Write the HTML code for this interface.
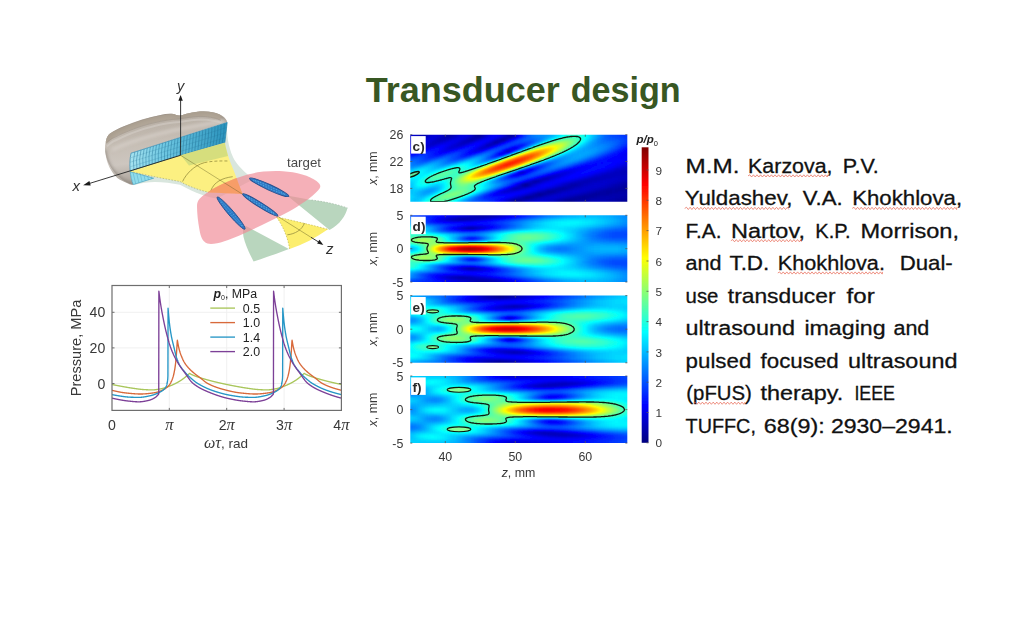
<!DOCTYPE html>
<html><head><meta charset="utf-8"><title>Transducer design</title>
<style>
html,body{margin:0;padding:0;background:#fff}
body{width:1024px;height:639px;overflow:hidden}
svg{display:block;font-family:"Liberation Sans",sans-serif}
</style></head><body>
<svg width="1024" height="639" viewBox="0 0 1024 639">
<rect width="1024" height="639" fill="#fff"/>
<text transform="translate(365.80 101.9) scale(1.0201 1)" font-size="35.3" font-weight="700" fill="#385723">Transducer</text><text transform="translate(570.70 101.9) scale(0.9671 1)" font-size="35.3" font-weight="700" fill="#385723">design</text>
<g font-size="14.1" fill="#383838" filter="url(#soft)">
<line x1="169.3" y1="285.5" x2="169.3" y2="410.4" stroke="#f0f0f0" stroke-width="1"/>
<line x1="226.7" y1="285.5" x2="226.7" y2="410.4" stroke="#f0f0f0" stroke-width="1"/>
<line x1="284.1" y1="285.5" x2="284.1" y2="410.4" stroke="#f0f0f0" stroke-width="1"/>
<line x1="112.0" y1="383.5" x2="341.4" y2="383.5" stroke="#f0f0f0" stroke-width="1"/>
<line x1="112.0" y1="347.9" x2="341.4" y2="347.9" stroke="#f0f0f0" stroke-width="1"/>
<line x1="112.0" y1="312.3" x2="341.4" y2="312.3" stroke="#f0f0f0" stroke-width="1"/>
<clipPath id="cc"><rect x="112.0" y="285.5" width="229.39999999999998" height="124.89999999999998"/></clipPath><g clip-path="url(#cc)" fill="none" stroke-width="1.35" stroke-linejoin="round">
<path d="M112.00 384.47 L112.14 384.50 L112.29 384.53 L112.43 384.56 L112.57 384.59 L112.72 384.62 L112.86 384.65 L113.00 384.68 L113.15 384.71 L113.29 384.74 L113.43 384.76 L113.58 384.79 L113.72 384.82 L113.86 384.85 L114.01 384.88 L114.15 384.91 L114.29 384.94 L114.44 384.97 L114.58 385.00 L114.72 385.03 L114.87 385.06 L115.01 385.09 L115.15 385.12 L115.30 385.14 L115.44 385.17 L115.58 385.20 L115.73 385.23 L115.87 385.26 L116.01 385.29 L116.16 385.32 L116.30 385.35 L116.44 385.37 L116.59 385.40 L116.73 385.43 L116.87 385.46 L117.02 385.49 L117.16 385.51 L117.30 385.54 L117.45 385.57 L117.59 385.60 L117.73 385.63 L117.88 385.65 L118.02 385.68 L118.17 385.71 L118.31 385.74 L118.45 385.76 L118.60 385.79 L118.74 385.82 L118.88 385.85 L119.03 385.87 L119.17 385.90 L119.31 385.93 L119.46 385.96 L119.60 385.98 L119.74 386.01 L119.89 386.04 L120.03 386.06 L120.17 386.09 L120.32 386.12 L120.46 386.14 L120.60 386.17 L120.75 386.20 L120.89 386.22 L121.03 386.25 L121.18 386.28 L121.32 386.30 L121.46 386.33 L121.61 386.36 L121.75 386.38 L121.89 386.41 L122.04 386.43 L122.18 386.46 L122.32 386.49 L122.47 386.51 L122.61 386.54 L122.75 386.57 L122.90 386.59 L123.04 386.62 L123.18 386.64 L123.33 386.67 L123.47 386.70 L123.61 386.72 L123.76 386.75 L123.90 386.77 L124.04 386.80 L124.19 386.83 L124.33 386.85 L124.47 386.88 L124.62 386.90 L124.76 386.93 L124.90 386.96 L125.05 386.98 L125.19 387.01 L125.33 387.03 L125.48 387.06 L125.62 387.08 L125.76 387.11 L125.91 387.13 L126.05 387.16 L126.19 387.18 L126.34 387.21 L126.48 387.23 L126.62 387.26 L126.77 387.28 L126.91 387.31 L127.05 387.33 L127.20 387.36 L127.34 387.38 L127.48 387.40 L127.63 387.43 L127.77 387.45 L127.91 387.48 L128.06 387.50 L128.20 387.53 L128.34 387.55 L128.49 387.57 L128.63 387.60 L128.77 387.62 L128.92 387.64 L129.06 387.67 L129.20 387.69 L129.35 387.71 L129.49 387.74 L129.64 387.76 L129.78 387.78 L129.92 387.80 L130.07 387.83 L130.21 387.85 L130.35 387.87 L130.50 387.89 L130.64 387.92 L130.78 387.94 L130.93 387.96 L131.07 387.98 L131.21 388.00 L131.36 388.02 L131.50 388.04 L131.64 388.07 L131.79 388.09 L131.93 388.11 L132.07 388.13 L132.22 388.15 L132.36 388.17 L132.50 388.19 L132.65 388.21 L132.79 388.23 L132.93 388.25 L133.08 388.27 L133.22 388.30 L133.36 388.32 L133.51 388.34 L133.65 388.36 L133.79 388.38 L133.94 388.40 L134.08 388.42 L134.22 388.44 L134.37 388.46 L134.51 388.49 L134.65 388.51 L134.80 388.53 L134.94 388.55 L135.08 388.57 L135.23 388.59 L135.37 388.61 L135.51 388.63 L135.66 388.66 L135.80 388.68 L135.94 388.70 L136.09 388.72 L136.23 388.74 L136.37 388.76 L136.52 388.78 L136.66 388.80 L136.80 388.82 L136.95 388.84 L137.09 388.86 L137.23 388.88 L137.38 388.90 L137.52 388.92 L137.66 388.94 L137.81 388.96 L137.95 388.98 L138.09 389.00 L138.24 389.02 L138.38 389.04 L138.52 389.05 L138.67 389.07 L138.81 389.09 L138.95 389.11 L139.10 389.13 L139.24 389.14 L139.38 389.16 L139.53 389.18 L139.67 389.20 L139.81 389.21 L139.96 389.23 L140.10 389.25 L140.24 389.26 L140.39 389.28 L140.53 389.29 L140.68 389.31 L140.82 389.32 L140.96 389.34 L141.11 389.35 L141.25 389.37 L141.39 389.38 L141.54 389.40 L141.68 389.41 L141.82 389.42 L141.97 389.43 L142.11 389.45 L142.25 389.46 L142.40 389.47 L142.54 389.48 L142.68 389.49 L142.83 389.50 L142.97 389.51 L143.11 389.52 L143.26 389.53 L143.40 389.54 L143.54 389.55 L143.69 389.56 L143.83 389.57 L143.97 389.58 L144.12 389.59 L144.26 389.60 L144.40 389.60 L144.55 389.61 L144.69 389.62 L144.83 389.63 L144.98 389.64 L145.12 389.65 L145.26 389.66 L145.41 389.66 L145.55 389.67 L145.69 389.68 L145.84 389.69 L145.98 389.70 L146.12 389.71 L146.27 389.71 L146.41 389.72 L146.55 389.73 L146.70 389.74 L146.84 389.74 L146.98 389.75 L147.13 389.76 L147.27 389.77 L147.41 389.77 L147.56 389.78 L147.70 389.79 L147.84 389.80 L147.99 389.80 L148.13 389.81 L148.27 389.81 L148.42 389.82 L148.56 389.83 L148.70 389.83 L148.85 389.84 L148.99 389.84 L149.13 389.85 L149.28 389.85 L149.42 389.86 L149.56 389.86 L149.71 389.87 L149.85 389.87 L149.99 389.88 L150.14 389.88 L150.28 389.88 L150.42 389.89 L150.57 389.89 L150.71 389.89 L150.85 389.90 L151.00 389.90 L151.14 389.90 L151.28 389.90 L151.43 389.90 L151.57 389.91 L151.71 389.91 L151.86 389.91 L152.00 389.91 L152.15 389.91 L152.29 389.91 L152.43 389.91 L152.58 389.90 L152.72 389.90 L152.86 389.90 L153.01 389.89 L153.15 389.89 L153.29 389.88 L153.44 389.87 L153.58 389.86 L153.72 389.86 L153.87 389.85 L154.01 389.84 L154.15 389.82 L154.30 389.81 L154.44 389.80 L154.58 389.79 L154.73 389.77 L154.87 389.76 L155.01 389.74 L155.16 389.73 L155.30 389.71 L155.44 389.70 L155.59 389.68 L155.73 389.66 L155.87 389.64 L156.02 389.62 L156.16 389.60 L156.30 389.58 L156.45 389.56 L156.59 389.54 L156.73 389.52 L156.88 389.50 L157.02 389.48 L157.16 389.46 L157.31 389.44 L157.45 389.41 L157.59 389.39 L157.74 389.37 L157.88 389.34 L158.02 389.32 L158.17 389.29 L158.31 389.27 L158.45 389.25 L158.60 389.22 L158.74 389.20 L158.88 389.17 L159.03 389.15 L159.17 389.12 L159.31 389.10 L159.46 389.07 L159.60 389.04 L159.74 389.02 L159.89 388.99 L160.03 388.97 L160.17 388.94 L160.32 388.92 L160.46 388.89 L160.60 388.87 L160.75 388.84 L160.89 388.81 L161.03 388.79 L161.18 388.76 L161.32 388.73 L161.46 388.70 L161.61 388.67 L161.75 388.64 L161.89 388.61 L162.04 388.57 L162.18 388.54 L162.32 388.50 L162.47 388.47 L162.61 388.43 L162.75 388.40 L162.90 388.36 L163.04 388.32 L163.18 388.28 L163.33 388.24 L163.47 388.20 L163.62 388.16 L163.76 388.12 L163.90 388.07 L164.05 388.03 L164.19 387.99 L164.33 387.94 L164.48 387.90 L164.62 387.85 L164.76 387.81 L164.91 387.76 L165.05 387.71 L165.19 387.67 L165.34 387.62 L165.48 387.57 L165.62 387.52 L165.77 387.47 L165.91 387.42 L166.05 387.37 L166.20 387.32 L166.34 387.27 L166.48 387.22 L166.63 387.17 L166.77 387.12 L166.91 387.07 L167.06 387.02 L167.20 386.96 L167.34 386.91 L167.49 386.86 L167.63 386.81 L167.77 386.75 L167.92 386.70 L168.06 386.65 L168.20 386.60 L168.35 386.54 L168.49 386.49 L168.63 386.44 L168.78 386.38 L168.92 386.33 L169.06 386.28 L169.21 386.22 L169.35 386.17 L169.49 386.12 L169.64 386.06 L169.78 386.01 L169.92 385.95 L170.07 385.90 L170.21 385.84 L170.35 385.79 L170.50 385.73 L170.64 385.67 L170.78 385.61 L170.93 385.56 L171.07 385.50 L171.21 385.44 L171.36 385.38 L171.50 385.32 L171.64 385.26 L171.79 385.20 L171.93 385.13 L172.07 385.07 L172.22 385.01 L172.36 384.95 L172.50 384.88 L172.65 384.82 L172.79 384.76 L172.93 384.69 L173.08 384.63 L173.22 384.56 L173.36 384.49 L173.51 384.43 L173.65 384.36 L173.79 384.29 L173.94 384.23 L174.08 384.16 L174.22 384.09 L174.37 384.02 L174.51 383.95 L174.65 383.88 L174.80 383.81 L174.94 383.74 L175.09 383.67 L175.23 383.60 L175.37 383.53 L175.52 383.45 L175.66 383.38 L175.80 383.31 L175.95 383.24 L176.09 383.16 L176.23 383.09 L176.38 383.01 L176.52 382.94 L176.66 382.86 L176.81 382.79 L176.95 382.71 L177.09 382.64 L177.24 382.56 L177.38 382.48 L177.52 382.40 L177.67 382.32 L177.81 382.24 L177.95 382.16 L178.10 382.08 L178.24 382.00 L178.38 381.91 L178.53 381.83 L178.67 381.74 L178.81 381.66 L178.96 381.57 L179.10 381.49 L179.24 381.40 L179.39 381.31 L179.53 381.22 L179.67 381.13 L179.82 381.04 L179.96 380.95 L180.10 380.86 L180.25 380.77 L180.39 380.68 L180.53 380.59 L180.68 380.49 L180.82 380.40 L180.96 380.30 L181.11 380.21 L181.25 380.11 L181.39 380.02 L181.54 379.92 L181.68 379.82 L181.82 379.73 L181.97 379.63 L182.11 379.53 L182.25 379.43 L182.40 379.33 L182.54 379.23 L182.68 379.13 L182.83 379.02 L182.97 378.92 L183.11 378.81 L183.26 378.71 L183.40 378.60 L183.54 378.49 L183.69 378.38 L183.83 378.27 L183.97 378.16 L184.12 378.05 L184.26 377.94 L184.40 377.82 L184.55 377.71 L184.69 377.59 L184.83 377.47 L184.98 377.36 L185.12 377.24 L185.26 377.12 L185.41 377.00 L185.55 376.88 L185.69 376.76 L185.84 376.64 L185.98 376.52 L186.12 376.39 L186.27 376.27 L186.41 376.15 L186.56 376.02 L186.70 375.90 L186.84 375.77 L186.99 375.65 L187.13 375.52 L187.27 375.39 L187.42 375.26 L187.56 375.13 L187.70 375.00 L187.85 374.87 L187.99 374.73 L188.13 374.60 L188.28 374.46 L188.42 374.33 L188.56 374.19 L188.71 374.05 L188.85 373.91 L188.99 373.78 L189.14 373.64 L189.28 373.50 L189.42 373.35 L189.57 373.44 L189.71 373.52 L189.85 373.61 L190.00 373.69 L190.14 373.77 L190.28 373.85 L190.43 373.93 L190.57 374.01 L190.71 374.09 L190.86 374.17 L191.00 374.24 L191.14 374.32 L191.29 374.39 L191.43 374.46 L191.57 374.53 L191.72 374.60 L191.86 374.67 L192.00 374.73 L192.15 374.80 L192.29 374.86 L192.43 374.93 L192.58 374.99 L192.72 375.05 L192.86 375.11 L193.01 375.18 L193.15 375.24 L193.29 375.29 L193.44 375.35 L193.58 375.41 L193.72 375.47 L193.87 375.53 L194.01 375.58 L194.15 375.64 L194.30 375.70 L194.44 375.75 L194.58 375.81 L194.73 375.86 L194.87 375.92 L195.01 375.97 L195.16 376.02 L195.30 376.08 L195.44 376.13 L195.59 376.18 L195.73 376.24 L195.87 376.29 L196.02 376.34 L196.16 376.40 L196.30 376.45 L196.45 376.50 L196.59 376.55 L196.73 376.60 L196.88 376.65 L197.02 376.70 L197.16 376.75 L197.31 376.80 L197.45 376.85 L197.59 376.90 L197.74 376.95 L197.88 377.00 L198.03 377.05 L198.17 377.10 L198.31 377.15 L198.46 377.20 L198.60 377.24 L198.74 377.29 L198.89 377.34 L199.03 377.39 L199.17 377.43 L199.32 377.48 L199.46 377.53 L199.60 377.57 L199.75 377.62 L199.89 377.67 L200.03 377.71 L200.18 377.76 L200.32 377.80 L200.46 377.85 L200.61 377.89 L200.75 377.94 L200.89 377.98 L201.04 378.03 L201.18 378.07 L201.32 378.12 L201.47 378.16 L201.61 378.20 L201.75 378.25 L201.90 378.29 L202.04 378.33 L202.18 378.38 L202.33 378.42 L202.47 378.46 L202.61 378.51 L202.76 378.55 L202.90 378.59 L203.04 378.64 L203.19 378.68 L203.33 378.72 L203.47 378.76 L203.62 378.81 L203.76 378.85 L203.90 378.89 L204.05 378.93 L204.19 378.97 L204.33 379.01 L204.48 379.06 L204.62 379.10 L204.76 379.14 L204.91 379.18 L205.05 379.22 L205.19 379.26 L205.34 379.30 L205.48 379.34 L205.62 379.38 L205.77 379.42 L205.91 379.46 L206.05 379.51 L206.20 379.55 L206.34 379.59 L206.48 379.63 L206.63 379.67 L206.77 379.71 L206.91 379.74 L207.06 379.78 L207.20 379.82 L207.34 379.86 L207.49 379.90 L207.63 379.94 L207.77 379.98 L207.92 380.02 L208.06 380.06 L208.20 380.10 L208.35 380.14 L208.49 380.17 L208.63 380.21 L208.78 380.25 L208.92 380.29 L209.06 380.33 L209.21 380.37 L209.35 380.40 L209.50 380.44 L209.64 380.48 L209.78 380.52 L209.93 380.56 L210.07 380.59 L210.21 380.63 L210.36 380.67 L210.50 380.71 L210.64 380.74 L210.79 380.78 L210.93 380.82 L211.07 380.86 L211.22 380.89 L211.36 380.93 L211.50 380.97 L211.65 381.00 L211.79 381.04 L211.93 381.08 L212.08 381.11 L212.22 381.15 L212.36 381.19 L212.51 381.22 L212.65 381.26 L212.79 381.29 L212.94 381.33 L213.08 381.37 L213.22 381.40 L213.37 381.44 L213.51 381.47 L213.65 381.51 L213.80 381.55 L213.94 381.58 L214.08 381.62 L214.23 381.65 L214.37 381.69 L214.51 381.72 L214.66 381.76 L214.80 381.79 L214.94 381.83 L215.09 381.86 L215.23 381.90 L215.37 381.93 L215.52 381.97 L215.66 382.00 L215.80 382.03 L215.95 382.07 L216.09 382.10 L216.23 382.14 L216.38 382.17 L216.52 382.21 L216.66 382.24 L216.81 382.27 L216.95 382.31 L217.09 382.34 L217.24 382.37 L217.38 382.41 L217.52 382.44 L217.67 382.48 L217.81 382.51 L217.95 382.54 L218.10 382.58 L218.24 382.61 L218.38 382.64 L218.53 382.67 L218.67 382.71 L218.81 382.74 L218.96 382.77 L219.10 382.81 L219.24 382.84 L219.39 382.87 L219.53 382.90 L219.67 382.94 L219.82 382.97 L219.96 383.00 L220.10 383.03 L220.25 383.07 L220.39 383.10 L220.53 383.13 L220.68 383.16 L220.82 383.19 L220.97 383.23 L221.11 383.26 L221.25 383.29 L221.40 383.32 L221.54 383.35 L221.68 383.39 L221.83 383.42 L221.97 383.45 L222.11 383.48 L222.26 383.51 L222.40 383.54 L222.54 383.58 L222.69 383.61 L222.83 383.64 L222.97 383.67 L223.12 383.70 L223.26 383.73 L223.40 383.76 L223.55 383.79 L223.69 383.82 L223.83 383.86 L223.98 383.89 L224.12 383.92 L224.26 383.95 L224.41 383.98 L224.55 384.01 L224.69 384.04 L224.84 384.07 L224.98 384.10 L225.12 384.13 L225.27 384.16 L225.41 384.19 L225.55 384.22 L225.70 384.26 L225.84 384.29 L225.98 384.32 L226.13 384.35 L226.27 384.38 L226.41 384.41 L226.56 384.44 L226.70 384.47 L226.84 384.50 L226.99 384.53 L227.13 384.56 L227.27 384.59 L227.42 384.62 L227.56 384.65 L227.70 384.68 L227.85 384.71 L227.99 384.74 L228.13 384.76 L228.28 384.79 L228.42 384.82 L228.56 384.85 L228.71 384.88 L228.85 384.91 L228.99 384.94 L229.14 384.97 L229.28 385.00 L229.42 385.03 L229.57 385.06 L229.71 385.09 L229.85 385.12 L230.00 385.14 L230.14 385.17 L230.28 385.20 L230.43 385.23 L230.57 385.26 L230.71 385.29 L230.86 385.32 L231.00 385.35 L231.14 385.37 L231.29 385.40 L231.43 385.43 L231.57 385.46 L231.72 385.49 L231.86 385.51 L232.00 385.54 L232.15 385.57 L232.29 385.60 L232.44 385.63 L232.58 385.65 L232.72 385.68 L232.87 385.71 L233.01 385.74 L233.15 385.76 L233.30 385.79 L233.44 385.82 L233.58 385.85 L233.73 385.87 L233.87 385.90 L234.01 385.93 L234.16 385.96 L234.30 385.98 L234.44 386.01 L234.59 386.04 L234.73 386.06 L234.87 386.09 L235.02 386.12 L235.16 386.14 L235.30 386.17 L235.45 386.20 L235.59 386.22 L235.73 386.25 L235.88 386.28 L236.02 386.30 L236.16 386.33 L236.31 386.36 L236.45 386.38 L236.59 386.41 L236.74 386.43 L236.88 386.46 L237.02 386.49 L237.17 386.51 L237.31 386.54 L237.45 386.57 L237.60 386.59 L237.74 386.62 L237.88 386.64 L238.03 386.67 L238.17 386.70 L238.31 386.72 L238.46 386.75 L238.60 386.77 L238.74 386.80 L238.89 386.83 L239.03 386.85 L239.17 386.88 L239.32 386.90 L239.46 386.93 L239.60 386.96 L239.75 386.98 L239.89 387.01 L240.03 387.03 L240.18 387.06 L240.32 387.08 L240.46 387.11 L240.61 387.13 L240.75 387.16 L240.89 387.18 L241.04 387.21 L241.18 387.23 L241.32 387.26 L241.47 387.28 L241.61 387.31 L241.75 387.33 L241.90 387.36 L242.04 387.38 L242.18 387.40 L242.33 387.43 L242.47 387.45 L242.61 387.48 L242.76 387.50 L242.90 387.53 L243.04 387.55 L243.19 387.57 L243.33 387.60 L243.47 387.62 L243.62 387.64 L243.76 387.67 L243.91 387.69 L244.05 387.71 L244.19 387.74 L244.34 387.76 L244.48 387.78 L244.62 387.80 L244.77 387.83 L244.91 387.85 L245.05 387.87 L245.20 387.89 L245.34 387.92 L245.48 387.94 L245.63 387.96 L245.77 387.98 L245.91 388.00 L246.06 388.02 L246.20 388.04 L246.34 388.07 L246.49 388.09 L246.63 388.11 L246.77 388.13 L246.92 388.15 L247.06 388.17 L247.20 388.19 L247.35 388.21 L247.49 388.23 L247.63 388.25 L247.78 388.27 L247.92 388.30 L248.06 388.32 L248.21 388.34 L248.35 388.36 L248.49 388.38 L248.64 388.40 L248.78 388.42 L248.92 388.44 L249.07 388.46 L249.21 388.49 L249.35 388.51 L249.50 388.53 L249.64 388.55 L249.78 388.57 L249.93 388.59 L250.07 388.61 L250.21 388.63 L250.36 388.66 L250.50 388.68 L250.64 388.70 L250.79 388.72 L250.93 388.74 L251.07 388.76 L251.22 388.78 L251.36 388.80 L251.50 388.82 L251.65 388.84 L251.79 388.86 L251.93 388.88 L252.08 388.90 L252.22 388.92 L252.36 388.94 L252.51 388.96 L252.65 388.98 L252.79 389.00 L252.94 389.02 L253.08 389.04 L253.22 389.05 L253.37 389.07 L253.51 389.09 L253.65 389.11 L253.80 389.13 L253.94 389.14 L254.08 389.16 L254.23 389.18 L254.37 389.20 L254.51 389.21 L254.66 389.23 L254.80 389.25 L254.94 389.26 L255.09 389.28 L255.23 389.29 L255.38 389.31 L255.52 389.32 L255.66 389.34 L255.81 389.35 L255.95 389.37 L256.09 389.38 L256.24 389.40 L256.38 389.41 L256.52 389.42 L256.67 389.43 L256.81 389.45 L256.95 389.46 L257.10 389.47 L257.24 389.48 L257.38 389.49 L257.53 389.50 L257.67 389.51 L257.81 389.52 L257.96 389.53 L258.10 389.54 L258.24 389.55 L258.39 389.56 L258.53 389.57 L258.67 389.58 L258.82 389.59 L258.96 389.60 L259.10 389.60 L259.25 389.61 L259.39 389.62 L259.53 389.63 L259.68 389.64 L259.82 389.65 L259.96 389.66 L260.11 389.66 L260.25 389.67 L260.39 389.68 L260.54 389.69 L260.68 389.70 L260.82 389.71 L260.97 389.71 L261.11 389.72 L261.25 389.73 L261.40 389.74 L261.54 389.74 L261.68 389.75 L261.83 389.76 L261.97 389.77 L262.11 389.77 L262.26 389.78 L262.40 389.79 L262.54 389.80 L262.69 389.80 L262.83 389.81 L262.97 389.81 L263.12 389.82 L263.26 389.83 L263.40 389.83 L263.55 389.84 L263.69 389.84 L263.83 389.85 L263.98 389.85 L264.12 389.86 L264.26 389.86 L264.41 389.87 L264.55 389.87 L264.69 389.88 L264.84 389.88 L264.98 389.88 L265.12 389.89 L265.27 389.89 L265.41 389.89 L265.55 389.90 L265.70 389.90 L265.84 389.90 L265.98 389.90 L266.13 389.90 L266.27 389.91 L266.41 389.91 L266.56 389.91 L266.70 389.91 L266.85 389.91 L266.99 389.91 L267.13 389.91 L267.28 389.90 L267.42 389.90 L267.56 389.90 L267.71 389.89 L267.85 389.89 L267.99 389.88 L268.14 389.87 L268.28 389.86 L268.42 389.86 L268.57 389.85 L268.71 389.84 L268.85 389.82 L269.00 389.81 L269.14 389.80 L269.28 389.79 L269.43 389.77 L269.57 389.76 L269.71 389.74 L269.86 389.73 L270.00 389.71 L270.14 389.70 L270.29 389.68 L270.43 389.66 L270.57 389.64 L270.72 389.62 L270.86 389.60 L271.00 389.58 L271.15 389.56 L271.29 389.54 L271.43 389.52 L271.58 389.50 L271.72 389.48 L271.86 389.46 L272.01 389.44 L272.15 389.41 L272.29 389.39 L272.44 389.37 L272.58 389.34 L272.72 389.32 L272.87 389.29 L273.01 389.27 L273.15 389.25 L273.30 389.22 L273.44 389.20 L273.58 389.17 L273.73 389.15 L273.87 389.12 L274.01 389.10 L274.16 389.07 L274.30 389.04 L274.44 389.02 L274.59 388.99 L274.73 388.97 L274.87 388.94 L275.02 388.92 L275.16 388.89 L275.30 388.87 L275.45 388.84 L275.59 388.81 L275.73 388.79 L275.88 388.76 L276.02 388.73 L276.16 388.70 L276.31 388.67 L276.45 388.64 L276.59 388.61 L276.74 388.57 L276.88 388.54 L277.02 388.50 L277.17 388.47 L277.31 388.43 L277.45 388.40 L277.60 388.36 L277.74 388.32 L277.88 388.28 L278.03 388.24 L278.17 388.20 L278.31 388.16 L278.46 388.12 L278.60 388.07 L278.75 388.03 L278.89 387.99 L279.03 387.94 L279.18 387.90 L279.32 387.85 L279.46 387.81 L279.61 387.76 L279.75 387.71 L279.89 387.67 L280.04 387.62 L280.18 387.57 L280.32 387.52 L280.47 387.47 L280.61 387.42 L280.75 387.37 L280.90 387.32 L281.04 387.27 L281.18 387.22 L281.33 387.17 L281.47 387.12 L281.61 387.07 L281.76 387.02 L281.90 386.96 L282.04 386.91 L282.19 386.86 L282.33 386.81 L282.47 386.75 L282.62 386.70 L282.76 386.65 L282.90 386.60 L283.05 386.54 L283.19 386.49 L283.33 386.44 L283.48 386.38 L283.62 386.33 L283.76 386.28 L283.91 386.22 L284.05 386.17 L284.19 386.12 L284.34 386.06 L284.48 386.01 L284.62 385.95 L284.77 385.90 L284.91 385.84 L285.05 385.79 L285.20 385.73 L285.34 385.67 L285.48 385.61 L285.63 385.56 L285.77 385.50 L285.91 385.44 L286.06 385.38 L286.20 385.32 L286.34 385.26 L286.49 385.20 L286.63 385.13 L286.77 385.07 L286.92 385.01 L287.06 384.95 L287.20 384.88 L287.35 384.82 L287.49 384.76 L287.63 384.69 L287.78 384.63 L287.92 384.56 L288.06 384.49 L288.21 384.43 L288.35 384.36 L288.49 384.29 L288.64 384.23 L288.78 384.16 L288.92 384.09 L289.07 384.02 L289.21 383.95 L289.35 383.88 L289.50 383.81 L289.64 383.74 L289.78 383.67 L289.93 383.60 L290.07 383.53 L290.22 383.45 L290.36 383.38 L290.50 383.31 L290.65 383.24 L290.79 383.16 L290.93 383.09 L291.08 383.01 L291.22 382.94 L291.36 382.86 L291.51 382.79 L291.65 382.71 L291.79 382.64 L291.94 382.56 L292.08 382.48 L292.22 382.40 L292.37 382.32 L292.51 382.24 L292.65 382.16 L292.80 382.08 L292.94 382.00 L293.08 381.91 L293.23 381.83 L293.37 381.74 L293.51 381.66 L293.66 381.57 L293.80 381.49 L293.94 381.40 L294.09 381.31 L294.23 381.22 L294.37 381.13 L294.52 381.04 L294.66 380.95 L294.80 380.86 L294.95 380.77 L295.09 380.68 L295.23 380.59 L295.38 380.49 L295.52 380.40 L295.66 380.30 L295.81 380.21 L295.95 380.11 L296.09 380.02 L296.24 379.92 L296.38 379.82 L296.52 379.73 L296.67 379.63 L296.81 379.53 L296.95 379.43 L297.10 379.33 L297.24 379.23 L297.38 379.13 L297.53 379.02 L297.67 378.92 L297.81 378.81 L297.96 378.71 L298.10 378.60 L298.24 378.49 L298.39 378.38 L298.53 378.27 L298.67 378.16 L298.82 378.05 L298.96 377.94 L299.10 377.82 L299.25 377.71 L299.39 377.59 L299.53 377.47 L299.68 377.36 L299.82 377.24 L299.96 377.12 L300.11 377.00 L300.25 376.88 L300.39 376.76 L300.54 376.64 L300.68 376.52 L300.82 376.39 L300.97 376.27 L301.11 376.15 L301.25 376.02 L301.40 375.90 L301.54 375.77 L301.69 375.65 L301.83 375.52 L301.97 375.39 L302.12 375.26 L302.26 375.13 L302.40 375.00 L302.55 374.87 L302.69 374.73 L302.83 374.60 L302.98 374.46 L303.12 374.33 L303.26 374.19 L303.41 374.05 L303.55 373.91 L303.69 373.78 L303.84 373.64 L303.98 373.50 L304.12 373.35 L304.27 373.44 L304.41 373.52 L304.55 373.61 L304.70 373.69 L304.84 373.77 L304.98 373.85 L305.13 373.93 L305.27 374.01 L305.41 374.09 L305.56 374.17 L305.70 374.24 L305.84 374.32 L305.99 374.39 L306.13 374.46 L306.27 374.53 L306.42 374.60 L306.56 374.67 L306.70 374.73 L306.85 374.80 L306.99 374.86 L307.13 374.93 L307.28 374.99 L307.42 375.05 L307.56 375.11 L307.71 375.18 L307.85 375.24 L307.99 375.29 L308.14 375.35 L308.28 375.41 L308.42 375.47 L308.57 375.53 L308.71 375.58 L308.85 375.64 L309.00 375.70 L309.14 375.75 L309.28 375.81 L309.43 375.86 L309.57 375.92 L309.71 375.97 L309.86 376.02 L310.00 376.08 L310.14 376.13 L310.29 376.18 L310.43 376.24 L310.57 376.29 L310.72 376.34 L310.86 376.40 L311.00 376.45 L311.15 376.50 L311.29 376.55 L311.43 376.60 L311.58 376.65 L311.72 376.70 L311.86 376.75 L312.01 376.80 L312.15 376.85 L312.29 376.90 L312.44 376.95 L312.58 377.00 L312.73 377.05 L312.87 377.10 L313.01 377.15 L313.16 377.20 L313.30 377.24 L313.44 377.29 L313.59 377.34 L313.73 377.39 L313.87 377.43 L314.02 377.48 L314.16 377.53 L314.30 377.57 L314.45 377.62 L314.59 377.67 L314.73 377.71 L314.88 377.76 L315.02 377.80 L315.16 377.85 L315.31 377.89 L315.45 377.94 L315.59 377.98 L315.74 378.03 L315.88 378.07 L316.02 378.12 L316.17 378.16 L316.31 378.20 L316.45 378.25 L316.60 378.29 L316.74 378.33 L316.88 378.38 L317.03 378.42 L317.17 378.46 L317.31 378.51 L317.46 378.55 L317.60 378.59 L317.74 378.64 L317.89 378.68 L318.03 378.72 L318.17 378.76 L318.32 378.81 L318.46 378.85 L318.60 378.89 L318.75 378.93 L318.89 378.97 L319.03 379.01 L319.18 379.06 L319.32 379.10 L319.46 379.14 L319.61 379.18 L319.75 379.22 L319.89 379.26 L320.04 379.30 L320.18 379.34 L320.32 379.38 L320.47 379.42 L320.61 379.46 L320.75 379.51 L320.90 379.55 L321.04 379.59 L321.18 379.63 L321.33 379.67 L321.47 379.71 L321.61 379.74 L321.76 379.78 L321.90 379.82 L322.04 379.86 L322.19 379.90 L322.33 379.94 L322.47 379.98 L322.62 380.02 L322.76 380.06 L322.90 380.10 L323.05 380.14 L323.19 380.17 L323.33 380.21 L323.48 380.25 L323.62 380.29 L323.76 380.33 L323.91 380.37 L324.05 380.40 L324.20 380.44 L324.34 380.48 L324.48 380.52 L324.63 380.56 L324.77 380.59 L324.91 380.63 L325.06 380.67 L325.20 380.71 L325.34 380.74 L325.49 380.78 L325.63 380.82 L325.77 380.86 L325.92 380.89 L326.06 380.93 L326.20 380.97 L326.35 381.00 L326.49 381.04 L326.63 381.08 L326.78 381.11 L326.92 381.15 L327.06 381.19 L327.21 381.22 L327.35 381.26 L327.49 381.29 L327.64 381.33 L327.78 381.37 L327.92 381.40 L328.07 381.44 L328.21 381.47 L328.35 381.51 L328.50 381.55 L328.64 381.58 L328.78 381.62 L328.93 381.65 L329.07 381.69 L329.21 381.72 L329.36 381.76 L329.50 381.79 L329.64 381.83 L329.79 381.86 L329.93 381.90 L330.07 381.93 L330.22 381.97 L330.36 382.00 L330.50 382.03 L330.65 382.07 L330.79 382.10 L330.93 382.14 L331.08 382.17 L331.22 382.21 L331.36 382.24 L331.51 382.27 L331.65 382.31 L331.79 382.34 L331.94 382.37 L332.08 382.41 L332.22 382.44 L332.37 382.48 L332.51 382.51 L332.65 382.54 L332.80 382.58 L332.94 382.61 L333.08 382.64 L333.23 382.67 L333.37 382.71 L333.51 382.74 L333.66 382.77 L333.80 382.81 L333.94 382.84 L334.09 382.87 L334.23 382.90 L334.37 382.94 L334.52 382.97 L334.66 383.00 L334.80 383.03 L334.95 383.07 L335.09 383.10 L335.23 383.13 L335.38 383.16 L335.52 383.19 L335.66 383.23 L335.81 383.26 L335.95 383.29 L336.10 383.32 L336.24 383.35 L336.38 383.39 L336.53 383.42 L336.67 383.45 L336.81 383.48 L336.96 383.51 L337.10 383.54 L337.24 383.58 L337.39 383.61 L337.53 383.64 L337.67 383.67 L337.82 383.70 L337.96 383.73 L338.10 383.76 L338.25 383.79 L338.39 383.82 L338.53 383.86 L338.68 383.89 L338.82 383.92 L338.96 383.95 L339.11 383.98 L339.25 384.01 L339.39 384.04 L339.54 384.07 L339.68 384.10 L339.82 384.13 L339.97 384.16 L340.11 384.19 L340.25 384.22 L340.40 384.26 L340.54 384.29 L340.68 384.32 L340.83 384.35 L340.97 384.38 L341.11 384.41 L341.26 384.44 L341.40 384.47" stroke="#a9c65b"/>
<path d="M112.00 390.29 L112.14 390.33 L112.29 390.37 L112.43 390.40 L112.57 390.44 L112.72 390.48 L112.86 390.51 L113.00 390.55 L113.15 390.58 L113.29 390.62 L113.43 390.65 L113.58 390.69 L113.72 390.72 L113.86 390.76 L114.01 390.79 L114.15 390.83 L114.29 390.86 L114.44 390.90 L114.58 390.93 L114.72 390.97 L114.87 391.00 L115.01 391.03 L115.15 391.07 L115.30 391.10 L115.44 391.13 L115.58 391.17 L115.73 391.20 L115.87 391.23 L116.01 391.26 L116.16 391.30 L116.30 391.33 L116.44 391.36 L116.59 391.39 L116.73 391.43 L116.87 391.46 L117.02 391.49 L117.16 391.52 L117.30 391.55 L117.45 391.58 L117.59 391.61 L117.73 391.64 L117.88 391.67 L118.02 391.70 L118.17 391.73 L118.31 391.76 L118.45 391.79 L118.60 391.82 L118.74 391.85 L118.88 391.88 L119.03 391.90 L119.17 391.93 L119.31 391.96 L119.46 391.99 L119.60 392.02 L119.74 392.04 L119.89 392.07 L120.03 392.10 L120.17 392.12 L120.32 392.15 L120.46 392.18 L120.60 392.20 L120.75 392.23 L120.89 392.25 L121.03 392.28 L121.18 392.30 L121.32 392.33 L121.46 392.35 L121.61 392.37 L121.75 392.40 L121.89 392.42 L122.04 392.44 L122.18 392.47 L122.32 392.49 L122.47 392.51 L122.61 392.53 L122.75 392.56 L122.90 392.58 L123.04 392.60 L123.18 392.62 L123.33 392.64 L123.47 392.66 L123.61 392.68 L123.76 392.70 L123.90 392.72 L124.04 392.74 L124.19 392.76 L124.33 392.77 L124.47 392.79 L124.62 392.81 L124.76 392.83 L124.90 392.84 L125.05 392.86 L125.19 392.88 L125.33 392.89 L125.48 392.91 L125.62 392.92 L125.76 392.94 L125.91 392.96 L126.05 392.97 L126.19 392.99 L126.34 393.00 L126.48 393.02 L126.62 393.03 L126.77 393.05 L126.91 393.06 L127.05 393.08 L127.20 393.09 L127.34 393.11 L127.48 393.12 L127.63 393.14 L127.77 393.15 L127.91 393.17 L128.06 393.18 L128.20 393.20 L128.34 393.21 L128.49 393.23 L128.63 393.24 L128.77 393.25 L128.92 393.27 L129.06 393.28 L129.20 393.30 L129.35 393.31 L129.49 393.33 L129.64 393.34 L129.78 393.36 L129.92 393.37 L130.07 393.38 L130.21 393.40 L130.35 393.41 L130.50 393.43 L130.64 393.44 L130.78 393.45 L130.93 393.47 L131.07 393.48 L131.21 393.49 L131.36 393.51 L131.50 393.52 L131.64 393.53 L131.79 393.55 L131.93 393.56 L132.07 393.57 L132.22 393.58 L132.36 393.60 L132.50 393.61 L132.65 393.62 L132.79 393.63 L132.93 393.65 L133.08 393.66 L133.22 393.67 L133.36 393.68 L133.51 393.69 L133.65 393.70 L133.79 393.71 L133.94 393.72 L134.08 393.74 L134.22 393.75 L134.37 393.76 L134.51 393.77 L134.65 393.78 L134.80 393.79 L134.94 393.80 L135.08 393.81 L135.23 393.82 L135.37 393.82 L135.51 393.83 L135.66 393.84 L135.80 393.85 L135.94 393.86 L136.09 393.87 L136.23 393.87 L136.37 393.88 L136.52 393.89 L136.66 393.90 L136.80 393.90 L136.95 393.91 L137.09 393.92 L137.23 393.92 L137.38 393.93 L137.52 393.94 L137.66 393.94 L137.81 393.95 L137.95 393.95 L138.09 393.96 L138.24 393.96 L138.38 393.97 L138.52 393.97 L138.67 393.98 L138.81 393.98 L138.95 393.98 L139.10 393.99 L139.24 393.99 L139.38 393.99 L139.53 393.99 L139.67 394.00 L139.81 394.00 L139.96 394.00 L140.10 394.00 L140.24 394.00 L140.39 394.00 L140.53 394.00 L140.68 394.00 L140.82 394.00 L140.96 394.00 L141.11 394.00 L141.25 394.00 L141.39 394.00 L141.54 393.99 L141.68 393.99 L141.82 393.99 L141.97 393.99 L142.11 393.98 L142.25 393.98 L142.40 393.97 L142.54 393.97 L142.68 393.97 L142.83 393.96 L142.97 393.95 L143.11 393.95 L143.26 393.94 L143.40 393.94 L143.54 393.93 L143.69 393.92 L143.83 393.92 L143.97 393.91 L144.12 393.90 L144.26 393.89 L144.40 393.88 L144.55 393.87 L144.69 393.87 L144.83 393.86 L144.98 393.85 L145.12 393.84 L145.26 393.83 L145.41 393.82 L145.55 393.81 L145.69 393.79 L145.84 393.78 L145.98 393.77 L146.12 393.76 L146.27 393.75 L146.41 393.74 L146.55 393.72 L146.70 393.71 L146.84 393.70 L146.98 393.68 L147.13 393.67 L147.27 393.66 L147.41 393.64 L147.56 393.63 L147.70 393.61 L147.84 393.60 L147.99 393.59 L148.13 393.57 L148.27 393.56 L148.42 393.54 L148.56 393.52 L148.70 393.51 L148.85 393.49 L148.99 393.48 L149.13 393.46 L149.28 393.44 L149.42 393.43 L149.56 393.41 L149.71 393.39 L149.85 393.38 L149.99 393.36 L150.14 393.34 L150.28 393.32 L150.42 393.30 L150.57 393.29 L150.71 393.27 L150.85 393.25 L151.00 393.23 L151.14 393.21 L151.28 393.19 L151.43 393.17 L151.57 393.16 L151.71 393.14 L151.86 393.12 L152.00 393.10 L152.15 393.08 L152.29 393.06 L152.43 393.04 L152.58 393.02 L152.72 393.00 L152.86 392.98 L153.01 392.96 L153.15 392.94 L153.29 392.92 L153.44 392.89 L153.58 392.87 L153.72 392.85 L153.87 392.83 L154.01 392.81 L154.15 392.79 L154.30 392.77 L154.44 392.75 L154.58 392.73 L154.73 392.70 L154.87 392.68 L155.01 392.65 L155.16 392.63 L155.30 392.60 L155.44 392.57 L155.59 392.54 L155.73 392.51 L155.87 392.48 L156.02 392.45 L156.16 392.41 L156.30 392.38 L156.45 392.34 L156.59 392.31 L156.73 392.27 L156.88 392.23 L157.02 392.19 L157.16 392.15 L157.31 392.11 L157.45 392.07 L157.59 392.03 L157.74 391.98 L157.88 391.94 L158.02 391.90 L158.17 391.85 L158.31 391.80 L158.45 391.76 L158.60 391.71 L158.74 391.66 L158.88 391.61 L159.03 391.56 L159.17 391.51 L159.31 391.46 L159.46 391.40 L159.60 391.35 L159.74 391.29 L159.89 391.24 L160.03 391.18 L160.17 391.13 L160.32 391.07 L160.46 391.01 L160.60 390.96 L160.75 390.90 L160.89 390.84 L161.03 390.78 L161.18 390.72 L161.32 390.66 L161.46 390.60 L161.61 390.53 L161.75 390.47 L161.89 390.41 L162.04 390.34 L162.18 390.28 L162.32 390.21 L162.47 390.15 L162.61 390.08 L162.75 390.02 L162.90 389.95 L163.04 389.88 L163.18 389.81 L163.33 389.74 L163.47 389.67 L163.62 389.60 L163.76 389.52 L163.90 389.44 L164.05 389.37 L164.19 389.28 L164.33 389.20 L164.48 389.12 L164.62 389.03 L164.76 388.94 L164.91 388.85 L165.05 388.76 L165.19 388.67 L165.34 388.57 L165.48 388.48 L165.62 388.38 L165.77 388.27 L165.91 388.17 L166.05 388.06 L166.20 387.95 L166.34 387.84 L166.48 387.73 L166.63 387.61 L166.77 387.50 L166.91 387.38 L167.06 387.25 L167.20 387.13 L167.34 387.00 L167.49 386.87 L167.63 386.74 L167.77 386.60 L167.92 386.46 L168.06 386.32 L168.20 386.18 L168.35 386.03 L168.49 385.88 L168.63 385.73 L168.78 385.57 L168.92 385.41 L169.06 385.24 L169.21 385.06 L169.35 384.88 L169.49 384.68 L169.64 384.48 L169.78 384.27 L169.92 384.05 L170.07 383.82 L170.21 383.59 L170.35 383.35 L170.50 383.10 L170.64 382.84 L170.78 382.57 L170.93 382.29 L171.07 382.01 L171.21 381.72 L171.36 381.42 L171.50 381.11 L171.64 380.79 L171.79 380.47 L171.93 380.13 L172.07 379.79 L172.22 379.44 L172.36 379.07 L172.50 378.68 L172.65 378.27 L172.79 377.83 L172.93 377.37 L173.08 376.89 L173.22 376.39 L173.36 375.86 L173.51 375.31 L173.65 374.73 L173.79 374.13 L173.94 373.50 L174.08 372.85 L174.22 372.18 L174.37 371.47 L174.51 370.74 L174.65 369.95 L174.80 369.09 L174.94 368.16 L175.09 367.17 L175.23 366.11 L175.37 364.98 L175.52 363.78 L175.66 362.52 L175.80 361.19 L175.95 359.79 L176.09 358.24 L176.23 356.55 L176.38 354.73 L176.52 352.77 L176.66 350.70 L176.81 348.51 L176.95 346.23 L177.09 343.86 L177.24 341.40 L177.38 340.24 L177.52 341.09 L177.67 341.93 L177.81 342.76 L177.95 343.56 L178.10 344.34 L178.24 345.10 L178.38 345.83 L178.53 346.53 L178.67 347.20 L178.81 347.84 L178.96 348.45 L179.10 349.01 L179.24 349.56 L179.39 350.09 L179.53 350.60 L179.67 351.09 L179.82 351.56 L179.96 352.03 L180.10 352.48 L180.25 352.91 L180.39 353.34 L180.53 353.75 L180.68 354.15 L180.82 354.55 L180.96 354.93 L181.11 355.31 L181.25 355.69 L181.39 356.06 L181.54 356.42 L181.68 356.78 L181.82 357.14 L181.97 357.49 L182.11 357.83 L182.25 358.17 L182.40 358.51 L182.54 358.84 L182.68 359.16 L182.83 359.47 L182.97 359.78 L183.11 360.08 L183.26 360.38 L183.40 360.67 L183.54 360.95 L183.69 361.22 L183.83 361.49 L183.97 361.75 L184.12 361.99 L184.26 362.24 L184.40 362.47 L184.55 362.70 L184.69 362.93 L184.83 363.15 L184.98 363.37 L185.12 363.59 L185.26 363.80 L185.41 364.01 L185.55 364.22 L185.69 364.42 L185.84 364.62 L185.98 364.81 L186.12 365.01 L186.27 365.20 L186.41 365.38 L186.56 365.57 L186.70 365.75 L186.84 365.93 L186.99 366.11 L187.13 366.28 L187.27 366.46 L187.42 366.63 L187.56 366.80 L187.70 366.96 L187.85 367.13 L187.99 367.29 L188.13 367.46 L188.28 367.62 L188.42 367.78 L188.56 367.94 L188.71 368.10 L188.85 368.25 L188.99 368.41 L189.14 368.57 L189.28 368.72 L189.42 368.87 L189.57 369.02 L189.71 369.17 L189.85 369.31 L190.00 369.46 L190.14 369.60 L190.28 369.75 L190.43 369.89 L190.57 370.03 L190.71 370.17 L190.86 370.31 L191.00 370.44 L191.14 370.58 L191.29 370.71 L191.43 370.85 L191.57 370.98 L191.72 371.11 L191.86 371.24 L192.00 371.37 L192.15 371.50 L192.29 371.62 L192.43 371.75 L192.58 371.88 L192.72 372.00 L192.86 372.13 L193.01 372.25 L193.15 372.37 L193.29 372.50 L193.44 372.62 L193.58 372.74 L193.72 372.86 L193.87 372.98 L194.01 373.10 L194.15 373.22 L194.30 373.34 L194.44 373.46 L194.58 373.58 L194.73 373.70 L194.87 373.81 L195.01 373.93 L195.16 374.04 L195.30 374.16 L195.44 374.27 L195.59 374.38 L195.73 374.49 L195.87 374.60 L196.02 374.71 L196.16 374.82 L196.30 374.92 L196.45 375.03 L196.59 375.14 L196.73 375.24 L196.88 375.35 L197.02 375.45 L197.16 375.55 L197.31 375.66 L197.45 375.76 L197.59 375.87 L197.74 375.97 L197.88 376.07 L198.03 376.17 L198.17 376.28 L198.31 376.38 L198.46 376.48 L198.60 376.59 L198.74 376.69 L198.89 376.79 L199.03 376.90 L199.17 377.00 L199.32 377.10 L199.46 377.21 L199.60 377.31 L199.75 377.42 L199.89 377.53 L200.03 377.63 L200.18 377.74 L200.32 377.85 L200.46 377.96 L200.61 378.07 L200.75 378.18 L200.89 378.29 L201.04 378.41 L201.18 378.52 L201.32 378.64 L201.47 378.75 L201.61 378.87 L201.75 378.99 L201.90 379.11 L202.04 379.23 L202.18 379.35 L202.33 379.47 L202.47 379.59 L202.61 379.71 L202.76 379.83 L202.90 379.95 L203.04 380.07 L203.19 380.19 L203.33 380.31 L203.47 380.43 L203.62 380.55 L203.76 380.67 L203.90 380.79 L204.05 380.91 L204.19 381.03 L204.33 381.14 L204.48 381.26 L204.62 381.38 L204.76 381.49 L204.91 381.60 L205.05 381.72 L205.19 381.83 L205.34 381.94 L205.48 382.05 L205.62 382.15 L205.77 382.26 L205.91 382.36 L206.05 382.46 L206.20 382.56 L206.34 382.66 L206.48 382.76 L206.63 382.85 L206.77 382.95 L206.91 383.04 L207.06 383.13 L207.20 383.21 L207.34 383.29 L207.49 383.38 L207.63 383.45 L207.77 383.53 L207.92 383.61 L208.06 383.68 L208.20 383.75 L208.35 383.83 L208.49 383.90 L208.63 383.97 L208.78 384.05 L208.92 384.12 L209.06 384.19 L209.21 384.26 L209.35 384.33 L209.50 384.40 L209.64 384.47 L209.78 384.54 L209.93 384.61 L210.07 384.68 L210.21 384.74 L210.36 384.81 L210.50 384.88 L210.64 384.94 L210.79 385.01 L210.93 385.08 L211.07 385.14 L211.22 385.21 L211.36 385.27 L211.50 385.33 L211.65 385.40 L211.79 385.46 L211.93 385.52 L212.08 385.58 L212.22 385.65 L212.36 385.71 L212.51 385.77 L212.65 385.83 L212.79 385.89 L212.94 385.95 L213.08 386.01 L213.22 386.07 L213.37 386.13 L213.51 386.18 L213.65 386.24 L213.80 386.30 L213.94 386.36 L214.08 386.41 L214.23 386.47 L214.37 386.52 L214.51 386.58 L214.66 386.63 L214.80 386.69 L214.94 386.74 L215.09 386.80 L215.23 386.85 L215.37 386.91 L215.52 386.96 L215.66 387.01 L215.80 387.06 L215.95 387.12 L216.09 387.17 L216.23 387.22 L216.38 387.27 L216.52 387.32 L216.66 387.37 L216.81 387.42 L216.95 387.47 L217.09 387.52 L217.24 387.57 L217.38 387.62 L217.52 387.67 L217.67 387.71 L217.81 387.76 L217.95 387.81 L218.10 387.86 L218.24 387.90 L218.38 387.95 L218.53 388.00 L218.67 388.04 L218.81 388.09 L218.96 388.14 L219.10 388.18 L219.24 388.23 L219.39 388.27 L219.53 388.32 L219.67 388.36 L219.82 388.40 L219.96 388.45 L220.10 388.49 L220.25 388.53 L220.39 388.58 L220.53 388.62 L220.68 388.66 L220.82 388.70 L220.97 388.75 L221.11 388.79 L221.25 388.83 L221.40 388.87 L221.54 388.91 L221.68 388.95 L221.83 388.99 L221.97 389.03 L222.11 389.07 L222.26 389.11 L222.40 389.15 L222.54 389.19 L222.69 389.23 L222.83 389.27 L222.97 389.31 L223.12 389.35 L223.26 389.39 L223.40 389.43 L223.55 389.47 L223.69 389.50 L223.83 389.54 L223.98 389.58 L224.12 389.62 L224.26 389.66 L224.41 389.70 L224.55 389.73 L224.69 389.77 L224.84 389.81 L224.98 389.85 L225.12 389.89 L225.27 389.92 L225.41 389.96 L225.55 390.00 L225.70 390.04 L225.84 390.07 L225.98 390.11 L226.13 390.15 L226.27 390.18 L226.41 390.22 L226.56 390.26 L226.70 390.29 L226.84 390.33 L226.99 390.37 L227.13 390.40 L227.27 390.44 L227.42 390.48 L227.56 390.51 L227.70 390.55 L227.85 390.58 L227.99 390.62 L228.13 390.65 L228.28 390.69 L228.42 390.72 L228.56 390.76 L228.71 390.79 L228.85 390.83 L228.99 390.86 L229.14 390.90 L229.28 390.93 L229.42 390.97 L229.57 391.00 L229.71 391.03 L229.85 391.07 L230.00 391.10 L230.14 391.13 L230.28 391.17 L230.43 391.20 L230.57 391.23 L230.71 391.26 L230.86 391.30 L231.00 391.33 L231.14 391.36 L231.29 391.39 L231.43 391.43 L231.57 391.46 L231.72 391.49 L231.86 391.52 L232.00 391.55 L232.15 391.58 L232.29 391.61 L232.44 391.64 L232.58 391.67 L232.72 391.70 L232.87 391.73 L233.01 391.76 L233.15 391.79 L233.30 391.82 L233.44 391.85 L233.58 391.88 L233.73 391.90 L233.87 391.93 L234.01 391.96 L234.16 391.99 L234.30 392.02 L234.44 392.04 L234.59 392.07 L234.73 392.10 L234.87 392.12 L235.02 392.15 L235.16 392.18 L235.30 392.20 L235.45 392.23 L235.59 392.25 L235.73 392.28 L235.88 392.30 L236.02 392.33 L236.16 392.35 L236.31 392.37 L236.45 392.40 L236.59 392.42 L236.74 392.44 L236.88 392.47 L237.02 392.49 L237.17 392.51 L237.31 392.53 L237.45 392.56 L237.60 392.58 L237.74 392.60 L237.88 392.62 L238.03 392.64 L238.17 392.66 L238.31 392.68 L238.46 392.70 L238.60 392.72 L238.74 392.74 L238.89 392.76 L239.03 392.77 L239.17 392.79 L239.32 392.81 L239.46 392.83 L239.60 392.84 L239.75 392.86 L239.89 392.88 L240.03 392.89 L240.18 392.91 L240.32 392.92 L240.46 392.94 L240.61 392.96 L240.75 392.97 L240.89 392.99 L241.04 393.00 L241.18 393.02 L241.32 393.03 L241.47 393.05 L241.61 393.06 L241.75 393.08 L241.90 393.09 L242.04 393.11 L242.18 393.12 L242.33 393.14 L242.47 393.15 L242.61 393.17 L242.76 393.18 L242.90 393.20 L243.04 393.21 L243.19 393.23 L243.33 393.24 L243.47 393.25 L243.62 393.27 L243.76 393.28 L243.91 393.30 L244.05 393.31 L244.19 393.33 L244.34 393.34 L244.48 393.36 L244.62 393.37 L244.77 393.38 L244.91 393.40 L245.05 393.41 L245.20 393.43 L245.34 393.44 L245.48 393.45 L245.63 393.47 L245.77 393.48 L245.91 393.49 L246.06 393.51 L246.20 393.52 L246.34 393.53 L246.49 393.55 L246.63 393.56 L246.77 393.57 L246.92 393.58 L247.06 393.60 L247.20 393.61 L247.35 393.62 L247.49 393.63 L247.63 393.65 L247.78 393.66 L247.92 393.67 L248.06 393.68 L248.21 393.69 L248.35 393.70 L248.49 393.71 L248.64 393.72 L248.78 393.74 L248.92 393.75 L249.07 393.76 L249.21 393.77 L249.35 393.78 L249.50 393.79 L249.64 393.80 L249.78 393.81 L249.93 393.82 L250.07 393.82 L250.21 393.83 L250.36 393.84 L250.50 393.85 L250.64 393.86 L250.79 393.87 L250.93 393.87 L251.07 393.88 L251.22 393.89 L251.36 393.90 L251.50 393.90 L251.65 393.91 L251.79 393.92 L251.93 393.92 L252.08 393.93 L252.22 393.94 L252.36 393.94 L252.51 393.95 L252.65 393.95 L252.79 393.96 L252.94 393.96 L253.08 393.97 L253.22 393.97 L253.37 393.98 L253.51 393.98 L253.65 393.98 L253.80 393.99 L253.94 393.99 L254.08 393.99 L254.23 393.99 L254.37 394.00 L254.51 394.00 L254.66 394.00 L254.80 394.00 L254.94 394.00 L255.09 394.00 L255.23 394.00 L255.38 394.00 L255.52 394.00 L255.66 394.00 L255.81 394.00 L255.95 394.00 L256.09 394.00 L256.24 393.99 L256.38 393.99 L256.52 393.99 L256.67 393.99 L256.81 393.98 L256.95 393.98 L257.10 393.97 L257.24 393.97 L257.38 393.97 L257.53 393.96 L257.67 393.95 L257.81 393.95 L257.96 393.94 L258.10 393.94 L258.24 393.93 L258.39 393.92 L258.53 393.92 L258.67 393.91 L258.82 393.90 L258.96 393.89 L259.10 393.88 L259.25 393.87 L259.39 393.87 L259.53 393.86 L259.68 393.85 L259.82 393.84 L259.96 393.83 L260.11 393.82 L260.25 393.81 L260.39 393.79 L260.54 393.78 L260.68 393.77 L260.82 393.76 L260.97 393.75 L261.11 393.74 L261.25 393.72 L261.40 393.71 L261.54 393.70 L261.68 393.68 L261.83 393.67 L261.97 393.66 L262.11 393.64 L262.26 393.63 L262.40 393.61 L262.54 393.60 L262.69 393.59 L262.83 393.57 L262.97 393.56 L263.12 393.54 L263.26 393.52 L263.40 393.51 L263.55 393.49 L263.69 393.48 L263.83 393.46 L263.98 393.44 L264.12 393.43 L264.26 393.41 L264.41 393.39 L264.55 393.38 L264.69 393.36 L264.84 393.34 L264.98 393.32 L265.12 393.30 L265.27 393.29 L265.41 393.27 L265.55 393.25 L265.70 393.23 L265.84 393.21 L265.98 393.19 L266.13 393.17 L266.27 393.16 L266.41 393.14 L266.56 393.12 L266.70 393.10 L266.85 393.08 L266.99 393.06 L267.13 393.04 L267.28 393.02 L267.42 393.00 L267.56 392.98 L267.71 392.96 L267.85 392.94 L267.99 392.92 L268.14 392.89 L268.28 392.87 L268.42 392.85 L268.57 392.83 L268.71 392.81 L268.85 392.79 L269.00 392.77 L269.14 392.75 L269.28 392.73 L269.43 392.70 L269.57 392.68 L269.71 392.65 L269.86 392.63 L270.00 392.60 L270.14 392.57 L270.29 392.54 L270.43 392.51 L270.57 392.48 L270.72 392.45 L270.86 392.41 L271.00 392.38 L271.15 392.34 L271.29 392.31 L271.43 392.27 L271.58 392.23 L271.72 392.19 L271.86 392.15 L272.01 392.11 L272.15 392.07 L272.29 392.03 L272.44 391.98 L272.58 391.94 L272.72 391.90 L272.87 391.85 L273.01 391.80 L273.15 391.76 L273.30 391.71 L273.44 391.66 L273.58 391.61 L273.73 391.56 L273.87 391.51 L274.01 391.46 L274.16 391.40 L274.30 391.35 L274.44 391.29 L274.59 391.24 L274.73 391.18 L274.87 391.13 L275.02 391.07 L275.16 391.01 L275.30 390.96 L275.45 390.90 L275.59 390.84 L275.73 390.78 L275.88 390.72 L276.02 390.66 L276.16 390.60 L276.31 390.53 L276.45 390.47 L276.59 390.41 L276.74 390.34 L276.88 390.28 L277.02 390.21 L277.17 390.15 L277.31 390.08 L277.45 390.02 L277.60 389.95 L277.74 389.88 L277.88 389.81 L278.03 389.74 L278.17 389.67 L278.31 389.60 L278.46 389.52 L278.60 389.44 L278.75 389.37 L278.89 389.28 L279.03 389.20 L279.18 389.12 L279.32 389.03 L279.46 388.94 L279.61 388.85 L279.75 388.76 L279.89 388.67 L280.04 388.57 L280.18 388.48 L280.32 388.38 L280.47 388.27 L280.61 388.17 L280.75 388.06 L280.90 387.95 L281.04 387.84 L281.18 387.73 L281.33 387.61 L281.47 387.50 L281.61 387.38 L281.76 387.25 L281.90 387.13 L282.04 387.00 L282.19 386.87 L282.33 386.74 L282.47 386.60 L282.62 386.46 L282.76 386.32 L282.90 386.18 L283.05 386.03 L283.19 385.88 L283.33 385.73 L283.48 385.57 L283.62 385.41 L283.76 385.24 L283.91 385.06 L284.05 384.88 L284.19 384.68 L284.34 384.48 L284.48 384.27 L284.62 384.05 L284.77 383.82 L284.91 383.59 L285.05 383.35 L285.20 383.10 L285.34 382.84 L285.48 382.57 L285.63 382.29 L285.77 382.01 L285.91 381.72 L286.06 381.42 L286.20 381.11 L286.34 380.79 L286.49 380.47 L286.63 380.13 L286.77 379.79 L286.92 379.44 L287.06 379.07 L287.20 378.68 L287.35 378.27 L287.49 377.83 L287.63 377.37 L287.78 376.89 L287.92 376.39 L288.06 375.86 L288.21 375.31 L288.35 374.73 L288.49 374.13 L288.64 373.50 L288.78 372.85 L288.92 372.18 L289.07 371.47 L289.21 370.74 L289.35 369.95 L289.50 369.09 L289.64 368.16 L289.78 367.17 L289.93 366.11 L290.07 364.98 L290.22 363.78 L290.36 362.52 L290.50 361.19 L290.65 359.79 L290.79 358.24 L290.93 356.55 L291.08 354.73 L291.22 352.77 L291.36 350.70 L291.51 348.51 L291.65 346.23 L291.79 343.86 L291.94 341.40 L292.08 340.24 L292.22 341.09 L292.37 341.93 L292.51 342.76 L292.65 343.56 L292.80 344.34 L292.94 345.10 L293.08 345.83 L293.23 346.53 L293.37 347.20 L293.51 347.84 L293.66 348.45 L293.80 349.01 L293.94 349.56 L294.09 350.09 L294.23 350.60 L294.37 351.09 L294.52 351.56 L294.66 352.03 L294.80 352.48 L294.95 352.91 L295.09 353.34 L295.23 353.75 L295.38 354.15 L295.52 354.55 L295.66 354.93 L295.81 355.31 L295.95 355.69 L296.09 356.06 L296.24 356.42 L296.38 356.78 L296.52 357.14 L296.67 357.49 L296.81 357.83 L296.95 358.17 L297.10 358.51 L297.24 358.84 L297.38 359.16 L297.53 359.47 L297.67 359.78 L297.81 360.08 L297.96 360.38 L298.10 360.67 L298.24 360.95 L298.39 361.22 L298.53 361.49 L298.67 361.75 L298.82 361.99 L298.96 362.24 L299.10 362.47 L299.25 362.70 L299.39 362.93 L299.53 363.15 L299.68 363.37 L299.82 363.59 L299.96 363.80 L300.11 364.01 L300.25 364.22 L300.39 364.42 L300.54 364.62 L300.68 364.81 L300.82 365.01 L300.97 365.20 L301.11 365.38 L301.25 365.57 L301.40 365.75 L301.54 365.93 L301.69 366.11 L301.83 366.28 L301.97 366.46 L302.12 366.63 L302.26 366.80 L302.40 366.96 L302.55 367.13 L302.69 367.29 L302.83 367.46 L302.98 367.62 L303.12 367.78 L303.26 367.94 L303.41 368.10 L303.55 368.25 L303.69 368.41 L303.84 368.57 L303.98 368.72 L304.12 368.87 L304.27 369.02 L304.41 369.17 L304.55 369.31 L304.70 369.46 L304.84 369.60 L304.98 369.75 L305.13 369.89 L305.27 370.03 L305.41 370.17 L305.56 370.31 L305.70 370.44 L305.84 370.58 L305.99 370.71 L306.13 370.85 L306.27 370.98 L306.42 371.11 L306.56 371.24 L306.70 371.37 L306.85 371.50 L306.99 371.62 L307.13 371.75 L307.28 371.88 L307.42 372.00 L307.56 372.13 L307.71 372.25 L307.85 372.37 L307.99 372.50 L308.14 372.62 L308.28 372.74 L308.42 372.86 L308.57 372.98 L308.71 373.10 L308.85 373.22 L309.00 373.34 L309.14 373.46 L309.28 373.58 L309.43 373.70 L309.57 373.81 L309.71 373.93 L309.86 374.04 L310.00 374.16 L310.14 374.27 L310.29 374.38 L310.43 374.49 L310.57 374.60 L310.72 374.71 L310.86 374.82 L311.00 374.92 L311.15 375.03 L311.29 375.14 L311.43 375.24 L311.58 375.35 L311.72 375.45 L311.86 375.55 L312.01 375.66 L312.15 375.76 L312.29 375.87 L312.44 375.97 L312.58 376.07 L312.73 376.17 L312.87 376.28 L313.01 376.38 L313.16 376.48 L313.30 376.59 L313.44 376.69 L313.59 376.79 L313.73 376.90 L313.87 377.00 L314.02 377.10 L314.16 377.21 L314.30 377.31 L314.45 377.42 L314.59 377.53 L314.73 377.63 L314.88 377.74 L315.02 377.85 L315.16 377.96 L315.31 378.07 L315.45 378.18 L315.59 378.29 L315.74 378.41 L315.88 378.52 L316.02 378.64 L316.17 378.75 L316.31 378.87 L316.45 378.99 L316.60 379.11 L316.74 379.23 L316.88 379.35 L317.03 379.47 L317.17 379.59 L317.31 379.71 L317.46 379.83 L317.60 379.95 L317.74 380.07 L317.89 380.19 L318.03 380.31 L318.17 380.43 L318.32 380.55 L318.46 380.67 L318.60 380.79 L318.75 380.91 L318.89 381.03 L319.03 381.14 L319.18 381.26 L319.32 381.38 L319.46 381.49 L319.61 381.60 L319.75 381.72 L319.89 381.83 L320.04 381.94 L320.18 382.05 L320.32 382.15 L320.47 382.26 L320.61 382.36 L320.75 382.46 L320.90 382.56 L321.04 382.66 L321.18 382.76 L321.33 382.85 L321.47 382.95 L321.61 383.04 L321.76 383.13 L321.90 383.21 L322.04 383.29 L322.19 383.38 L322.33 383.45 L322.47 383.53 L322.62 383.61 L322.76 383.68 L322.90 383.75 L323.05 383.83 L323.19 383.90 L323.33 383.97 L323.48 384.05 L323.62 384.12 L323.76 384.19 L323.91 384.26 L324.05 384.33 L324.20 384.40 L324.34 384.47 L324.48 384.54 L324.63 384.61 L324.77 384.68 L324.91 384.74 L325.06 384.81 L325.20 384.88 L325.34 384.94 L325.49 385.01 L325.63 385.08 L325.77 385.14 L325.92 385.21 L326.06 385.27 L326.20 385.33 L326.35 385.40 L326.49 385.46 L326.63 385.52 L326.78 385.58 L326.92 385.65 L327.06 385.71 L327.21 385.77 L327.35 385.83 L327.49 385.89 L327.64 385.95 L327.78 386.01 L327.92 386.07 L328.07 386.13 L328.21 386.18 L328.35 386.24 L328.50 386.30 L328.64 386.36 L328.78 386.41 L328.93 386.47 L329.07 386.52 L329.21 386.58 L329.36 386.63 L329.50 386.69 L329.64 386.74 L329.79 386.80 L329.93 386.85 L330.07 386.91 L330.22 386.96 L330.36 387.01 L330.50 387.06 L330.65 387.12 L330.79 387.17 L330.93 387.22 L331.08 387.27 L331.22 387.32 L331.36 387.37 L331.51 387.42 L331.65 387.47 L331.79 387.52 L331.94 387.57 L332.08 387.62 L332.22 387.67 L332.37 387.71 L332.51 387.76 L332.65 387.81 L332.80 387.86 L332.94 387.90 L333.08 387.95 L333.23 388.00 L333.37 388.04 L333.51 388.09 L333.66 388.14 L333.80 388.18 L333.94 388.23 L334.09 388.27 L334.23 388.32 L334.37 388.36 L334.52 388.40 L334.66 388.45 L334.80 388.49 L334.95 388.53 L335.09 388.58 L335.23 388.62 L335.38 388.66 L335.52 388.70 L335.66 388.75 L335.81 388.79 L335.95 388.83 L336.10 388.87 L336.24 388.91 L336.38 388.95 L336.53 388.99 L336.67 389.03 L336.81 389.07 L336.96 389.11 L337.10 389.15 L337.24 389.19 L337.39 389.23 L337.53 389.27 L337.67 389.31 L337.82 389.35 L337.96 389.39 L338.10 389.43 L338.25 389.47 L338.39 389.50 L338.53 389.54 L338.68 389.58 L338.82 389.62 L338.96 389.66 L339.11 389.70 L339.25 389.73 L339.39 389.77 L339.54 389.81 L339.68 389.85 L339.82 389.89 L339.97 389.92 L340.11 389.96 L340.25 390.00 L340.40 390.04 L340.54 390.07 L340.68 390.11 L340.83 390.15 L340.97 390.18 L341.11 390.22 L341.26 390.26 L341.40 390.29" stroke="#d8693a"/>
<path d="M112.00 394.59 L112.14 394.62 L112.29 394.65 L112.43 394.68 L112.57 394.71 L112.72 394.74 L112.86 394.77 L113.00 394.80 L113.15 394.83 L113.29 394.86 L113.43 394.89 L113.58 394.92 L113.72 394.94 L113.86 394.97 L114.01 395.00 L114.15 395.03 L114.29 395.06 L114.44 395.08 L114.58 395.11 L114.72 395.14 L114.87 395.16 L115.01 395.19 L115.15 395.22 L115.30 395.24 L115.44 395.27 L115.58 395.29 L115.73 395.32 L115.87 395.34 L116.01 395.37 L116.16 395.39 L116.30 395.42 L116.44 395.44 L116.59 395.46 L116.73 395.49 L116.87 395.51 L117.02 395.54 L117.16 395.56 L117.30 395.58 L117.45 395.61 L117.59 395.63 L117.73 395.65 L117.88 395.68 L118.02 395.70 L118.17 395.73 L118.31 395.75 L118.45 395.77 L118.60 395.80 L118.74 395.82 L118.88 395.84 L119.03 395.87 L119.17 395.89 L119.31 395.91 L119.46 395.94 L119.60 395.96 L119.74 395.98 L119.89 396.01 L120.03 396.03 L120.17 396.05 L120.32 396.07 L120.46 396.10 L120.60 396.12 L120.75 396.14 L120.89 396.16 L121.03 396.19 L121.18 396.21 L121.32 396.23 L121.46 396.25 L121.61 396.27 L121.75 396.30 L121.89 396.32 L122.04 396.34 L122.18 396.36 L122.32 396.38 L122.47 396.40 L122.61 396.42 L122.75 396.44 L122.90 396.46 L123.04 396.48 L123.18 396.50 L123.33 396.52 L123.47 396.54 L123.61 396.56 L123.76 396.58 L123.90 396.60 L124.04 396.62 L124.19 396.64 L124.33 396.66 L124.47 396.67 L124.62 396.69 L124.76 396.71 L124.90 396.73 L125.05 396.75 L125.19 396.76 L125.33 396.78 L125.48 396.80 L125.62 396.81 L125.76 396.83 L125.91 396.84 L126.05 396.86 L126.19 396.88 L126.34 396.89 L126.48 396.91 L126.62 396.92 L126.77 396.93 L126.91 396.95 L127.05 396.96 L127.20 396.98 L127.34 396.99 L127.48 397.00 L127.63 397.02 L127.77 397.03 L127.91 397.04 L128.06 397.05 L128.20 397.06 L128.34 397.07 L128.49 397.08 L128.63 397.09 L128.77 397.10 L128.92 397.11 L129.06 397.12 L129.20 397.13 L129.35 397.14 L129.49 397.15 L129.64 397.16 L129.78 397.17 L129.92 397.17 L130.07 397.18 L130.21 397.19 L130.35 397.19 L130.50 397.20 L130.64 397.20 L130.78 397.21 L130.93 397.21 L131.07 397.22 L131.21 397.22 L131.36 397.23 L131.50 397.23 L131.64 397.24 L131.79 397.24 L131.93 397.25 L132.07 397.25 L132.22 397.26 L132.36 397.26 L132.50 397.27 L132.65 397.27 L132.79 397.28 L132.93 397.28 L133.08 397.29 L133.22 397.29 L133.36 397.29 L133.51 397.30 L133.65 397.30 L133.79 397.31 L133.94 397.31 L134.08 397.31 L134.22 397.32 L134.37 397.32 L134.51 397.33 L134.65 397.33 L134.80 397.33 L134.94 397.34 L135.08 397.34 L135.23 397.34 L135.37 397.35 L135.51 397.35 L135.66 397.35 L135.80 397.35 L135.94 397.36 L136.09 397.36 L136.23 397.36 L136.37 397.36 L136.52 397.37 L136.66 397.37 L136.80 397.37 L136.95 397.37 L137.09 397.37 L137.23 397.38 L137.38 397.38 L137.52 397.38 L137.66 397.38 L137.81 397.38 L137.95 397.38 L138.09 397.38 L138.24 397.38 L138.38 397.38 L138.52 397.38 L138.67 397.38 L138.81 397.38 L138.95 397.38 L139.10 397.38 L139.24 397.38 L139.38 397.38 L139.53 397.37 L139.67 397.37 L139.81 397.36 L139.96 397.36 L140.10 397.35 L140.24 397.34 L140.39 397.33 L140.53 397.33 L140.68 397.32 L140.82 397.31 L140.96 397.30 L141.11 397.28 L141.25 397.27 L141.39 397.26 L141.54 397.25 L141.68 397.23 L141.82 397.22 L141.97 397.20 L142.11 397.19 L142.25 397.17 L142.40 397.16 L142.54 397.14 L142.68 397.12 L142.83 397.11 L142.97 397.09 L143.11 397.07 L143.26 397.05 L143.40 397.03 L143.54 397.01 L143.69 396.99 L143.83 396.97 L143.97 396.94 L144.12 396.92 L144.26 396.90 L144.40 396.88 L144.55 396.85 L144.69 396.83 L144.83 396.81 L144.98 396.78 L145.12 396.76 L145.26 396.73 L145.41 396.71 L145.55 396.68 L145.69 396.65 L145.84 396.63 L145.98 396.60 L146.12 396.57 L146.27 396.55 L146.41 396.52 L146.55 396.49 L146.70 396.46 L146.84 396.44 L146.98 396.41 L147.13 396.38 L147.27 396.35 L147.41 396.32 L147.56 396.29 L147.70 396.26 L147.84 396.23 L147.99 396.20 L148.13 396.17 L148.27 396.14 L148.42 396.11 L148.56 396.08 L148.70 396.05 L148.85 396.02 L148.99 395.99 L149.13 395.96 L149.28 395.93 L149.42 395.90 L149.56 395.87 L149.71 395.83 L149.85 395.80 L149.99 395.77 L150.14 395.74 L150.28 395.71 L150.42 395.68 L150.57 395.65 L150.71 395.62 L150.85 395.59 L151.00 395.55 L151.14 395.52 L151.28 395.49 L151.43 395.45 L151.57 395.42 L151.71 395.38 L151.86 395.34 L152.00 395.30 L152.15 395.26 L152.29 395.22 L152.43 395.18 L152.58 395.14 L152.72 395.10 L152.86 395.06 L153.01 395.01 L153.15 394.97 L153.29 394.92 L153.44 394.88 L153.58 394.83 L153.72 394.78 L153.87 394.73 L154.01 394.68 L154.15 394.63 L154.30 394.58 L154.44 394.53 L154.58 394.48 L154.73 394.43 L154.87 394.37 L155.01 394.32 L155.16 394.26 L155.30 394.21 L155.44 394.15 L155.59 394.09 L155.73 394.04 L155.87 393.98 L156.02 393.92 L156.16 393.86 L156.30 393.80 L156.45 393.74 L156.59 393.68 L156.73 393.62 L156.88 393.56 L157.02 393.49 L157.16 393.43 L157.31 393.37 L157.45 393.30 L157.59 393.24 L157.74 393.17 L157.88 393.11 L158.02 393.04 L158.17 392.98 L158.31 392.91 L158.45 392.84 L158.60 392.77 L158.74 392.71 L158.88 392.64 L159.03 392.57 L159.17 392.50 L159.31 392.43 L159.46 392.36 L159.60 392.29 L159.74 392.22 L159.89 392.14 L160.03 392.07 L160.17 392.00 L160.32 391.92 L160.46 391.84 L160.60 391.77 L160.75 391.69 L160.89 391.61 L161.03 391.53 L161.18 391.44 L161.32 391.36 L161.46 391.27 L161.61 391.18 L161.75 391.09 L161.89 391.00 L162.04 390.90 L162.18 390.80 L162.32 390.71 L162.47 390.60 L162.61 390.50 L162.75 390.39 L162.90 390.28 L163.04 390.17 L163.18 390.05 L163.33 389.93 L163.47 389.81 L163.62 389.69 L163.76 389.56 L163.90 389.43 L164.05 389.29 L164.19 389.16 L164.33 389.02 L164.48 388.88 L164.62 388.73 L164.76 388.58 L164.91 388.41 L165.05 388.24 L165.19 388.06 L165.34 387.87 L165.48 387.67 L165.62 387.45 L165.77 387.22 L165.91 386.97 L166.05 386.70 L166.20 386.41 L166.34 386.10 L166.48 385.77 L166.63 385.41 L166.77 384.96 L166.91 384.41 L167.06 383.75 L167.20 382.98 L167.34 382.08 L167.49 381.05 L167.63 380.16 L167.77 378.97 L167.92 375.68 L168.06 308.24 L168.20 310.05 L168.35 311.82 L168.49 313.54 L168.63 315.21 L168.78 316.81 L168.92 318.35 L169.06 319.82 L169.21 321.20 L169.35 322.49 L169.49 323.70 L169.64 324.86 L169.78 325.97 L169.92 327.05 L170.07 328.09 L170.21 329.09 L170.35 330.06 L170.50 331.00 L170.64 331.90 L170.78 332.78 L170.93 333.63 L171.07 334.45 L171.21 335.25 L171.36 336.03 L171.50 336.78 L171.64 337.51 L171.79 338.21 L171.93 338.89 L172.07 339.55 L172.22 340.19 L172.36 340.81 L172.50 341.42 L172.65 342.02 L172.79 342.61 L172.93 343.19 L173.08 343.77 L173.22 344.34 L173.36 344.92 L173.51 345.49 L173.65 346.07 L173.79 346.66 L173.94 347.25 L174.08 347.85 L174.22 348.46 L174.37 349.07 L174.51 349.68 L174.65 350.30 L174.80 350.91 L174.94 351.52 L175.09 352.13 L175.23 352.73 L175.37 353.32 L175.52 353.90 L175.66 354.47 L175.80 355.02 L175.95 355.56 L176.09 356.08 L176.23 356.58 L176.38 357.06 L176.52 357.52 L176.66 357.95 L176.81 358.37 L176.95 358.79 L177.09 359.19 L177.24 359.59 L177.38 359.98 L177.52 360.36 L177.67 360.73 L177.81 361.10 L177.95 361.46 L178.10 361.80 L178.24 362.14 L178.38 362.47 L178.53 362.79 L178.67 363.10 L178.81 363.41 L178.96 363.70 L179.10 363.99 L179.24 364.26 L179.39 364.53 L179.53 364.79 L179.67 365.04 L179.82 365.29 L179.96 365.53 L180.10 365.77 L180.25 366.01 L180.39 366.24 L180.53 366.47 L180.68 366.69 L180.82 366.91 L180.96 367.13 L181.11 367.34 L181.25 367.55 L181.39 367.76 L181.54 367.96 L181.68 368.16 L181.82 368.36 L181.97 368.56 L182.11 368.75 L182.25 368.94 L182.40 369.13 L182.54 369.31 L182.68 369.50 L182.83 369.68 L182.97 369.86 L183.11 370.03 L183.26 370.21 L183.40 370.38 L183.54 370.56 L183.69 370.73 L183.83 370.90 L183.97 371.07 L184.12 371.24 L184.26 371.40 L184.40 371.57 L184.55 371.74 L184.69 371.90 L184.83 372.07 L184.98 372.23 L185.12 372.40 L185.26 372.56 L185.41 372.73 L185.55 372.89 L185.69 373.05 L185.84 373.21 L185.98 373.37 L186.12 373.52 L186.27 373.68 L186.41 373.83 L186.56 373.99 L186.70 374.14 L186.84 374.29 L186.99 374.44 L187.13 374.59 L187.27 374.73 L187.42 374.88 L187.56 375.02 L187.70 375.17 L187.85 375.31 L187.99 375.45 L188.13 375.59 L188.28 375.73 L188.42 375.87 L188.56 376.01 L188.71 376.15 L188.85 376.28 L188.99 376.42 L189.14 376.55 L189.28 376.69 L189.42 376.82 L189.57 376.95 L189.71 377.08 L189.85 377.21 L190.00 377.34 L190.14 377.47 L190.28 377.60 L190.43 377.73 L190.57 377.86 L190.71 377.98 L190.86 378.11 L191.00 378.24 L191.14 378.36 L191.29 378.49 L191.43 378.61 L191.57 378.73 L191.72 378.86 L191.86 378.98 L192.00 379.11 L192.15 379.23 L192.29 379.35 L192.43 379.48 L192.58 379.60 L192.72 379.72 L192.86 379.84 L193.01 379.96 L193.15 380.08 L193.29 380.20 L193.44 380.32 L193.58 380.44 L193.72 380.56 L193.87 380.67 L194.01 380.79 L194.15 380.90 L194.30 381.02 L194.44 381.13 L194.58 381.25 L194.73 381.36 L194.87 381.47 L195.01 381.58 L195.16 381.69 L195.30 381.80 L195.44 381.90 L195.59 382.01 L195.73 382.12 L195.87 382.22 L196.02 382.32 L196.16 382.43 L196.30 382.53 L196.45 382.63 L196.59 382.73 L196.73 382.82 L196.88 382.92 L197.02 383.01 L197.16 383.11 L197.31 383.20 L197.45 383.29 L197.59 383.38 L197.74 383.47 L197.88 383.55 L198.03 383.64 L198.17 383.72 L198.31 383.81 L198.46 383.89 L198.60 383.98 L198.74 384.06 L198.89 384.15 L199.03 384.23 L199.17 384.31 L199.32 384.39 L199.46 384.48 L199.60 384.56 L199.75 384.64 L199.89 384.72 L200.03 384.80 L200.18 384.88 L200.32 384.96 L200.46 385.04 L200.61 385.12 L200.75 385.20 L200.89 385.28 L201.04 385.36 L201.18 385.44 L201.32 385.51 L201.47 385.59 L201.61 385.67 L201.75 385.75 L201.90 385.82 L202.04 385.90 L202.18 385.97 L202.33 386.05 L202.47 386.12 L202.61 386.20 L202.76 386.27 L202.90 386.35 L203.04 386.42 L203.19 386.49 L203.33 386.57 L203.47 386.64 L203.62 386.71 L203.76 386.78 L203.90 386.85 L204.05 386.92 L204.19 387.00 L204.33 387.07 L204.48 387.14 L204.62 387.21 L204.76 387.27 L204.91 387.34 L205.05 387.41 L205.19 387.48 L205.34 387.55 L205.48 387.62 L205.62 387.68 L205.77 387.75 L205.91 387.82 L206.05 387.88 L206.20 387.95 L206.34 388.01 L206.48 388.08 L206.63 388.14 L206.77 388.21 L206.91 388.27 L207.06 388.34 L207.20 388.40 L207.34 388.46 L207.49 388.53 L207.63 388.59 L207.77 388.65 L207.92 388.71 L208.06 388.77 L208.20 388.83 L208.35 388.90 L208.49 388.96 L208.63 389.02 L208.78 389.08 L208.92 389.14 L209.06 389.19 L209.21 389.25 L209.35 389.31 L209.50 389.37 L209.64 389.43 L209.78 389.48 L209.93 389.54 L210.07 389.60 L210.21 389.65 L210.36 389.71 L210.50 389.77 L210.64 389.82 L210.79 389.88 L210.93 389.93 L211.07 389.99 L211.22 390.04 L211.36 390.09 L211.50 390.15 L211.65 390.20 L211.79 390.25 L211.93 390.31 L212.08 390.36 L212.22 390.41 L212.36 390.46 L212.51 390.51 L212.65 390.56 L212.79 390.61 L212.94 390.66 L213.08 390.71 L213.22 390.76 L213.37 390.81 L213.51 390.86 L213.65 390.91 L213.80 390.96 L213.94 391.00 L214.08 391.05 L214.23 391.10 L214.37 391.15 L214.51 391.19 L214.66 391.24 L214.80 391.29 L214.94 391.34 L215.09 391.38 L215.23 391.43 L215.37 391.48 L215.52 391.52 L215.66 391.57 L215.80 391.61 L215.95 391.66 L216.09 391.70 L216.23 391.75 L216.38 391.80 L216.52 391.84 L216.66 391.89 L216.81 391.93 L216.95 391.98 L217.09 392.02 L217.24 392.06 L217.38 392.11 L217.52 392.15 L217.67 392.20 L217.81 392.24 L217.95 392.28 L218.10 392.33 L218.24 392.37 L218.38 392.41 L218.53 392.46 L218.67 392.50 L218.81 392.54 L218.96 392.58 L219.10 392.63 L219.24 392.67 L219.39 392.71 L219.53 392.75 L219.67 392.79 L219.82 392.83 L219.96 392.88 L220.10 392.92 L220.25 392.96 L220.39 393.00 L220.53 393.04 L220.68 393.08 L220.82 393.12 L220.97 393.16 L221.11 393.20 L221.25 393.24 L221.40 393.28 L221.54 393.32 L221.68 393.35 L221.83 393.39 L221.97 393.43 L222.11 393.47 L222.26 393.51 L222.40 393.55 L222.54 393.58 L222.69 393.62 L222.83 393.66 L222.97 393.70 L223.12 393.73 L223.26 393.77 L223.40 393.81 L223.55 393.84 L223.69 393.88 L223.83 393.91 L223.98 393.95 L224.12 393.99 L224.26 394.02 L224.41 394.06 L224.55 394.09 L224.69 394.12 L224.84 394.16 L224.98 394.19 L225.12 394.23 L225.27 394.26 L225.41 394.29 L225.55 394.33 L225.70 394.36 L225.84 394.39 L225.98 394.43 L226.13 394.46 L226.27 394.49 L226.41 394.52 L226.56 394.55 L226.70 394.59 L226.84 394.62 L226.99 394.65 L227.13 394.68 L227.27 394.71 L227.42 394.74 L227.56 394.77 L227.70 394.80 L227.85 394.83 L227.99 394.86 L228.13 394.89 L228.28 394.92 L228.42 394.94 L228.56 394.97 L228.71 395.00 L228.85 395.03 L228.99 395.06 L229.14 395.08 L229.28 395.11 L229.42 395.14 L229.57 395.16 L229.71 395.19 L229.85 395.22 L230.00 395.24 L230.14 395.27 L230.28 395.29 L230.43 395.32 L230.57 395.34 L230.71 395.37 L230.86 395.39 L231.00 395.42 L231.14 395.44 L231.29 395.46 L231.43 395.49 L231.57 395.51 L231.72 395.54 L231.86 395.56 L232.00 395.58 L232.15 395.61 L232.29 395.63 L232.44 395.65 L232.58 395.68 L232.72 395.70 L232.87 395.73 L233.01 395.75 L233.15 395.77 L233.30 395.80 L233.44 395.82 L233.58 395.84 L233.73 395.87 L233.87 395.89 L234.01 395.91 L234.16 395.94 L234.30 395.96 L234.44 395.98 L234.59 396.01 L234.73 396.03 L234.87 396.05 L235.02 396.07 L235.16 396.10 L235.30 396.12 L235.45 396.14 L235.59 396.16 L235.73 396.19 L235.88 396.21 L236.02 396.23 L236.16 396.25 L236.31 396.27 L236.45 396.30 L236.59 396.32 L236.74 396.34 L236.88 396.36 L237.02 396.38 L237.17 396.40 L237.31 396.42 L237.45 396.44 L237.60 396.46 L237.74 396.48 L237.88 396.50 L238.03 396.52 L238.17 396.54 L238.31 396.56 L238.46 396.58 L238.60 396.60 L238.74 396.62 L238.89 396.64 L239.03 396.66 L239.17 396.67 L239.32 396.69 L239.46 396.71 L239.60 396.73 L239.75 396.75 L239.89 396.76 L240.03 396.78 L240.18 396.80 L240.32 396.81 L240.46 396.83 L240.61 396.84 L240.75 396.86 L240.89 396.88 L241.04 396.89 L241.18 396.91 L241.32 396.92 L241.47 396.93 L241.61 396.95 L241.75 396.96 L241.90 396.98 L242.04 396.99 L242.18 397.00 L242.33 397.02 L242.47 397.03 L242.61 397.04 L242.76 397.05 L242.90 397.06 L243.04 397.07 L243.19 397.08 L243.33 397.09 L243.47 397.10 L243.62 397.11 L243.76 397.12 L243.91 397.13 L244.05 397.14 L244.19 397.15 L244.34 397.16 L244.48 397.17 L244.62 397.17 L244.77 397.18 L244.91 397.19 L245.05 397.19 L245.20 397.20 L245.34 397.20 L245.48 397.21 L245.63 397.21 L245.77 397.22 L245.91 397.22 L246.06 397.23 L246.20 397.23 L246.34 397.24 L246.49 397.24 L246.63 397.25 L246.77 397.25 L246.92 397.26 L247.06 397.26 L247.20 397.27 L247.35 397.27 L247.49 397.28 L247.63 397.28 L247.78 397.29 L247.92 397.29 L248.06 397.29 L248.21 397.30 L248.35 397.30 L248.49 397.31 L248.64 397.31 L248.78 397.31 L248.92 397.32 L249.07 397.32 L249.21 397.33 L249.35 397.33 L249.50 397.33 L249.64 397.34 L249.78 397.34 L249.93 397.34 L250.07 397.35 L250.21 397.35 L250.36 397.35 L250.50 397.35 L250.64 397.36 L250.79 397.36 L250.93 397.36 L251.07 397.36 L251.22 397.37 L251.36 397.37 L251.50 397.37 L251.65 397.37 L251.79 397.37 L251.93 397.38 L252.08 397.38 L252.22 397.38 L252.36 397.38 L252.51 397.38 L252.65 397.38 L252.79 397.38 L252.94 397.38 L253.08 397.38 L253.22 397.38 L253.37 397.38 L253.51 397.38 L253.65 397.38 L253.80 397.38 L253.94 397.38 L254.08 397.38 L254.23 397.37 L254.37 397.37 L254.51 397.36 L254.66 397.36 L254.80 397.35 L254.94 397.34 L255.09 397.33 L255.23 397.33 L255.38 397.32 L255.52 397.31 L255.66 397.30 L255.81 397.28 L255.95 397.27 L256.09 397.26 L256.24 397.25 L256.38 397.23 L256.52 397.22 L256.67 397.20 L256.81 397.19 L256.95 397.17 L257.10 397.16 L257.24 397.14 L257.38 397.12 L257.53 397.11 L257.67 397.09 L257.81 397.07 L257.96 397.05 L258.10 397.03 L258.24 397.01 L258.39 396.99 L258.53 396.97 L258.67 396.94 L258.82 396.92 L258.96 396.90 L259.10 396.88 L259.25 396.85 L259.39 396.83 L259.53 396.81 L259.68 396.78 L259.82 396.76 L259.96 396.73 L260.11 396.71 L260.25 396.68 L260.39 396.65 L260.54 396.63 L260.68 396.60 L260.82 396.57 L260.97 396.55 L261.11 396.52 L261.25 396.49 L261.40 396.46 L261.54 396.44 L261.68 396.41 L261.83 396.38 L261.97 396.35 L262.11 396.32 L262.26 396.29 L262.40 396.26 L262.54 396.23 L262.69 396.20 L262.83 396.17 L262.97 396.14 L263.12 396.11 L263.26 396.08 L263.40 396.05 L263.55 396.02 L263.69 395.99 L263.83 395.96 L263.98 395.93 L264.12 395.90 L264.26 395.87 L264.41 395.83 L264.55 395.80 L264.69 395.77 L264.84 395.74 L264.98 395.71 L265.12 395.68 L265.27 395.65 L265.41 395.62 L265.55 395.59 L265.70 395.55 L265.84 395.52 L265.98 395.49 L266.13 395.45 L266.27 395.42 L266.41 395.38 L266.56 395.34 L266.70 395.30 L266.85 395.26 L266.99 395.22 L267.13 395.18 L267.28 395.14 L267.42 395.10 L267.56 395.06 L267.71 395.01 L267.85 394.97 L267.99 394.92 L268.14 394.88 L268.28 394.83 L268.42 394.78 L268.57 394.73 L268.71 394.68 L268.85 394.63 L269.00 394.58 L269.14 394.53 L269.28 394.48 L269.43 394.43 L269.57 394.37 L269.71 394.32 L269.86 394.26 L270.00 394.21 L270.14 394.15 L270.29 394.09 L270.43 394.04 L270.57 393.98 L270.72 393.92 L270.86 393.86 L271.00 393.80 L271.15 393.74 L271.29 393.68 L271.43 393.62 L271.58 393.56 L271.72 393.49 L271.86 393.43 L272.01 393.37 L272.15 393.30 L272.29 393.24 L272.44 393.17 L272.58 393.11 L272.72 393.04 L272.87 392.98 L273.01 392.91 L273.15 392.84 L273.30 392.77 L273.44 392.71 L273.58 392.64 L273.73 392.57 L273.87 392.50 L274.01 392.43 L274.16 392.36 L274.30 392.29 L274.44 392.22 L274.59 392.14 L274.73 392.07 L274.87 392.00 L275.02 391.92 L275.16 391.84 L275.30 391.77 L275.45 391.69 L275.59 391.61 L275.73 391.53 L275.88 391.44 L276.02 391.36 L276.16 391.27 L276.31 391.18 L276.45 391.09 L276.59 391.00 L276.74 390.90 L276.88 390.80 L277.02 390.71 L277.17 390.60 L277.31 390.50 L277.45 390.39 L277.60 390.28 L277.74 390.17 L277.88 390.05 L278.03 389.93 L278.17 389.81 L278.31 389.69 L278.46 389.56 L278.60 389.43 L278.75 389.29 L278.89 389.16 L279.03 389.02 L279.18 388.88 L279.32 388.73 L279.46 388.58 L279.61 388.41 L279.75 388.24 L279.89 388.06 L280.04 387.87 L280.18 387.67 L280.32 387.45 L280.47 387.22 L280.61 386.97 L280.75 386.70 L280.90 386.41 L281.04 386.10 L281.18 385.77 L281.33 385.41 L281.47 384.96 L281.61 384.41 L281.76 383.75 L281.90 382.98 L282.04 382.08 L282.19 381.05 L282.33 380.16 L282.47 378.97 L282.62 375.68 L282.76 308.24 L282.90 310.05 L283.05 311.82 L283.19 313.54 L283.33 315.21 L283.48 316.81 L283.62 318.35 L283.76 319.82 L283.91 321.20 L284.05 322.49 L284.19 323.70 L284.34 324.86 L284.48 325.97 L284.62 327.05 L284.77 328.09 L284.91 329.09 L285.05 330.06 L285.20 331.00 L285.34 331.90 L285.48 332.78 L285.63 333.63 L285.77 334.45 L285.91 335.25 L286.06 336.03 L286.20 336.78 L286.34 337.51 L286.49 338.21 L286.63 338.89 L286.77 339.55 L286.92 340.19 L287.06 340.81 L287.20 341.42 L287.35 342.02 L287.49 342.61 L287.63 343.19 L287.78 343.77 L287.92 344.34 L288.06 344.92 L288.21 345.49 L288.35 346.07 L288.49 346.66 L288.64 347.25 L288.78 347.85 L288.92 348.46 L289.07 349.07 L289.21 349.68 L289.35 350.30 L289.50 350.91 L289.64 351.52 L289.78 352.13 L289.93 352.73 L290.07 353.32 L290.22 353.90 L290.36 354.47 L290.50 355.02 L290.65 355.56 L290.79 356.08 L290.93 356.58 L291.08 357.06 L291.22 357.52 L291.36 357.95 L291.51 358.37 L291.65 358.79 L291.79 359.19 L291.94 359.59 L292.08 359.98 L292.22 360.36 L292.37 360.73 L292.51 361.10 L292.65 361.46 L292.80 361.80 L292.94 362.14 L293.08 362.47 L293.23 362.79 L293.37 363.10 L293.51 363.41 L293.66 363.70 L293.80 363.99 L293.94 364.26 L294.09 364.53 L294.23 364.79 L294.37 365.04 L294.52 365.29 L294.66 365.53 L294.80 365.77 L294.95 366.01 L295.09 366.24 L295.23 366.47 L295.38 366.69 L295.52 366.91 L295.66 367.13 L295.81 367.34 L295.95 367.55 L296.09 367.76 L296.24 367.96 L296.38 368.16 L296.52 368.36 L296.67 368.56 L296.81 368.75 L296.95 368.94 L297.10 369.13 L297.24 369.31 L297.38 369.50 L297.53 369.68 L297.67 369.86 L297.81 370.03 L297.96 370.21 L298.10 370.38 L298.24 370.56 L298.39 370.73 L298.53 370.90 L298.67 371.07 L298.82 371.24 L298.96 371.40 L299.10 371.57 L299.25 371.74 L299.39 371.90 L299.53 372.07 L299.68 372.23 L299.82 372.40 L299.96 372.56 L300.11 372.73 L300.25 372.89 L300.39 373.05 L300.54 373.21 L300.68 373.37 L300.82 373.52 L300.97 373.68 L301.11 373.83 L301.25 373.99 L301.40 374.14 L301.54 374.29 L301.69 374.44 L301.83 374.59 L301.97 374.73 L302.12 374.88 L302.26 375.02 L302.40 375.17 L302.55 375.31 L302.69 375.45 L302.83 375.59 L302.98 375.73 L303.12 375.87 L303.26 376.01 L303.41 376.15 L303.55 376.28 L303.69 376.42 L303.84 376.55 L303.98 376.69 L304.12 376.82 L304.27 376.95 L304.41 377.08 L304.55 377.21 L304.70 377.34 L304.84 377.47 L304.98 377.60 L305.13 377.73 L305.27 377.86 L305.41 377.98 L305.56 378.11 L305.70 378.24 L305.84 378.36 L305.99 378.49 L306.13 378.61 L306.27 378.73 L306.42 378.86 L306.56 378.98 L306.70 379.11 L306.85 379.23 L306.99 379.35 L307.13 379.48 L307.28 379.60 L307.42 379.72 L307.56 379.84 L307.71 379.96 L307.85 380.08 L307.99 380.20 L308.14 380.32 L308.28 380.44 L308.42 380.56 L308.57 380.67 L308.71 380.79 L308.85 380.90 L309.00 381.02 L309.14 381.13 L309.28 381.25 L309.43 381.36 L309.57 381.47 L309.71 381.58 L309.86 381.69 L310.00 381.80 L310.14 381.90 L310.29 382.01 L310.43 382.12 L310.57 382.22 L310.72 382.32 L310.86 382.43 L311.00 382.53 L311.15 382.63 L311.29 382.73 L311.43 382.82 L311.58 382.92 L311.72 383.01 L311.86 383.11 L312.01 383.20 L312.15 383.29 L312.29 383.38 L312.44 383.47 L312.58 383.55 L312.73 383.64 L312.87 383.72 L313.01 383.81 L313.16 383.89 L313.30 383.98 L313.44 384.06 L313.59 384.15 L313.73 384.23 L313.87 384.31 L314.02 384.39 L314.16 384.48 L314.30 384.56 L314.45 384.64 L314.59 384.72 L314.73 384.80 L314.88 384.88 L315.02 384.96 L315.16 385.04 L315.31 385.12 L315.45 385.20 L315.59 385.28 L315.74 385.36 L315.88 385.44 L316.02 385.51 L316.17 385.59 L316.31 385.67 L316.45 385.75 L316.60 385.82 L316.74 385.90 L316.88 385.97 L317.03 386.05 L317.17 386.12 L317.31 386.20 L317.46 386.27 L317.60 386.35 L317.74 386.42 L317.89 386.49 L318.03 386.57 L318.17 386.64 L318.32 386.71 L318.46 386.78 L318.60 386.85 L318.75 386.92 L318.89 387.00 L319.03 387.07 L319.18 387.14 L319.32 387.21 L319.46 387.27 L319.61 387.34 L319.75 387.41 L319.89 387.48 L320.04 387.55 L320.18 387.62 L320.32 387.68 L320.47 387.75 L320.61 387.82 L320.75 387.88 L320.90 387.95 L321.04 388.01 L321.18 388.08 L321.33 388.14 L321.47 388.21 L321.61 388.27 L321.76 388.34 L321.90 388.40 L322.04 388.46 L322.19 388.53 L322.33 388.59 L322.47 388.65 L322.62 388.71 L322.76 388.77 L322.90 388.83 L323.05 388.90 L323.19 388.96 L323.33 389.02 L323.48 389.08 L323.62 389.14 L323.76 389.19 L323.91 389.25 L324.05 389.31 L324.20 389.37 L324.34 389.43 L324.48 389.48 L324.63 389.54 L324.77 389.60 L324.91 389.65 L325.06 389.71 L325.20 389.77 L325.34 389.82 L325.49 389.88 L325.63 389.93 L325.77 389.99 L325.92 390.04 L326.06 390.09 L326.20 390.15 L326.35 390.20 L326.49 390.25 L326.63 390.31 L326.78 390.36 L326.92 390.41 L327.06 390.46 L327.21 390.51 L327.35 390.56 L327.49 390.61 L327.64 390.66 L327.78 390.71 L327.92 390.76 L328.07 390.81 L328.21 390.86 L328.35 390.91 L328.50 390.96 L328.64 391.00 L328.78 391.05 L328.93 391.10 L329.07 391.15 L329.21 391.19 L329.36 391.24 L329.50 391.29 L329.64 391.34 L329.79 391.38 L329.93 391.43 L330.07 391.48 L330.22 391.52 L330.36 391.57 L330.50 391.61 L330.65 391.66 L330.79 391.70 L330.93 391.75 L331.08 391.80 L331.22 391.84 L331.36 391.89 L331.51 391.93 L331.65 391.98 L331.79 392.02 L331.94 392.06 L332.08 392.11 L332.22 392.15 L332.37 392.20 L332.51 392.24 L332.65 392.28 L332.80 392.33 L332.94 392.37 L333.08 392.41 L333.23 392.46 L333.37 392.50 L333.51 392.54 L333.66 392.58 L333.80 392.63 L333.94 392.67 L334.09 392.71 L334.23 392.75 L334.37 392.79 L334.52 392.83 L334.66 392.88 L334.80 392.92 L334.95 392.96 L335.09 393.00 L335.23 393.04 L335.38 393.08 L335.52 393.12 L335.66 393.16 L335.81 393.20 L335.95 393.24 L336.10 393.28 L336.24 393.32 L336.38 393.35 L336.53 393.39 L336.67 393.43 L336.81 393.47 L336.96 393.51 L337.10 393.55 L337.24 393.58 L337.39 393.62 L337.53 393.66 L337.67 393.70 L337.82 393.73 L337.96 393.77 L338.10 393.81 L338.25 393.84 L338.39 393.88 L338.53 393.91 L338.68 393.95 L338.82 393.99 L338.96 394.02 L339.11 394.06 L339.25 394.09 L339.39 394.12 L339.54 394.16 L339.68 394.19 L339.82 394.23 L339.97 394.26 L340.11 394.29 L340.25 394.33 L340.40 394.36 L340.54 394.39 L340.68 394.43 L340.83 394.46 L340.97 394.49 L341.11 394.52 L341.26 394.55 L341.40 394.59" stroke="#2596c6"/>
<path d="M112.00 398.12 L112.14 398.15 L112.29 398.19 L112.43 398.22 L112.57 398.26 L112.72 398.29 L112.86 398.32 L113.00 398.36 L113.15 398.39 L113.29 398.42 L113.43 398.45 L113.58 398.48 L113.72 398.52 L113.86 398.55 L114.01 398.58 L114.15 398.61 L114.29 398.64 L114.44 398.67 L114.58 398.70 L114.72 398.74 L114.87 398.77 L115.01 398.80 L115.15 398.83 L115.30 398.86 L115.44 398.89 L115.58 398.92 L115.73 398.95 L115.87 398.98 L116.01 399.01 L116.16 399.04 L116.30 399.07 L116.44 399.10 L116.59 399.13 L116.73 399.16 L116.87 399.19 L117.02 399.22 L117.16 399.25 L117.30 399.28 L117.45 399.31 L117.59 399.34 L117.73 399.37 L117.88 399.39 L118.02 399.42 L118.17 399.45 L118.31 399.48 L118.45 399.51 L118.60 399.54 L118.74 399.56 L118.88 399.59 L119.03 399.62 L119.17 399.65 L119.31 399.67 L119.46 399.70 L119.60 399.73 L119.74 399.76 L119.89 399.78 L120.03 399.81 L120.17 399.84 L120.32 399.86 L120.46 399.89 L120.60 399.91 L120.75 399.94 L120.89 399.97 L121.03 399.99 L121.18 400.02 L121.32 400.04 L121.46 400.07 L121.61 400.09 L121.75 400.12 L121.89 400.14 L122.04 400.17 L122.18 400.19 L122.32 400.21 L122.47 400.24 L122.61 400.26 L122.75 400.29 L122.90 400.31 L123.04 400.33 L123.18 400.36 L123.33 400.38 L123.47 400.40 L123.61 400.42 L123.76 400.45 L123.90 400.47 L124.04 400.49 L124.19 400.51 L124.33 400.53 L124.47 400.55 L124.62 400.58 L124.76 400.60 L124.90 400.62 L125.05 400.64 L125.19 400.66 L125.33 400.68 L125.48 400.70 L125.62 400.72 L125.76 400.74 L125.91 400.76 L126.05 400.78 L126.19 400.79 L126.34 400.81 L126.48 400.83 L126.62 400.85 L126.77 400.87 L126.91 400.89 L127.05 400.90 L127.20 400.92 L127.34 400.94 L127.48 400.95 L127.63 400.97 L127.77 400.99 L127.91 401.00 L128.06 401.02 L128.20 401.04 L128.34 401.05 L128.49 401.07 L128.63 401.08 L128.77 401.10 L128.92 401.11 L129.06 401.12 L129.20 401.14 L129.35 401.15 L129.49 401.17 L129.64 401.18 L129.78 401.20 L129.92 401.21 L130.07 401.23 L130.21 401.24 L130.35 401.25 L130.50 401.27 L130.64 401.28 L130.78 401.30 L130.93 401.31 L131.07 401.33 L131.21 401.34 L131.36 401.36 L131.50 401.37 L131.64 401.39 L131.79 401.40 L131.93 401.41 L132.07 401.43 L132.22 401.44 L132.36 401.46 L132.50 401.47 L132.65 401.48 L132.79 401.50 L132.93 401.51 L133.08 401.52 L133.22 401.54 L133.36 401.55 L133.51 401.56 L133.65 401.57 L133.79 401.59 L133.94 401.60 L134.08 401.61 L134.22 401.62 L134.37 401.63 L134.51 401.65 L134.65 401.66 L134.80 401.67 L134.94 401.68 L135.08 401.69 L135.23 401.70 L135.37 401.71 L135.51 401.72 L135.66 401.73 L135.80 401.74 L135.94 401.74 L136.09 401.75 L136.23 401.76 L136.37 401.77 L136.52 401.77 L136.66 401.78 L136.80 401.79 L136.95 401.79 L137.09 401.80 L137.23 401.80 L137.38 401.81 L137.52 401.81 L137.66 401.82 L137.81 401.82 L137.95 401.82 L138.09 401.83 L138.24 401.83 L138.38 401.83 L138.52 401.83 L138.67 401.83 L138.81 401.83 L138.95 401.83 L139.10 401.83 L139.24 401.83 L139.38 401.83 L139.53 401.82 L139.67 401.82 L139.81 401.81 L139.96 401.81 L140.10 401.80 L140.24 401.79 L140.39 401.78 L140.53 401.78 L140.68 401.77 L140.82 401.75 L140.96 401.74 L141.11 401.73 L141.25 401.72 L141.39 401.70 L141.54 401.69 L141.68 401.67 L141.82 401.66 L141.97 401.64 L142.11 401.63 L142.25 401.61 L142.40 401.59 L142.54 401.57 L142.68 401.55 L142.83 401.53 L142.97 401.51 L143.11 401.49 L143.26 401.47 L143.40 401.45 L143.54 401.43 L143.69 401.40 L143.83 401.38 L143.97 401.36 L144.12 401.33 L144.26 401.31 L144.40 401.28 L144.55 401.26 L144.69 401.23 L144.83 401.20 L144.98 401.18 L145.12 401.15 L145.26 401.12 L145.41 401.09 L145.55 401.07 L145.69 401.04 L145.84 401.01 L145.98 400.98 L146.12 400.95 L146.27 400.92 L146.41 400.89 L146.55 400.86 L146.70 400.83 L146.84 400.80 L146.98 400.77 L147.13 400.74 L147.27 400.70 L147.41 400.67 L147.56 400.64 L147.70 400.61 L147.84 400.58 L147.99 400.55 L148.13 400.51 L148.27 400.48 L148.42 400.45 L148.56 400.42 L148.70 400.38 L148.85 400.35 L148.99 400.31 L149.13 400.28 L149.28 400.24 L149.42 400.20 L149.56 400.15 L149.71 400.11 L149.85 400.07 L149.99 400.02 L150.14 399.97 L150.28 399.92 L150.42 399.87 L150.57 399.82 L150.71 399.77 L150.85 399.71 L151.00 399.66 L151.14 399.60 L151.28 399.54 L151.43 399.48 L151.57 399.42 L151.71 399.36 L151.86 399.29 L152.00 399.23 L152.15 399.16 L152.29 399.09 L152.43 399.03 L152.58 398.96 L152.72 398.89 L152.86 398.81 L153.01 398.74 L153.15 398.67 L153.29 398.59 L153.44 398.51 L153.58 398.44 L153.72 398.36 L153.87 398.28 L154.01 398.20 L154.15 398.11 L154.30 398.03 L154.44 397.95 L154.58 397.86 L154.73 397.77 L154.87 397.69 L155.01 397.60 L155.16 397.50 L155.30 397.41 L155.44 397.31 L155.59 397.20 L155.73 397.09 L155.87 396.98 L156.02 396.87 L156.16 396.75 L156.30 396.62 L156.45 396.50 L156.59 396.36 L156.73 396.23 L156.88 396.09 L157.02 395.94 L157.16 395.79 L157.31 395.63 L157.45 395.47 L157.59 395.31 L157.74 395.14 L157.88 394.96 L158.02 394.80 L158.17 394.70 L158.31 394.61 L158.45 394.44 L158.60 394.13 L158.74 393.60 L158.88 291.29 L159.03 292.45 L159.17 293.60 L159.31 294.72 L159.46 295.84 L159.60 296.93 L159.74 298.00 L159.89 299.05 L160.03 300.08 L160.17 301.09 L160.32 302.07 L160.46 303.02 L160.60 303.96 L160.75 304.87 L160.89 305.76 L161.03 306.64 L161.18 307.50 L161.32 308.34 L161.46 309.17 L161.61 309.99 L161.75 310.79 L161.89 311.58 L162.04 312.37 L162.18 313.14 L162.32 313.90 L162.47 314.66 L162.61 315.41 L162.75 316.16 L162.90 316.90 L163.04 317.64 L163.18 318.37 L163.33 319.10 L163.47 319.82 L163.62 320.54 L163.76 321.25 L163.90 321.96 L164.05 322.66 L164.19 323.35 L164.33 324.04 L164.48 324.72 L164.62 325.39 L164.76 326.05 L164.91 326.70 L165.05 327.34 L165.19 327.98 L165.34 328.60 L165.48 329.21 L165.62 329.82 L165.77 330.41 L165.91 330.99 L166.05 331.56 L166.20 332.13 L166.34 332.70 L166.48 333.26 L166.63 333.82 L166.77 334.38 L166.91 334.93 L167.06 335.47 L167.20 336.02 L167.34 336.56 L167.49 337.09 L167.63 337.62 L167.77 338.15 L167.92 338.67 L168.06 339.18 L168.20 339.69 L168.35 340.20 L168.49 340.70 L168.63 341.19 L168.78 341.68 L168.92 342.16 L169.06 342.64 L169.21 343.11 L169.35 343.58 L169.49 344.04 L169.64 344.49 L169.78 344.94 L169.92 345.37 L170.07 345.81 L170.21 346.23 L170.35 346.65 L170.50 347.06 L170.64 347.47 L170.78 347.87 L170.93 348.26 L171.07 348.64 L171.21 349.01 L171.36 349.39 L171.50 349.75 L171.64 350.11 L171.79 350.47 L171.93 350.83 L172.07 351.18 L172.22 351.52 L172.36 351.87 L172.50 352.20 L172.65 352.54 L172.79 352.87 L172.93 353.20 L173.08 353.52 L173.22 353.84 L173.36 354.16 L173.51 354.48 L173.65 354.79 L173.79 355.10 L173.94 355.40 L174.08 355.70 L174.22 356.00 L174.37 356.30 L174.51 356.59 L174.65 356.88 L174.80 357.17 L174.94 357.45 L175.09 357.73 L175.23 358.01 L175.37 358.29 L175.52 358.56 L175.66 358.84 L175.80 359.11 L175.95 359.37 L176.09 359.64 L176.23 359.90 L176.38 360.16 L176.52 360.42 L176.66 360.68 L176.81 360.94 L176.95 361.19 L177.09 361.44 L177.24 361.69 L177.38 361.94 L177.52 362.19 L177.67 362.43 L177.81 362.68 L177.95 362.92 L178.10 363.15 L178.24 363.39 L178.38 363.62 L178.53 363.85 L178.67 364.08 L178.81 364.31 L178.96 364.53 L179.10 364.76 L179.24 364.98 L179.39 365.19 L179.53 365.41 L179.67 365.63 L179.82 365.84 L179.96 366.05 L180.10 366.26 L180.25 366.47 L180.39 366.68 L180.53 366.89 L180.68 367.09 L180.82 367.30 L180.96 367.50 L181.11 367.70 L181.25 367.90 L181.39 368.10 L181.54 368.30 L181.68 368.50 L181.82 368.69 L181.97 368.89 L182.11 369.09 L182.25 369.28 L182.40 369.48 L182.54 369.67 L182.68 369.87 L182.83 370.06 L182.97 370.25 L183.11 370.45 L183.26 370.64 L183.40 370.83 L183.54 371.03 L183.69 371.22 L183.83 371.41 L183.97 371.61 L184.12 371.80 L184.26 372.00 L184.40 372.19 L184.55 372.39 L184.69 372.58 L184.83 372.78 L184.98 372.98 L185.12 373.18 L185.26 373.38 L185.41 373.58 L185.55 373.78 L185.69 373.99 L185.84 374.19 L185.98 374.40 L186.12 374.60 L186.27 374.81 L186.41 375.02 L186.56 375.22 L186.70 375.43 L186.84 375.64 L186.99 375.85 L187.13 376.05 L187.27 376.26 L187.42 376.47 L187.56 376.68 L187.70 376.88 L187.85 377.09 L187.99 377.29 L188.13 377.50 L188.28 377.70 L188.42 377.90 L188.56 378.10 L188.71 378.30 L188.85 378.50 L188.99 378.70 L189.14 378.90 L189.28 379.09 L189.42 379.29 L189.57 379.48 L189.71 379.67 L189.85 379.86 L190.00 380.04 L190.14 380.23 L190.28 380.41 L190.43 380.59 L190.57 380.77 L190.71 380.94 L190.86 381.11 L191.00 381.28 L191.14 381.45 L191.29 381.62 L191.43 381.78 L191.57 381.94 L191.72 382.09 L191.86 382.24 L192.00 382.39 L192.15 382.54 L192.29 382.68 L192.43 382.82 L192.58 382.95 L192.72 383.08 L192.86 383.21 L193.01 383.33 L193.15 383.45 L193.29 383.57 L193.44 383.68 L193.58 383.80 L193.72 383.91 L193.87 384.02 L194.01 384.13 L194.15 384.24 L194.30 384.35 L194.44 384.46 L194.58 384.57 L194.73 384.67 L194.87 384.78 L195.01 384.88 L195.16 384.99 L195.30 385.09 L195.44 385.19 L195.59 385.29 L195.73 385.39 L195.87 385.49 L196.02 385.59 L196.16 385.69 L196.30 385.78 L196.45 385.88 L196.59 385.98 L196.73 386.07 L196.88 386.16 L197.02 386.26 L197.16 386.35 L197.31 386.44 L197.45 386.53 L197.59 386.62 L197.74 386.71 L197.88 386.80 L198.03 386.89 L198.17 386.98 L198.31 387.06 L198.46 387.15 L198.60 387.24 L198.74 387.32 L198.89 387.40 L199.03 387.49 L199.17 387.57 L199.32 387.65 L199.46 387.73 L199.60 387.82 L199.75 387.90 L199.89 387.98 L200.03 388.06 L200.18 388.13 L200.32 388.21 L200.46 388.29 L200.61 388.37 L200.75 388.44 L200.89 388.52 L201.04 388.59 L201.18 388.67 L201.32 388.74 L201.47 388.82 L201.61 388.89 L201.75 388.96 L201.90 389.04 L202.04 389.11 L202.18 389.18 L202.33 389.25 L202.47 389.32 L202.61 389.39 L202.76 389.46 L202.90 389.53 L203.04 389.60 L203.19 389.67 L203.33 389.74 L203.47 389.81 L203.62 389.87 L203.76 389.94 L203.90 390.01 L204.05 390.07 L204.19 390.14 L204.33 390.21 L204.48 390.27 L204.62 390.34 L204.76 390.40 L204.91 390.47 L205.05 390.53 L205.19 390.59 L205.34 390.66 L205.48 390.72 L205.62 390.79 L205.77 390.85 L205.91 390.91 L206.05 390.97 L206.20 391.04 L206.34 391.10 L206.48 391.16 L206.63 391.22 L206.77 391.28 L206.91 391.34 L207.06 391.40 L207.20 391.47 L207.34 391.53 L207.49 391.59 L207.63 391.65 L207.77 391.71 L207.92 391.77 L208.06 391.83 L208.20 391.89 L208.35 391.95 L208.49 392.01 L208.63 392.07 L208.78 392.13 L208.92 392.19 L209.06 392.25 L209.21 392.31 L209.35 392.36 L209.50 392.42 L209.64 392.48 L209.78 392.54 L209.93 392.60 L210.07 392.66 L210.21 392.71 L210.36 392.77 L210.50 392.83 L210.64 392.89 L210.79 392.95 L210.93 393.00 L211.07 393.06 L211.22 393.12 L211.36 393.17 L211.50 393.23 L211.65 393.29 L211.79 393.34 L211.93 393.40 L212.08 393.45 L212.22 393.51 L212.36 393.57 L212.51 393.62 L212.65 393.68 L212.79 393.73 L212.94 393.79 L213.08 393.84 L213.22 393.90 L213.37 393.95 L213.51 394.00 L213.65 394.06 L213.80 394.11 L213.94 394.16 L214.08 394.22 L214.23 394.27 L214.37 394.32 L214.51 394.38 L214.66 394.43 L214.80 394.48 L214.94 394.53 L215.09 394.59 L215.23 394.64 L215.37 394.69 L215.52 394.74 L215.66 394.79 L215.80 394.84 L215.95 394.90 L216.09 394.95 L216.23 395.00 L216.38 395.05 L216.52 395.10 L216.66 395.15 L216.81 395.20 L216.95 395.25 L217.09 395.30 L217.24 395.35 L217.38 395.39 L217.52 395.44 L217.67 395.49 L217.81 395.54 L217.95 395.59 L218.10 395.64 L218.24 395.68 L218.38 395.73 L218.53 395.78 L218.67 395.83 L218.81 395.87 L218.96 395.92 L219.10 395.97 L219.24 396.01 L219.39 396.06 L219.53 396.11 L219.67 396.15 L219.82 396.20 L219.96 396.24 L220.10 396.29 L220.25 396.33 L220.39 396.38 L220.53 396.42 L220.68 396.47 L220.82 396.51 L220.97 396.55 L221.11 396.60 L221.25 396.64 L221.40 396.68 L221.54 396.73 L221.68 396.77 L221.83 396.81 L221.97 396.85 L222.11 396.90 L222.26 396.94 L222.40 396.98 L222.54 397.02 L222.69 397.06 L222.83 397.10 L222.97 397.14 L223.12 397.19 L223.26 397.23 L223.40 397.27 L223.55 397.31 L223.69 397.34 L223.83 397.38 L223.98 397.42 L224.12 397.46 L224.26 397.50 L224.41 397.54 L224.55 397.58 L224.69 397.62 L224.84 397.65 L224.98 397.69 L225.12 397.73 L225.27 397.76 L225.41 397.80 L225.55 397.84 L225.70 397.87 L225.84 397.91 L225.98 397.95 L226.13 397.98 L226.27 398.02 L226.41 398.05 L226.56 398.09 L226.70 398.12 L226.84 398.15 L226.99 398.19 L227.13 398.22 L227.27 398.26 L227.42 398.29 L227.56 398.32 L227.70 398.36 L227.85 398.39 L227.99 398.42 L228.13 398.45 L228.28 398.48 L228.42 398.52 L228.56 398.55 L228.71 398.58 L228.85 398.61 L228.99 398.64 L229.14 398.67 L229.28 398.70 L229.42 398.74 L229.57 398.77 L229.71 398.80 L229.85 398.83 L230.00 398.86 L230.14 398.89 L230.28 398.92 L230.43 398.95 L230.57 398.98 L230.71 399.01 L230.86 399.04 L231.00 399.07 L231.14 399.10 L231.29 399.13 L231.43 399.16 L231.57 399.19 L231.72 399.22 L231.86 399.25 L232.00 399.28 L232.15 399.31 L232.29 399.34 L232.44 399.37 L232.58 399.39 L232.72 399.42 L232.87 399.45 L233.01 399.48 L233.15 399.51 L233.30 399.54 L233.44 399.56 L233.58 399.59 L233.73 399.62 L233.87 399.65 L234.01 399.67 L234.16 399.70 L234.30 399.73 L234.44 399.76 L234.59 399.78 L234.73 399.81 L234.87 399.84 L235.02 399.86 L235.16 399.89 L235.30 399.91 L235.45 399.94 L235.59 399.97 L235.73 399.99 L235.88 400.02 L236.02 400.04 L236.16 400.07 L236.31 400.09 L236.45 400.12 L236.59 400.14 L236.74 400.17 L236.88 400.19 L237.02 400.21 L237.17 400.24 L237.31 400.26 L237.45 400.29 L237.60 400.31 L237.74 400.33 L237.88 400.36 L238.03 400.38 L238.17 400.40 L238.31 400.42 L238.46 400.45 L238.60 400.47 L238.74 400.49 L238.89 400.51 L239.03 400.53 L239.17 400.55 L239.32 400.58 L239.46 400.60 L239.60 400.62 L239.75 400.64 L239.89 400.66 L240.03 400.68 L240.18 400.70 L240.32 400.72 L240.46 400.74 L240.61 400.76 L240.75 400.78 L240.89 400.79 L241.04 400.81 L241.18 400.83 L241.32 400.85 L241.47 400.87 L241.61 400.89 L241.75 400.90 L241.90 400.92 L242.04 400.94 L242.18 400.95 L242.33 400.97 L242.47 400.99 L242.61 401.00 L242.76 401.02 L242.90 401.04 L243.04 401.05 L243.19 401.07 L243.33 401.08 L243.47 401.10 L243.62 401.11 L243.76 401.12 L243.91 401.14 L244.05 401.15 L244.19 401.17 L244.34 401.18 L244.48 401.20 L244.62 401.21 L244.77 401.23 L244.91 401.24 L245.05 401.25 L245.20 401.27 L245.34 401.28 L245.48 401.30 L245.63 401.31 L245.77 401.33 L245.91 401.34 L246.06 401.36 L246.20 401.37 L246.34 401.39 L246.49 401.40 L246.63 401.41 L246.77 401.43 L246.92 401.44 L247.06 401.46 L247.20 401.47 L247.35 401.48 L247.49 401.50 L247.63 401.51 L247.78 401.52 L247.92 401.54 L248.06 401.55 L248.21 401.56 L248.35 401.57 L248.49 401.59 L248.64 401.60 L248.78 401.61 L248.92 401.62 L249.07 401.63 L249.21 401.65 L249.35 401.66 L249.50 401.67 L249.64 401.68 L249.78 401.69 L249.93 401.70 L250.07 401.71 L250.21 401.72 L250.36 401.73 L250.50 401.74 L250.64 401.74 L250.79 401.75 L250.93 401.76 L251.07 401.77 L251.22 401.77 L251.36 401.78 L251.50 401.79 L251.65 401.79 L251.79 401.80 L251.93 401.80 L252.08 401.81 L252.22 401.81 L252.36 401.82 L252.51 401.82 L252.65 401.82 L252.79 401.83 L252.94 401.83 L253.08 401.83 L253.22 401.83 L253.37 401.83 L253.51 401.83 L253.65 401.83 L253.80 401.83 L253.94 401.83 L254.08 401.83 L254.23 401.82 L254.37 401.82 L254.51 401.81 L254.66 401.81 L254.80 401.80 L254.94 401.79 L255.09 401.78 L255.23 401.78 L255.38 401.77 L255.52 401.75 L255.66 401.74 L255.81 401.73 L255.95 401.72 L256.09 401.70 L256.24 401.69 L256.38 401.67 L256.52 401.66 L256.67 401.64 L256.81 401.63 L256.95 401.61 L257.10 401.59 L257.24 401.57 L257.38 401.55 L257.53 401.53 L257.67 401.51 L257.81 401.49 L257.96 401.47 L258.10 401.45 L258.24 401.43 L258.39 401.40 L258.53 401.38 L258.67 401.36 L258.82 401.33 L258.96 401.31 L259.10 401.28 L259.25 401.26 L259.39 401.23 L259.53 401.20 L259.68 401.18 L259.82 401.15 L259.96 401.12 L260.11 401.09 L260.25 401.07 L260.39 401.04 L260.54 401.01 L260.68 400.98 L260.82 400.95 L260.97 400.92 L261.11 400.89 L261.25 400.86 L261.40 400.83 L261.54 400.80 L261.68 400.77 L261.83 400.74 L261.97 400.70 L262.11 400.67 L262.26 400.64 L262.40 400.61 L262.54 400.58 L262.69 400.55 L262.83 400.51 L262.97 400.48 L263.12 400.45 L263.26 400.42 L263.40 400.38 L263.55 400.35 L263.69 400.31 L263.83 400.28 L263.98 400.24 L264.12 400.20 L264.26 400.15 L264.41 400.11 L264.55 400.07 L264.69 400.02 L264.84 399.97 L264.98 399.92 L265.12 399.87 L265.27 399.82 L265.41 399.77 L265.55 399.71 L265.70 399.66 L265.84 399.60 L265.98 399.54 L266.13 399.48 L266.27 399.42 L266.41 399.36 L266.56 399.29 L266.70 399.23 L266.85 399.16 L266.99 399.09 L267.13 399.03 L267.28 398.96 L267.42 398.89 L267.56 398.81 L267.71 398.74 L267.85 398.67 L267.99 398.59 L268.14 398.51 L268.28 398.44 L268.42 398.36 L268.57 398.28 L268.71 398.20 L268.85 398.11 L269.00 398.03 L269.14 397.95 L269.28 397.86 L269.43 397.77 L269.57 397.69 L269.71 397.60 L269.86 397.50 L270.00 397.41 L270.14 397.31 L270.29 397.20 L270.43 397.09 L270.57 396.98 L270.72 396.87 L270.86 396.75 L271.00 396.62 L271.15 396.50 L271.29 396.36 L271.43 396.23 L271.58 396.09 L271.72 395.94 L271.86 395.79 L272.01 395.63 L272.15 395.47 L272.29 395.31 L272.44 395.14 L272.58 394.96 L272.72 394.80 L272.87 394.70 L273.01 394.61 L273.15 394.44 L273.30 394.13 L273.44 393.60 L273.58 291.29 L273.73 292.45 L273.87 293.60 L274.01 294.72 L274.16 295.84 L274.30 296.93 L274.44 298.00 L274.59 299.05 L274.73 300.08 L274.87 301.09 L275.02 302.07 L275.16 303.02 L275.30 303.96 L275.45 304.87 L275.59 305.76 L275.73 306.64 L275.88 307.50 L276.02 308.34 L276.16 309.17 L276.31 309.99 L276.45 310.79 L276.59 311.58 L276.74 312.37 L276.88 313.14 L277.02 313.90 L277.17 314.66 L277.31 315.41 L277.45 316.16 L277.60 316.90 L277.74 317.64 L277.88 318.37 L278.03 319.10 L278.17 319.82 L278.31 320.54 L278.46 321.25 L278.60 321.96 L278.75 322.66 L278.89 323.35 L279.03 324.04 L279.18 324.72 L279.32 325.39 L279.46 326.05 L279.61 326.70 L279.75 327.34 L279.89 327.98 L280.04 328.60 L280.18 329.21 L280.32 329.82 L280.47 330.41 L280.61 330.99 L280.75 331.56 L280.90 332.13 L281.04 332.70 L281.18 333.26 L281.33 333.82 L281.47 334.38 L281.61 334.93 L281.76 335.47 L281.90 336.02 L282.04 336.56 L282.19 337.09 L282.33 337.62 L282.47 338.15 L282.62 338.67 L282.76 339.18 L282.90 339.69 L283.05 340.20 L283.19 340.70 L283.33 341.19 L283.48 341.68 L283.62 342.16 L283.76 342.64 L283.91 343.11 L284.05 343.58 L284.19 344.04 L284.34 344.49 L284.48 344.94 L284.62 345.37 L284.77 345.81 L284.91 346.23 L285.05 346.65 L285.20 347.06 L285.34 347.47 L285.48 347.87 L285.63 348.26 L285.77 348.64 L285.91 349.01 L286.06 349.39 L286.20 349.75 L286.34 350.11 L286.49 350.47 L286.63 350.83 L286.77 351.18 L286.92 351.52 L287.06 351.87 L287.20 352.20 L287.35 352.54 L287.49 352.87 L287.63 353.20 L287.78 353.52 L287.92 353.84 L288.06 354.16 L288.21 354.48 L288.35 354.79 L288.49 355.10 L288.64 355.40 L288.78 355.70 L288.92 356.00 L289.07 356.30 L289.21 356.59 L289.35 356.88 L289.50 357.17 L289.64 357.45 L289.78 357.73 L289.93 358.01 L290.07 358.29 L290.22 358.56 L290.36 358.84 L290.50 359.11 L290.65 359.37 L290.79 359.64 L290.93 359.90 L291.08 360.16 L291.22 360.42 L291.36 360.68 L291.51 360.94 L291.65 361.19 L291.79 361.44 L291.94 361.69 L292.08 361.94 L292.22 362.19 L292.37 362.43 L292.51 362.68 L292.65 362.92 L292.80 363.15 L292.94 363.39 L293.08 363.62 L293.23 363.85 L293.37 364.08 L293.51 364.31 L293.66 364.53 L293.80 364.76 L293.94 364.98 L294.09 365.19 L294.23 365.41 L294.37 365.63 L294.52 365.84 L294.66 366.05 L294.80 366.26 L294.95 366.47 L295.09 366.68 L295.23 366.89 L295.38 367.09 L295.52 367.30 L295.66 367.50 L295.81 367.70 L295.95 367.90 L296.09 368.10 L296.24 368.30 L296.38 368.50 L296.52 368.69 L296.67 368.89 L296.81 369.09 L296.95 369.28 L297.10 369.48 L297.24 369.67 L297.38 369.87 L297.53 370.06 L297.67 370.25 L297.81 370.45 L297.96 370.64 L298.10 370.83 L298.24 371.03 L298.39 371.22 L298.53 371.41 L298.67 371.61 L298.82 371.80 L298.96 372.00 L299.10 372.19 L299.25 372.39 L299.39 372.58 L299.53 372.78 L299.68 372.98 L299.82 373.18 L299.96 373.38 L300.11 373.58 L300.25 373.78 L300.39 373.99 L300.54 374.19 L300.68 374.40 L300.82 374.60 L300.97 374.81 L301.11 375.02 L301.25 375.22 L301.40 375.43 L301.54 375.64 L301.69 375.85 L301.83 376.05 L301.97 376.26 L302.12 376.47 L302.26 376.68 L302.40 376.88 L302.55 377.09 L302.69 377.29 L302.83 377.50 L302.98 377.70 L303.12 377.90 L303.26 378.10 L303.41 378.30 L303.55 378.50 L303.69 378.70 L303.84 378.90 L303.98 379.09 L304.12 379.29 L304.27 379.48 L304.41 379.67 L304.55 379.86 L304.70 380.04 L304.84 380.23 L304.98 380.41 L305.13 380.59 L305.27 380.77 L305.41 380.94 L305.56 381.11 L305.70 381.28 L305.84 381.45 L305.99 381.62 L306.13 381.78 L306.27 381.94 L306.42 382.09 L306.56 382.24 L306.70 382.39 L306.85 382.54 L306.99 382.68 L307.13 382.82 L307.28 382.95 L307.42 383.08 L307.56 383.21 L307.71 383.33 L307.85 383.45 L307.99 383.57 L308.14 383.68 L308.28 383.80 L308.42 383.91 L308.57 384.02 L308.71 384.13 L308.85 384.24 L309.00 384.35 L309.14 384.46 L309.28 384.57 L309.43 384.67 L309.57 384.78 L309.71 384.88 L309.86 384.99 L310.00 385.09 L310.14 385.19 L310.29 385.29 L310.43 385.39 L310.57 385.49 L310.72 385.59 L310.86 385.69 L311.00 385.78 L311.15 385.88 L311.29 385.98 L311.43 386.07 L311.58 386.16 L311.72 386.26 L311.86 386.35 L312.01 386.44 L312.15 386.53 L312.29 386.62 L312.44 386.71 L312.58 386.80 L312.73 386.89 L312.87 386.98 L313.01 387.06 L313.16 387.15 L313.30 387.24 L313.44 387.32 L313.59 387.40 L313.73 387.49 L313.87 387.57 L314.02 387.65 L314.16 387.73 L314.30 387.82 L314.45 387.90 L314.59 387.98 L314.73 388.06 L314.88 388.13 L315.02 388.21 L315.16 388.29 L315.31 388.37 L315.45 388.44 L315.59 388.52 L315.74 388.59 L315.88 388.67 L316.02 388.74 L316.17 388.82 L316.31 388.89 L316.45 388.96 L316.60 389.04 L316.74 389.11 L316.88 389.18 L317.03 389.25 L317.17 389.32 L317.31 389.39 L317.46 389.46 L317.60 389.53 L317.74 389.60 L317.89 389.67 L318.03 389.74 L318.17 389.81 L318.32 389.87 L318.46 389.94 L318.60 390.01 L318.75 390.07 L318.89 390.14 L319.03 390.21 L319.18 390.27 L319.32 390.34 L319.46 390.40 L319.61 390.47 L319.75 390.53 L319.89 390.59 L320.04 390.66 L320.18 390.72 L320.32 390.79 L320.47 390.85 L320.61 390.91 L320.75 390.97 L320.90 391.04 L321.04 391.10 L321.18 391.16 L321.33 391.22 L321.47 391.28 L321.61 391.34 L321.76 391.40 L321.90 391.47 L322.04 391.53 L322.19 391.59 L322.33 391.65 L322.47 391.71 L322.62 391.77 L322.76 391.83 L322.90 391.89 L323.05 391.95 L323.19 392.01 L323.33 392.07 L323.48 392.13 L323.62 392.19 L323.76 392.25 L323.91 392.31 L324.05 392.36 L324.20 392.42 L324.34 392.48 L324.48 392.54 L324.63 392.60 L324.77 392.66 L324.91 392.71 L325.06 392.77 L325.20 392.83 L325.34 392.89 L325.49 392.95 L325.63 393.00 L325.77 393.06 L325.92 393.12 L326.06 393.17 L326.20 393.23 L326.35 393.29 L326.49 393.34 L326.63 393.40 L326.78 393.45 L326.92 393.51 L327.06 393.57 L327.21 393.62 L327.35 393.68 L327.49 393.73 L327.64 393.79 L327.78 393.84 L327.92 393.90 L328.07 393.95 L328.21 394.00 L328.35 394.06 L328.50 394.11 L328.64 394.16 L328.78 394.22 L328.93 394.27 L329.07 394.32 L329.21 394.38 L329.36 394.43 L329.50 394.48 L329.64 394.53 L329.79 394.59 L329.93 394.64 L330.07 394.69 L330.22 394.74 L330.36 394.79 L330.50 394.84 L330.65 394.90 L330.79 394.95 L330.93 395.00 L331.08 395.05 L331.22 395.10 L331.36 395.15 L331.51 395.20 L331.65 395.25 L331.79 395.30 L331.94 395.35 L332.08 395.39 L332.22 395.44 L332.37 395.49 L332.51 395.54 L332.65 395.59 L332.80 395.64 L332.94 395.68 L333.08 395.73 L333.23 395.78 L333.37 395.83 L333.51 395.87 L333.66 395.92 L333.80 395.97 L333.94 396.01 L334.09 396.06 L334.23 396.11 L334.37 396.15 L334.52 396.20 L334.66 396.24 L334.80 396.29 L334.95 396.33 L335.09 396.38 L335.23 396.42 L335.38 396.47 L335.52 396.51 L335.66 396.55 L335.81 396.60 L335.95 396.64 L336.10 396.68 L336.24 396.73 L336.38 396.77 L336.53 396.81 L336.67 396.85 L336.81 396.90 L336.96 396.94 L337.10 396.98 L337.24 397.02 L337.39 397.06 L337.53 397.10 L337.67 397.14 L337.82 397.19 L337.96 397.23 L338.10 397.27 L338.25 397.31 L338.39 397.34 L338.53 397.38 L338.68 397.42 L338.82 397.46 L338.96 397.50 L339.11 397.54 L339.25 397.58 L339.39 397.62 L339.54 397.65 L339.68 397.69 L339.82 397.73 L339.97 397.76 L340.11 397.80 L340.25 397.84 L340.40 397.87 L340.54 397.91 L340.68 397.95 L340.83 397.98 L340.97 398.02 L341.11 398.05 L341.26 398.09 L341.40 398.12" stroke="#7c3f97"/>
</g>
<rect x="112.0" y="285.5" width="229.39999999999998" height="124.89999999999998" fill="none" stroke="#6e6e6e" stroke-width="1.2"/>
<path d="M169.3 410.4v-2.5M169.3 285.5v2.5" stroke="#6e6e6e" stroke-width="1"/>
<path d="M226.7 410.4v-2.5M226.7 285.5v2.5" stroke="#6e6e6e" stroke-width="1"/>
<path d="M284.1 410.4v-2.5M284.1 285.5v2.5" stroke="#6e6e6e" stroke-width="1"/>
<path d="M112.0 383.5h2.5M341.4 383.5h-2.5" stroke="#6e6e6e" stroke-width="1"/>
<path d="M112.0 347.9h2.5M341.4 347.9h-2.5" stroke="#6e6e6e" stroke-width="1"/>
<path d="M112.0 312.3h2.5M341.4 312.3h-2.5" stroke="#6e6e6e" stroke-width="1"/>
<text x="105.3" y="388.5" text-anchor="end">0</text>
<text x="105.3" y="352.9" text-anchor="end">20</text>
<text x="105.3" y="317.3" text-anchor="end">40</text>
<text x="112.0" y="430" text-anchor="middle">0</text>
<text x="169.3" y="430" text-anchor="middle"><tspan font-family="Liberation Serif" font-style="italic" font-size="16.5">π</tspan></text>
<text x="226.7" y="430" text-anchor="middle">2<tspan font-family="Liberation Serif" font-style="italic" font-size="16.5">π</tspan></text>
<text x="284.1" y="430" text-anchor="middle">3<tspan font-family="Liberation Serif" font-style="italic" font-size="16.5">π</tspan></text>
<text x="341.4" y="430" text-anchor="middle">4<tspan font-family="Liberation Serif" font-style="italic" font-size="16.5">π</tspan></text>
<text x="226" y="447.5" text-anchor="middle" font-size="13.5"><tspan font-family="Liberation Serif" font-style="italic" font-size="16">ωτ</tspan>, rad</text>
<text transform="translate(80.8 348) rotate(-90)" text-anchor="middle" font-size="14.6">Pressure, MPa</text>
<text x="213.5" y="297.5" font-size="12.3" fill="#222"><tspan font-style="italic" font-weight="700">p</tspan><tspan font-size="7" dy="2">0</tspan><tspan dy="-2">, MPa</tspan></text>
<line x1="210.3" y1="308.1" x2="235" y2="308.1" stroke="#a9c65b" stroke-width="1.35"/>
<text x="242.8" y="312.5" font-size="12.4" fill="#222">0.5</text>
<line x1="210.3" y1="322.6" x2="235" y2="322.6" stroke="#d8693a" stroke-width="1.35"/>
<text x="242.8" y="327.0" font-size="12.4" fill="#222">1.0</text>
<line x1="210.3" y1="337.1" x2="235" y2="337.1" stroke="#2596c6" stroke-width="1.35"/>
<text x="242.8" y="341.5" font-size="12.4" fill="#222">1.4</text>
<line x1="210.3" y1="351.6" x2="235" y2="351.6" stroke="#7c3f97" stroke-width="1.35"/>
<text x="242.8" y="356.0" font-size="12.4" fill="#222">2.0</text>
</g>
<text stroke="#111" stroke-width="0.3" transform="translate(685.60 172.8) scale(1.1764 1)" font-size="20.6" fill="#111">M.M.</text>
<text stroke="#111" stroke-width="0.3" transform="translate(748.10 172.8) scale(1.0386 1)" font-size="20.6" fill="#111">Karzova,</text>
<text stroke="#111" stroke-width="0.3" transform="translate(842.80 172.8) scale(1.0465 1)" font-size="20.6" fill="#111">P.V.</text>
<text stroke="#111" stroke-width="0.3" transform="translate(684.70 205.3) scale(1.0857 1)" font-size="20.6" fill="#111">Yuldashev,</text>
<text stroke="#111" stroke-width="0.3" transform="translate(802.80 205.3) scale(1.0787 1)" font-size="20.6" fill="#111">V.A.</text>
<text stroke="#111" stroke-width="0.3" transform="translate(852.20 205.3) scale(1.0787 1)" font-size="20.6" fill="#111">Khokhlova,</text>
<text stroke="#111" stroke-width="0.3" transform="translate(685.60 237.6) scale(1.0131 1)" font-size="20.6" fill="#111">F.A.</text>
<text stroke="#111" stroke-width="0.3" transform="translate(730.90 237.6) scale(1.1419 1)" font-size="20.6" fill="#111">Nartov,</text>
<text stroke="#111" stroke-width="0.3" transform="translate(815.30 237.6) scale(0.9736 1)" font-size="20.6" fill="#111">K.P.</text>
<text stroke="#111" stroke-width="0.3" transform="translate(860.60 237.6) scale(1.1467 1)" font-size="20.6" fill="#111">Morrison,</text>
<text stroke="#111" stroke-width="0.3" transform="translate(685.60 269.9) scale(1.0465 1)" font-size="20.6" fill="#111">and</text>
<text stroke="#111" stroke-width="0.3" transform="translate(729.40 269.9) scale(1.0909 1)" font-size="20.6" fill="#111">T.D.</text>
<text stroke="#111" stroke-width="0.3" transform="translate(777.80 269.9) scale(1.0513 1)" font-size="20.6" fill="#111">Khokhlova.</text>
<text stroke="#111" stroke-width="0.3" transform="translate(899.70 269.9) scale(1.0785 1)" font-size="20.6" fill="#111">Dual-</text>
<text stroke="#111" stroke-width="0.3" transform="translate(685.60 303.0) scale(0.9890 1)" font-size="20.6" fill="#111">use</text>
<text stroke="#111" stroke-width="0.3" transform="translate(727.80 303.0) scale(1.1075 1)" font-size="20.6" fill="#111">transducer</text>
<text stroke="#111" stroke-width="0.3" transform="translate(846.60 303.0) scale(1.1709 1)" font-size="20.6" fill="#111">for</text>
<text stroke="#111" stroke-width="0.3" transform="translate(685.60 335.3) scale(1.1372 1)" font-size="20.6" fill="#111">ultrasound</text>
<text stroke="#111" stroke-width="0.3" transform="translate(804.40 335.3) scale(1.1262 1)" font-size="20.6" fill="#111">imaging</text>
<text stroke="#111" stroke-width="0.3" transform="translate(893.40 335.3) scale(1.0465 1)" font-size="20.6" fill="#111">and</text>
<text stroke="#111" stroke-width="0.3" transform="translate(685.60 367.6) scale(1.0830 1)" font-size="20.6" fill="#111">pulsed</text>
<text stroke="#111" stroke-width="0.3" transform="translate(760.60 367.6) scale(1.0831 1)" font-size="20.6" fill="#111">focused</text>
<text stroke="#111" stroke-width="0.3" transform="translate(848.10 367.6) scale(1.1372 1)" font-size="20.6" fill="#111">ultrasound</text>
<text stroke="#111" stroke-width="0.3" transform="translate(686.30 400.1) scale(0.9890 1)" font-size="20.6" fill="#111">(pFUS)</text>
<text stroke="#111" stroke-width="0.3" transform="translate(760.60 400.1) scale(1.1354 1)" font-size="20.6" fill="#111">therapy.</text>
<text stroke="#111" stroke-width="0.3" transform="translate(854.40 400.1) scale(0.8644 1)" font-size="20.6" fill="#111">IEEE</text>
<text stroke="#111" stroke-width="0.3" transform="translate(685.60 432.6) scale(0.9599 1)" font-size="20.6" fill="#111">TUFFC,</text>
<text stroke="#111" stroke-width="0.3" transform="translate(763.80 432.6) scale(1.1327 1)" font-size="20.6" fill="#111">68(9):</text>
<text stroke="#111" stroke-width="0.3" transform="translate(830.90 432.6) scale(1.1197 1)" font-size="20.6" fill="#111">2930–2941.</text>
<path d="M748.0 175.9L749.8 174.8L751.6 177.0L753.4 174.8L755.2 177.0L757.0 174.8L758.8 177.0L760.6 174.8L762.4 177.0L764.2 174.8L766.0 177.0L767.8 174.8L769.6 177.0L771.4 174.8L773.2 177.0L775.0 174.8L776.8 177.0L778.6 174.8L780.4 177.0L782.2 174.8L784.0 177.0L785.8 174.8L787.6 177.0L789.4 174.8L791.2 177.0L793.0 174.8L794.8 177.0L796.6 174.8L798.4 177.0L800.2 174.8L802.0 177.0L803.8 174.8L805.6 177.0L807.4 174.8L809.2 177.0L811.0 174.8L812.8 177.0L814.6 174.8L816.4 177.0L818.2 174.8L820.0 177.0L821.8 174.8L823.6 177.0L825.4 174.8L827.2 177.0L827.8 174.8" fill="none" stroke="#e5533d" stroke-width="0.75" opacity="0.85"/>
<path d="M684.7 208.4L686.5 207.3L688.3 209.5L690.1 207.3L691.9 209.5L693.7 207.3L695.5 209.5L697.3 207.3L699.1 209.5L700.9 207.3L702.7 209.5L704.5 207.3L706.3 209.5L708.1 207.3L709.9 209.5L711.7 207.3L713.5 209.5L715.3 207.3L717.1 209.5L718.9 207.3L720.7 209.5L722.5 207.3L724.3 209.5L726.1 207.3L727.9 209.5L729.7 207.3L731.5 209.5L733.3 207.3L735.1 209.5L736.9 207.3L738.7 209.5L740.5 207.3L742.3 209.5L744.1 207.3L745.9 209.5L747.7 207.3L749.5 209.5L751.3 207.3L753.1 209.5L754.9 207.3L756.7 209.5L758.5 207.3L760.3 209.5L762.1 207.3L763.9 209.5L765.7 207.3L767.5 209.5L769.3 207.3L771.1 209.5L772.9 207.3L774.7 209.5L776.5 207.3L778.3 209.5L780.1 207.3L781.9 209.5L783.7 207.3L785.5 209.5L787.3 207.3L788.8 209.5" fill="none" stroke="#e5533d" stroke-width="0.75" opacity="0.85"/>
<path d="M852.2 208.4L854.0 207.3L855.8 209.5L857.6 207.3L859.4 209.5L861.2 207.3L863.0 209.5L864.8 207.3L866.6 209.5L868.4 207.3L870.2 209.5L872.0 207.3L873.8 209.5L875.6 207.3L877.4 209.5L879.2 207.3L881.0 209.5L882.8 207.3L884.6 209.5L886.4 207.3L888.2 209.5L890.0 207.3L891.8 209.5L893.6 207.3L895.4 209.5L897.2 207.3L899.0 209.5L900.8 207.3L902.6 209.5L904.4 207.3L906.2 209.5L908.0 207.3L909.8 209.5L911.6 207.3L913.4 209.5L915.2 207.3L917.0 209.5L918.8 207.3L920.6 209.5L922.4 207.3L924.2 209.5L926.0 207.3L927.8 209.5L929.6 207.3L931.4 209.5L933.2 207.3L935.0 209.5L936.8 207.3L938.6 209.5L940.4 207.3L942.2 209.5L944.0 207.3L945.8 209.5L947.6 207.3L949.4 209.5L951.2 207.3L953.0 209.5L954.8 207.3L956.6 209.5L956.9 207.3" fill="none" stroke="#e5533d" stroke-width="0.75" opacity="0.85"/>
<path d="M730.9 240.7L732.7 239.6L734.5 241.8L736.3 239.6L738.1 241.8L739.9 239.6L741.7 241.8L743.5 239.6L745.3 241.8L747.1 239.6L748.9 241.8L750.7 239.6L752.5 241.8L754.3 239.6L756.1 241.8L757.9 239.6L759.7 241.8L761.5 239.6L763.3 241.8L765.1 239.6L766.9 241.8L768.7 239.6L770.5 241.8L772.3 239.6L774.1 241.8L775.9 239.6L777.7 241.8L779.5 239.6L781.3 241.8L783.1 239.6L784.9 241.8L786.7 239.6L788.5 241.8L790.3 239.6L792.1 241.8L793.9 239.6L795.7 241.8L797.5 239.6L799.3 241.8L801.1 239.6L801.3 241.8" fill="none" stroke="#e5533d" stroke-width="0.75" opacity="0.85"/>
<path d="M777.8 273.0L779.6 271.9L781.4 274.1L783.2 271.9L785.0 274.1L786.8 271.9L788.6 274.1L790.4 271.9L792.2 274.1L794.0 271.9L795.8 274.1L797.6 271.9L799.4 274.1L801.2 271.9L803.0 274.1L804.8 271.9L806.6 274.1L808.4 271.9L810.2 274.1L812.0 271.9L813.8 274.1L815.6 271.9L817.4 274.1L819.2 271.9L821.0 274.1L822.8 271.9L824.6 274.1L826.4 271.9L828.2 274.1L830.0 271.9L831.8 274.1L833.6 271.9L835.4 274.1L837.2 271.9L839.0 274.1L840.8 271.9L842.6 274.1L844.4 271.9L846.2 274.1L848.0 271.9L849.8 274.1L851.6 271.9L853.4 274.1L855.2 271.9L857.0 274.1L858.8 271.9L860.6 274.1L862.4 271.9L864.2 274.1L866.0 271.9L867.8 274.1L869.6 271.9L871.4 274.1L873.2 271.9L875.0 274.1L876.8 271.9L878.6 274.1L880.4 271.9L882.2 274.1L882.5 271.9" fill="none" stroke="#e5533d" stroke-width="0.75" opacity="0.85"/>
<path d="M693.4 403.2L695.2 402.1L697.0 404.3L698.8 402.1L700.6 404.3L702.4 402.1L704.2 404.3L706.0 402.1L707.8 404.3L709.6 402.1L711.4 404.3L713.2 402.1L715.0 404.3L716.8 402.1L718.6 404.3L720.4 402.1L722.2 404.3L724.0 402.1L725.8 404.3L727.6 402.1L729.4 404.3L731.2 402.1L733.0 404.3L734.8 402.1L736.6 404.3L738.4 402.1L740.2 404.3L742.0 402.1L743.8 404.3L745.0 402.1" fill="none" stroke="#e5533d" stroke-width="0.75" opacity="0.85"/>
<defs><filter id="jet" x="-5%" y="-10%" width="110%" height="120%" color-interpolation-filters="sRGB"><feGaussianBlur stdDeviation="1.4"/><feComponentTransfer><feFuncR type="table" tableValues="0 0 0 0 0 0 0 0 0 0 0 0 0 0.125 0.25 0.375 0.5 0.625 0.75 0.875 1 1 1 1 1 1 1 1 1 0.875 0.75 0.625 0.5"/><feFuncG type="table" tableValues="0 0 0 0 0 0.125 0.25 0.375 0.5 0.625 0.75 0.875 1 1 1 1 1 1 1 1 1 0.875 0.75 0.625 0.5 0.375 0.25 0.125 0 0 0 0 0"/><feFuncB type="table" tableValues="0.5 0.625 0.75 0.875 1 1 1 1 1 1 1 1 1 0.875 0.75 0.625 0.5 0.375 0.25 0.125 0 0 0 0 0 0 0 0 0 0 0 0 0"/><feFuncA type="linear" slope="100" intercept="0"/></feComponentTransfer></filter><filter id="soft2" x="-2%" y="-5%" width="104%" height="110%"><feGaussianBlur stdDeviation="0.45"/></filter></defs>
<clipPath id="cpc"><rect x="0" y="0" width="217.0" height="67.1"/></clipPath>
<g transform="translate(410.3 134.7)" filter="url(#soft2)"><g clip-path="url(#cpc)"><g filter="url(#jet)">
<rect x="-6.0" y="-6.1" width="229.1" height="79.3" fill="#000"/>
<g transform="scale(3.0139 3.0500)" shape-rendering="crispEdges">
<path fill="#020202" d="M32 5h1v1h-1z"/>
<path fill="#030303" d="M28 2h1v1h-1zM38 16h1v1h-1zM42 19h2v1h-2zM39 20h1v1h-1z"/>
<path fill="#040404" d="M30 1h1v1h-1zM38 20h1v1h-1zM52 21h2v1h-2zM52 22h2v1h-2zM52 23h2v1h-2z"/>
<path fill="#050505" d="M41 15h1v1h-1zM46 18h1v1h-1zM57 20h1v1h-1zM51 21h1v1h-1zM71 21h3v1h-3zM51 22h1v1h-1zM71 22h3v1h-3zM51 23h1v1h-1zM71 23h3v1h-3z"/>
<path fill="#060606" d="M22 -2h1v1h-1zM22 -1h1v1h-1zM22 0h1v1h-1zM37 16h1v1h-1zM47 18h1v1h-1zM61 19h1v1h-1zM56 20h1v1h-1zM58 20h1v1h-1zM35 21h1v1h-1zM54 21h1v1h-1zM70 21h1v1h-1zM35 22h1v1h-1zM54 22h1v1h-1zM70 22h1v1h-1zM35 23h1v1h-1zM54 23h1v1h-1zM70 23h1v1h-1z"/>
<path fill="#070707" d="M33 -2h1v1h-1zM33 -1h1v1h-1zM33 0h1v1h-1zM31 1h1v1h-1zM50 17h1v1h-1zM69 17h5v1h-5zM45 18h1v1h-1zM65 18h2v1h-2zM41 19h1v1h-1zM44 19h1v1h-1zM60 19h1v1h-1zM62 19h1v1h-1zM40 20h1v1h-1zM55 20h1v1h-1zM34 21h1v1h-1zM69 21h1v1h-1zM34 22h1v1h-1zM69 22h1v1h-1zM34 23h1v1h-1zM69 23h1v1h-1z"/>
<path fill="#080808" d="M20 1h1v1h-1zM36 12h1v1h-1zM71 16h3v1h-3zM51 17h1v1h-1zM68 17h1v1h-1zM64 18h1v1h-1zM67 18h2v1h-2zM59 19h1v1h-1zM63 19h1v1h-1zM37 20h1v1h-1zM59 20h1v1h-1zM36 21h1v1h-1zM50 21h1v1h-1zM55 21h1v1h-1zM36 22h1v1h-1zM50 22h1v1h-1zM55 22h1v1h-1zM36 23h1v1h-1zM50 23h1v1h-1zM55 23h1v1h-1z"/>
<path fill="#090909" d="M23 -2h1v1h-1zM32 -2h1v1h-1zM23 -1h1v1h-1zM32 -1h1v1h-1zM23 0h1v1h-1zM32 0h1v1h-1zM42 15h1v1h-1zM34 17h1v1h-1zM49 17h1v1h-1zM67 17h1v1h-1zM48 18h1v1h-1zM63 18h1v1h-1zM69 18h5v1h-5zM64 19h2v1h-2zM54 20h1v1h-1zM60 20h1v1h-1zM71 20h3v1h-3zM56 21h1v1h-1zM68 21h1v1h-1zM56 22h1v1h-1zM68 22h1v1h-1zM56 23h1v1h-1zM68 23h1v1h-1z"/>
<path fill="#0a0a0a" d="M12 -2h2v1h-2zM21 -2h1v1h-1zM12 -1h2v1h-2zM21 -1h1v1h-1zM12 0h2v1h-2zM21 0h1v1h-1zM26 3h1v1h-1zM37 12h1v1h-1zM40 15h1v1h-1zM39 16h1v1h-1zM53 16h2v1h-2zM70 16h1v1h-1zM35 17h1v1h-1zM66 17h1v1h-1zM62 18h1v1h-1zM58 19h1v1h-1zM66 19h1v1h-1zM71 19h3v1h-3zM61 20h1v1h-1zM70 20h1v1h-1zM49 21h1v1h-1zM67 21h1v1h-1zM49 22h1v1h-1zM67 22h1v1h-1zM49 23h1v1h-1zM67 23h1v1h-1z"/>
<path fill="#0b0b0b" d="M4 -2h1v1h-1zM4 -1h1v1h-1zM4 0h1v1h-1zM19 1h1v1h-1zM27 2h1v1h-1zM25 3h1v1h-1zM44 14h1v1h-1zM55 16h1v1h-1zM69 16h1v1h-1zM52 17h1v1h-1zM45 19h1v1h-1zM67 19h4v1h-4zM41 20h1v1h-1zM53 20h1v1h-1zM62 20h1v1h-1zM68 20h2v1h-2zM33 21h1v1h-1zM57 21h1v1h-1zM66 21h1v1h-1zM33 22h1v1h-1zM57 22h1v1h-1zM66 22h1v1h-1zM33 23h1v1h-1zM57 23h1v1h-1zM66 23h1v1h-1z"/>
<path fill="#0c0c0c" d="M3 -2h1v1h-1zM3 -1h1v1h-1zM3 0h1v1h-1zM10 1h1v1h-1zM18 2h1v1h-1zM29 2h1v1h-1zM45 14h1v1h-1zM57 15h2v1h-2zM48 17h1v1h-1zM65 17h1v1h-1zM44 18h1v1h-1zM49 18h1v1h-1zM61 18h1v1h-1zM40 19h1v1h-1zM57 19h1v1h-1zM63 20h2v1h-2zM66 20h2v1h-2zM37 21h1v1h-1zM58 21h1v1h-1zM65 21h1v1h-1zM37 22h1v1h-1zM58 22h1v1h-1zM65 22h1v1h-1zM37 23h1v1h-1zM58 23h1v1h-1zM65 23h1v1h-1z"/>
<path fill="#0d0d0d" d="M11 -2h1v1h-1zM11 -1h1v1h-1zM11 0h1v1h-1zM2 1h1v1h-1zM11 1h1v1h-1zM21 1h1v1h-1zM29 1h1v1h-1zM17 2h1v1h-1zM59 15h1v1h-1zM71 15h3v1h-3zM52 16h1v1h-1zM56 16h1v1h-1zM68 16h1v1h-1zM53 17h1v1h-1zM65 20h1v1h-1zM48 21h1v1h-1zM59 21h1v1h-1zM63 21h2v1h-2zM48 22h1v1h-1zM59 22h1v1h-1zM63 22h2v1h-2zM48 23h1v1h-1zM59 23h1v1h-1zM63 23h2v1h-2z"/>
<path fill="#0e0e0e" d="M5 -2h1v1h-1zM14 -2h1v1h-1zM34 -2h1v1h-1zM5 -1h1v1h-1zM14 -1h1v1h-1zM34 -1h1v1h-1zM5 0h1v1h-1zM14 0h1v1h-1zM34 0h1v1h-1zM1 1h1v1h-1zM70 12h4v1h-4zM61 14h2v1h-2zM56 15h1v1h-1zM70 15h1v1h-1zM67 16h1v1h-1zM64 17h1v1h-1zM60 18h1v1h-1zM46 19h1v1h-1zM56 19h1v1h-1zM36 20h1v1h-1zM42 20h1v1h-1zM52 20h1v1h-1zM60 21h3v1h-3zM60 22h3v1h-3zM60 23h3v1h-3z"/>
<path fill="#0f0f0f" d="M2 -2h1v1h-1zM2 -1h1v1h-1zM2 0h1v1h-1zM9 1h1v1h-1zM8 2h1v1h-1zM71 11h3v1h-3zM68 12h2v1h-2zM64 13h4v1h-4zM60 14h1v1h-1zM63 14h1v1h-1zM43 15h1v1h-1zM60 15h1v1h-1zM36 16h1v1h-1zM57 16h1v1h-1zM33 17h1v1h-1zM36 17h1v1h-1zM63 17h1v1h-1zM50 18h1v1h-1zM38 21h1v1h-1zM38 22h1v1h-1zM38 23h1v1h-1z"/>
<path fill="#101010" d="M20 -2h1v1h-1zM24 -2h1v1h-1zM20 -1h1v1h-1zM24 -1h1v1h-1zM20 0h1v1h-1zM24 0h1v1h-1zM3 1h1v1h-1zM-2 2h3v1h-3zM9 2h1v1h-1zM15 3h1v1h-1zM23 4h1v1h-1zM70 11h1v1h-1zM67 12h1v1h-1zM68 13h6v1h-6zM43 14h1v1h-1zM46 14h1v1h-1zM59 14h1v1h-1zM64 14h1v1h-1zM71 14h3v1h-3zM55 15h1v1h-1zM61 15h1v1h-1zM69 15h1v1h-1zM51 16h1v1h-1zM66 16h1v1h-1zM47 17h1v1h-1zM54 17h1v1h-1zM43 18h1v1h-1zM59 18h1v1h-1zM55 19h1v1h-1zM51 20h1v1h-1zM32 21h1v1h-1zM47 21h1v1h-1zM32 22h1v1h-1zM47 22h1v1h-1zM32 23h1v1h-1zM47 23h1v1h-1z"/>
<path fill="#111111" d="M31 -2h1v1h-1zM31 -1h1v1h-1zM31 0h1v1h-1zM-2 1h3v1h-3zM12 1h1v1h-1zM18 1h1v1h-1zM7 2h1v1h-1zM19 2h1v1h-1zM16 3h1v1h-1zM31 5h1v1h-1zM47 13h2v1h-2zM63 13h1v1h-1zM65 14h2v1h-2zM70 14h1v1h-1zM62 15h1v1h-1zM68 15h1v1h-1zM40 16h1v1h-1zM58 16h1v1h-1zM65 16h1v1h-1zM62 17h1v1h-1zM31 18h1v1h-1zM51 18h1v1h-1zM39 19h1v1h-1zM47 19h1v1h-1zM43 20h1v1h-1z"/>
<path fill="#121212" d="M1 -2h1v1h-1zM6 -2h1v1h-1zM10 -2h1v1h-1zM1 -1h1v1h-1zM6 -1h1v1h-1zM10 -1h1v1h-1zM1 0h1v1h-1zM6 0h1v1h-1zM10 0h1v1h-1zM32 1h1v1h-1zM1 2h1v1h-1zM16 2h1v1h-1zM6 3h1v1h-1zM27 3h1v1h-1zM24 4h1v1h-1zM34 4h1v1h-1zM69 11h1v1h-1zM66 12h1v1h-1zM67 14h3v1h-3zM39 15h1v1h-1zM63 15h1v1h-1zM67 15h1v1h-1zM59 16h1v1h-1zM55 17h1v1h-1zM61 17h1v1h-1zM58 18h1v1h-1zM54 19h1v1h-1zM50 20h1v1h-1zM39 21h1v1h-1zM46 21h1v1h-1zM39 22h1v1h-1zM46 22h1v1h-1zM39 23h1v1h-1zM46 23h1v1h-1z"/>
<path fill="#131313" d="M15 -2h1v1h-1zM15 -1h1v1h-1zM15 0h1v1h-1zM8 1h1v1h-1zM22 1h1v1h-1zM7 3h1v1h-1zM49 13h1v1h-1zM62 13h1v1h-1zM58 14h1v1h-1zM54 15h1v1h-1zM64 15h3v1h-3zM50 16h1v1h-1zM60 16h1v1h-1zM63 16h2v1h-2zM56 17h1v1h-1zM60 17h1v1h-1zM32 18h1v1h-1zM52 18h1v1h-1zM57 18h1v1h-1zM48 19h1v1h-1zM53 19h1v1h-1zM35 20h1v1h-1zM44 20h1v1h-1zM49 20h1v1h-1z"/>
<path fill="#141414" d="M-2 -2h3v1h-3zM-2 -1h3v1h-3zM-2 0h3v1h-3zM4 1h1v1h-1zM10 2h1v1h-1zM26 2h1v1h-1zM5 3h1v1h-1zM14 3h1v1h-1zM24 3h1v1h-1zM13 4h1v1h-1zM71 10h3v1h-3zM68 11h1v1h-1zM65 12h1v1h-1zM61 16h2v1h-2zM37 17h1v1h-1zM46 17h1v1h-1zM57 17h3v1h-3zM30 18h1v1h-1zM42 18h1v1h-1zM53 18h1v1h-1zM56 18h1v1h-1zM49 19h1v1h-1zM52 19h1v1h-1zM40 21h1v1h-1zM45 21h1v1h-1zM40 22h1v1h-1zM45 22h1v1h-1zM40 23h1v1h-1zM45 23h1v1h-1z"/>
<path fill="#151515" d="M7 -2h1v1h-1zM9 -2h1v1h-1zM19 -2h1v1h-1zM7 -1h1v1h-1zM9 -1h1v1h-1zM19 -1h1v1h-1zM7 0h1v1h-1zM9 0h1v1h-1zM19 0h1v1h-1zM13 1h1v1h-1zM28 1h1v1h-1zM17 3h1v1h-1zM22 4h1v1h-1zM30 6h1v1h-1zM39 11h1v1h-1zM34 13h1v1h-1zM46 13h1v1h-1zM61 13h1v1h-1zM47 14h1v1h-1zM44 15h1v1h-1zM54 18h2v1h-2zM50 19h2v1h-2zM45 20h4v1h-4zM31 21h1v1h-1zM41 21h1v1h-1zM44 21h1v1h-1zM31 22h1v1h-1zM41 22h1v1h-1zM44 22h1v1h-1zM31 23h1v1h-1zM41 23h1v1h-1zM44 23h1v1h-1z"/>
<path fill="#161616" d="M8 -2h1v1h-1zM25 -2h1v1h-1zM8 -1h1v1h-1zM25 -1h1v1h-1zM8 0h1v1h-1zM25 0h1v1h-1zM17 1h1v1h-1zM2 2h1v1h-1zM6 2h1v1h-1zM30 2h1v1h-1zM4 4h1v1h-1zM14 4h1v1h-1zM21 5h1v1h-1zM29 6h1v1h-1zM70 10h1v1h-1zM51 12h1v1h-1zM42 14h1v1h-1zM57 14h1v1h-1zM53 15h1v1h-1zM41 16h1v1h-1zM33 18h1v1h-1zM38 19h1v1h-1zM42 21h2v1h-2zM42 22h2v1h-2zM42 23h2v1h-2z"/>
<path fill="#171717" d="M16 -2h1v1h-1zM30 -2h1v1h-1zM16 -1h1v1h-1zM30 -1h1v1h-1zM16 0h1v1h-1zM30 0h1v1h-1zM5 1h1v1h-1zM7 1h1v1h-1zM15 2h1v1h-1zM20 2h1v1h-1zM8 3h1v1h-1zM5 4h1v1h-1zM12 4h1v1h-1zM35 4h1v1h-1zM67 11h1v1h-1zM50 12h1v1h-1zM52 12h1v1h-1zM64 12h1v1h-1zM50 13h1v1h-1zM35 16h1v1h-1zM49 16h1v1h-1zM32 17h1v1h-1zM45 17h1v1h-1zM34 20h1v1h-1z"/>
<path fill="#181818" d="M17 -2h2v1h-2zM35 -2h1v1h-1zM17 -1h2v1h-2zM35 -1h1v1h-1zM17 0h2v1h-2zM35 0h1v1h-1zM6 1h1v1h-1zM11 2h1v1h-1zM3 4h1v1h-1zM33 5h1v1h-1zM60 13h1v1h-1zM41 18h1v1h-1z"/>
<path fill="#191919" d="M14 1h1v1h-1zM16 1h1v1h-1zM23 1h1v1h-1zM3 2h1v1h-1zM5 2h1v1h-1zM-2 3h3v1h-3zM4 3h1v1h-1zM13 3h1v1h-1zM71 9h3v1h-3zM69 10h1v1h-1zM40 11h1v1h-1zM38 12h1v1h-1zM63 12h1v1h-1zM33 13h1v1h-1zM56 14h1v1h-1zM45 15h1v1h-1zM38 17h1v1h-1z"/>
<path fill="#1a1a1a" d="M15 1h1v1h-1zM4 2h1v1h-1zM25 4h1v1h-1zM11 5h1v1h-1zM20 5h1v1h-1zM22 5h1v1h-1zM66 11h1v1h-1zM53 12h1v1h-1zM48 14h1v1h-1zM38 15h1v1h-1zM52 15h1v1h-1zM42 16h1v1h-1zM48 16h1v1h-1zM29 18h1v1h-1zM34 18h1v1h-1zM37 19h1v1h-1z"/>
<path fill="#1b1b1b" d="M26 -2h1v1h-1zM26 -1h1v1h-1zM26 0h1v1h-1zM27 1h1v1h-1zM12 2h1v1h-1zM14 2h1v1h-1zM25 2h1v1h-1zM23 3h1v1h-1zM15 4h1v1h-1zM33 4h1v1h-1zM2 5h1v1h-1zM68 10h1v1h-1zM54 11h2v1h-2zM49 12h1v1h-1zM45 13h1v1h-1zM51 13h1v1h-1zM59 13h1v1h-1zM44 17h1v1h-1zM40 18h1v1h-1zM28 19h1v1h-1zM30 21h1v1h-1zM30 22h1v1h-1zM30 23h1v1h-1z"/>
<path fill="#1c1c1c" d="M29 -2h1v1h-1zM29 -1h1v1h-1zM29 0h1v1h-1zM33 1h1v1h-1zM13 2h1v1h-1zM1 3h1v1h-1zM3 3h1v1h-1zM9 3h1v1h-1zM18 3h1v1h-1zM28 3h1v1h-1zM2 4h1v1h-1zM6 4h1v1h-1zM11 4h1v1h-1zM3 5h1v1h-1zM10 5h1v1h-1zM12 5h1v1h-1zM70 9h1v1h-1zM53 11h1v1h-1zM65 11h1v1h-1zM62 12h1v1h-1zM35 13h1v1h-1zM55 14h1v1h-1zM51 15h1v1h-1zM39 17h1v1h-1zM29 19h1v1h-1zM33 20h1v1h-1z"/>
<path fill="#1d1d1d" d="M24 1h1v1h-1zM21 2h1v1h-1zM2 3h1v1h-1zM12 3h1v1h-1zM21 4h1v1h-1zM1 5h1v1h-1zM71 6h3v1h-3zM71 8h3v1h-3zM56 11h1v1h-1zM35 12h1v1h-1zM54 12h1v1h-1zM49 14h1v1h-1zM46 15h1v1h-1zM43 16h1v1h-1zM47 16h1v1h-1zM43 17h1v1h-1zM35 18h1v1h-1zM27 19h1v1h-1zM36 19h1v1h-1z"/>
<path fill="#1e1e1e" d="M27 -2h2v1h-2zM27 -1h2v1h-2zM27 0h2v1h-2zM71 5h3v1h-3zM70 6h1v1h-1zM70 7h4v1h-4zM69 9h1v1h-1zM57 10h2v1h-2zM67 10h1v1h-1zM61 12h1v1h-1zM52 13h1v1h-1zM58 13h1v1h-1zM41 14h1v1h-1zM54 14h1v1h-1zM50 15h1v1h-1zM46 16h1v1h-1zM40 17h1v1h-1zM42 17h1v1h-1zM39 18h1v1h-1zM30 19h1v1h-1z"/>
<path fill="#1f1f1f" d="M25 1h2v1h-2zM24 2h1v1h-1zM10 3h2v1h-2zM1 4h1v1h-1zM19 6h1v1h-1zM69 7h1v1h-1zM70 8h1v1h-1zM59 10h1v1h-1zM57 11h1v1h-1zM64 11h1v1h-1zM47 15h1v1h-1zM44 16h2v1h-2zM41 17h1v1h-1zM36 18h1v1h-1zM38 18h1v1h-1zM35 19h1v1h-1zM29 21h1v1h-1zM29 22h1v1h-1zM29 23h1v1h-1z"/>
<path fill="#202020" d="M22 2h1v1h-1zM31 2h1v1h-1zM7 4h1v1h-1zM4 5h1v1h-1zM19 5h1v1h-1zM9 6h1v1h-1zM18 6h1v1h-1zM69 6h1v1h-1zM67 7h2v1h-2zM68 8h2v1h-2zM61 9h1v1h-1zM68 9h1v1h-1zM56 10h1v1h-1zM66 10h1v1h-1zM38 11h1v1h-1zM52 11h1v1h-1zM48 12h1v1h-1zM55 12h1v1h-1zM57 13h1v1h-1zM50 14h1v1h-1zM53 14h1v1h-1zM48 15h2v1h-2zM34 16h1v1h-1zM31 17h1v1h-1zM37 18h1v1h-1zM31 19h1v1h-1zM32 20h1v1h-1z"/>
<path fill="#212121" d="M23 2h1v1h-1zM19 3h1v1h-1zM22 3h1v1h-1zM-2 4h3v1h-3zM10 4h1v1h-1zM16 4h1v1h-1zM-2 5h3v1h-3zM9 5h1v1h-1zM13 5h1v1h-1zM30 5h1v1h-1zM70 5h1v1h-1zM-2 6h3v1h-3zM66 7h1v1h-1zM64 8h4v1h-4zM60 9h1v1h-1zM62 9h2v1h-2zM67 9h1v1h-1zM60 10h1v1h-1zM65 10h1v1h-1zM58 11h1v1h-1zM63 11h1v1h-1zM60 12h1v1h-1zM53 13h1v1h-1zM56 13h1v1h-1zM51 14h2v1h-2zM26 19h1v1h-1zM32 19h1v1h-1zM34 19h1v1h-1z"/>
<path fill="#222222" d="M36 -2h1v1h-1zM36 -1h1v1h-1zM36 0h1v1h-1zM36 3h2v1h-2zM1 6h1v1h-1zM8 6h1v1h-1zM68 6h1v1h-1zM63 8h1v1h-1zM64 9h3v1h-3zM61 10h1v1h-1zM59 11h1v1h-1zM62 11h1v1h-1zM56 12h1v1h-1zM59 12h1v1h-1zM44 13h1v1h-1zM54 13h2v1h-2zM37 15h1v1h-1zM28 18h1v1h-1zM33 19h1v1h-1z"/>
<path fill="#232323" d="M20 3h1v1h-1zM8 4h2v1h-2zM20 4h1v1h-1zM71 4h3v1h-3zM23 5h1v1h-1zM10 6h1v1h-1zM28 6h1v1h-1zM65 7h1v1h-1zM59 9h1v1h-1zM55 10h1v1h-1zM62 10h3v1h-3zM41 11h1v1h-1zM60 11h2v1h-2zM57 12h2v1h-2zM31 20h1v1h-1z"/>
<path fill="#242424" d="M21 3h1v1h-1zM26 4h1v1h-1zM69 5h1v1h-1zM20 6h1v1h-1zM67 6h1v1h-1zM62 8h1v1h-1zM28 21h1v1h-1zM28 22h1v1h-1zM28 23h1v1h-1z"/>
<path fill="#252525" d="M34 1h1v1h-1zM17 4h1v1h-1zM5 5h1v1h-1zM8 5h1v1h-1zM27 7h1v1h-1zM42 10h1v1h-1zM51 11h1v1h-1zM39 12h1v1h-1zM36 13h1v1h-1zM40 14h1v1h-1zM30 20h1v1h-1z"/>
<path fill="#262626" d="M29 3h1v1h-1zM32 4h1v1h-1zM2 6h1v1h-1zM7 6h1v1h-1zM17 6h1v1h-1zM64 7h1v1h-1zM58 9h1v1h-1zM47 12h1v1h-1zM29 20h1v1h-1z"/>
<path fill="#272727" d="M35 3h1v1h-1zM19 4h1v1h-1zM6 5h2v1h-2zM14 5h1v1h-1zM18 5h1v1h-1zM61 8h1v1h-1zM32 13h1v1h-1zM25 20h4v1h-4z"/>
<path fill="#282828" d="M18 4h1v1h-1zM36 4h1v1h-1zM70 4h1v1h-1zM11 6h1v1h-1zM31 6h1v1h-1zM66 6h1v1h-1zM7 7h1v1h-1zM54 10h1v1h-1zM25 19h1v1h-1zM24 20h1v1h-1zM27 21h1v1h-1zM27 22h1v1h-1zM27 23h1v1h-1z"/>
<path fill="#292929" d="M32 2h1v1h-1zM68 5h1v1h-1zM6 7h1v1h-1zM16 7h2v1h-2zM43 10h1v1h-1zM43 13h1v1h-1zM36 15h1v1h-1zM33 16h1v1h-1z"/>
<path fill="#2a2a2a" d="M38 3h1v1h-1zM71 3h3v1h-3zM3 6h1v1h-1zM6 6h1v1h-1zM63 7h1v1h-1zM57 9h1v1h-1zM41 10h1v1h-1zM50 11h1v1h-1zM31 14h1v1h-1zM30 17h1v1h-1z"/>
<path fill="#2b2b2b" d="M37 -2h1v1h-1zM37 -1h1v1h-1zM37 0h1v1h-1zM15 5h1v1h-1zM17 5h1v1h-1zM8 7h1v1h-1zM28 7h1v1h-1zM60 8h1v1h-1zM32 14h1v1h-1zM39 14h1v1h-1zM26 21h1v1h-1zM26 22h1v1h-1zM26 23h1v1h-1z"/>
<path fill="#2c2c2c" d="M27 4h1v1h-1zM69 4h1v1h-1zM24 5h1v1h-1zM16 6h1v1h-1zM65 6h1v1h-1zM5 7h1v1h-1zM27 18h1v1h-1zM23 20h1v1h-1z"/>
<path fill="#2d2d2d" d="M71 -2h3v1h-3zM71 -1h3v1h-3zM71 0h3v1h-3zM35 1h1v1h-1zM30 3h1v1h-1zM34 3h1v1h-1zM16 5h1v1h-1zM29 5h1v1h-1zM67 5h1v1h-1zM4 6h2v1h-2zM21 6h1v1h-1zM-2 7h3v1h-3zM15 7h1v1h-1zM26 7h1v1h-1zM42 11h1v1h-1zM46 12h1v1h-1zM37 13h1v1h-1z"/>
<path fill="#2e2e2e" d="M70 -2h1v1h-1zM70 -1h1v1h-1zM70 0h1v1h-1zM71 2h3v1h-3zM70 3h1v1h-1zM31 4h1v1h-1zM12 6h1v1h-1zM53 10h1v1h-1zM42 13h1v1h-1zM33 14h1v1h-1zM25 21h1v1h-1zM25 22h1v1h-1zM25 23h1v1h-1z"/>
<path fill="#2f2f2f" d="M69 -2h1v1h-1zM69 -1h1v1h-1zM69 0h1v1h-1zM71 1h3v1h-3zM33 2h1v1h-1zM39 2h1v1h-1zM18 7h1v1h-1zM62 7h1v1h-1zM56 9h1v1h-1zM40 12h1v1h-1zM30 14h1v1h-1z"/>
<path fill="#303030" d="M38 2h1v1h-1zM34 5h1v1h-1zM27 6h1v1h-1zM4 7h1v1h-1zM9 7h1v1h-1zM4 8h2v1h-2zM59 8h1v1h-1zM44 10h1v1h-1zM49 11h1v1h-1zM38 14h1v1h-1zM35 15h1v1h-1zM24 19h1v1h-1zM24 21h1v1h-1zM24 22h1v1h-1zM24 23h1v1h-1z"/>
<path fill="#313131" d="M68 -2h1v1h-1zM68 -1h1v1h-1zM68 0h1v1h-1zM68 4h1v1h-1zM13 6h1v1h-1zM15 6h1v1h-1zM64 6h1v1h-1zM1 7h1v1h-1zM32 16h1v1h-1zM22 20h1v1h-1z"/>
<path fill="#323232" d="M67 -2h1v1h-1zM67 -1h1v1h-1zM67 0h1v1h-1zM70 1h1v1h-1zM37 2h1v1h-1zM40 2h1v1h-1zM70 2h1v1h-1zM31 3h1v1h-1zM33 3h1v1h-1zM69 3h1v1h-1zM28 4h1v1h-1zM66 5h1v1h-1zM14 7h1v1h-1zM45 12h1v1h-1zM38 13h1v1h-1zM41 13h1v1h-1zM34 14h1v1h-1zM23 21h1v1h-1zM23 22h1v1h-1zM23 23h1v1h-1z"/>
<path fill="#333333" d="M38 -2h1v1h-1zM38 -1h1v1h-1zM38 0h1v1h-1zM36 1h1v1h-1zM34 2h1v1h-1zM32 3h1v1h-1zM30 4h1v1h-1zM25 5h1v1h-1zM14 6h1v1h-1zM2 7h2v1h-2zM6 8h1v1h-1zM14 8h1v1h-1zM45 9h1v1h-1zM52 10h1v1h-1zM37 11h1v1h-1zM34 12h1v1h-1zM37 14h1v1h-1zM29 17h1v1h-1z"/>
<path fill="#343434" d="M66 -2h1v1h-1zM66 -1h1v1h-1zM66 0h1v1h-1zM69 1h1v1h-1zM36 2h1v1h-1zM29 4h1v1h-1zM61 7h1v1h-1zM3 8h1v1h-1zM15 8h1v1h-1zM35 14h1v1h-1zM22 21h1v1h-1zM22 22h1v1h-1zM22 23h1v1h-1z"/>
<path fill="#353535" d="M68 1h1v1h-1zM35 2h1v1h-1zM69 2h1v1h-1zM67 4h1v1h-1zM28 5h1v1h-1zM22 6h1v1h-1zM10 7h1v1h-1zM13 8h1v1h-1zM58 8h1v1h-1zM44 9h1v1h-1zM55 9h1v1h-1zM43 11h1v1h-1zM41 12h1v1h-1zM39 13h2v1h-2zM36 14h1v1h-1zM34 15h1v1h-1z"/>
<path fill="#363636" d="M67 1h1v1h-1zM68 3h1v1h-1zM63 6h1v1h-1zM46 9h1v1h-1zM48 11h1v1h-1zM44 12h1v1h-1zM26 18h1v1h-1zM21 21h1v1h-1zM21 22h1v1h-1zM21 23h1v1h-1z"/>
<path fill="#373737" d="M65 -2h1v1h-1zM65 -1h1v1h-1zM65 0h1v1h-1zM66 1h1v1h-1zM39 3h1v1h-1zM65 5h1v1h-1zM13 7h1v1h-1zM19 7h1v1h-1zM40 10h1v1h-1zM45 10h1v1h-1z"/>
<path fill="#383838" d="M37 1h1v1h-1zM65 1h1v1h-1zM68 2h1v1h-1zM26 5h1v1h-1zM25 7h1v1h-1zM2 8h1v1h-1zM25 8h1v1h-1zM42 12h2v1h-2zM29 14h1v1h-1zM33 15h1v1h-1zM31 16h1v1h-1zM21 20h1v1h-1z"/>
<path fill="#393939" d="M39 -2h1v1h-1zM39 -1h1v1h-1zM39 0h1v1h-1zM27 5h1v1h-1zM11 7h1v1h-1zM60 7h1v1h-1zM7 8h1v1h-1zM2 9h2v1h-2zM51 10h1v1h-1zM20 21h1v1h-1zM20 22h1v1h-1zM20 23h1v1h-1z"/>
<path fill="#3a3a3a" d="M64 -2h1v1h-1zM64 -1h1v1h-1zM64 0h1v1h-1zM38 1h3v1h-3zM64 1h1v1h-1zM41 2h1v1h-1zM67 2h1v1h-1zM67 3h1v1h-1zM66 4h1v1h-1zM26 6h1v1h-1zM12 7h1v1h-1zM-2 8h4v1h-4zM12 8h1v1h-1zM54 9h1v1h-1zM44 11h1v1h-1zM47 11h1v1h-1zM31 13h1v1h-1zM23 19h1v1h-1z"/>
<path fill="#3b3b3b" d="M41 1h1v1h-1zM66 2h1v1h-1zM62 6h1v1h-1zM16 8h1v1h-1zM24 8h1v1h-1zM57 8h1v1h-1zM47 9h1v1h-1zM32 15h1v1h-1z"/>
<path fill="#3c3c3c" d="M42 1h1v1h-1zM65 2h1v1h-1zM37 4h1v1h-1zM64 5h1v1h-1zM23 6h1v1h-1zM29 7h1v1h-1zM1 9h1v1h-1zM4 9h1v1h-1zM45 11h2v1h-2zM31 15h1v1h-1zM28 17h1v1h-1z"/>
<path fill="#3d3d3d" d="M40 -2h1v1h-1zM40 -1h1v1h-1zM40 0h1v1h-1zM63 1h1v1h-1zM64 2h1v1h-1zM66 3h1v1h-1zM48 8h1v1h-1zM12 9h1v1h-1zM46 10h1v1h-1zM50 10h1v1h-1zM30 15h1v1h-1zM19 21h1v1h-1zM19 22h1v1h-1zM19 23h1v1h-1z"/>
<path fill="#3e3e3e" d="M63 2h1v1h-1zM65 4h1v1h-1zM59 7h1v1h-1zM8 8h1v1h-1zM47 8h1v1h-1zM43 9h1v1h-1zM29 15h1v1h-1zM30 16h1v1h-1z"/>
<path fill="#3f3f3f" d="M63 -2h1v1h-1zM63 -1h1v1h-1zM63 0h1v1h-1zM65 3h1v1h-1zM24 6h2v1h-2zM11 8h1v1h-1zM-2 9h3v1h-3zM11 9h1v1h-1zM53 9h1v1h-1z"/>
<path fill="#404040" d="M41 -2h1v1h-1zM41 -1h1v1h-1zM41 0h1v1h-1zM43 1h1v1h-1zM62 2h1v1h-1zM63 5h1v1h-1zM32 6h1v1h-1zM61 6h1v1h-1zM20 7h1v1h-1zM26 8h1v1h-1zM49 8h1v1h-1zM56 8h1v1h-1zM13 9h1v1h-1zM48 9h1v1h-1zM47 10h1v1h-1zM49 10h1v1h-1zM28 15h1v1h-1z"/>
<path fill="#414141" d="M62 1h1v1h-1zM64 3h1v1h-1zM64 4h1v1h-1zM24 7h1v1h-1zM9 8h1v1h-1zM5 9h1v1h-1zM-2 10h4v1h-4zM48 10h1v1h-1zM25 18h1v1h-1zM20 20h1v1h-1z"/>
<path fill="#424242" d="M42 -2h1v1h-1zM42 -1h1v1h-1zM42 0h1v1h-1zM62 3h2v1h-2zM10 8h1v1h-1z"/>
<path fill="#434343" d="M43 -2h1v1h-1zM43 -1h1v1h-1zM43 0h1v1h-1zM61 2h1v1h-1zM61 3h1v1h-1zM63 4h1v1h-1zM62 5h1v1h-1zM58 7h1v1h-1zM17 8h1v1h-1zM23 8h1v1h-1zM50 8h1v1h-1zM10 9h1v1h-1zM49 9h1v1h-1zM52 9h1v1h-1zM18 21h1v1h-1zM18 22h1v1h-1zM18 23h1v1h-1z"/>
<path fill="#444444" d="M42 2h1v1h-1zM60 3h1v1h-1zM60 6h1v1h-1zM50 7h2v1h-2zM46 8h1v1h-1zM55 8h1v1h-1zM29 16h1v1h-1zM6 18h1v1h-1z"/>
<path fill="#454545" d="M44 -2h1v1h-1zM62 -2h1v1h-1zM44 -1h1v1h-1zM62 -1h1v1h-1zM44 0h1v1h-1zM62 0h1v1h-1zM62 4h1v1h-1zM50 9h2v1h-2zM2 10h1v1h-1zM27 15h1v1h-1zM27 17h1v1h-1zM5 18h1v1h-1zM22 19h1v1h-1z"/>
<path fill="#464646" d="M44 1h1v1h-1zM59 4h3v1h-3zM61 5h1v1h-1zM21 7h1v1h-1zM52 7h1v1h-1zM57 7h1v1h-1zM51 8h1v1h-1zM28 14h1v1h-1z"/>
<path fill="#474747" d="M45 -2h1v1h-1zM45 -1h1v1h-1zM45 0h1v1h-1zM61 1h1v1h-1zM60 2h1v1h-1zM59 3h1v1h-1zM58 4h1v1h-1zM59 6h1v1h-1zM23 7h1v1h-1zM54 8h1v1h-1zM6 9h1v1h-1zM14 9h1v1h-1zM7 17h1v1h-1zM7 18h1v1h-1z"/>
<path fill="#484848" d="M40 3h1v1h-1zM35 5h1v1h-1zM56 5h2v1h-2zM60 5h1v1h-1zM53 6h2v1h-2zM49 7h1v1h-1zM53 7h1v1h-1zM52 8h2v1h-2zM9 9h1v1h-1zM10 10h1v1h-1zM28 16h1v1h-1zM8 17h1v1h-1zM4 18h1v1h-1z"/>
<path fill="#494949" d="M57 4h1v1h-1zM58 5h2v1h-2zM55 6h1v1h-1zM58 6h1v1h-1zM22 7h1v1h-1zM54 7h1v1h-1zM56 7h1v1h-1zM9 10h1v1h-1zM36 11h1v1h-1zM4 19h1v1h-1zM17 21h1v1h-1zM17 22h1v1h-1zM17 23h1v1h-1z"/>
<path fill="#4a4a4a" d="M46 -2h1v1h-1zM46 -1h1v1h-1zM46 0h1v1h-1zM55 5h1v1h-1zM52 6h1v1h-1zM56 6h2v1h-2zM55 7h1v1h-1zM7 9h2v1h-2zM22 9h2v1h-2zM3 10h1v1h-1zM39 10h1v1h-1zM33 12h1v1h-1zM6 17h1v1h-1zM5 19h1v1h-1zM19 20h1v1h-1z"/>
<path fill="#4b4b4b" d="M58 3h1v1h-1zM18 8h1v1h-1zM22 8h1v1h-1zM11 10h1v1h-1zM24 18h1v1h-1zM3 19h1v1h-1z"/>
<path fill="#4c4c4c" d="M61 -2h1v1h-1zM61 -1h1v1h-1zM61 0h1v1h-1zM42 9h1v1h-1zM8 10h1v1h-1zM26 15h1v1h-1zM27 16h1v1h-1zM3 18h1v1h-1z"/>
<path fill="#4d4d4d" d="M60 1h1v1h-1zM59 2h1v1h-1zM56 4h1v1h-1zM54 5h1v1h-1zM-2 11h3v1h-3zM9 17h1v1h-1zM26 17h1v1h-1zM8 18h1v1h-1z"/>
<path fill="#4e4e4e" d="M47 -2h1v1h-1zM47 -1h1v1h-1zM47 0h1v1h-1zM45 1h1v1h-1zM45 8h1v1h-1zM5 17h1v1h-1zM2 19h1v1h-1z"/>
<path fill="#4f4f4f" d="M51 6h1v1h-1zM48 7h1v1h-1zM15 9h1v1h-1zM21 9h1v1h-1zM4 10h1v1h-1zM30 13h1v1h-1zM2 18h1v1h-1zM6 19h1v1h-1zM3 20h1v1h-1z"/>
<path fill="#505050" d="M7 10h1v1h-1zM-2 18h3v1h-3zM21 19h1v1h-1zM2 20h1v1h-1zM1 21h1v1h-1zM1 22h1v1h-1zM1 23h1v1h-1z"/>
<path fill="#515151" d="M43 2h1v1h-1zM57 3h1v1h-1zM38 4h1v1h-1zM19 8h1v1h-1zM21 8h1v1h-1zM27 8h1v1h-1zM7 11h2v1h-2zM26 16h1v1h-1zM-2 17h3v1h-3zM1 18h1v1h-1zM1 19h1v1h-1zM2 21h1v1h-1zM16 21h1v1h-1zM2 22h1v1h-1zM16 22h1v1h-1zM2 23h1v1h-1zM16 23h1v1h-1z"/>
<path fill="#525252" d="M60 -2h1v1h-1zM60 -1h1v1h-1zM60 0h1v1h-1zM12 10h1v1h-1zM1 11h1v1h-1zM-2 16h3v1h-3zM1 20h1v1h-1zM4 20h1v1h-1zM-2 21h3v1h-3zM-2 22h3v1h-3zM-2 23h3v1h-3z"/>
<path fill="#535353" d="M55 4h1v1h-1zM53 5h1v1h-1zM30 7h1v1h-1zM20 8h1v1h-1zM5 10h2v1h-2zM8 16h2v1h-2zM4 17h1v1h-1zM-2 19h3v1h-3z"/>
<path fill="#545454" d="M48 -2h1v1h-1zM48 -1h1v1h-1zM48 0h1v1h-1zM58 2h1v1h-1zM24 9h1v1h-1zM6 11h1v1h-1zM10 17h1v1h-1zM25 17h1v1h-1zM18 20h1v1h-1z"/>
<path fill="#555555" d="M59 1h1v1h-1zM9 11h1v1h-1zM-2 15h3v1h-3zM10 16h1v1h-1zM25 16h1v1h-1zM1 17h1v1h-1zM9 18h1v1h-1zM23 18h1v1h-1zM3 21h1v1h-1zM3 22h1v1h-1zM3 23h1v1h-1z"/>
<path fill="#565656" d="M20 9h1v1h-1zM25 15h1v1h-1zM3 17h1v1h-1zM7 19h1v1h-1zM-2 20h3v1h-3z"/>
<path fill="#575757" d="M46 1h1v1h-1zM50 6h1v1h-1zM16 9h1v1h-1zM2 11h1v1h-1zM27 14h1v1h-1zM7 16h1v1h-1zM2 17h1v1h-1z"/>
<path fill="#585858" d="M20 10h1v1h-1zM5 11h1v1h-1zM5 12h2v1h-2zM1 15h1v1h-1zM1 16h1v1h-1zM5 20h1v1h-1z"/>
<path fill="#595959" d="M49 -2h1v1h-1zM59 -2h1v1h-1zM49 -1h1v1h-1zM59 -1h1v1h-1zM49 0h1v1h-1zM59 0h1v1h-1zM41 3h1v1h-1zM56 3h1v1h-1zM33 6h1v1h-1zM15 21h1v1h-1zM15 22h1v1h-1zM15 23h1v1h-1z"/>
<path fill="#5a5a5a" d="M13 10h1v1h-1zM3 11h1v1h-1zM2 14h1v1h-1zM24 16h1v1h-1z"/>
<path fill="#5b5b5b" d="M52 5h1v1h-1zM47 7h1v1h-1zM21 10h1v1h-1zM4 11h1v1h-1zM4 12h1v1h-1zM3 13h2v1h-2zM1 14h1v1h-1zM24 17h1v1h-1zM20 19h1v1h-1z"/>
<path fill="#5c5c5c" d="M54 4h1v1h-1zM17 9h1v1h-1zM19 9h1v1h-1zM19 10h1v1h-1zM10 11h1v1h-1zM7 12h1v1h-1zM6 16h1v1h-1zM11 16h1v1h-1zM11 17h1v1h-1zM4 21h1v1h-1zM4 22h1v1h-1zM4 23h1v1h-1z"/>
<path fill="#5d5d5d" d="M58 1h1v1h-1zM57 2h1v1h-1zM44 8h1v1h-1zM-2 12h3v1h-3zM-2 14h3v1h-3zM2 15h1v1h-1z"/>
<path fill="#5e5e5e" d="M44 2h1v1h-1zM18 9h1v1h-1zM3 12h1v1h-1zM2 13h1v1h-1zM3 14h1v1h-1zM2 16h1v1h-1zM10 18h1v1h-1zM22 18h1v1h-1zM17 20h1v1h-1z"/>
<path fill="#5f5f5f" d="M50 -2h1v1h-1zM58 -2h1v1h-1zM50 -1h1v1h-1zM58 -1h1v1h-1zM50 0h1v1h-1zM58 0h1v1h-1zM41 9h1v1h-1zM5 13h1v1h-1zM23 16h1v1h-1zM8 19h1v1h-1z"/>
<path fill="#606060" d="M47 1h1v1h-1zM36 5h1v1h-1zM38 10h1v1h-1zM1 12h2v1h-2zM10 15h2v1h-2zM5 16h1v1h-1zM6 20h1v1h-1z"/>
<path fill="#616161" d="M35 11h1v1h-1zM1 13h1v1h-1zM24 15h1v1h-1zM3 16h1v1h-1zM23 17h1v1h-1zM14 21h1v1h-1zM14 22h1v1h-1zM14 23h1v1h-1z"/>
<path fill="#626262" d="M14 10h1v1h-1zM18 10h1v1h-1zM32 12h1v1h-1zM9 15h1v1h-1zM4 16h1v1h-1z"/>
<path fill="#636363" d="M55 3h1v1h-1zM49 6h1v1h-1zM8 12h1v1h-1zM-2 13h3v1h-3zM5 21h1v1h-1zM5 22h1v1h-1zM5 23h1v1h-1z"/>
<path fill="#646464" d="M51 -2h1v1h-1zM57 -2h1v1h-1zM51 -1h1v1h-1zM57 -1h1v1h-1zM51 0h1v1h-1zM57 0h1v1h-1zM57 1h1v1h-1zM25 9h1v1h-1zM22 10h1v1h-1zM11 11h1v1h-1zM18 11h1v1h-1zM29 13h1v1h-1zM4 14h1v1h-1zM3 15h1v1h-1zM12 16h1v1h-1z"/>
<path fill="#656565" d="M12 15h1v1h-1zM12 17h1v1h-1zM19 19h1v1h-1z"/>
<path fill="#666666" d="M56 2h1v1h-1zM39 4h1v1h-1zM53 4h1v1h-1zM17 10h1v1h-1zM17 11h1v1h-1zM6 13h1v1h-1zM22 16h1v1h-1z"/>
<path fill="#676767" d="M51 5h1v1h-1zM28 8h1v1h-1zM15 10h1v1h-1zM19 11h1v1h-1zM8 15h1v1h-1zM22 17h1v1h-1zM11 18h1v1h-1zM21 18h1v1h-1z"/>
<path fill="#686868" d="M52 -2h1v1h-1zM56 -2h1v1h-1zM52 -1h1v1h-1zM56 -1h1v1h-1zM52 0h1v1h-1zM56 0h1v1h-1zM48 1h1v1h-1zM16 10h1v1h-1zM26 14h1v1h-1zM9 19h1v1h-1zM7 20h1v1h-1zM16 20h1v1h-1zM13 21h1v1h-1zM13 22h1v1h-1zM13 23h1v1h-1z"/>
<path fill="#696969" d="M42 3h1v1h-1zM12 14h1v1h-1zM4 15h1v1h-1z"/>
<path fill="#6a6a6a" d="M53 -2h1v1h-1zM55 -2h1v1h-1zM53 -1h1v1h-1zM55 -1h1v1h-1zM53 0h1v1h-1zM55 0h1v1h-1zM45 2h1v1h-1zM46 7h1v1h-1zM6 21h1v1h-1zM6 22h1v1h-1zM6 23h1v1h-1z"/>
<path fill="#6b6b6b" d="M54 -2h1v1h-1zM54 -1h1v1h-1zM54 0h1v1h-1zM56 1h1v1h-1zM12 11h1v1h-1zM16 11h1v1h-1zM9 12h1v1h-1zM16 12h1v1h-1zM5 14h1v1h-1zM11 14h1v1h-1zM13 14h1v1h-1zM7 15h1v1h-1z"/>
<path fill="#6c6c6c" d="M31 7h1v1h-1zM13 16h1v1h-1zM21 16h1v1h-1zM13 17h1v1h-1zM21 17h1v1h-1z"/>
<path fill="#6d6d6d" d="M54 3h1v1h-1zM15 12h1v1h-1zM7 13h1v1h-1zM14 13h1v1h-1zM5 15h2v1h-2zM13 15h1v1h-1zM23 15h1v1h-1z"/>
<path fill="#6e6e6e" d="M20 18h1v1h-1zM18 19h1v1h-1zM12 21h1v1h-1zM12 22h1v1h-1zM12 23h1v1h-1z"/>
<path fill="#6f6f6f" d="M55 2h1v1h-1zM15 11h1v1h-1zM17 12h1v1h-1zM13 13h1v1h-1zM10 14h1v1h-1zM12 18h1v1h-1z"/>
<path fill="#707070" d="M49 1h1v1h-1zM43 8h1v1h-1zM13 11h1v1h-1zM15 13h1v1h-1zM20 17h1v1h-1zM15 20h1v1h-1zM7 21h1v1h-1zM7 22h1v1h-1zM7 23h1v1h-1z"/>
<path fill="#717171" d="M48 6h1v1h-1zM14 11h1v1h-1zM20 11h1v1h-1zM14 12h1v1h-1zM6 14h1v1h-1zM14 14h1v1h-1zM14 17h1v1h-1zM10 19h1v1h-1zM8 20h1v1h-1z"/>
<path fill="#727272" d="M55 1h1v1h-1zM52 4h1v1h-1zM34 6h1v1h-1zM10 12h1v1h-1zM20 16h1v1h-1zM11 21h1v1h-1zM11 22h1v1h-1zM11 23h1v1h-1z"/>
<path fill="#737373" d="M12 13h1v1h-1zM9 14h1v1h-1zM19 17h1v1h-1z"/>
<path fill="#747474" d="M50 5h1v1h-1zM40 9h1v1h-1zM8 13h1v1h-1zM14 16h1v1h-1zM19 18h1v1h-1zM8 21h1v1h-1zM8 22h1v1h-1zM8 23h1v1h-1z"/>
<path fill="#757575" d="M50 1h1v1h-1zM46 2h1v1h-1zM23 10h1v1h-1zM13 12h1v1h-1zM7 14h1v1h-1zM15 17h1v1h-1zM13 18h1v1h-1zM17 19h1v1h-1zM10 21h1v1h-1zM10 22h1v1h-1zM10 23h1v1h-1z"/>
<path fill="#767676" d="M54 1h1v1h-1zM37 5h1v1h-1zM11 12h1v1h-1zM8 14h1v1h-1zM14 15h1v1h-1zM18 17h1v1h-1zM9 21h1v1h-1zM9 22h1v1h-1zM9 23h1v1h-1z"/>
<path fill="#777777" d="M37 10h1v1h-1zM12 12h1v1h-1zM11 13h1v1h-1zM19 16h1v1h-1zM16 17h2v1h-2zM9 20h1v1h-1zM14 20h1v1h-1z"/>
<path fill="#787878" d="M54 2h1v1h-1zM43 3h1v1h-1zM53 3h1v1h-1zM18 12h1v1h-1zM9 13h1v1h-1zM16 13h1v1h-1zM25 14h1v1h-1zM22 15h1v1h-1zM11 19h1v1h-1z"/>
<path fill="#797979" d="M51 1h1v1h-1zM53 1h1v1h-1zM40 4h1v1h-1zM34 11h1v1h-1zM31 12h1v1h-1zM10 13h1v1h-1zM28 13h1v1h-1zM15 16h1v1h-1zM18 18h1v1h-1z"/>
<path fill="#7a7a7a" d="M52 1h1v1h-1zM26 9h1v1h-1zM14 18h1v1h-1z"/>
<path fill="#7b7b7b" d="M45 7h1v1h-1zM15 14h1v1h-1zM18 16h1v1h-1zM16 19h1v1h-1z"/>
<path fill="#7c7c7c" d="M15 18h1v1h-1zM17 18h1v1h-1zM10 20h1v1h-1zM13 20h1v1h-1z"/>
<path fill="#7d7d7d" d="M16 16h2v1h-2zM16 18h1v1h-1zM12 19h1v1h-1z"/>
<path fill="#7e7e7e" d="M47 2h1v1h-1zM11 20h2v1h-2z"/>
<path fill="#7f7f7f" d="M53 2h1v1h-1zM51 4h1v1h-1zM29 8h1v1h-1zM15 19h1v1h-1z"/>
<path fill="#808080" d="M21 11h1v1h-1zM15 15h1v1h-1zM13 19h1v1h-1z"/>
<path fill="#818181" d="M47 6h1v1h-1zM14 19h1v1h-1z"/>
<path fill="#828282" d="M52 3h1v1h-1zM49 5h1v1h-1zM21 15h1v1h-1z"/>
<path fill="#838383" d="M42 8h1v1h-1z"/>
<path fill="#848484" d="M17 13h1v1h-1z"/>
<path fill="#858585" d="M48 2h1v1h-1zM52 2h1v1h-1zM44 3h1v1h-1zM32 7h1v1h-1zM19 12h1v1h-1z"/>
<path fill="#878787" d="M16 14h1v1h-1zM24 14h1v1h-1z"/>
<path fill="#888888" d="M24 10h1v1h-1zM16 15h1v1h-1z"/>
<path fill="#898989" d="M49 2h1v1h-1zM51 2h1v1h-1zM41 4h1v1h-1zM35 6h1v1h-1zM20 15h1v1h-1z"/>
<path fill="#8a8a8a" d="M50 2h1v1h-1zM38 5h1v1h-1zM39 9h1v1h-1z"/>
<path fill="#8b8b8b" d="M51 3h1v1h-1zM50 4h1v1h-1z"/>
<path fill="#8c8c8c" d="M27 13h1v1h-1z"/>
<path fill="#8d8d8d" d="M44 7h1v1h-1zM17 15h1v1h-1z"/>
<path fill="#8e8e8e" d="M36 10h1v1h-1zM19 15h1v1h-1z"/>
<path fill="#8f8f8f" d="M45 3h1v1h-1zM33 11h1v1h-1zM30 12h1v1h-1zM18 15h1v1h-1z"/>
<path fill="#909090" d="M48 5h1v1h-1zM27 9h1v1h-1z"/>
<path fill="#919191" d="M46 6h1v1h-1z"/>
<path fill="#929292" d="M22 11h1v1h-1zM18 13h1v1h-1zM17 14h1v1h-1z"/>
<path fill="#939393" d="M50 3h1v1h-1z"/>
<path fill="#949494" d="M23 14h1v1h-1z"/>
<path fill="#959595" d="M20 12h1v1h-1z"/>
<path fill="#969696" d="M46 3h1v1h-1zM49 4h1v1h-1z"/>
<path fill="#979797" d="M42 4h1v1h-1zM30 8h1v1h-1zM41 8h1v1h-1z"/>
<path fill="#989898" d="M49 3h1v1h-1z"/>
<path fill="#9a9a9a" d="M47 3h2v1h-2z"/>
<path fill="#9b9b9b" d="M33 7h1v1h-1z"/>
<path fill="#9c9c9c" d="M39 5h1v1h-1zM26 13h1v1h-1zM18 14h1v1h-1z"/>
<path fill="#9d9d9d" d="M47 5h1v1h-1zM36 6h1v1h-1zM25 10h1v1h-1zM22 14h1v1h-1z"/>
<path fill="#9e9e9e" d="M43 7h1v1h-1z"/>
<path fill="#9f9f9f" d="M48 4h1v1h-1zM38 9h1v1h-1zM19 13h1v1h-1z"/>
<path fill="#a0a0a0" d="M45 6h1v1h-1z"/>
<path fill="#a1a1a1" d="M43 4h1v1h-1z"/>
<path fill="#a2a2a2" d="M29 12h1v1h-1zM19 14h1v1h-1z"/>
<path fill="#a3a3a3" d="M35 10h1v1h-1zM21 14h1v1h-1z"/>
<path fill="#a4a4a4" d="M32 11h1v1h-1z"/>
<path fill="#a5a5a5" d="M23 11h1v1h-1zM20 14h1v1h-1z"/>
<path fill="#a6a6a6" d="M47 4h1v1h-1zM28 9h1v1h-1zM21 12h1v1h-1z"/>
<path fill="#a8a8a8" d="M44 4h1v1h-1z"/>
<path fill="#a9a9a9" d="M40 5h1v1h-1zM46 5h1v1h-1z"/>
<path fill="#aaaaaa" d="M46 4h1v1h-1zM40 8h1v1h-1zM25 13h1v1h-1z"/>
<path fill="#ababab" d="M45 4h1v1h-1zM20 13h1v1h-1z"/>
<path fill="#acacac" d="M31 8h1v1h-1z"/>
<path fill="#aeaeae" d="M37 6h1v1h-1zM44 6h1v1h-1z"/>
<path fill="#afafaf" d="M34 7h1v1h-1zM42 7h1v1h-1z"/>
<path fill="#b1b1b1" d="M26 10h1v1h-1z"/>
<path fill="#b2b2b2" d="M45 5h1v1h-1zM37 9h1v1h-1zM28 12h1v1h-1z"/>
<path fill="#b3b3b3" d="M41 5h1v1h-1zM24 13h1v1h-1z"/>
<path fill="#b4b4b4" d="M22 12h1v1h-1zM21 13h1v1h-1z"/>
<path fill="#b6b6b6" d="M34 10h1v1h-1zM24 11h1v1h-1zM31 11h1v1h-1z"/>
<path fill="#b8b8b8" d="M44 5h1v1h-1zM22 13h2v1h-2z"/>
<path fill="#b9b9b9" d="M42 5h1v1h-1zM29 9h1v1h-1z"/>
<path fill="#bababa" d="M43 5h1v1h-1zM43 6h1v1h-1z"/>
<path fill="#bbbbbb" d="M38 6h1v1h-1zM39 8h1v1h-1z"/>
<path fill="#bdbdbd" d="M41 7h1v1h-1z"/>
<path fill="#bebebe" d="M32 8h1v1h-1zM27 12h1v1h-1z"/>
<path fill="#bfbfbf" d="M35 7h1v1h-1zM23 12h1v1h-1z"/>
<path fill="#c2c2c2" d="M42 6h1v1h-1zM27 10h1v1h-1z"/>
<path fill="#c3c3c3" d="M36 9h1v1h-1z"/>
<path fill="#c4c4c4" d="M39 6h1v1h-1zM25 11h1v1h-1zM30 11h1v1h-1z"/>
<path fill="#c6c6c6" d="M33 10h1v1h-1zM24 12h1v1h-1zM26 12h1v1h-1z"/>
<path fill="#c7c7c7" d="M41 6h1v1h-1z"/>
<path fill="#c8c8c8" d="M40 6h1v1h-1zM40 7h1v1h-1zM25 12h1v1h-1z"/>
<path fill="#c9c9c9" d="M38 8h1v1h-1zM30 9h1v1h-1z"/>
<path fill="#cacaca" d="M36 7h1v1h-1z"/>
<path fill="#cccccc" d="M33 8h1v1h-1z"/>
<path fill="#cecece" d="M26 11h1v1h-1zM29 11h1v1h-1z"/>
<path fill="#cfcfcf" d="M28 10h1v1h-1z"/>
<path fill="#d0d0d0" d="M39 7h1v1h-1zM35 9h1v1h-1z"/>
<path fill="#d1d1d1" d="M37 7h1v1h-1zM32 10h1v1h-1z"/>
<path fill="#d3d3d3" d="M38 7h1v1h-1zM37 8h1v1h-1zM27 11h2v1h-2z"/>
<path fill="#d5d5d5" d="M34 8h1v1h-1zM31 9h1v1h-1z"/>
<path fill="#d7d7d7" d="M29 10h1v1h-1z"/>
<path fill="#d8d8d8" d="M34 9h1v1h-1zM31 10h1v1h-1z"/>
<path fill="#d9d9d9" d="M36 8h1v1h-1z"/>
<path fill="#dadada" d="M35 8h1v1h-1zM30 10h1v1h-1z"/>
<path fill="#dbdbdb" d="M32 9h1v1h-1z"/>
<path fill="#dcdcdc" d="M33 9h1v1h-1z"/>
</g>
</g>
<path d="M34.2 66.8 L33.2 66.9 L32.2 66.9 L31.2 66.9 L30.2 66.9 L29.2 66.9 L28.2 66.9 L27.2 66.9 L26.2 66.9 L25.2 66.9 L24.2 66.9 L23.2 66.9 L22.2 66.9 L21.2 66.9 L20.5 66.8 L20.3 65.8 L20.7 64.8 L21.2 64.3 L21.7 63.9 L22.2 63.5 L22.7 63.1 L23.2 62.8 L24.0 62.3 L24.7 61.9 L25.2 61.7 L25.8 61.3 L26.7 60.9 L27.2 60.6 L27.9 60.3 L28.7 59.9 L29.2 59.7 L30.0 59.3 L30.7 59.0 L31.2 58.8 L32.2 58.3 L32.7 58.1 L33.3 57.8 L34.2 57.4 L34.7 57.2 L35.4 56.8 L36.2 56.4 L36.7 56.2 L37.4 55.8 L38.2 55.3 L38.7 55.0 L39.2 54.7 L39.7 54.3 L40.2 53.8 L40.7 52.9 L40.8 52.3 L40.7 51.7 L40.5 50.8 L40.3 49.8 L40.2 49.3 L40.2 48.3 L40.2 47.5 L40.4 46.8 L40.7 45.8 L40.8 45.3 L41.2 44.3 L41.3 43.8 L41.2 43.3 L40.2 42.9 L39.2 43.0 L38.2 43.2 L37.7 43.3 L36.7 43.6 L35.8 43.8 L35.2 44.0 L34.2 44.2 L33.7 44.4 L32.7 44.6 L32.1 44.8 L31.2 45.1 L30.3 45.3 L29.7 45.5 L28.7 45.7 L28.2 45.9 L27.2 46.1 L26.5 46.3 L25.7 46.5 L24.7 46.7 L24.2 46.9 L23.2 47.1 L22.2 47.3 L21.7 47.4 L20.7 47.5 L19.7 47.7 L18.7 47.8 L18.2 47.8 L17.2 47.9 L16.7 47.8 L15.7 47.6 L15.2 47.3 L15.0 46.3 L15.2 45.8 L15.7 45.2 L16.2 44.7 L16.7 44.3 L17.4 43.8 L18.1 43.3 L18.7 42.9 L19.2 42.6 L19.7 42.3 L20.7 41.8 L21.2 41.5 L21.7 41.3 L22.7 40.8 L23.2 40.5 L23.7 40.3 L24.7 39.9 L25.2 39.7 L26.1 39.3 L26.7 39.0 L27.3 38.8 L28.2 38.4 L28.7 38.2 L29.7 37.8 L30.2 37.7 L31.2 37.3 L31.7 37.1 L32.6 36.8 L33.2 36.6 L34.1 36.3 L34.7 36.1 L35.6 35.8 L36.2 35.6 L37.1 35.3 L37.7 35.1 L38.7 34.8 L39.2 34.7 L40.2 34.4 L40.7 34.2 L41.7 34.0 L42.5 33.8 L43.2 33.6 L44.2 33.4 L44.8 33.3 L45.7 33.2 L46.7 33.0 L47.7 33.0 L48.7 33.2 L49.2 33.4 L49.6 34.3 L49.3 35.3 L49.1 35.8 L48.7 36.6 L48.5 37.3 L48.7 38.1 L49.7 38.2 L50.7 38.0 L51.6 37.8 L52.2 37.6 L53.2 37.3 L53.7 37.2 L54.7 36.9 L55.2 36.7 L56.2 36.4 L56.7 36.3 L57.7 35.9 L58.2 35.8 L59.2 35.4 L59.7 35.3 L60.7 34.9 L61.2 34.8 L62.2 34.4 L62.7 34.3 L63.7 33.9 L64.2 33.8 L65.2 33.4 L65.7 33.2 L66.7 32.9 L67.2 32.7 L68.2 32.4 L68.7 32.2 L69.7 31.9 L70.2 31.7 L71.2 31.3 L71.7 31.2 L72.7 30.8 L73.2 30.6 L74.2 30.3 L74.7 30.1 L75.6 29.8 L76.2 29.6 L77.0 29.3 L77.7 29.0 L78.4 28.8 L79.2 28.5 L79.8 28.3 L80.7 28.0 L81.2 27.8 L82.2 27.4 L82.7 27.3 L83.7 26.9 L84.2 26.7 L85.2 26.4 L85.7 26.2 L86.7 25.8 L87.2 25.6 L88.2 25.3 L88.7 25.1 L89.6 24.8 L90.2 24.6 L91.0 24.3 L91.7 24.0 L92.4 23.8 L93.2 23.5 L93.7 23.3 L94.7 22.9 L95.2 22.7 L96.2 22.4 L96.7 22.2 L97.7 21.8 L98.2 21.6 L99.2 21.3 L99.7 21.1 L100.6 20.8 L101.2 20.5 L102.0 20.3 L102.7 20.0 L103.3 19.8 L104.2 19.4 L104.7 19.3 L105.7 18.9 L106.2 18.7 L107.2 18.3 L107.7 18.2 L108.7 17.8 L109.2 17.6 L110.2 17.3 L110.7 17.1 L111.6 16.8 L112.2 16.5 L112.9 16.3 L113.7 16.0 L114.3 15.8 L115.2 15.4 L115.7 15.2 L116.7 14.9 L117.2 14.7 L118.2 14.3 L118.7 14.2 L119.7 13.8 L120.2 13.6 L121.2 13.3 L121.7 13.1 L122.6 12.8 L123.2 12.5 L124.0 12.3 L124.7 12.0 L125.4 11.8 L126.2 11.5 L126.8 11.3 L127.7 10.9 L128.2 10.8 L129.2 10.4 L129.7 10.2 L130.7 9.9 L131.2 9.7 L132.2 9.4 L132.7 9.2 L133.7 8.9 L134.2 8.7 L135.2 8.4 L135.7 8.2 L136.7 7.9 L137.2 7.7 L138.2 7.4 L138.7 7.2 L139.7 6.9 L140.2 6.7 L141.2 6.4 L141.7 6.2 L142.7 5.9 L143.3 5.8 L144.2 5.5 L145.0 5.3 L145.7 5.0 L146.7 4.8 L147.2 4.6 L148.2 4.3 L148.7 4.2 L149.7 3.9 L150.5 3.8 L151.2 3.6 L152.2 3.3 L152.7 3.2 L153.7 3.0 L154.7 2.8 L155.2 2.7 L156.2 2.5 L157.2 2.3 L157.7 2.2 L158.7 2.1 L159.7 1.9 L160.7 1.8 L161.5 1.8 L162.2 1.7 L163.2 1.7 L164.2 1.6 L165.2 1.7 L166.2 1.8 L166.7 1.8 L167.7 2.0 L168.5 2.3 L169.2 2.6 L169.7 3.1 L170.2 3.8 L170.3 4.3 L170.2 4.8 L169.8 5.8 L169.5 6.3 L169.2 6.8 L168.7 7.3 L168.2 7.8 L167.7 8.3 L167.2 8.8 L166.7 9.3 L166.0 9.8 L165.4 10.3 L164.7 10.7 L164.2 11.1 L163.7 11.4 L163.2 11.8 L162.4 12.3 L161.7 12.7 L161.2 13.0 L160.7 13.3 L159.9 13.8 L159.2 14.1 L158.7 14.4 L158.0 14.8 L157.2 15.2 L156.7 15.4 L156.1 15.8 L155.2 16.2 L154.7 16.4 L154.1 16.8 L153.2 17.2 L152.7 17.4 L151.9 17.8 L151.2 18.1 L150.7 18.3 L149.7 18.8 L149.2 19.0 L148.6 19.3 L147.7 19.6 L147.2 19.8 L146.2 20.3 L145.7 20.5 L145.0 20.8 L144.2 21.1 L143.7 21.3 L142.7 21.7 L142.2 21.9 L141.3 22.3 L140.7 22.5 L140.0 22.8 L139.2 23.1 L138.7 23.3 L137.7 23.7 L137.2 23.9 L136.2 24.2 L135.7 24.4 L134.8 24.8 L134.2 25.0 L133.5 25.3 L132.7 25.6 L132.1 25.8 L131.2 26.1 L130.7 26.3 L129.7 26.7 L129.2 26.8 L128.2 27.2 L127.7 27.4 L126.7 27.7 L126.2 27.9 L125.2 28.3 L124.7 28.5 L123.8 28.8 L123.2 29.0 L122.4 29.3 L121.7 29.5 L120.9 29.8 L120.2 30.0 L119.5 30.3 L118.7 30.6 L118.1 30.8 L117.2 31.1 L116.6 31.3 L115.7 31.6 L115.2 31.8 L114.2 32.1 L113.7 32.3 L112.7 32.6 L112.2 32.8 L111.2 33.2 L110.7 33.3 L109.7 33.7 L109.2 33.8 L108.2 34.2 L107.7 34.4 L106.7 34.7 L106.2 34.9 L105.2 35.2 L104.7 35.4 L103.7 35.7 L103.2 35.9 L102.2 36.2 L101.7 36.4 L100.7 36.7 L100.2 36.9 L99.2 37.3 L98.7 37.4 L97.7 37.8 L97.2 37.9 L96.2 38.3 L95.7 38.5 L94.7 38.8 L94.2 39.0 L93.2 39.3 L92.7 39.5 L91.8 39.8 L91.2 40.0 L90.3 40.3 L89.7 40.5 L88.9 40.8 L88.2 41.0 L87.4 41.3 L86.7 41.5 L86.0 41.8 L85.2 42.1 L84.6 42.3 L83.7 42.6 L83.1 42.8 L82.2 43.1 L81.7 43.3 L80.7 43.7 L80.2 43.8 L79.2 44.2 L78.7 44.4 L77.7 44.7 L77.2 44.9 L76.2 45.3 L75.7 45.5 L74.8 45.8 L74.2 46.0 L73.5 46.3 L72.7 46.6 L72.2 46.8 L71.2 47.2 L70.7 47.4 L69.8 47.8 L69.2 48.1 L68.6 48.3 L67.7 48.7 L67.2 49.0 L66.6 49.3 L65.7 49.8 L65.2 50.2 L64.7 50.6 L64.2 51.3 L64.2 51.8 L64.3 52.3 L64.7 53.1 L65.0 53.8 L64.7 54.7 L64.3 55.3 L63.7 55.8 L63.2 56.1 L62.7 56.5 L62.1 56.8 L61.2 57.3 L60.7 57.6 L60.2 57.8 L59.2 58.3 L58.7 58.5 L58.1 58.8 L57.2 59.2 L56.7 59.4 L55.7 59.8 L55.2 60.0 L54.4 60.3 L53.7 60.6 L53.1 60.8 L52.2 61.2 L51.7 61.3 L50.7 61.7 L50.2 61.9 L49.2 62.2 L48.7 62.4 L47.7 62.8 L47.2 62.9 L46.2 63.3 L45.7 63.4 L44.7 63.8 L44.2 63.9 L43.2 64.3 L42.7 64.4 L41.7 64.7 L41.2 64.9 L40.2 65.2 L39.7 65.3 L38.7 65.6 L38.0 65.8 L37.2 66.1 L36.2 66.3 L35.7 66.5 L34.7 66.7 L34.2 66.8" fill="none" stroke="#101a10" stroke-width="1.3" stroke-linejoin="round"/>
<path d="M-1 39.4C3 37.8 7 36.3 8.7 37C10 38.2 5.5 41 -1 42.8" fill="#63e59a" stroke="#101a10" stroke-width="1.4"/>
</g>
<rect x="0.8" y="1.4" width="14.6" height="17.5" fill="#fff"/><text x="2.3" y="16" font-size="13.6" font-weight="700" fill="#2a2a2a">c)</text>
</g>
<clipPath id="cpd"><rect x="0" y="0" width="217.0" height="66.7"/></clipPath>
<g transform="translate(410.3 215.3)" filter="url(#soft2)"><g clip-path="url(#cpd)"><g filter="url(#jet)">
<rect x="-6.0" y="-6.1" width="229.1" height="78.8" fill="#000"/>
<g transform="scale(3.0139 3.0318)" shape-rendering="crispEdges">
<path fill="#020202" d="M19 4h1v1h-1zM19 17h1v1h-1z"/>
<path fill="#030303" d="M20 4h1v1h-1zM20 17h1v1h-1z"/>
<path fill="#060606" d="M18 4h1v1h-1zM18 17h1v1h-1z"/>
<path fill="#070707" d="M16 1h2v1h-2zM21 4h1v1h-1zM21 17h1v1h-1zM16 20h2v1h-2z"/>
<path fill="#080808" d="M15 1h1v1h-1zM15 20h1v1h-1z"/>
<path fill="#090909" d="M18 1h1v1h-1zM18 20h1v1h-1z"/>
<path fill="#0a0a0a" d="M14 1h1v1h-1zM19 1h1v1h-1zM17 4h1v1h-1zM17 17h1v1h-1zM14 20h1v1h-1zM19 20h1v1h-1z"/>
<path fill="#0b0b0b" d="M23 -2h3v1h-3zM23 -1h3v1h-3zM23 0h3v1h-3zM22 4h1v1h-1zM22 17h1v1h-1zM23 21h3v1h-3zM23 22h3v1h-3zM23 23h3v1h-3z"/>
<path fill="#0c0c0c" d="M22 -2h1v1h-1zM26 -2h1v1h-1zM22 -1h1v1h-1zM26 -1h1v1h-1zM22 0h1v1h-1zM26 0h1v1h-1zM20 1h1v1h-1zM20 20h1v1h-1zM22 21h1v1h-1zM26 21h1v1h-1zM22 22h1v1h-1zM26 22h1v1h-1zM22 23h1v1h-1zM26 23h1v1h-1z"/>
<path fill="#0d0d0d" d="M27 -2h1v1h-1zM27 -1h1v1h-1zM27 0h1v1h-1zM13 1h1v1h-1zM13 20h1v1h-1zM27 21h1v1h-1zM27 22h1v1h-1zM27 23h1v1h-1z"/>
<path fill="#0e0e0e" d="M21 -2h1v1h-1zM28 -2h1v1h-1zM21 -1h1v1h-1zM28 -1h1v1h-1zM21 0h1v1h-1zM28 0h1v1h-1zM21 21h1v1h-1zM28 21h1v1h-1zM21 22h1v1h-1zM28 22h1v1h-1zM21 23h1v1h-1zM28 23h1v1h-1z"/>
<path fill="#0f0f0f" d="M20 -2h1v1h-1zM20 -1h1v1h-1zM20 0h1v1h-1zM21 1h1v1h-1zM16 4h1v1h-1zM23 4h1v1h-1zM16 17h1v1h-1zM23 17h1v1h-1zM21 20h1v1h-1zM20 21h1v1h-1zM20 22h1v1h-1zM20 23h1v1h-1z"/>
<path fill="#101010" d="M29 -2h1v1h-1zM29 -1h1v1h-1zM29 0h1v1h-1zM12 1h1v1h-1zM12 20h1v1h-1zM29 21h1v1h-1zM29 22h1v1h-1zM29 23h1v1h-1z"/>
<path fill="#111111" d="M19 -2h1v1h-1zM19 -1h1v1h-1zM19 0h1v1h-1zM22 1h1v1h-1zM22 20h1v1h-1zM19 21h1v1h-1zM19 22h1v1h-1zM19 23h1v1h-1z"/>
<path fill="#131313" d="M18 -2h1v1h-1zM30 -2h1v1h-1zM18 -1h1v1h-1zM30 -1h1v1h-1zM18 0h1v1h-1zM30 0h1v1h-1zM23 1h1v1h-1zM24 4h1v1h-1zM24 17h1v1h-1zM23 20h1v1h-1zM18 21h1v1h-1zM30 21h1v1h-1zM18 22h1v1h-1zM30 22h1v1h-1zM18 23h1v1h-1zM30 23h1v1h-1z"/>
<path fill="#141414" d="M11 1h1v1h-1zM15 4h1v1h-1zM15 17h1v1h-1zM11 20h1v1h-1z"/>
<path fill="#151515" d="M17 -2h1v1h-1zM31 -2h1v1h-1zM17 -1h1v1h-1zM31 -1h1v1h-1zM17 0h1v1h-1zM31 0h1v1h-1zM24 1h1v1h-1zM24 20h1v1h-1zM17 21h1v1h-1zM31 21h1v1h-1zM17 22h1v1h-1zM31 22h1v1h-1zM17 23h1v1h-1zM31 23h1v1h-1z"/>
<path fill="#161616" d="M16 -2h1v1h-1zM16 -1h1v1h-1zM16 0h1v1h-1zM16 21h1v1h-1zM16 22h1v1h-1zM16 23h1v1h-1z"/>
<path fill="#171717" d="M10 1h1v1h-1zM25 4h1v1h-1zM25 17h1v1h-1zM10 20h1v1h-1z"/>
<path fill="#181818" d="M15 -2h1v1h-1zM32 -2h1v1h-1zM15 -1h1v1h-1zM32 -1h1v1h-1zM15 0h1v1h-1zM32 0h1v1h-1zM25 1h1v1h-1zM25 20h1v1h-1zM15 21h1v1h-1zM32 21h1v1h-1zM15 22h1v1h-1zM32 22h1v1h-1zM15 23h1v1h-1zM32 23h1v1h-1z"/>
<path fill="#191919" d="M14 4h1v1h-1zM20 7h1v1h-1zM20 14h1v1h-1zM14 17h1v1h-1z"/>
<path fill="#1a1a1a" d="M14 -2h1v1h-1zM33 -2h1v1h-1zM14 -1h1v1h-1zM33 -1h1v1h-1zM14 0h1v1h-1zM33 0h1v1h-1zM26 1h1v1h-1zM26 20h1v1h-1zM14 21h1v1h-1zM33 21h1v1h-1zM14 22h1v1h-1zM33 22h1v1h-1zM14 23h1v1h-1zM33 23h1v1h-1z"/>
<path fill="#1b1b1b" d="M9 1h1v1h-1zM19 7h1v1h-1zM19 14h1v1h-1zM9 20h1v1h-1z"/>
<path fill="#1c1c1c" d="M13 -2h1v1h-1zM13 -1h1v1h-1zM13 0h1v1h-1zM26 4h1v1h-1zM26 17h1v1h-1zM13 21h1v1h-1zM13 22h1v1h-1zM13 23h1v1h-1z"/>
<path fill="#1d1d1d" d="M34 -2h1v1h-1zM34 -1h1v1h-1zM34 0h1v1h-1zM27 1h1v1h-1zM21 7h1v1h-1zM21 14h1v1h-1zM27 20h1v1h-1zM34 21h1v1h-1zM34 22h1v1h-1zM34 23h1v1h-1z"/>
<path fill="#1e1e1e" d="M12 -2h1v1h-1zM12 -1h1v1h-1zM12 0h1v1h-1zM22 3h2v1h-2zM22 18h2v1h-2zM12 21h1v1h-1zM12 22h1v1h-1zM12 23h1v1h-1z"/>
<path fill="#1f1f1f" d="M28 1h1v1h-1zM20 3h2v1h-2zM24 3h1v1h-1zM13 4h1v1h-1zM13 17h1v1h-1zM20 18h2v1h-2zM24 18h1v1h-1zM28 20h1v1h-1z"/>
<path fill="#202020" d="M11 -2h1v1h-1zM35 -2h1v1h-1zM11 -1h1v1h-1zM35 -1h1v1h-1zM11 0h1v1h-1zM35 0h1v1h-1zM8 1h1v1h-1zM10 2h6v1h-6zM25 3h1v1h-1zM27 4h1v1h-1zM27 17h1v1h-1zM25 18h1v1h-1zM10 19h6v1h-6zM8 20h1v1h-1zM11 21h1v1h-1zM35 21h1v1h-1zM11 22h1v1h-1zM35 22h1v1h-1zM11 23h1v1h-1zM35 23h1v1h-1z"/>
<path fill="#212121" d="M9 2h1v1h-1zM16 2h2v1h-2zM19 3h1v1h-1zM26 3h1v1h-1zM18 7h1v1h-1zM18 14h1v1h-1zM19 18h1v1h-1zM26 18h1v1h-1zM9 19h1v1h-1zM16 19h2v1h-2z"/>
<path fill="#222222" d="M10 -2h1v1h-1zM10 -1h1v1h-1zM10 0h1v1h-1zM29 1h1v1h-1zM8 2h1v1h-1zM18 2h2v1h-2zM18 3h1v1h-1zM18 18h1v1h-1zM8 19h1v1h-1zM18 19h2v1h-2zM29 20h1v1h-1zM10 21h1v1h-1zM10 22h1v1h-1zM10 23h1v1h-1z"/>
<path fill="#232323" d="M36 -2h1v1h-1zM36 -1h1v1h-1zM36 0h1v1h-1zM20 2h1v1h-1zM27 3h1v1h-1zM27 18h1v1h-1zM20 19h1v1h-1zM36 21h1v1h-1zM36 22h1v1h-1zM36 23h1v1h-1z"/>
<path fill="#242424" d="M9 -2h1v1h-1zM9 -1h1v1h-1zM9 0h1v1h-1zM7 1h1v1h-1zM7 2h1v1h-1zM21 2h1v1h-1zM17 3h1v1h-1zM28 4h1v1h-1zM22 7h1v1h-1zM22 14h1v1h-1zM28 17h1v1h-1zM17 18h1v1h-1zM7 19h1v1h-1zM21 19h1v1h-1zM7 20h1v1h-1zM9 21h1v1h-1zM9 22h1v1h-1zM9 23h1v1h-1z"/>
<path fill="#252525" d="M8 -2h1v1h-1zM8 -1h1v1h-1zM8 0h1v1h-1zM30 1h1v1h-1zM22 2h1v1h-1zM12 4h1v1h-1zM12 17h1v1h-1zM22 19h1v1h-1zM30 20h1v1h-1zM8 21h1v1h-1zM8 22h1v1h-1zM8 23h1v1h-1z"/>
<path fill="#262626" d="M37 -2h1v1h-1zM37 -1h1v1h-1zM37 0h1v1h-1zM23 2h1v1h-1zM16 3h1v1h-1zM28 3h1v1h-1zM16 18h1v1h-1zM28 18h1v1h-1zM23 19h1v1h-1zM37 21h1v1h-1zM37 22h1v1h-1zM37 23h1v1h-1z"/>
<path fill="#272727" d="M7 -2h1v1h-1zM7 -1h1v1h-1zM7 0h1v1h-1zM6 2h1v1h-1zM24 2h1v1h-1zM6 19h1v1h-1zM24 19h1v1h-1zM7 21h1v1h-1zM7 22h1v1h-1zM7 23h1v1h-1z"/>
<path fill="#282828" d="M31 1h1v1h-1zM25 2h1v1h-1zM15 3h1v1h-1zM15 18h1v1h-1zM25 19h1v1h-1zM31 20h1v1h-1z"/>
<path fill="#292929" d="M6 -2h1v1h-1zM38 -2h1v1h-1zM6 -1h1v1h-1zM38 -1h1v1h-1zM6 0h1v1h-1zM38 0h1v1h-1zM6 1h1v1h-1zM29 3h1v1h-1zM29 4h1v1h-1zM29 17h1v1h-1zM29 18h1v1h-1zM6 20h1v1h-1zM6 21h1v1h-1zM38 21h1v1h-1zM6 22h1v1h-1zM38 22h1v1h-1zM6 23h1v1h-1zM38 23h1v1h-1z"/>
<path fill="#2a2a2a" d="M5 -2h1v1h-1zM5 -1h1v1h-1zM5 0h1v1h-1zM32 1h1v1h-1zM26 2h1v1h-1zM26 19h1v1h-1zM32 20h1v1h-1zM5 21h1v1h-1zM5 22h1v1h-1zM5 23h1v1h-1z"/>
<path fill="#2b2b2b" d="M4 -2h1v1h-1zM4 -1h1v1h-1zM4 0h1v1h-1zM5 2h1v1h-1zM14 3h1v1h-1zM11 4h1v1h-1zM16 5h2v1h-2zM17 7h1v1h-1zM17 14h1v1h-1zM16 16h2v1h-2zM11 17h1v1h-1zM14 18h1v1h-1zM5 19h1v1h-1zM4 21h1v1h-1zM4 22h1v1h-1zM4 23h1v1h-1z"/>
<path fill="#2c2c2c" d="M3 -2h1v1h-1zM39 -2h1v1h-1zM3 -1h1v1h-1zM39 -1h1v1h-1zM3 0h1v1h-1zM39 0h1v1h-1zM27 2h1v1h-1zM30 3h1v1h-1zM15 5h1v1h-1zM18 5h1v1h-1zM15 16h1v1h-1zM18 16h1v1h-1zM30 18h1v1h-1zM27 19h1v1h-1zM3 21h1v1h-1zM39 21h1v1h-1zM3 22h1v1h-1zM39 22h1v1h-1zM3 23h1v1h-1zM39 23h1v1h-1z"/>
<path fill="#2d2d2d" d="M5 1h1v1h-1zM33 1h1v1h-1zM13 3h1v1h-1zM30 4h1v1h-1zM14 5h1v1h-1zM19 5h1v1h-1zM23 7h1v1h-1zM23 14h1v1h-1zM14 16h1v1h-1zM19 16h1v1h-1zM30 17h1v1h-1zM13 18h1v1h-1zM5 20h1v1h-1zM33 20h1v1h-1z"/>
<path fill="#2e2e2e" d="M2 -2h1v1h-1zM2 -1h1v1h-1zM2 0h1v1h-1zM28 2h1v1h-1zM13 5h1v1h-1zM20 5h1v1h-1zM13 16h1v1h-1zM20 16h1v1h-1zM28 19h1v1h-1zM2 21h1v1h-1zM2 22h1v1h-1zM2 23h1v1h-1z"/>
<path fill="#2f2f2f" d="M1 -2h1v1h-1zM40 -2h1v1h-1zM1 -1h1v1h-1zM40 -1h1v1h-1zM1 0h1v1h-1zM40 0h1v1h-1zM4 2h1v1h-1zM31 3h1v1h-1zM31 18h1v1h-1zM4 19h1v1h-1zM1 21h1v1h-1zM40 21h1v1h-1zM1 22h1v1h-1zM40 22h1v1h-1zM1 23h1v1h-1zM40 23h1v1h-1z"/>
<path fill="#303030" d="M34 1h1v1h-1zM29 2h1v1h-1zM12 3h1v1h-1zM12 5h1v1h-1zM21 5h1v1h-1zM12 16h1v1h-1zM21 16h1v1h-1zM12 18h1v1h-1zM29 19h1v1h-1zM34 20h1v1h-1z"/>
<path fill="#313131" d="M-2 -2h3v1h-3zM-2 -1h3v1h-3zM-2 0h3v1h-3zM31 4h1v1h-1zM68 6h6v1h-6zM68 15h6v1h-6zM31 17h1v1h-1zM-2 21h3v1h-3zM-2 22h3v1h-3zM-2 23h3v1h-3z"/>
<path fill="#323232" d="M41 -2h1v1h-1zM41 -1h1v1h-1zM41 0h1v1h-1zM4 1h1v1h-1zM30 2h1v1h-1zM32 3h1v1h-1zM10 4h1v1h-1zM22 5h1v1h-1zM67 6h1v1h-1zM67 15h1v1h-1zM22 16h1v1h-1zM10 17h1v1h-1zM32 18h1v1h-1zM30 19h1v1h-1zM4 20h1v1h-1zM41 21h1v1h-1zM41 22h1v1h-1zM41 23h1v1h-1z"/>
<path fill="#333333" d="M35 1h1v1h-1zM3 2h1v1h-1zM11 3h1v1h-1zM11 5h1v1h-1zM71 5h3v1h-3zM66 6h1v1h-1zM66 15h1v1h-1zM11 16h1v1h-1zM71 16h3v1h-3zM11 18h1v1h-1zM3 19h1v1h-1zM35 20h1v1h-1z"/>
<path fill="#343434" d="M31 2h1v1h-1zM68 5h3v1h-3zM65 6h1v1h-1zM65 15h1v1h-1zM68 16h3v1h-3zM31 19h1v1h-1z"/>
<path fill="#353535" d="M42 -2h1v1h-1zM42 -1h1v1h-1zM42 0h1v1h-1zM23 5h1v1h-1zM67 5h1v1h-1zM64 6h1v1h-1zM16 7h1v1h-1zM67 7h7v1h-7zM16 14h1v1h-1zM67 14h7v1h-7zM64 15h1v1h-1zM23 16h1v1h-1zM67 16h1v1h-1zM42 21h1v1h-1zM42 22h1v1h-1zM42 23h1v1h-1z"/>
<path fill="#363636" d="M36 1h1v1h-1zM10 3h1v1h-1zM33 3h1v1h-1zM32 4h1v1h-1zM10 5h1v1h-1zM66 5h1v1h-1zM24 7h1v1h-1zM66 7h1v1h-1zM24 14h1v1h-1zM66 14h1v1h-1zM10 16h1v1h-1zM66 16h1v1h-1zM32 17h1v1h-1zM10 18h1v1h-1zM33 18h1v1h-1zM36 20h1v1h-1z"/>
<path fill="#373737" d="M43 -2h1v1h-1zM43 -1h1v1h-1zM43 0h1v1h-1zM3 1h1v1h-1zM32 2h1v1h-1zM65 5h1v1h-1zM63 6h1v1h-1zM65 7h1v1h-1zM65 14h1v1h-1zM63 15h1v1h-1zM65 16h1v1h-1zM32 19h1v1h-1zM3 20h1v1h-1zM43 21h1v1h-1zM43 22h1v1h-1zM43 23h1v1h-1z"/>
<path fill="#383838" d="M9 4h1v1h-1zM24 5h1v1h-1zM64 7h1v1h-1zM64 14h1v1h-1zM24 16h1v1h-1zM9 17h1v1h-1z"/>
<path fill="#393939" d="M37 1h1v1h-1zM2 2h1v1h-1zM9 3h1v1h-1zM34 3h1v1h-1zM71 4h3v1h-3zM64 5h1v1h-1zM62 6h1v1h-1zM62 15h1v1h-1zM64 16h1v1h-1zM71 17h3v1h-3zM9 18h1v1h-1zM34 18h1v1h-1zM2 19h1v1h-1zM37 20h1v1h-1z"/>
<path fill="#3a3a3a" d="M44 -2h1v1h-1zM44 -1h1v1h-1zM44 0h1v1h-1zM33 2h1v1h-1zM33 4h1v1h-1zM70 4h1v1h-1zM63 7h1v1h-1zM63 14h1v1h-1zM33 17h1v1h-1zM70 17h1v1h-1zM33 19h1v1h-1zM44 21h1v1h-1zM44 22h1v1h-1zM44 23h1v1h-1z"/>
<path fill="#3b3b3b" d="M2 1h1v1h-1zM8 3h1v1h-1zM69 4h1v1h-1zM9 5h1v1h-1zM25 5h1v1h-1zM63 5h1v1h-1zM62 7h1v1h-1zM62 14h1v1h-1zM9 16h1v1h-1zM25 16h1v1h-1zM63 16h1v1h-1zM69 17h1v1h-1zM8 18h1v1h-1zM2 20h1v1h-1z"/>
<path fill="#3c3c3c" d="M38 1h1v1h-1zM68 4h1v1h-1zM61 6h1v1h-1zM71 8h3v1h-3zM71 13h3v1h-3zM61 15h1v1h-1zM68 17h1v1h-1zM38 20h1v1h-1z"/>
<path fill="#3d3d3d" d="M45 -2h1v1h-1zM45 -1h1v1h-1zM45 0h1v1h-1zM34 2h1v1h-1zM35 3h1v1h-1zM67 4h1v1h-1zM62 5h1v1h-1zM61 7h1v1h-1zM68 8h3v1h-3zM68 13h3v1h-3zM61 14h1v1h-1zM62 16h1v1h-1zM67 17h1v1h-1zM35 18h1v1h-1zM34 19h1v1h-1zM45 21h1v1h-1zM45 22h1v1h-1zM45 23h1v1h-1z"/>
<path fill="#3e3e3e" d="M1 2h1v1h-1zM7 3h1v1h-1zM34 4h1v1h-1zM26 5h1v1h-1zM60 6h1v1h-1zM66 8h2v1h-2zM49 10h1v1h-1zM49 11h1v1h-1zM66 13h2v1h-2zM60 15h1v1h-1zM26 16h1v1h-1zM34 17h1v1h-1zM7 18h1v1h-1zM1 19h1v1h-1z"/>
<path fill="#3f3f3f" d="M46 -2h1v1h-1zM46 -1h1v1h-1zM46 0h1v1h-1zM1 1h1v1h-1zM39 1h1v1h-1zM35 2h1v1h-1zM8 4h1v1h-1zM66 4h1v1h-1zM61 5h1v1h-1zM19 6h3v1h-3zM25 7h1v1h-1zM60 7h1v1h-1zM64 8h2v1h-2zM48 10h1v1h-1zM50 10h2v1h-2zM48 11h1v1h-1zM50 11h2v1h-2zM64 13h2v1h-2zM25 14h1v1h-1zM60 14h1v1h-1zM19 15h3v1h-3zM61 16h1v1h-1zM8 17h1v1h-1zM66 17h1v1h-1zM35 19h1v1h-1zM1 20h1v1h-1zM39 20h1v1h-1zM46 21h1v1h-1zM46 22h1v1h-1zM46 23h1v1h-1z"/>
<path fill="#404040" d="M6 3h1v1h-1zM36 3h1v1h-1zM71 3h3v1h-3zM65 4h1v1h-1zM8 5h1v1h-1zM15 7h1v1h-1zM63 8h1v1h-1zM47 10h1v1h-1zM52 10h1v1h-1zM47 11h1v1h-1zM52 11h1v1h-1zM63 13h1v1h-1zM15 14h1v1h-1zM8 16h1v1h-1zM65 17h1v1h-1zM6 18h1v1h-1zM36 18h1v1h-1zM71 18h3v1h-3z"/>
<path fill="#414141" d="M47 -2h1v1h-1zM47 -1h1v1h-1zM47 0h1v1h-1zM70 3h1v1h-1zM60 5h1v1h-1zM18 6h1v1h-1zM22 6h1v1h-1zM59 6h1v1h-1zM18 8h2v1h-2zM62 8h1v1h-1zM18 13h2v1h-2zM62 13h1v1h-1zM18 15h1v1h-1zM22 15h1v1h-1zM59 15h1v1h-1zM60 16h1v1h-1zM70 18h1v1h-1zM47 21h1v1h-1zM47 22h1v1h-1zM47 23h1v1h-1z"/>
<path fill="#424242" d="M40 1h1v1h-1zM36 2h1v1h-1zM35 4h1v1h-1zM64 4h1v1h-1zM27 5h1v1h-1zM59 7h1v1h-1zM20 8h1v1h-1zM61 8h1v1h-1zM46 10h1v1h-1zM53 10h1v1h-1zM46 11h1v1h-1zM53 11h1v1h-1zM20 13h1v1h-1zM61 13h1v1h-1zM59 14h1v1h-1zM27 16h1v1h-1zM35 17h1v1h-1zM64 17h1v1h-1zM36 19h1v1h-1zM40 20h1v1h-1z"/>
<path fill="#434343" d="M48 -2h1v1h-1zM71 -2h3v1h-3zM48 -1h1v1h-1zM71 -1h3v1h-3zM48 0h1v1h-1zM71 0h3v1h-3zM-2 1h3v1h-3zM5 3h1v1h-1zM69 3h1v1h-1zM59 5h1v1h-1zM17 6h1v1h-1zM17 8h1v1h-1zM60 8h1v1h-1zM54 10h1v1h-1zM54 11h1v1h-1zM17 13h1v1h-1zM60 13h1v1h-1zM17 15h1v1h-1zM59 16h1v1h-1zM5 18h1v1h-1zM69 18h1v1h-1zM-2 20h3v1h-3zM48 21h1v1h-1zM71 21h3v1h-3zM48 22h1v1h-1zM71 22h3v1h-3zM48 23h1v1h-1zM71 23h3v1h-3z"/>
<path fill="#444444" d="M70 -2h1v1h-1zM70 -1h1v1h-1zM70 0h1v1h-1zM41 1h1v1h-1zM71 1h3v1h-3zM-2 2h3v1h-3zM71 2h3v1h-3zM37 3h1v1h-1zM63 4h1v1h-1zM58 6h1v1h-1zM59 8h1v1h-1zM59 13h1v1h-1zM58 15h1v1h-1zM63 17h1v1h-1zM37 18h1v1h-1zM-2 19h3v1h-3zM71 19h3v1h-3zM41 20h1v1h-1zM71 20h3v1h-3zM70 21h1v1h-1zM70 22h1v1h-1zM70 23h1v1h-1z"/>
<path fill="#454545" d="M49 -2h1v1h-1zM49 -1h1v1h-1zM49 0h1v1h-1zM37 2h1v1h-1zM4 3h1v1h-1zM68 3h1v1h-1zM36 4h1v1h-1zM62 4h1v1h-1zM7 5h1v1h-1zM23 6h1v1h-1zM58 7h1v1h-1zM21 8h1v1h-1zM71 9h3v1h-3zM45 10h1v1h-1zM55 10h1v1h-1zM45 11h1v1h-1zM55 11h1v1h-1zM71 12h3v1h-3zM21 13h1v1h-1zM58 14h1v1h-1zM23 15h1v1h-1zM7 16h1v1h-1zM36 17h1v1h-1zM62 17h1v1h-1zM4 18h1v1h-1zM68 18h1v1h-1zM37 19h1v1h-1zM49 21h1v1h-1zM49 22h1v1h-1zM49 23h1v1h-1z"/>
<path fill="#464646" d="M69 -2h1v1h-1zM69 -1h1v1h-1zM69 0h1v1h-1zM70 1h1v1h-1zM70 2h1v1h-1zM67 3h1v1h-1zM7 4h1v1h-1zM28 5h1v1h-1zM58 5h1v1h-1zM58 8h1v1h-1zM69 9h2v1h-2zM56 10h1v1h-1zM56 11h1v1h-1zM69 12h2v1h-2zM58 13h1v1h-1zM28 16h1v1h-1zM58 16h1v1h-1zM7 17h1v1h-1zM67 18h1v1h-1zM70 19h1v1h-1zM70 20h1v1h-1zM69 21h1v1h-1zM69 22h1v1h-1zM69 23h1v1h-1z"/>
<path fill="#474747" d="M50 -2h1v1h-1zM68 -2h1v1h-1zM50 -1h1v1h-1zM68 -1h1v1h-1zM50 0h1v1h-1zM68 0h1v1h-1zM42 1h1v1h-1zM3 3h1v1h-1zM38 3h1v1h-1zM61 4h1v1h-1zM16 6h1v1h-1zM57 6h1v1h-1zM16 8h1v1h-1zM57 8h1v1h-1zM52 9h9v1h-9zM65 9h4v1h-4zM57 10h1v1h-1zM57 11h1v1h-1zM52 12h9v1h-9zM65 12h4v1h-4zM16 13h1v1h-1zM57 13h1v1h-1zM16 15h1v1h-1zM57 15h1v1h-1zM61 17h1v1h-1zM3 18h1v1h-1zM38 18h1v1h-1zM42 20h1v1h-1zM50 21h1v1h-1zM68 21h1v1h-1zM50 22h1v1h-1zM68 22h1v1h-1zM50 23h1v1h-1zM68 23h1v1h-1z"/>
<path fill="#484848" d="M69 1h1v1h-1zM38 2h1v1h-1zM69 2h1v1h-1zM66 3h1v1h-1zM37 4h1v1h-1zM24 6h1v1h-1zM26 7h1v1h-1zM57 7h1v1h-1zM50 9h2v1h-2zM61 9h4v1h-4zM50 12h2v1h-2zM61 12h4v1h-4zM26 14h1v1h-1zM57 14h1v1h-1zM24 15h1v1h-1zM37 17h1v1h-1zM66 18h1v1h-1zM38 19h1v1h-1zM69 19h1v1h-1zM69 20h1v1h-1z"/>
<path fill="#494949" d="M51 -2h1v1h-1zM67 -2h1v1h-1zM51 -1h1v1h-1zM67 -1h1v1h-1zM51 0h1v1h-1zM67 0h1v1h-1zM43 1h1v1h-1zM2 3h1v1h-1zM60 4h1v1h-1zM29 5h1v1h-1zM57 5h1v1h-1zM56 8h1v1h-1zM49 9h1v1h-1zM44 10h1v1h-1zM58 10h1v1h-1zM44 11h1v1h-1zM58 11h1v1h-1zM49 12h1v1h-1zM56 13h1v1h-1zM29 16h1v1h-1zM57 16h1v1h-1zM60 17h1v1h-1zM2 18h1v1h-1zM43 20h1v1h-1zM51 21h1v1h-1zM67 21h1v1h-1zM51 22h1v1h-1zM67 22h1v1h-1zM51 23h1v1h-1zM67 23h1v1h-1z"/>
<path fill="#4a4a4a" d="M52 -2h1v1h-1zM66 -2h1v1h-1zM52 -1h1v1h-1zM66 -1h1v1h-1zM52 0h1v1h-1zM66 0h1v1h-1zM68 1h1v1h-1zM68 2h1v1h-1zM39 3h1v1h-1zM65 3h1v1h-1zM22 8h1v1h-1zM59 10h1v1h-1zM59 11h1v1h-1zM22 13h1v1h-1zM39 18h1v1h-1zM65 18h1v1h-1zM68 19h1v1h-1zM68 20h1v1h-1zM52 21h1v1h-1zM66 21h1v1h-1zM52 22h1v1h-1zM66 22h1v1h-1zM52 23h1v1h-1zM66 23h1v1h-1z"/>
<path fill="#4b4b4b" d="M53 -2h1v1h-1zM65 -2h1v1h-1zM53 -1h1v1h-1zM65 -1h1v1h-1zM53 0h1v1h-1zM65 0h1v1h-1zM39 2h1v1h-1zM38 4h1v1h-1zM59 4h1v1h-1zM6 5h1v1h-1zM56 5h1v1h-1zM15 6h1v1h-1zM56 6h1v1h-1zM14 7h1v1h-1zM56 7h1v1h-1zM55 8h1v1h-1zM48 9h1v1h-1zM60 10h1v1h-1zM70 10h4v1h-4zM60 11h1v1h-1zM70 11h4v1h-4zM48 12h1v1h-1zM55 13h1v1h-1zM14 14h1v1h-1zM56 14h1v1h-1zM15 15h1v1h-1zM56 15h1v1h-1zM6 16h1v1h-1zM56 16h1v1h-1zM38 17h1v1h-1zM59 17h1v1h-1zM39 19h1v1h-1zM53 21h1v1h-1zM65 21h1v1h-1zM53 22h1v1h-1zM65 22h1v1h-1zM53 23h1v1h-1zM65 23h1v1h-1z"/>
<path fill="#4c4c4c" d="M54 -2h1v1h-1zM64 -2h1v1h-1zM54 -1h1v1h-1zM64 -1h1v1h-1zM54 0h1v1h-1zM64 0h1v1h-1zM44 1h1v1h-1zM67 1h1v1h-1zM67 2h1v1h-1zM1 3h1v1h-1zM64 3h1v1h-1zM6 4h1v1h-1zM15 8h1v1h-1zM61 10h2v1h-2zM69 10h1v1h-1zM61 11h2v1h-2zM69 11h1v1h-1zM15 13h1v1h-1zM6 17h1v1h-1zM1 18h1v1h-1zM64 18h1v1h-1zM67 19h1v1h-1zM44 20h1v1h-1zM67 20h1v1h-1zM54 21h1v1h-1zM64 21h1v1h-1zM54 22h1v1h-1zM64 22h1v1h-1zM54 23h1v1h-1zM64 23h1v1h-1z"/>
<path fill="#4d4d4d" d="M55 -2h1v1h-1zM62 -2h2v1h-2zM55 -1h1v1h-1zM62 -1h2v1h-2zM55 0h1v1h-1zM62 0h2v1h-2zM40 2h1v1h-1zM40 3h1v1h-1zM58 4h1v1h-1zM30 5h1v1h-1zM25 6h1v1h-1zM54 8h1v1h-1zM47 9h1v1h-1zM43 10h1v1h-1zM63 10h6v1h-6zM43 11h1v1h-1zM63 11h6v1h-6zM47 12h1v1h-1zM54 13h1v1h-1zM25 15h1v1h-1zM30 16h1v1h-1zM58 17h1v1h-1zM40 18h1v1h-1zM40 19h1v1h-1zM55 21h1v1h-1zM62 21h2v1h-2zM55 22h1v1h-1zM62 22h2v1h-2zM55 23h1v1h-1zM62 23h2v1h-2z"/>
<path fill="#4e4e4e" d="M56 -2h6v1h-6zM56 -1h6v1h-6zM56 0h6v1h-6zM45 1h1v1h-1zM66 1h1v1h-1zM66 2h1v1h-1zM-2 3h3v1h-3zM63 3h1v1h-1zM39 4h1v1h-1zM55 5h1v1h-1zM55 6h1v1h-1zM55 7h1v1h-1zM23 8h1v1h-1zM23 13h1v1h-1zM55 14h1v1h-1zM55 15h1v1h-1zM55 16h1v1h-1zM39 17h1v1h-1zM-2 18h3v1h-3zM63 18h1v1h-1zM66 19h1v1h-1zM45 20h1v1h-1zM66 20h1v1h-1zM56 21h6v1h-6zM56 22h6v1h-6zM56 23h6v1h-6z"/>
<path fill="#4f4f4f" d="M65 1h1v1h-1zM57 4h1v1h-1zM14 6h1v1h-1zM53 8h1v1h-1zM46 9h1v1h-1zM-2 10h3v1h-3zM-2 11h3v1h-3zM46 12h1v1h-1zM53 13h1v1h-1zM14 15h1v1h-1zM57 17h1v1h-1zM65 20h1v1h-1z"/>
<path fill="#505050" d="M46 1h1v1h-1zM41 2h1v1h-1zM65 2h1v1h-1zM41 3h1v1h-1zM62 3h1v1h-1zM56 4h1v1h-1zM27 7h1v1h-1zM27 14h1v1h-1zM56 17h1v1h-1zM41 18h1v1h-1zM62 18h1v1h-1zM41 19h1v1h-1zM65 19h1v1h-1zM46 20h1v1h-1z"/>
<path fill="#515151" d="M64 1h1v1h-1zM40 4h1v1h-1zM5 5h1v1h-1zM31 5h1v1h-1zM54 5h1v1h-1zM26 6h1v1h-1zM52 8h1v1h-1zM45 9h1v1h-1zM45 12h1v1h-1zM52 13h1v1h-1zM26 15h1v1h-1zM5 16h1v1h-1zM31 16h1v1h-1zM54 16h1v1h-1zM40 17h1v1h-1zM64 20h1v1h-1z"/>
<path fill="#525252" d="M47 1h1v1h-1zM63 1h1v1h-1zM42 2h1v1h-1zM64 2h1v1h-1zM42 3h1v1h-1zM61 3h1v1h-1zM5 4h1v1h-1zM55 4h1v1h-1zM54 6h1v1h-1zM54 7h1v1h-1zM1 10h1v1h-1zM1 11h1v1h-1zM54 14h1v1h-1zM54 15h1v1h-1zM5 17h1v1h-1zM55 17h1v1h-1zM42 18h1v1h-1zM61 18h1v1h-1zM42 19h1v1h-1zM64 19h1v1h-1zM47 20h1v1h-1zM63 20h1v1h-1z"/>
<path fill="#535353" d="M48 1h1v1h-1zM60 3h1v1h-1zM41 4h1v1h-1zM53 5h1v1h-1zM13 6h1v1h-1zM14 8h1v1h-1zM24 8h1v1h-1zM42 10h1v1h-1zM42 11h1v1h-1zM14 13h1v1h-1zM24 13h1v1h-1zM13 15h1v1h-1zM53 16h1v1h-1zM41 17h1v1h-1zM60 18h1v1h-1zM48 20h1v1h-1z"/>
<path fill="#545454" d="M62 1h1v1h-1zM43 2h1v1h-1zM63 2h1v1h-1zM43 3h1v1h-1zM54 4h1v1h-1zM32 5h1v1h-1zM51 8h1v1h-1zM44 9h1v1h-1zM44 12h1v1h-1zM51 13h1v1h-1zM32 16h1v1h-1zM54 17h1v1h-1zM43 18h1v1h-1zM43 19h1v1h-1zM63 19h1v1h-1zM62 20h1v1h-1z"/>
<path fill="#555555" d="M49 1h1v1h-1zM61 1h1v1h-1zM62 2h1v1h-1zM59 3h1v1h-1zM42 4h1v1h-1zM53 4h1v1h-1zM53 7h1v1h-1zM53 14h1v1h-1zM42 17h1v1h-1zM53 17h1v1h-1zM59 18h1v1h-1zM62 19h1v1h-1zM49 20h1v1h-1zM61 20h1v1h-1z"/>
<path fill="#565656" d="M50 1h1v1h-1zM60 1h1v1h-1zM44 2h1v1h-1zM44 3h1v1h-1zM58 3h1v1h-1zM43 4h1v1h-1zM52 4h1v1h-1zM52 5h1v1h-1zM27 6h1v1h-1zM53 6h1v1h-1zM13 7h1v1h-1zM50 8h1v1h-1zM50 13h1v1h-1zM13 14h1v1h-1zM27 15h1v1h-1zM53 15h1v1h-1zM52 16h1v1h-1zM43 17h1v1h-1zM52 17h1v1h-1zM44 18h1v1h-1zM58 18h1v1h-1zM44 19h1v1h-1zM50 20h1v1h-1zM60 20h1v1h-1z"/>
<path fill="#575757" d="M51 1h2v1h-2zM58 1h2v1h-2zM61 2h1v1h-1zM44 4h1v1h-1zM51 4h1v1h-1zM33 5h1v1h-1zM12 6h1v1h-1zM43 9h1v1h-1zM43 12h1v1h-1zM12 15h1v1h-1zM33 16h1v1h-1zM44 17h1v1h-1zM51 17h1v1h-1zM61 19h1v1h-1zM51 20h2v1h-2zM58 20h2v1h-2z"/>
<path fill="#585858" d="M53 1h5v1h-5zM45 2h1v1h-1zM45 3h1v1h-1zM57 3h1v1h-1zM4 4h1v1h-1zM45 4h1v1h-1zM49 4h2v1h-2zM4 5h1v1h-1zM51 5h1v1h-1zM28 7h1v1h-1zM25 8h1v1h-1zM25 13h1v1h-1zM28 14h1v1h-1zM4 16h1v1h-1zM51 16h1v1h-1zM4 17h1v1h-1zM45 17h1v1h-1zM49 17h2v1h-2zM45 18h1v1h-1zM57 18h1v1h-1zM45 19h1v1h-1zM53 20h5v1h-5z"/>
<path fill="#595959" d="M60 2h1v1h-1zM46 3h1v1h-1zM56 3h1v1h-1zM46 4h3v1h-3zM52 6h1v1h-1zM52 7h1v1h-1zM49 8h1v1h-1zM2 10h1v1h-1zM41 10h1v1h-1zM2 11h1v1h-1zM41 11h1v1h-1zM49 13h1v1h-1zM52 14h1v1h-1zM52 15h1v1h-1zM46 17h3v1h-3zM46 18h1v1h-1zM56 18h1v1h-1zM60 19h1v1h-1z"/>
<path fill="#5a5a5a" d="M46 2h1v1h-1zM59 2h1v1h-1zM47 3h1v1h-1zM55 3h1v1h-1zM34 5h1v1h-1zM13 8h1v1h-1zM13 13h1v1h-1zM34 16h1v1h-1zM47 18h1v1h-1zM55 18h1v1h-1zM46 19h1v1h-1zM59 19h1v1h-1z"/>
<path fill="#5b5b5b" d="M47 2h1v1h-1zM58 2h1v1h-1zM48 3h1v1h-1zM53 3h2v1h-2zM50 5h1v1h-1zM11 6h1v1h-1zM28 6h1v1h-1zM42 9h1v1h-1zM42 12h1v1h-1zM11 15h1v1h-1zM28 15h1v1h-1zM50 16h1v1h-1zM48 18h1v1h-1zM53 18h2v1h-2zM47 19h1v1h-1zM58 19h1v1h-1z"/>
<path fill="#5c5c5c" d="M48 2h1v1h-1zM57 2h1v1h-1zM49 3h4v1h-4zM51 7h1v1h-1zM48 8h1v1h-1zM48 13h1v1h-1zM51 14h1v1h-1zM49 18h4v1h-4zM48 19h1v1h-1zM57 19h1v1h-1z"/>
<path fill="#5d5d5d" d="M49 2h1v1h-1zM56 2h1v1h-1zM3 4h1v1h-1zM35 5h1v1h-1zM49 5h1v1h-1zM51 6h1v1h-1zM26 8h1v1h-1zM26 13h1v1h-1zM51 15h1v1h-1zM35 16h1v1h-1zM49 16h1v1h-1zM3 17h1v1h-1zM49 19h1v1h-1zM56 19h1v1h-1z"/>
<path fill="#5e5e5e" d="M50 2h2v1h-2zM53 2h3v1h-3zM3 5h1v1h-1zM10 6h1v1h-1zM47 8h1v1h-1zM47 13h1v1h-1zM10 15h1v1h-1zM3 16h1v1h-1zM50 19h2v1h-2zM53 19h3v1h-3z"/>
<path fill="#5f5f5f" d="M52 2h1v1h-1zM36 5h1v1h-1zM48 5h1v1h-1zM29 7h1v1h-1zM41 9h1v1h-1zM41 12h1v1h-1zM29 14h1v1h-1zM36 16h1v1h-1zM48 16h1v1h-1zM52 19h1v1h-1z"/>
<path fill="#606060" d="M47 5h1v1h-1zM29 6h1v1h-1zM12 7h1v1h-1zM50 7h1v1h-1zM40 10h1v1h-1zM40 11h1v1h-1zM12 14h1v1h-1zM50 14h1v1h-1zM29 15h1v1h-1zM47 16h1v1h-1z"/>
<path fill="#616161" d="M2 4h1v1h-1zM37 5h1v1h-1zM9 6h1v1h-1zM50 6h1v1h-1zM27 8h1v1h-1zM46 8h1v1h-1zM27 13h1v1h-1zM46 13h1v1h-1zM9 15h1v1h-1zM50 15h1v1h-1zM37 16h1v1h-1zM2 17h1v1h-1z"/>
<path fill="#626262" d="M38 5h1v1h-1zM46 5h1v1h-1zM12 8h1v1h-1zM12 13h1v1h-1zM38 16h1v1h-1zM46 16h1v1h-1z"/>
<path fill="#636363" d="M39 5h1v1h-1zM45 5h1v1h-1zM40 9h1v1h-1zM3 10h1v1h-1zM3 11h1v1h-1zM40 12h1v1h-1zM39 16h1v1h-1zM45 16h1v1h-1z"/>
<path fill="#646464" d="M2 5h1v1h-1zM40 5h1v1h-1zM44 5h1v1h-1zM8 6h1v1h-1zM30 6h1v1h-1zM49 6h1v1h-1zM49 7h1v1h-1zM45 8h1v1h-1zM45 13h1v1h-1zM49 14h1v1h-1zM8 15h1v1h-1zM30 15h1v1h-1zM49 15h1v1h-1zM2 16h1v1h-1zM40 16h1v1h-1zM44 16h1v1h-1z"/>
<path fill="#656565" d="M1 4h1v1h-1zM41 5h3v1h-3zM30 7h1v1h-1zM28 8h1v1h-1zM28 13h1v1h-1zM30 14h1v1h-1zM41 16h3v1h-3zM1 17h1v1h-1z"/>
<path fill="#666666" d="M7 6h1v1h-1zM44 8h1v1h-1zM44 13h1v1h-1zM7 15h1v1h-1z"/>
<path fill="#676767" d="M-2 4h3v1h-3zM48 6h1v1h-1zM48 7h1v1h-1zM-2 9h3v1h-3zM39 10h1v1h-1zM39 11h1v1h-1zM-2 12h3v1h-3zM48 14h1v1h-1zM48 15h1v1h-1zM-2 17h3v1h-3z"/>
<path fill="#686868" d="M6 6h1v1h-1zM31 6h1v1h-1zM39 9h1v1h-1zM39 12h1v1h-1zM6 15h1v1h-1zM31 15h1v1h-1z"/>
<path fill="#696969" d="M1 5h1v1h-1zM5 6h1v1h-1zM11 7h1v1h-1zM11 8h1v1h-1zM29 8h1v1h-1zM43 8h1v1h-1zM11 13h1v1h-1zM29 13h1v1h-1zM43 13h1v1h-1zM11 14h1v1h-1zM5 15h1v1h-1zM1 16h1v1h-1z"/>
<path fill="#6a6a6a" d="M3 6h2v1h-2zM47 6h1v1h-1zM31 7h1v1h-1zM47 7h1v1h-1zM31 14h1v1h-1zM47 14h1v1h-1zM3 15h2v1h-2zM47 15h1v1h-1z"/>
<path fill="#6b6b6b" d="M-2 6h5v1h-5zM42 8h1v1h-1zM1 9h1v1h-1zM1 12h1v1h-1zM42 13h1v1h-1zM-2 15h5v1h-5z"/>
<path fill="#6c6c6c" d="M32 6h1v1h-1zM30 8h1v1h-1zM38 9h1v1h-1zM38 12h1v1h-1zM30 13h1v1h-1zM32 15h1v1h-1z"/>
<path fill="#6d6d6d" d="M46 6h1v1h-1zM41 8h1v1h-1zM41 13h1v1h-1zM46 15h1v1h-1z"/>
<path fill="#6e6e6e" d="M-2 5h3v1h-3zM46 7h1v1h-1zM31 8h1v1h-1zM4 10h1v1h-1zM4 11h1v1h-1zM31 13h1v1h-1zM46 14h1v1h-1zM-2 16h3v1h-3z"/>
<path fill="#6f6f6f" d="M33 6h1v1h-1zM32 7h1v1h-1zM40 8h1v1h-1zM2 9h1v1h-1zM38 10h1v1h-1zM38 11h1v1h-1zM2 12h1v1h-1zM40 13h1v1h-1zM32 14h1v1h-1zM33 15h1v1h-1z"/>
<path fill="#707070" d="M45 6h1v1h-1zM32 8h1v1h-1zM39 8h1v1h-1zM32 13h1v1h-1zM39 13h1v1h-1zM45 15h1v1h-1z"/>
<path fill="#717171" d="M45 7h1v1h-1zM10 8h1v1h-1zM37 9h1v1h-1zM37 12h1v1h-1zM10 13h1v1h-1zM45 14h1v1h-1z"/>
<path fill="#727272" d="M34 6h1v1h-1zM44 6h1v1h-1zM10 7h1v1h-1zM33 7h1v1h-1zM33 8h1v1h-1zM38 8h1v1h-1zM33 13h1v1h-1zM38 13h1v1h-1zM10 14h1v1h-1zM33 14h1v1h-1zM34 15h1v1h-1zM44 15h1v1h-1z"/>
<path fill="#737373" d="M44 7h1v1h-1zM34 8h4v1h-4zM3 9h1v1h-1zM3 12h1v1h-1zM34 13h4v1h-4zM44 14h1v1h-1z"/>
<path fill="#747474" d="M35 6h1v1h-1zM43 6h1v1h-1zM35 15h1v1h-1zM43 15h1v1h-1z"/>
<path fill="#757575" d="M42 6h1v1h-1zM34 7h1v1h-1zM34 14h1v1h-1zM42 15h1v1h-1z"/>
<path fill="#767676" d="M36 6h1v1h-1zM43 7h1v1h-1zM36 9h1v1h-1zM36 12h1v1h-1zM43 14h1v1h-1zM36 15h1v1h-1z"/>
<path fill="#777777" d="M37 6h1v1h-1zM40 6h2v1h-2zM4 9h1v1h-1zM4 12h1v1h-1zM37 15h1v1h-1zM40 15h2v1h-2z"/>
<path fill="#787878" d="M38 6h2v1h-2zM-2 7h3v1h-3zM35 7h1v1h-1zM42 7h1v1h-1zM9 8h1v1h-1zM37 10h1v1h-1zM37 11h1v1h-1zM9 13h1v1h-1zM-2 14h3v1h-3zM35 14h1v1h-1zM42 14h1v1h-1zM38 15h2v1h-2z"/>
<path fill="#797979" d="M9 7h1v1h-1zM41 7h1v1h-1zM9 14h1v1h-1zM41 14h1v1h-1z"/>
<path fill="#7a7a7a" d="M36 7h1v1h-1zM40 7h1v1h-1zM36 14h1v1h-1zM40 14h1v1h-1z"/>
<path fill="#7b7b7b" d="M37 7h3v1h-3zM5 9h1v1h-1zM35 9h1v1h-1zM5 12h1v1h-1zM35 12h1v1h-1zM37 14h3v1h-3z"/>
<path fill="#7c7c7c" d="M5 10h1v1h-1zM5 11h1v1h-1z"/>
<path fill="#7d7d7d" d="M-2 8h3v1h-3zM-2 13h3v1h-3z"/>
<path fill="#7e7e7e" d="M1 7h1v1h-1zM8 8h1v1h-1zM8 13h1v1h-1zM1 14h1v1h-1z"/>
<path fill="#7f7f7f" d="M8 7h1v1h-1zM8 14h1v1h-1z"/>
<path fill="#808080" d="M6 9h1v1h-1zM34 9h1v1h-1zM6 12h1v1h-1zM34 12h1v1h-1z"/>
<path fill="#818181" d="M36 10h1v1h-1zM36 11h1v1h-1z"/>
<path fill="#828282" d="M1 8h1v1h-1zM1 13h1v1h-1z"/>
<path fill="#838383" d="M2 7h1v1h-1zM7 7h1v1h-1zM7 8h1v1h-1zM7 13h1v1h-1zM2 14h1v1h-1zM7 14h1v1h-1z"/>
<path fill="#848484" d="M7 9h1v1h-1zM7 12h1v1h-1z"/>
<path fill="#858585" d="M33 9h1v1h-1zM33 12h1v1h-1z"/>
<path fill="#868686" d="M3 7h1v1h-1zM6 7h1v1h-1zM3 14h1v1h-1zM6 14h1v1h-1z"/>
<path fill="#878787" d="M2 8h1v1h-1zM6 8h1v1h-1zM2 13h1v1h-1zM6 13h1v1h-1z"/>
<path fill="#888888" d="M4 7h2v1h-2zM4 14h2v1h-2z"/>
<path fill="#898989" d="M3 8h1v1h-1zM5 8h1v1h-1zM8 9h1v1h-1zM6 10h1v1h-1zM6 11h1v1h-1zM8 12h1v1h-1zM3 13h1v1h-1zM5 13h1v1h-1z"/>
<path fill="#8a8a8a" d="M4 8h1v1h-1zM32 9h1v1h-1zM35 10h1v1h-1zM35 11h1v1h-1zM32 12h1v1h-1zM4 13h1v1h-1z"/>
<path fill="#8d8d8d" d="M9 9h1v1h-1zM9 12h1v1h-1z"/>
<path fill="#8f8f8f" d="M31 9h1v1h-1zM31 12h1v1h-1z"/>
<path fill="#929292" d="M10 9h1v1h-1zM10 12h1v1h-1z"/>
<path fill="#939393" d="M34 10h1v1h-1zM34 11h1v1h-1z"/>
<path fill="#949494" d="M30 9h1v1h-1zM30 12h1v1h-1z"/>
<path fill="#969696" d="M11 9h1v1h-1zM11 12h1v1h-1z"/>
<path fill="#989898" d="M29 9h1v1h-1zM7 10h1v1h-1zM7 11h1v1h-1zM29 12h1v1h-1z"/>
<path fill="#9b9b9b" d="M12 9h1v1h-1zM12 12h1v1h-1z"/>
<path fill="#9c9c9c" d="M28 9h1v1h-1zM28 12h1v1h-1z"/>
<path fill="#9d9d9d" d="M33 10h1v1h-1zM33 11h1v1h-1z"/>
<path fill="#9f9f9f" d="M13 9h1v1h-1zM13 12h1v1h-1z"/>
<path fill="#a0a0a0" d="M27 9h1v1h-1zM27 12h1v1h-1z"/>
<path fill="#a2a2a2" d="M14 9h1v1h-1zM14 12h1v1h-1z"/>
<path fill="#a4a4a4" d="M26 9h1v1h-1zM26 12h1v1h-1z"/>
<path fill="#a5a5a5" d="M15 9h1v1h-1zM8 10h1v1h-1zM8 11h1v1h-1zM15 12h1v1h-1z"/>
<path fill="#a6a6a6" d="M25 9h1v1h-1zM32 10h1v1h-1zM32 11h1v1h-1zM25 12h1v1h-1z"/>
<path fill="#a8a8a8" d="M16 9h1v1h-1zM16 12h1v1h-1z"/>
<path fill="#a9a9a9" d="M24 9h1v1h-1zM24 12h1v1h-1z"/>
<path fill="#aaaaaa" d="M17 9h1v1h-1zM17 12h1v1h-1z"/>
<path fill="#ababab" d="M23 9h1v1h-1zM23 12h1v1h-1z"/>
<path fill="#acacac" d="M18 9h1v1h-1zM22 9h1v1h-1zM18 12h1v1h-1zM22 12h1v1h-1z"/>
<path fill="#adadad" d="M19 9h3v1h-3zM19 12h3v1h-3z"/>
<path fill="#afafaf" d="M31 10h1v1h-1zM31 11h1v1h-1z"/>
<path fill="#b3b3b3" d="M9 10h1v1h-1zM9 11h1v1h-1z"/>
<path fill="#b9b9b9" d="M30 10h1v1h-1zM30 11h1v1h-1z"/>
<path fill="#bfbfbf" d="M10 10h1v1h-1zM10 11h1v1h-1z"/>
<path fill="#c1c1c1" d="M29 10h1v1h-1zM29 11h1v1h-1z"/>
<path fill="#cacaca" d="M11 10h1v1h-1zM28 10h1v1h-1zM11 11h1v1h-1zM28 11h1v1h-1z"/>
<path fill="#d2d2d2" d="M27 10h1v1h-1zM27 11h1v1h-1z"/>
<path fill="#d5d5d5" d="M12 10h1v1h-1zM12 11h1v1h-1z"/>
<path fill="#d9d9d9" d="M26 10h1v1h-1zM26 11h1v1h-1z"/>
<path fill="#dedede" d="M13 10h1v1h-1zM13 11h1v1h-1z"/>
<path fill="#e0e0e0" d="M25 10h1v1h-1zM25 11h1v1h-1z"/>
<path fill="#e5e5e5" d="M14 10h1v1h-1zM14 11h1v1h-1z"/>
<path fill="#e6e6e6" d="M24 10h1v1h-1zM24 11h1v1h-1z"/>
<path fill="#ebebeb" d="M15 10h1v1h-1zM15 11h1v1h-1z"/>
<path fill="#ececec" d="M23 10h1v1h-1zM23 11h1v1h-1z"/>
<path fill="#f0f0f0" d="M16 10h1v1h-1zM22 10h1v1h-1zM16 11h1v1h-1zM22 11h1v1h-1z"/>
<path fill="#f3f3f3" d="M17 10h1v1h-1zM21 10h1v1h-1zM17 11h1v1h-1zM21 11h1v1h-1z"/>
<path fill="#f5f5f5" d="M18 10h1v1h-1zM20 10h1v1h-1zM18 11h1v1h-1zM20 11h1v1h-1z"/>
<path fill="#f6f6f6" d="M19 10h1v1h-1zM19 11h1v1h-1z"/>
</g>
</g>
<path d="M21.2 45.1 L20.2 45.1 L19.2 45.2 L18.2 45.2 L17.2 45.2 L16.2 45.2 L15.2 45.2 L14.2 45.2 L13.2 45.2 L12.2 45.1 L11.2 45.1 L10.6 45.0 L9.7 45.0 L8.7 44.9 L7.7 44.7 L6.7 44.6 L6.2 44.5 L5.2 44.3 L4.3 44.1 L3.7 43.9 L2.9 43.6 L2.2 43.2 L1.7 42.9 L1.2 42.3 L1.2 41.6 L1.6 41.1 L2.2 40.7 L2.7 40.5 L3.7 40.2 L4.2 40.0 L5.2 39.8 L6.2 39.7 L6.8 39.6 L7.7 39.5 L8.7 39.3 L9.7 39.2 L10.7 39.1 L11.5 39.1 L12.2 39.0 L13.2 38.9 L14.2 38.8 L15.2 38.7 L16.2 38.6 L16.7 38.4 L17.7 38.1 L18.1 37.6 L17.8 36.6 L17.5 36.1 L17.2 35.6 L16.9 34.6 L16.7 34.1 L16.7 33.1 L16.7 32.6 L17.0 31.6 L17.3 31.1 L17.7 30.1 L18.0 29.6 L17.7 28.6 L17.2 28.4 L16.2 28.1 L15.7 28.1 L14.7 27.9 L13.7 27.8 L12.7 27.7 L11.7 27.7 L11.2 27.6 L10.2 27.5 L9.2 27.4 L8.2 27.3 L7.2 27.2 L6.7 27.1 L5.7 27.0 L4.7 26.8 L4.1 26.6 L3.2 26.4 L2.5 26.1 L1.7 25.7 L1.2 25.2 L1.1 24.6 L1.4 24.1 L1.9 23.6 L2.7 23.2 L3.2 23.0 L4.2 22.7 L4.7 22.5 L5.7 22.3 L6.4 22.2 L7.2 22.0 L8.2 21.9 L9.2 21.8 L10.2 21.7 L10.7 21.6 L11.7 21.6 L12.7 21.5 L13.7 21.5 L14.7 21.5 L15.7 21.5 L16.7 21.5 L17.7 21.5 L18.7 21.5 L19.7 21.6 L20.7 21.6 L21.4 21.7 L22.2 21.7 L23.2 21.9 L24.2 22.0 L24.9 22.2 L25.7 22.4 L26.3 22.6 L27.0 23.1 L27.0 24.1 L26.7 24.6 L26.2 25.3 L25.8 26.1 L26.2 26.8 L27.2 27.1 L27.7 27.2 L28.7 27.2 L29.7 27.3 L30.7 27.4 L31.7 27.4 L32.7 27.4 L33.7 27.5 L34.7 27.5 L35.7 27.5 L36.7 27.5 L37.7 27.5 L38.7 27.5 L39.7 27.5 L40.7 27.5 L41.7 27.5 L42.7 27.5 L43.7 27.5 L44.7 27.5 L45.7 27.5 L46.7 27.5 L47.7 27.5 L48.7 27.5 L49.7 27.5 L50.7 27.5 L51.7 27.5 L52.7 27.5 L53.7 27.5 L54.7 27.5 L55.7 27.5 L56.7 27.5 L57.7 27.5 L58.7 27.4 L59.7 27.4 L60.7 27.4 L61.7 27.4 L62.7 27.4 L63.7 27.4 L64.7 27.4 L65.7 27.4 L66.7 27.4 L67.7 27.3 L68.7 27.3 L69.7 27.3 L70.7 27.3 L71.7 27.3 L72.7 27.3 L73.7 27.3 L74.7 27.3 L75.7 27.3 L76.7 27.3 L77.7 27.2 L78.7 27.2 L79.7 27.2 L80.7 27.2 L81.7 27.2 L82.7 27.2 L83.7 27.2 L84.7 27.2 L85.7 27.2 L86.7 27.2 L87.7 27.2 L88.7 27.2 L89.7 27.2 L90.7 27.3 L91.7 27.3 L92.7 27.3 L93.7 27.3 L94.7 27.4 L95.7 27.4 L96.7 27.5 L97.7 27.5 L98.7 27.6 L99.2 27.7 L100.2 27.8 L101.2 27.9 L102.2 28.0 L102.8 28.1 L103.7 28.3 L104.7 28.5 L105.2 28.6 L106.2 28.9 L106.8 29.1 L107.7 29.5 L108.2 29.7 L109.1 30.1 L109.7 30.5 L110.2 30.9 L110.7 31.3 L111.2 31.9 L111.6 32.6 L111.8 33.1 L111.7 33.7 L111.4 34.6 L111.0 35.1 L110.5 35.6 L109.9 36.1 L109.2 36.5 L108.7 36.8 L108.1 37.1 L107.2 37.4 L106.7 37.6 L105.7 37.9 L105.2 38.1 L104.2 38.3 L103.2 38.5 L102.7 38.6 L101.7 38.8 L100.7 38.9 L99.7 39.0 L98.9 39.1 L98.2 39.1 L97.2 39.2 L96.2 39.3 L95.2 39.3 L94.2 39.4 L93.2 39.4 L92.2 39.4 L91.2 39.4 L90.2 39.5 L89.2 39.5 L88.2 39.5 L87.2 39.5 L86.2 39.5 L85.2 39.5 L84.2 39.5 L83.2 39.5 L82.2 39.5 L81.2 39.5 L80.2 39.5 L79.2 39.5 L78.2 39.5 L77.2 39.4 L76.2 39.4 L75.2 39.4 L74.2 39.4 L73.2 39.4 L72.2 39.4 L71.2 39.4 L70.2 39.4 L69.2 39.4 L68.2 39.4 L67.2 39.3 L66.2 39.3 L65.2 39.3 L64.2 39.3 L63.2 39.3 L62.2 39.3 L61.2 39.3 L60.2 39.3 L59.2 39.3 L58.2 39.3 L57.2 39.2 L56.2 39.2 L55.2 39.2 L54.2 39.2 L53.2 39.2 L52.2 39.2 L51.2 39.2 L50.2 39.2 L49.2 39.2 L48.2 39.2 L47.2 39.2 L46.2 39.2 L45.2 39.2 L44.2 39.2 L43.2 39.2 L42.2 39.2 L41.2 39.2 L40.2 39.2 L39.2 39.2 L38.2 39.2 L37.2 39.2 L36.2 39.2 L35.2 39.2 L34.2 39.2 L33.2 39.2 L32.2 39.3 L31.2 39.3 L30.2 39.4 L29.2 39.4 L28.2 39.5 L27.5 39.6 L26.7 39.8 L26.0 40.1 L26.0 41.1 L26.4 41.6 L26.7 42.1 L27.1 43.1 L26.7 43.7 L26.2 44.1 L25.2 44.4 L24.7 44.6 L23.7 44.8 L22.7 44.9 L21.7 45.0 L21.2 45.1" fill="none" stroke="#101a10" stroke-width="1.3" stroke-linejoin="round"/>
</g>
<rect x="0.8" y="1.4" width="14.6" height="17.5" fill="#fff"/><text x="2.3" y="16" font-size="13.6" font-weight="700" fill="#2a2a2a">d)</text>
</g>
<clipPath id="cpe"><rect x="0" y="0" width="217.0" height="67.2"/></clipPath>
<g transform="translate(410.3 295.6)" filter="url(#soft2)"><g clip-path="url(#cpe)"><g filter="url(#jet)">
<rect x="-6.0" y="-6.1" width="229.1" height="79.4" fill="#000"/>
<g transform="scale(3.0139 3.0545)" shape-rendering="crispEdges">
<path fill="#050505" d="M29 -2h1v1h-1zM29 -1h1v1h-1zM29 0h1v1h-1zM32 7h2v1h-2zM32 14h2v1h-2zM29 21h1v1h-1zM29 22h1v1h-1zM29 23h1v1h-1z"/>
<path fill="#060606" d="M28 -2h1v1h-1zM30 -2h1v1h-1zM28 -1h1v1h-1zM30 -1h1v1h-1zM28 0h1v1h-1zM30 0h1v1h-1zM28 21h1v1h-1zM30 21h1v1h-1zM28 22h1v1h-1zM30 22h1v1h-1zM28 23h1v1h-1zM30 23h1v1h-1z"/>
<path fill="#070707" d="M31 -2h1v1h-1zM31 -1h1v1h-1zM31 0h1v1h-1zM31 21h1v1h-1zM31 22h1v1h-1zM31 23h1v1h-1z"/>
<path fill="#080808" d="M27 -2h1v1h-1zM32 -2h1v1h-1zM27 -1h1v1h-1zM32 -1h1v1h-1zM27 0h1v1h-1zM32 0h1v1h-1zM27 21h1v1h-1zM32 21h1v1h-1zM27 22h1v1h-1zM32 22h1v1h-1zM27 23h1v1h-1zM32 23h1v1h-1z"/>
<path fill="#090909" d="M34 3h2v1h-2zM34 18h2v1h-2z"/>
<path fill="#0a0a0a" d="M26 -2h1v1h-1zM33 -2h1v1h-1zM26 -1h1v1h-1zM33 -1h1v1h-1zM26 0h1v1h-1zM33 0h1v1h-1zM33 3h1v1h-1zM33 18h1v1h-1zM26 21h1v1h-1zM33 21h1v1h-1zM26 22h1v1h-1zM33 22h1v1h-1zM26 23h1v1h-1zM33 23h1v1h-1z"/>
<path fill="#0b0b0b" d="M36 3h1v1h-1zM36 18h1v1h-1z"/>
<path fill="#0c0c0c" d="M25 -2h1v1h-1zM34 -2h1v1h-1zM25 -1h1v1h-1zM34 -1h1v1h-1zM25 0h1v1h-1zM34 0h1v1h-1zM32 3h1v1h-1zM32 18h1v1h-1zM25 21h1v1h-1zM34 21h1v1h-1zM25 22h1v1h-1zM34 22h1v1h-1zM25 23h1v1h-1zM34 23h1v1h-1z"/>
<path fill="#0d0d0d" d="M37 3h1v1h-1zM37 18h1v1h-1z"/>
<path fill="#0e0e0e" d="M35 -2h1v1h-1zM35 -1h1v1h-1zM35 0h1v1h-1zM31 3h1v1h-1zM31 18h1v1h-1zM35 21h1v1h-1zM35 22h1v1h-1zM35 23h1v1h-1z"/>
<path fill="#0f0f0f" d="M24 -2h1v1h-1zM24 -1h1v1h-1zM24 0h1v1h-1zM38 3h1v1h-1zM31 7h1v1h-1zM34 7h1v1h-1zM31 14h1v1h-1zM34 14h1v1h-1zM38 18h1v1h-1zM24 21h1v1h-1zM24 22h1v1h-1zM24 23h1v1h-1z"/>
<path fill="#101010" d="M36 -2h1v1h-1zM36 -1h1v1h-1zM36 0h1v1h-1zM36 21h1v1h-1zM36 22h1v1h-1zM36 23h1v1h-1z"/>
<path fill="#111111" d="M30 3h1v1h-1zM30 18h1v1h-1z"/>
<path fill="#121212" d="M23 -2h1v1h-1zM37 -2h1v1h-1zM23 -1h1v1h-1zM37 -1h1v1h-1zM23 0h1v1h-1zM37 0h1v1h-1zM39 3h1v1h-1zM39 18h1v1h-1zM23 21h1v1h-1zM37 21h1v1h-1zM23 22h1v1h-1zM37 22h1v1h-1zM23 23h1v1h-1zM37 23h1v1h-1z"/>
<path fill="#141414" d="M38 -2h1v1h-1zM38 -1h1v1h-1zM38 0h1v1h-1zM29 3h1v1h-1zM29 18h1v1h-1zM38 21h1v1h-1zM38 22h1v1h-1zM38 23h1v1h-1z"/>
<path fill="#151515" d="M22 -2h1v1h-1zM22 -1h1v1h-1zM22 0h1v1h-1zM40 3h1v1h-1zM40 18h1v1h-1zM22 21h1v1h-1zM22 22h1v1h-1zM22 23h1v1h-1z"/>
<path fill="#161616" d="M39 -2h1v1h-1zM39 -1h1v1h-1zM39 0h1v1h-1zM39 21h1v1h-1zM39 22h1v1h-1zM39 23h1v1h-1z"/>
<path fill="#171717" d="M28 3h1v1h-1zM28 4h2v1h-2zM28 17h2v1h-2zM28 18h1v1h-1z"/>
<path fill="#181818" d="M21 -2h1v1h-1zM40 -2h1v1h-1zM21 -1h1v1h-1zM40 -1h1v1h-1zM21 0h1v1h-1zM40 0h1v1h-1zM22 1h3v1h-3zM41 3h1v1h-1zM27 4h1v1h-1zM30 4h1v1h-1zM35 7h1v1h-1zM35 14h1v1h-1zM27 17h1v1h-1zM30 17h1v1h-1zM41 18h1v1h-1zM22 20h3v1h-3zM21 21h1v1h-1zM40 21h1v1h-1zM21 22h1v1h-1zM40 22h1v1h-1zM21 23h1v1h-1zM40 23h1v1h-1z"/>
<path fill="#191919" d="M21 1h1v1h-1zM25 1h2v1h-2zM31 4h1v1h-1zM30 7h1v1h-1zM30 14h1v1h-1zM31 17h1v1h-1zM21 20h1v1h-1zM25 20h2v1h-2z"/>
<path fill="#1a1a1a" d="M41 -2h1v1h-1zM41 -1h1v1h-1zM41 0h1v1h-1zM20 1h1v1h-1zM27 1h1v1h-1zM26 4h1v1h-1zM32 4h1v1h-1zM26 17h1v1h-1zM32 17h1v1h-1zM20 20h1v1h-1zM27 20h1v1h-1zM41 21h1v1h-1zM41 22h1v1h-1zM41 23h1v1h-1z"/>
<path fill="#1b1b1b" d="M20 -2h1v1h-1zM20 -1h1v1h-1zM20 0h1v1h-1zM19 1h1v1h-1zM28 1h2v1h-2zM27 3h1v1h-1zM42 3h1v1h-1zM27 18h1v1h-1zM42 18h1v1h-1zM19 20h1v1h-1zM28 20h2v1h-2zM20 21h1v1h-1zM20 22h1v1h-1zM20 23h1v1h-1z"/>
<path fill="#1c1c1c" d="M42 -2h1v1h-1zM42 -1h1v1h-1zM42 0h1v1h-1zM30 1h1v1h-1zM25 4h1v1h-1zM33 4h1v1h-1zM25 17h1v1h-1zM33 17h1v1h-1zM30 20h1v1h-1zM42 21h1v1h-1zM42 22h1v1h-1zM42 23h1v1h-1z"/>
<path fill="#1d1d1d" d="M18 1h1v1h-1zM31 1h1v1h-1zM34 4h1v1h-1zM34 17h1v1h-1zM18 20h1v1h-1zM31 20h1v1h-1z"/>
<path fill="#1e1e1e" d="M19 -2h1v1h-1zM43 -2h1v1h-1zM19 -1h1v1h-1zM43 -1h1v1h-1zM19 0h1v1h-1zM43 0h1v1h-1zM32 1h1v1h-1zM26 3h1v1h-1zM43 3h1v1h-1zM26 18h1v1h-1zM43 18h1v1h-1zM32 20h1v1h-1zM19 21h1v1h-1zM43 21h1v1h-1zM19 22h1v1h-1zM43 22h1v1h-1zM19 23h1v1h-1zM43 23h1v1h-1z"/>
<path fill="#1f1f1f" d="M33 1h1v1h-1zM24 4h1v1h-1zM24 17h1v1h-1zM33 20h1v1h-1z"/>
<path fill="#202020" d="M44 -2h1v1h-1zM44 -1h1v1h-1zM44 0h1v1h-1zM17 1h1v1h-1zM34 1h1v1h-1zM34 2h5v1h-5zM35 4h1v1h-1zM35 17h1v1h-1zM34 19h5v1h-5zM17 20h1v1h-1zM34 20h1v1h-1zM44 21h1v1h-1zM44 22h1v1h-1zM44 23h1v1h-1z"/>
<path fill="#212121" d="M35 1h1v1h-1zM32 2h2v1h-2zM39 2h1v1h-1zM36 7h1v1h-1zM36 14h1v1h-1zM32 19h2v1h-2zM39 19h1v1h-1zM35 20h1v1h-1z"/>
<path fill="#222222" d="M18 -2h1v1h-1zM45 -2h1v1h-1zM18 -1h1v1h-1zM45 -1h1v1h-1zM18 0h1v1h-1zM45 0h1v1h-1zM36 1h1v1h-1zM31 2h1v1h-1zM40 2h1v1h-1zM25 3h1v1h-1zM44 3h1v1h-1zM36 4h1v1h-1zM36 17h1v1h-1zM25 18h1v1h-1zM44 18h1v1h-1zM31 19h1v1h-1zM40 19h1v1h-1zM36 20h1v1h-1zM18 21h1v1h-1zM45 21h1v1h-1zM18 22h1v1h-1zM45 22h1v1h-1zM18 23h1v1h-1zM45 23h1v1h-1z"/>
<path fill="#232323" d="M16 1h1v1h-1zM37 1h1v1h-1zM30 2h1v1h-1zM41 2h1v1h-1zM23 4h1v1h-1zM29 7h1v1h-1zM29 14h1v1h-1zM23 17h1v1h-1zM30 19h1v1h-1zM41 19h1v1h-1zM16 20h1v1h-1zM37 20h1v1h-1z"/>
<path fill="#242424" d="M38 1h1v1h-1zM29 2h1v1h-1zM42 2h1v1h-1zM37 4h1v1h-1zM37 17h1v1h-1zM29 19h1v1h-1zM42 19h1v1h-1zM38 20h1v1h-1z"/>
<path fill="#252525" d="M17 -2h1v1h-1zM46 -2h1v1h-1zM17 -1h1v1h-1zM46 -1h1v1h-1zM17 0h1v1h-1zM46 0h1v1h-1zM39 1h1v1h-1zM28 2h1v1h-1zM43 2h1v1h-1zM45 3h1v1h-1zM45 18h1v1h-1zM28 19h1v1h-1zM43 19h1v1h-1zM39 20h1v1h-1zM17 21h1v1h-1zM46 21h1v1h-1zM17 22h1v1h-1zM46 22h1v1h-1zM17 23h1v1h-1zM46 23h1v1h-1z"/>
<path fill="#262626" d="M40 1h1v1h-1zM24 3h1v1h-1zM24 18h1v1h-1zM40 20h1v1h-1z"/>
<path fill="#272727" d="M47 -2h1v1h-1zM47 -1h1v1h-1zM47 0h1v1h-1zM15 1h1v1h-1zM41 1h1v1h-1zM27 2h1v1h-1zM44 2h1v1h-1zM22 4h1v1h-1zM38 4h1v1h-1zM22 17h1v1h-1zM38 17h1v1h-1zM27 19h1v1h-1zM44 19h1v1h-1zM15 20h1v1h-1zM41 20h1v1h-1zM47 21h1v1h-1zM47 22h1v1h-1zM47 23h1v1h-1z"/>
<path fill="#282828" d="M26 2h1v1h-1zM26 19h1v1h-1z"/>
<path fill="#292929" d="M16 -2h1v1h-1zM48 -2h1v1h-1zM16 -1h1v1h-1zM48 -1h1v1h-1zM16 0h1v1h-1zM48 0h1v1h-1zM42 1h1v1h-1zM25 2h1v1h-1zM45 2h1v1h-1zM46 3h1v1h-1zM46 18h1v1h-1zM25 19h1v1h-1zM45 19h1v1h-1zM42 20h1v1h-1zM16 21h1v1h-1zM48 21h1v1h-1zM16 22h1v1h-1zM48 22h1v1h-1zM16 23h1v1h-1zM48 23h1v1h-1z"/>
<path fill="#2a2a2a" d="M43 1h1v1h-1zM24 2h1v1h-1zM23 3h1v1h-1zM39 4h1v1h-1zM37 7h1v1h-1zM37 14h1v1h-1zM39 17h1v1h-1zM23 18h1v1h-1zM24 19h1v1h-1zM43 20h1v1h-1z"/>
<path fill="#2b2b2b" d="M49 -2h1v1h-1zM49 -1h1v1h-1zM49 0h1v1h-1zM14 1h1v1h-1zM46 2h1v1h-1zM46 19h1v1h-1zM14 20h1v1h-1zM49 21h1v1h-1zM49 22h1v1h-1zM49 23h1v1h-1z"/>
<path fill="#2c2c2c" d="M15 -2h1v1h-1zM15 -1h1v1h-1zM15 0h1v1h-1zM44 1h1v1h-1zM23 2h1v1h-1zM47 3h1v1h-1zM21 4h1v1h-1zM21 17h1v1h-1zM47 18h1v1h-1zM23 19h1v1h-1zM44 20h1v1h-1zM15 21h1v1h-1zM15 22h1v1h-1zM15 23h1v1h-1z"/>
<path fill="#2d2d2d" d="M22 2h1v1h-1zM40 4h1v1h-1zM40 17h1v1h-1zM22 19h1v1h-1z"/>
<path fill="#2e2e2e" d="M50 -2h1v1h-1zM50 -1h1v1h-1zM50 0h1v1h-1zM45 1h1v1h-1zM21 2h1v1h-1zM47 2h1v1h-1zM28 7h1v1h-1zM28 14h1v1h-1zM21 19h1v1h-1zM47 19h1v1h-1zM45 20h1v1h-1zM50 21h1v1h-1zM50 22h1v1h-1zM50 23h1v1h-1z"/>
<path fill="#2f2f2f" d="M14 -2h1v1h-1zM14 -1h1v1h-1zM14 0h1v1h-1zM13 1h1v1h-1zM46 1h1v1h-1zM22 3h1v1h-1zM48 3h1v1h-1zM22 18h1v1h-1zM48 18h1v1h-1zM13 20h1v1h-1zM46 20h1v1h-1zM14 21h1v1h-1zM14 22h1v1h-1zM14 23h1v1h-1z"/>
<path fill="#303030" d="M51 -2h1v1h-1zM51 -1h1v1h-1zM51 0h1v1h-1zM20 2h1v1h-1zM48 2h1v1h-1zM41 4h1v1h-1zM41 17h1v1h-1zM20 19h1v1h-1zM48 19h1v1h-1zM51 21h1v1h-1zM51 22h1v1h-1zM51 23h1v1h-1z"/>
<path fill="#313131" d="M47 1h1v1h-1zM19 2h1v1h-1zM20 4h1v1h-1zM20 17h1v1h-1zM19 19h1v1h-1zM47 20h1v1h-1z"/>
<path fill="#323232" d="M13 -2h1v1h-1zM52 -2h1v1h-1zM13 -1h1v1h-1zM52 -1h1v1h-1zM13 0h1v1h-1zM52 0h1v1h-1zM18 2h1v1h-1zM33 6h1v1h-1zM38 7h1v1h-1zM38 14h1v1h-1zM33 15h1v1h-1zM18 19h1v1h-1zM13 21h1v1h-1zM52 21h1v1h-1zM13 22h1v1h-1zM52 22h1v1h-1zM13 23h1v1h-1zM52 23h1v1h-1z"/>
<path fill="#333333" d="M48 1h1v1h-1zM49 2h1v1h-1zM21 3h1v1h-1zM49 3h1v1h-1zM42 4h1v1h-1zM32 6h1v1h-1zM34 6h1v1h-1zM32 15h1v1h-1zM34 15h1v1h-1zM42 17h1v1h-1zM21 18h1v1h-1zM49 18h1v1h-1zM49 19h1v1h-1zM48 20h1v1h-1z"/>
<path fill="#343434" d="M12 1h1v1h-1zM17 2h1v1h-1zM35 6h1v1h-1zM35 15h1v1h-1zM17 19h1v1h-1zM12 20h1v1h-1z"/>
<path fill="#353535" d="M12 -2h1v1h-1zM53 -2h1v1h-1zM12 -1h1v1h-1zM53 -1h1v1h-1zM12 0h1v1h-1zM53 0h1v1h-1zM49 1h1v1h-1zM16 2h1v1h-1zM50 2h1v1h-1zM16 19h1v1h-1zM50 19h1v1h-1zM49 20h1v1h-1zM12 21h1v1h-1zM53 21h1v1h-1zM12 22h1v1h-1zM53 22h1v1h-1zM12 23h1v1h-1zM53 23h1v1h-1z"/>
<path fill="#363636" d="M15 2h1v1h-1zM50 3h1v1h-1zM19 4h1v1h-1zM43 4h1v1h-1zM31 6h1v1h-1zM31 15h1v1h-1zM19 17h1v1h-1zM43 17h1v1h-1zM50 18h1v1h-1zM15 19h1v1h-1z"/>
<path fill="#373737" d="M54 -2h1v1h-1zM54 -1h1v1h-1zM54 0h1v1h-1zM50 1h1v1h-1zM20 3h1v1h-1zM36 6h1v1h-1zM36 15h1v1h-1zM20 18h1v1h-1zM50 20h1v1h-1zM54 21h1v1h-1zM54 22h1v1h-1zM54 23h1v1h-1z"/>
<path fill="#383838" d="M11 -2h1v1h-1zM11 -1h1v1h-1zM11 0h1v1h-1zM14 2h1v1h-1zM51 2h1v1h-1zM30 5h4v1h-4zM27 7h1v1h-1zM27 14h1v1h-1zM30 16h4v1h-4zM14 19h1v1h-1zM51 19h1v1h-1zM11 21h1v1h-1zM11 22h1v1h-1zM11 23h1v1h-1z"/>
<path fill="#393939" d="M55 -2h1v1h-1zM55 -1h1v1h-1zM55 0h1v1h-1zM11 1h1v1h-1zM51 3h1v1h-1zM44 4h1v1h-1zM29 5h1v1h-1zM34 5h1v1h-1zM30 6h1v1h-1zM39 7h1v1h-1zM39 14h1v1h-1zM30 15h1v1h-1zM29 16h1v1h-1zM34 16h1v1h-1zM44 17h1v1h-1zM51 18h1v1h-1zM11 20h1v1h-1zM55 21h1v1h-1zM55 22h1v1h-1zM55 23h1v1h-1z"/>
<path fill="#3a3a3a" d="M51 1h1v1h-1zM13 2h1v1h-1zM52 2h1v1h-1zM28 5h1v1h-1zM35 5h1v1h-1zM28 16h1v1h-1zM35 16h1v1h-1zM13 19h1v1h-1zM52 19h1v1h-1zM51 20h1v1h-1z"/>
<path fill="#3b3b3b" d="M10 -2h1v1h-1zM56 -2h1v1h-1zM10 -1h1v1h-1zM56 -1h1v1h-1zM10 0h1v1h-1zM56 0h1v1h-1zM27 5h1v1h-1zM37 6h1v1h-1zM69 10h5v1h-5zM69 11h5v1h-5zM37 15h1v1h-1zM27 16h1v1h-1zM10 21h1v1h-1zM56 21h1v1h-1zM10 22h1v1h-1zM56 22h1v1h-1zM10 23h1v1h-1zM56 23h1v1h-1z"/>
<path fill="#3c3c3c" d="M52 1h1v1h-1zM12 2h1v1h-1zM19 3h1v1h-1zM52 3h1v1h-1zM18 4h1v1h-1zM45 4h1v1h-1zM26 5h1v1h-1zM36 5h1v1h-1zM68 10h1v1h-1zM68 11h1v1h-1zM26 16h1v1h-1zM36 16h1v1h-1zM18 17h1v1h-1zM45 17h1v1h-1zM19 18h1v1h-1zM52 18h1v1h-1zM12 19h1v1h-1zM52 20h1v1h-1z"/>
<path fill="#3d3d3d" d="M9 -2h1v1h-1zM9 -1h1v1h-1zM9 0h1v1h-1zM53 2h1v1h-1zM29 6h1v1h-1zM67 10h1v1h-1zM67 11h1v1h-1zM29 15h1v1h-1zM53 19h1v1h-1zM9 21h1v1h-1zM9 22h1v1h-1zM9 23h1v1h-1z"/>
<path fill="#3e3e3e" d="M57 -2h1v1h-1zM57 -1h1v1h-1zM57 0h1v1h-1zM10 1h1v1h-1zM53 1h1v1h-1zM11 2h1v1h-1zM25 5h1v1h-1zM37 5h1v1h-1zM66 10h1v1h-1zM66 11h1v1h-1zM25 16h1v1h-1zM37 16h1v1h-1zM11 19h1v1h-1zM10 20h1v1h-1zM53 20h1v1h-1zM57 21h1v1h-1zM57 22h1v1h-1zM57 23h1v1h-1z"/>
<path fill="#3f3f3f" d="M8 -2h1v1h-1zM8 -1h1v1h-1zM8 0h1v1h-1zM54 2h1v1h-1zM53 3h1v1h-1zM46 4h1v1h-1zM24 5h1v1h-1zM38 6h1v1h-1zM38 15h1v1h-1zM24 16h1v1h-1zM46 17h1v1h-1zM53 18h1v1h-1zM54 19h1v1h-1zM8 21h1v1h-1zM8 22h1v1h-1zM8 23h1v1h-1z"/>
<path fill="#404040" d="M58 -2h1v1h-1zM58 -1h1v1h-1zM58 0h1v1h-1zM54 1h1v1h-1zM18 3h1v1h-1zM65 10h1v1h-1zM65 11h1v1h-1zM18 18h1v1h-1zM54 20h1v1h-1zM58 21h1v1h-1zM58 22h1v1h-1zM58 23h1v1h-1z"/>
<path fill="#414141" d="M7 -2h1v1h-1zM7 -1h1v1h-1zM7 0h1v1h-1zM10 2h1v1h-1zM54 3h1v1h-1zM23 5h1v1h-1zM38 5h1v1h-1zM40 7h1v1h-1zM40 14h1v1h-1zM23 16h1v1h-1zM38 16h1v1h-1zM54 18h1v1h-1zM10 19h1v1h-1zM7 21h1v1h-1zM7 22h1v1h-1zM7 23h1v1h-1z"/>
<path fill="#424242" d="M6 -2h1v1h-1zM59 -2h1v1h-1zM6 -1h1v1h-1zM59 -1h1v1h-1zM6 0h1v1h-1zM59 0h1v1h-1zM55 1h1v1h-1zM55 2h1v1h-1zM17 4h1v1h-1zM47 4h1v1h-1zM28 6h1v1h-1zM26 7h1v1h-1zM26 14h1v1h-1zM28 15h1v1h-1zM17 17h1v1h-1zM47 17h1v1h-1zM55 19h1v1h-1zM55 20h1v1h-1zM6 21h1v1h-1zM59 21h1v1h-1zM6 22h1v1h-1zM59 22h1v1h-1zM6 23h1v1h-1zM59 23h1v1h-1z"/>
<path fill="#434343" d="M9 1h1v1h-1zM22 5h1v1h-1zM39 5h1v1h-1zM-2 8h3v1h-3zM70 9h4v1h-4zM64 10h1v1h-1zM64 11h1v1h-1zM70 12h4v1h-4zM-2 13h3v1h-3zM22 16h1v1h-1zM39 16h1v1h-1zM9 20h1v1h-1z"/>
<path fill="#444444" d="M5 -2h1v1h-1zM60 -2h1v1h-1zM5 -1h1v1h-1zM60 -1h1v1h-1zM5 0h1v1h-1zM60 0h1v1h-1zM56 1h1v1h-1zM56 2h1v1h-1zM17 3h1v1h-1zM55 3h1v1h-1zM39 6h1v1h-1zM69 9h1v1h-1zM69 12h1v1h-1zM39 15h1v1h-1zM17 18h1v1h-1zM55 18h1v1h-1zM56 19h1v1h-1zM56 20h1v1h-1zM5 21h1v1h-1zM60 21h1v1h-1zM5 22h1v1h-1zM60 22h1v1h-1zM5 23h1v1h-1zM60 23h1v1h-1z"/>
<path fill="#454545" d="M4 -2h1v1h-1zM4 -1h1v1h-1zM4 0h1v1h-1zM9 2h1v1h-1zM48 4h1v1h-1zM21 5h1v1h-1zM1 8h1v1h-1zM68 9h1v1h-1zM68 12h1v1h-1zM1 13h1v1h-1zM21 16h1v1h-1zM48 17h1v1h-1zM9 19h1v1h-1zM4 21h1v1h-1zM4 22h1v1h-1zM4 23h1v1h-1z"/>
<path fill="#464646" d="M61 -2h1v1h-1zM61 -1h1v1h-1zM61 0h1v1h-1zM57 1h1v1h-1zM57 2h1v1h-1zM56 3h1v1h-1zM40 5h1v1h-1zM-2 7h3v1h-3zM67 9h1v1h-1zM63 10h1v1h-1zM63 11h1v1h-1zM67 12h1v1h-1zM-2 14h3v1h-3zM40 16h1v1h-1zM56 18h1v1h-1zM57 19h1v1h-1zM57 20h1v1h-1zM61 21h1v1h-1zM61 22h1v1h-1zM61 23h1v1h-1z"/>
<path fill="#474747" d="M3 -2h1v1h-1zM3 -1h1v1h-1zM3 0h1v1h-1zM8 1h1v1h-1zM20 5h1v1h-1zM27 6h1v1h-1zM1 7h1v1h-1zM41 7h1v1h-1zM1 14h1v1h-1zM41 14h1v1h-1zM27 15h1v1h-1zM20 16h1v1h-1zM8 20h1v1h-1zM3 21h1v1h-1zM3 22h1v1h-1zM3 23h1v1h-1z"/>
<path fill="#484848" d="M2 -2h1v1h-1zM62 -2h1v1h-1zM2 -1h1v1h-1zM62 -1h1v1h-1zM2 0h1v1h-1zM62 0h1v1h-1zM58 1h1v1h-1zM8 2h1v1h-1zM58 2h1v1h-1zM16 3h1v1h-1zM57 3h1v1h-1zM16 4h1v1h-1zM49 4h1v1h-1zM40 6h1v1h-1zM66 9h1v1h-1zM66 12h1v1h-1zM40 15h1v1h-1zM16 17h1v1h-1zM49 17h1v1h-1zM16 18h1v1h-1zM57 18h1v1h-1zM8 19h1v1h-1zM58 19h1v1h-1zM58 20h1v1h-1zM2 21h1v1h-1zM62 21h1v1h-1zM2 22h1v1h-1zM62 22h1v1h-1zM2 23h1v1h-1zM62 23h1v1h-1z"/>
<path fill="#494949" d="M63 -2h1v1h-1zM63 -1h1v1h-1zM63 0h1v1h-1zM19 5h1v1h-1zM2 8h1v1h-1zM62 10h1v1h-1zM62 11h1v1h-1zM2 13h1v1h-1zM19 16h1v1h-1zM63 21h1v1h-1zM63 22h1v1h-1zM63 23h1v1h-1z"/>
<path fill="#4a4a4a" d="M1 -2h1v1h-1zM1 -1h1v1h-1zM1 0h1v1h-1zM59 1h1v1h-1zM59 2h1v1h-1zM58 3h1v1h-1zM50 4h1v1h-1zM41 5h1v1h-1zM65 9h1v1h-1zM65 12h1v1h-1zM41 16h1v1h-1zM50 17h1v1h-1zM58 18h1v1h-1zM59 19h1v1h-1zM59 20h1v1h-1zM1 21h1v1h-1zM1 22h1v1h-1zM1 23h1v1h-1z"/>
<path fill="#4b4b4b" d="M64 -2h1v1h-1zM64 -1h1v1h-1zM64 0h1v1h-1zM15 3h1v1h-1zM18 5h1v1h-1zM2 7h1v1h-1zM25 7h1v1h-1zM2 14h1v1h-1zM25 14h1v1h-1zM18 16h1v1h-1zM15 18h1v1h-1zM64 21h1v1h-1zM64 22h1v1h-1zM64 23h1v1h-1z"/>
<path fill="#4c4c4c" d="M-2 -2h3v1h-3zM-2 -1h3v1h-3zM-2 0h3v1h-3zM7 1h1v1h-1zM60 1h1v1h-1zM7 2h1v1h-1zM60 2h1v1h-1zM59 3h1v1h-1zM64 9h1v1h-1zM9 10h1v1h-1zM9 11h1v1h-1zM64 12h1v1h-1zM59 18h1v1h-1zM7 19h1v1h-1zM60 19h1v1h-1zM7 20h1v1h-1zM60 20h1v1h-1zM-2 21h3v1h-3zM-2 22h3v1h-3zM-2 23h3v1h-3z"/>
<path fill="#4d4d4d" d="M65 -2h1v1h-1zM65 -1h1v1h-1zM65 0h1v1h-1zM51 4h1v1h-1zM42 5h1v1h-1zM26 6h1v1h-1zM41 6h1v1h-1zM8 10h1v1h-1zM61 10h1v1h-1zM8 11h1v1h-1zM61 11h1v1h-1zM26 15h1v1h-1zM41 15h1v1h-1zM42 16h1v1h-1zM51 17h1v1h-1zM65 21h1v1h-1zM65 22h1v1h-1zM65 23h1v1h-1z"/>
<path fill="#4e4e4e" d="M66 -2h1v1h-1zM66 -1h1v1h-1zM66 0h1v1h-1zM61 1h1v1h-1zM61 2h1v1h-1zM60 3h1v1h-1zM15 4h1v1h-1zM17 5h1v1h-1zM42 7h1v1h-1zM3 8h1v1h-1zM71 8h3v1h-3zM63 9h1v1h-1zM10 10h1v1h-1zM10 11h1v1h-1zM63 12h1v1h-1zM3 13h1v1h-1zM71 13h3v1h-3zM42 14h1v1h-1zM17 16h1v1h-1zM15 17h1v1h-1zM60 18h1v1h-1zM61 19h1v1h-1zM61 20h1v1h-1zM66 21h1v1h-1zM66 22h1v1h-1zM66 23h1v1h-1z"/>
<path fill="#4f4f4f" d="M67 -2h1v1h-1zM67 -1h1v1h-1zM67 0h1v1h-1zM14 3h1v1h-1zM61 3h1v1h-1zM52 4h1v1h-1zM3 7h1v1h-1zM70 8h1v1h-1zM7 10h1v1h-1zM7 11h1v1h-1zM70 13h1v1h-1zM3 14h1v1h-1zM52 17h1v1h-1zM14 18h1v1h-1zM61 18h1v1h-1zM67 21h1v1h-1zM67 22h1v1h-1zM67 23h1v1h-1z"/>
<path fill="#505050" d="M6 1h1v1h-1zM62 1h1v1h-1zM6 2h1v1h-1zM62 2h1v1h-1zM62 3h1v1h-1zM43 5h1v1h-1zM43 16h1v1h-1zM62 18h1v1h-1zM6 19h1v1h-1zM62 19h1v1h-1zM6 20h1v1h-1zM62 20h1v1h-1z"/>
<path fill="#515151" d="M68 -2h1v1h-1zM68 -1h1v1h-1zM68 0h1v1h-1zM63 1h1v1h-1zM63 2h1v1h-1zM13 3h1v1h-1zM63 3h1v1h-1zM53 4h1v1h-1zM16 5h1v1h-1zM69 8h1v1h-1zM-2 9h3v1h-3zM62 9h1v1h-1zM60 10h1v1h-1zM60 11h1v1h-1zM-2 12h3v1h-3zM62 12h1v1h-1zM69 13h1v1h-1zM16 16h1v1h-1zM53 17h1v1h-1zM13 18h1v1h-1zM63 18h1v1h-1zM63 19h1v1h-1zM63 20h1v1h-1zM68 21h1v1h-1zM68 22h1v1h-1zM68 23h1v1h-1z"/>
<path fill="#525252" d="M69 -2h1v1h-1zM69 -1h1v1h-1zM69 0h1v1h-1zM64 1h1v1h-1zM64 2h1v1h-1zM64 3h1v1h-1zM25 6h1v1h-1zM42 6h1v1h-1zM1 9h1v1h-1zM6 10h1v1h-1zM6 11h1v1h-1zM1 12h1v1h-1zM25 15h1v1h-1zM42 15h1v1h-1zM64 18h1v1h-1zM64 19h1v1h-1zM64 20h1v1h-1zM69 21h1v1h-1zM69 22h1v1h-1zM69 23h1v1h-1z"/>
<path fill="#535353" d="M70 -2h4v1h-4zM70 -1h4v1h-4zM70 0h4v1h-4zM5 1h1v1h-1zM65 2h1v1h-1zM65 3h2v1h-2zM71 3h3v1h-3zM54 4h1v1h-1zM44 5h1v1h-1zM43 7h1v1h-1zM68 8h1v1h-1zM2 9h1v1h-1zM61 9h1v1h-1zM11 10h1v1h-1zM11 11h1v1h-1zM2 12h1v1h-1zM61 12h1v1h-1zM68 13h1v1h-1zM43 14h1v1h-1zM44 16h1v1h-1zM54 17h1v1h-1zM65 18h2v1h-2zM71 18h3v1h-3zM65 19h1v1h-1zM5 20h1v1h-1zM70 21h4v1h-4zM70 22h4v1h-4zM70 23h4v1h-4z"/>
<path fill="#545454" d="M65 1h1v1h-1zM5 2h1v1h-1zM66 2h1v1h-1zM12 3h1v1h-1zM67 3h4v1h-4zM14 4h1v1h-1zM71 4h3v1h-3zM15 5h1v1h-1zM15 16h1v1h-1zM14 17h1v1h-1zM71 17h3v1h-3zM12 18h1v1h-1zM67 18h4v1h-4zM5 19h1v1h-1zM66 19h1v1h-1zM65 20h1v1h-1z"/>
<path fill="#555555" d="M66 1h1v1h-1zM67 2h1v1h-1zM55 4h1v1h-1zM4 7h1v1h-1zM24 7h1v1h-1zM4 8h1v1h-1zM67 8h1v1h-1zM3 9h1v1h-1zM3 12h1v1h-1zM4 13h1v1h-1zM67 13h1v1h-1zM4 14h1v1h-1zM24 14h1v1h-1zM55 17h1v1h-1zM67 19h1v1h-1zM66 20h1v1h-1z"/>
<path fill="#565656" d="M4 1h1v1h-1zM67 1h1v1h-1zM68 2h3v1h-3zM11 3h1v1h-1zM56 4h1v1h-1zM70 4h1v1h-1zM45 5h1v1h-1zM-2 6h3v1h-3zM29 8h4v1h-4zM4 9h1v1h-1zM5 10h1v1h-1zM59 10h1v1h-1zM5 11h1v1h-1zM59 11h1v1h-1zM4 12h1v1h-1zM29 13h4v1h-4zM-2 15h3v1h-3zM45 16h1v1h-1zM56 17h1v1h-1zM70 17h1v1h-1zM11 18h1v1h-1zM68 19h3v1h-3zM4 20h1v1h-1zM67 20h1v1h-1z"/>
<path fill="#575757" d="M68 1h2v1h-2zM71 2h3v1h-3zM69 4h1v1h-1zM14 5h1v1h-1zM24 6h1v1h-1zM43 6h1v1h-1zM28 8h1v1h-1zM66 8h1v1h-1zM60 9h1v1h-1zM60 12h1v1h-1zM28 13h1v1h-1zM66 13h1v1h-1zM24 15h1v1h-1zM43 15h1v1h-1zM14 16h1v1h-1zM69 17h1v1h-1zM71 19h3v1h-3zM68 20h2v1h-2z"/>
<path fill="#585858" d="M3 1h1v1h-1zM70 1h4v1h-4zM4 2h1v1h-1zM10 3h1v1h-1zM57 4h1v1h-1zM68 4h1v1h-1zM44 7h1v1h-1zM71 7h3v1h-3zM33 8h1v1h-1zM65 8h1v1h-1zM5 9h1v1h-1zM5 12h1v1h-1zM33 13h1v1h-1zM65 13h1v1h-1zM44 14h1v1h-1zM71 14h3v1h-3zM57 17h1v1h-1zM68 17h1v1h-1zM10 18h1v1h-1zM4 19h1v1h-1zM3 20h1v1h-1zM70 20h4v1h-4z"/>
<path fill="#595959" d="M9 3h1v1h-1zM13 4h1v1h-1zM58 4h2v1h-2zM66 4h2v1h-2zM46 5h1v1h-1zM71 5h3v1h-3zM1 6h1v1h-1zM27 8h1v1h-1zM34 8h1v1h-1zM4 10h1v1h-1zM4 11h1v1h-1zM27 13h1v1h-1zM34 13h1v1h-1zM1 15h1v1h-1zM46 16h1v1h-1zM71 16h3v1h-3zM13 17h1v1h-1zM58 17h2v1h-2zM66 17h2v1h-2zM9 18h1v1h-1z"/>
<path fill="#5a5a5a" d="M2 1h1v1h-1zM8 3h1v1h-1zM60 4h2v1h-2zM64 4h2v1h-2zM70 7h1v1h-1zM64 8h1v1h-1zM6 9h1v1h-1zM59 9h1v1h-1zM12 10h1v1h-1zM12 11h1v1h-1zM6 12h1v1h-1zM59 12h1v1h-1zM64 13h1v1h-1zM70 14h1v1h-1zM60 17h2v1h-2zM64 17h2v1h-2zM8 18h1v1h-1zM2 20h1v1h-1z"/>
<path fill="#5b5b5b" d="M-2 1h4v1h-4zM5 3h3v1h-3zM62 4h2v1h-2zM13 5h1v1h-1zM2 6h1v1h-1zM44 6h1v1h-1zM35 8h1v1h-1zM35 13h1v1h-1zM2 15h1v1h-1zM44 15h1v1h-1zM13 16h1v1h-1zM62 17h2v1h-2zM5 18h3v1h-3zM-2 20h4v1h-4z"/>
<path fill="#5c5c5c" d="M3 2h1v1h-1zM3 3h2v1h-2zM47 5h1v1h-1zM70 5h1v1h-1zM23 6h1v1h-1zM71 6h3v1h-3zM5 7h1v1h-1zM5 8h1v1h-1zM26 8h1v1h-1zM63 8h1v1h-1zM7 9h1v1h-1zM58 10h1v1h-1zM58 11h1v1h-1zM7 12h1v1h-1zM5 13h1v1h-1zM26 13h1v1h-1zM63 13h1v1h-1zM5 14h1v1h-1zM23 15h1v1h-1zM71 15h3v1h-3zM47 16h1v1h-1zM70 16h1v1h-1zM3 18h2v1h-2zM3 19h1v1h-1z"/>
<path fill="#5d5d5d" d="M-2 3h5v1h-5zM-2 4h3v1h-3zM3 6h1v1h-1zM23 7h1v1h-1zM45 7h1v1h-1zM69 7h1v1h-1zM3 10h1v1h-1zM3 11h1v1h-1zM23 14h1v1h-1zM45 14h1v1h-1zM69 14h1v1h-1zM3 15h1v1h-1zM-2 17h3v1h-3zM-2 18h5v1h-5z"/>
<path fill="#5e5e5e" d="M12 4h1v1h-1zM12 5h1v1h-1zM69 5h1v1h-1zM36 8h1v1h-1zM62 8h1v1h-1zM58 9h1v1h-1zM58 12h1v1h-1zM36 13h1v1h-1zM62 13h1v1h-1zM12 16h1v1h-1zM69 16h1v1h-1zM12 17h1v1h-1z"/>
<path fill="#5f5f5f" d="M2 2h1v1h-1zM48 5h1v1h-1zM45 6h1v1h-1zM70 6h1v1h-1zM68 7h1v1h-1zM25 8h1v1h-1zM8 9h1v1h-1zM2 10h1v1h-1zM2 11h1v1h-1zM8 12h1v1h-1zM25 13h1v1h-1zM68 14h1v1h-1zM45 15h1v1h-1zM70 15h1v1h-1zM48 16h1v1h-1zM2 19h1v1h-1z"/>
<path fill="#606060" d="M-2 5h3v1h-3zM68 5h1v1h-1zM4 6h1v1h-1zM37 8h1v1h-1zM61 8h1v1h-1zM37 13h1v1h-1zM61 13h1v1h-1zM4 15h1v1h-1zM-2 16h3v1h-3zM68 16h1v1h-1z"/>
<path fill="#616161" d="M1 2h1v1h-1zM1 4h1v1h-1zM49 5h1v1h-1zM22 6h1v1h-1zM69 6h1v1h-1zM46 7h1v1h-1zM67 7h1v1h-1zM9 9h1v1h-1zM57 9h1v1h-1zM-2 10h4v1h-4zM57 10h1v1h-1zM-2 11h4v1h-4zM57 11h1v1h-1zM9 12h1v1h-1zM57 12h1v1h-1zM46 14h1v1h-1zM67 14h1v1h-1zM22 15h1v1h-1zM69 15h1v1h-1zM49 16h1v1h-1zM1 17h1v1h-1zM1 19h1v1h-1z"/>
<path fill="#626262" d="M11 5h1v1h-1zM67 5h1v1h-1zM5 6h1v1h-1zM38 8h1v1h-1zM60 8h1v1h-1zM13 10h1v1h-1zM13 11h1v1h-1zM38 13h1v1h-1zM60 13h1v1h-1zM5 15h1v1h-1zM11 16h1v1h-1zM67 16h1v1h-1z"/>
<path fill="#636363" d="M-2 2h3v1h-3zM11 4h1v1h-1zM50 5h1v1h-1zM66 5h1v1h-1zM46 6h1v1h-1zM6 7h1v1h-1zM6 8h1v1h-1zM24 8h1v1h-1zM6 13h1v1h-1zM24 13h1v1h-1zM6 14h1v1h-1zM46 15h1v1h-1zM50 16h1v1h-1zM66 16h1v1h-1zM11 17h1v1h-1zM-2 19h3v1h-3z"/>
<path fill="#646464" d="M6 6h1v1h-1zM68 6h1v1h-1zM66 7h1v1h-1zM59 8h1v1h-1zM10 9h1v1h-1zM10 12h1v1h-1zM59 13h1v1h-1zM66 14h1v1h-1zM6 15h1v1h-1zM68 15h1v1h-1z"/>
<path fill="#656565" d="M2 4h1v1h-1zM1 5h1v1h-1zM10 5h1v1h-1zM51 5h1v1h-1zM65 5h1v1h-1zM21 6h1v1h-1zM22 7h1v1h-1zM47 7h1v1h-1zM39 8h1v1h-1zM56 9h1v1h-1zM56 12h1v1h-1zM39 13h1v1h-1zM22 14h1v1h-1zM47 14h1v1h-1zM21 15h1v1h-1zM1 16h1v1h-1zM10 16h1v1h-1zM51 16h1v1h-1zM65 16h1v1h-1zM2 17h1v1h-1z"/>
<path fill="#666666" d="M7 6h1v1h-1zM47 6h1v1h-1zM67 6h1v1h-1zM65 7h1v1h-1zM58 8h1v1h-1zM58 13h1v1h-1zM65 14h1v1h-1zM7 15h1v1h-1zM47 15h1v1h-1zM67 15h1v1h-1z"/>
<path fill="#676767" d="M10 4h1v1h-1zM52 5h1v1h-1zM64 5h1v1h-1zM23 8h1v1h-1zM40 8h1v1h-1zM57 8h1v1h-1zM11 9h1v1h-1zM56 10h1v1h-1zM56 11h1v1h-1zM11 12h1v1h-1zM23 13h1v1h-1zM40 13h1v1h-1zM57 13h1v1h-1zM52 16h1v1h-1zM64 16h1v1h-1zM10 17h1v1h-1z"/>
<path fill="#686868" d="M3 4h1v1h-1zM9 5h1v1h-1zM53 5h1v1h-1zM63 5h1v1h-1zM8 6h1v1h-1zM20 6h1v1h-1zM66 6h1v1h-1zM48 7h1v1h-1zM64 7h1v1h-1zM48 14h1v1h-1zM64 14h1v1h-1zM8 15h1v1h-1zM20 15h1v1h-1zM66 15h1v1h-1zM9 16h1v1h-1zM53 16h1v1h-1zM63 16h1v1h-1zM3 17h1v1h-1z"/>
<path fill="#696969" d="M2 5h1v1h-1zM54 5h1v1h-1zM62 5h1v1h-1zM41 8h1v1h-1zM56 8h1v1h-1zM55 9h1v1h-1zM55 12h1v1h-1zM41 13h1v1h-1zM56 13h1v1h-1zM2 16h1v1h-1zM54 16h1v1h-1zM62 16h1v1h-1z"/>
<path fill="#6a6a6a" d="M9 4h1v1h-1zM55 5h1v1h-1zM60 5h2v1h-2zM9 6h1v1h-1zM48 6h1v1h-1zM7 7h1v1h-1zM63 7h1v1h-1zM7 8h1v1h-1zM42 8h1v1h-1zM55 8h1v1h-1zM12 9h1v1h-1zM12 12h1v1h-1zM7 13h1v1h-1zM42 13h1v1h-1zM55 13h1v1h-1zM7 14h1v1h-1zM63 14h1v1h-1zM9 15h1v1h-1zM48 15h1v1h-1zM55 16h1v1h-1zM60 16h2v1h-2zM9 17h1v1h-1z"/>
<path fill="#6b6b6b" d="M4 4h1v1h-1zM8 5h1v1h-1zM56 5h4v1h-4zM19 6h1v1h-1zM65 6h1v1h-1zM49 7h1v1h-1zM22 8h1v1h-1zM22 13h1v1h-1zM49 14h1v1h-1zM19 15h1v1h-1zM65 15h1v1h-1zM8 16h1v1h-1zM56 16h4v1h-4zM4 17h1v1h-1z"/>
<path fill="#6c6c6c" d="M8 4h1v1h-1zM3 5h1v1h-1zM10 6h1v1h-1zM49 6h1v1h-1zM62 7h1v1h-1zM43 8h1v1h-1zM54 8h1v1h-1zM14 10h1v1h-1zM14 11h1v1h-1zM43 13h1v1h-1zM54 13h1v1h-1zM62 14h1v1h-1zM10 15h1v1h-1zM49 15h1v1h-1zM3 16h1v1h-1zM8 17h1v1h-1z"/>
<path fill="#6d6d6d" d="M5 4h3v1h-3zM7 5h1v1h-1zM64 6h1v1h-1zM21 7h1v1h-1zM50 7h1v1h-1zM61 7h1v1h-1zM44 8h1v1h-1zM53 8h1v1h-1zM44 13h1v1h-1zM53 13h1v1h-1zM21 14h1v1h-1zM50 14h1v1h-1zM61 14h1v1h-1zM64 15h1v1h-1zM7 16h1v1h-1zM5 17h3v1h-3z"/>
<path fill="#6e6e6e" d="M4 5h3v1h-3zM11 6h1v1h-1zM18 6h1v1h-1zM45 8h1v1h-1zM52 8h1v1h-1zM13 9h1v1h-1zM54 9h1v1h-1zM55 10h1v1h-1zM55 11h1v1h-1zM13 12h1v1h-1zM54 12h1v1h-1zM45 13h1v1h-1zM52 13h1v1h-1zM11 15h1v1h-1zM18 15h1v1h-1zM4 16h3v1h-3z"/>
<path fill="#6f6f6f" d="M12 6h1v1h-1zM17 6h1v1h-1zM50 6h1v1h-1zM63 6h1v1h-1zM51 7h1v1h-1zM60 7h1v1h-1zM46 8h2v1h-2zM50 8h2v1h-2zM46 13h2v1h-2zM50 13h2v1h-2zM51 14h1v1h-1zM60 14h1v1h-1zM12 15h1v1h-1zM17 15h1v1h-1zM50 15h1v1h-1zM63 15h1v1h-1z"/>
<path fill="#707070" d="M13 6h1v1h-1zM62 6h1v1h-1zM52 7h1v1h-1zM59 7h1v1h-1zM8 8h1v1h-1zM21 8h1v1h-1zM48 8h2v1h-2zM8 13h1v1h-1zM21 13h1v1h-1zM48 13h2v1h-2zM52 14h1v1h-1zM59 14h1v1h-1zM13 15h1v1h-1zM62 15h1v1h-1z"/>
<path fill="#717171" d="M14 6h3v1h-3zM51 6h1v1h-1zM8 7h1v1h-1zM53 7h1v1h-1zM58 7h1v1h-1zM8 14h1v1h-1zM53 14h1v1h-1zM58 14h1v1h-1zM14 15h3v1h-3zM51 15h1v1h-1z"/>
<path fill="#727272" d="M52 6h1v1h-1zM61 6h1v1h-1zM54 7h4v1h-4zM14 9h1v1h-1zM53 9h1v1h-1zM14 12h1v1h-1zM53 12h1v1h-1zM54 14h4v1h-4zM52 15h1v1h-1zM61 15h1v1h-1z"/>
<path fill="#737373" d="M53 6h1v1h-1zM60 6h1v1h-1zM53 15h1v1h-1zM60 15h1v1h-1z"/>
<path fill="#747474" d="M54 6h1v1h-1zM59 6h1v1h-1zM20 7h1v1h-1zM20 8h1v1h-1zM54 10h1v1h-1zM54 11h1v1h-1zM20 13h1v1h-1zM20 14h1v1h-1zM54 15h1v1h-1zM59 15h1v1h-1z"/>
<path fill="#757575" d="M55 6h4v1h-4zM55 15h4v1h-4z"/>
<path fill="#767676" d="M9 8h1v1h-1zM15 9h1v1h-1zM15 12h1v1h-1zM9 13h1v1h-1z"/>
<path fill="#777777" d="M9 7h1v1h-1zM52 9h1v1h-1zM15 10h1v1h-1zM15 11h1v1h-1zM52 12h1v1h-1zM9 14h1v1h-1z"/>
<path fill="#787878" d="M19 8h1v1h-1zM19 13h1v1h-1z"/>
<path fill="#797979" d="M19 7h1v1h-1zM19 14h1v1h-1z"/>
<path fill="#7a7a7a" d="M10 8h1v1h-1zM10 13h1v1h-1z"/>
<path fill="#7b7b7b" d="M18 8h1v1h-1zM16 9h1v1h-1zM51 9h1v1h-1zM53 10h1v1h-1zM53 11h1v1h-1zM16 12h1v1h-1zM51 12h1v1h-1zM18 13h1v1h-1z"/>
<path fill="#7c7c7c" d="M10 7h1v1h-1zM10 14h1v1h-1z"/>
<path fill="#7e7e7e" d="M18 7h1v1h-1zM11 8h1v1h-1zM17 8h1v1h-1zM11 13h1v1h-1zM17 13h1v1h-1zM18 14h1v1h-1z"/>
<path fill="#808080" d="M11 7h1v1h-1zM12 8h1v1h-1zM16 8h1v1h-1zM17 9h1v1h-1zM50 9h1v1h-1zM17 12h1v1h-1zM50 12h1v1h-1zM12 13h1v1h-1zM16 13h1v1h-1zM11 14h1v1h-1z"/>
<path fill="#828282" d="M17 7h1v1h-1zM13 8h3v1h-3zM16 10h1v1h-1zM52 10h1v1h-1zM16 11h1v1h-1zM52 11h1v1h-1zM13 13h3v1h-3zM17 14h1v1h-1z"/>
<path fill="#848484" d="M12 7h1v1h-1zM18 9h1v1h-1zM49 9h1v1h-1zM18 12h1v1h-1zM49 12h1v1h-1zM12 14h1v1h-1z"/>
<path fill="#858585" d="M16 7h1v1h-1zM16 14h1v1h-1z"/>
<path fill="#868686" d="M13 7h1v1h-1zM15 7h1v1h-1zM13 14h1v1h-1zM15 14h1v1h-1z"/>
<path fill="#878787" d="M14 7h1v1h-1zM14 14h1v1h-1z"/>
<path fill="#898989" d="M19 9h1v1h-1zM48 9h1v1h-1zM51 10h1v1h-1zM51 11h1v1h-1zM19 12h1v1h-1zM48 12h1v1h-1z"/>
<path fill="#8d8d8d" d="M47 9h1v1h-1zM47 12h1v1h-1z"/>
<path fill="#8e8e8e" d="M20 9h1v1h-1zM17 10h1v1h-1zM17 11h1v1h-1zM20 12h1v1h-1z"/>
<path fill="#909090" d="M50 10h1v1h-1zM50 11h1v1h-1z"/>
<path fill="#919191" d="M46 9h1v1h-1zM46 12h1v1h-1z"/>
<path fill="#939393" d="M21 9h1v1h-1zM21 12h1v1h-1z"/>
<path fill="#969696" d="M45 9h1v1h-1zM45 12h1v1h-1z"/>
<path fill="#979797" d="M22 9h1v1h-1zM49 10h1v1h-1zM49 11h1v1h-1zM22 12h1v1h-1z"/>
<path fill="#999999" d="M18 10h1v1h-1zM18 11h1v1h-1z"/>
<path fill="#9a9a9a" d="M44 9h1v1h-1zM44 12h1v1h-1z"/>
<path fill="#9c9c9c" d="M23 9h1v1h-1zM23 12h1v1h-1z"/>
<path fill="#9d9d9d" d="M43 9h1v1h-1zM43 12h1v1h-1z"/>
<path fill="#9e9e9e" d="M48 10h1v1h-1zM48 11h1v1h-1z"/>
<path fill="#a0a0a0" d="M24 9h1v1h-1zM24 12h1v1h-1z"/>
<path fill="#a1a1a1" d="M42 9h1v1h-1zM42 12h1v1h-1z"/>
<path fill="#a3a3a3" d="M25 9h1v1h-1zM25 12h1v1h-1z"/>
<path fill="#a4a4a4" d="M41 9h1v1h-1zM19 10h1v1h-1zM19 11h1v1h-1zM41 12h1v1h-1z"/>
<path fill="#a6a6a6" d="M47 10h1v1h-1zM47 11h1v1h-1z"/>
<path fill="#a7a7a7" d="M26 9h1v1h-1zM40 9h1v1h-1zM26 12h1v1h-1zM40 12h1v1h-1z"/>
<path fill="#aaaaaa" d="M27 9h1v1h-1zM39 9h1v1h-1zM27 12h1v1h-1zM39 12h1v1h-1z"/>
<path fill="#acacac" d="M28 9h1v1h-1zM38 9h1v1h-1zM28 12h1v1h-1zM38 12h1v1h-1z"/>
<path fill="#adadad" d="M46 10h1v1h-1zM46 11h1v1h-1z"/>
<path fill="#aeaeae" d="M29 9h1v1h-1zM37 9h1v1h-1zM29 12h1v1h-1zM37 12h1v1h-1z"/>
<path fill="#afafaf" d="M20 10h1v1h-1zM20 11h1v1h-1z"/>
<path fill="#b0b0b0" d="M30 9h1v1h-1zM36 9h1v1h-1zM30 12h1v1h-1zM36 12h1v1h-1z"/>
<path fill="#b1b1b1" d="M31 9h1v1h-1zM35 9h1v1h-1zM31 12h1v1h-1zM35 12h1v1h-1z"/>
<path fill="#b2b2b2" d="M32 9h3v1h-3zM32 12h3v1h-3z"/>
<path fill="#b4b4b4" d="M45 10h1v1h-1zM45 11h1v1h-1z"/>
<path fill="#b9b9b9" d="M21 10h1v1h-1zM21 11h1v1h-1z"/>
<path fill="#bbbbbb" d="M44 10h1v1h-1zM44 11h1v1h-1z"/>
<path fill="#c1c1c1" d="M43 10h1v1h-1zM43 11h1v1h-1z"/>
<path fill="#c2c2c2" d="M22 10h1v1h-1zM22 11h1v1h-1z"/>
<path fill="#c8c8c8" d="M42 10h1v1h-1zM42 11h1v1h-1z"/>
<path fill="#cacaca" d="M23 10h1v1h-1zM23 11h1v1h-1z"/>
<path fill="#cecece" d="M41 10h1v1h-1zM41 11h1v1h-1z"/>
<path fill="#d2d2d2" d="M24 10h1v1h-1zM24 11h1v1h-1z"/>
<path fill="#d3d3d3" d="M40 10h1v1h-1zM40 11h1v1h-1z"/>
<path fill="#d8d8d8" d="M25 10h1v1h-1zM39 10h1v1h-1zM25 11h1v1h-1zM39 11h1v1h-1z"/>
<path fill="#dddddd" d="M38 10h1v1h-1zM38 11h1v1h-1z"/>
<path fill="#dedede" d="M26 10h1v1h-1zM26 11h1v1h-1z"/>
<path fill="#e1e1e1" d="M37 10h1v1h-1zM37 11h1v1h-1z"/>
<path fill="#e3e3e3" d="M27 10h1v1h-1zM27 11h1v1h-1z"/>
<path fill="#e5e5e5" d="M36 10h1v1h-1zM36 11h1v1h-1z"/>
<path fill="#e7e7e7" d="M28 10h1v1h-1zM28 11h1v1h-1z"/>
<path fill="#e8e8e8" d="M35 10h1v1h-1zM35 11h1v1h-1z"/>
<path fill="#e9e9e9" d="M29 10h1v1h-1zM29 11h1v1h-1z"/>
<path fill="#eaeaea" d="M34 10h1v1h-1zM34 11h1v1h-1z"/>
<path fill="#ebebeb" d="M30 10h1v1h-1zM30 11h1v1h-1z"/>
<path fill="#ececec" d="M31 10h3v1h-3zM31 11h3v1h-3z"/>
</g>
</g>
<path d="M55.2 46.4 L54.2 46.5 L53.2 46.6 L52.2 46.7 L51.2 46.7 L50.2 46.8 L49.2 46.8 L48.2 46.8 L47.2 46.8 L46.2 46.9 L45.2 46.8 L44.2 46.8 L43.2 46.8 L42.2 46.8 L41.2 46.7 L40.2 46.7 L39.2 46.6 L38.2 46.6 L37.2 46.5 L36.2 46.4 L35.7 46.3 L34.7 46.2 L33.7 46.1 L32.8 45.9 L32.2 45.8 L31.2 45.5 L30.7 45.4 L29.7 45.1 L29.2 44.9 L28.3 44.4 L27.7 44.0 L27.2 43.5 L27.0 42.9 L27.2 42.2 L27.7 41.8 L28.4 41.4 L29.2 41.1 L29.8 40.9 L30.7 40.7 L31.7 40.4 L32.2 40.4 L33.2 40.2 L34.2 40.1 L35.2 39.9 L35.8 39.9 L36.7 39.8 L37.7 39.7 L38.7 39.6 L39.7 39.5 L40.7 39.4 L41.2 39.3 L42.2 39.2 L43.2 39.1 L44.2 38.9 L44.7 38.8 L45.7 38.5 L46.2 38.3 L46.8 37.9 L46.9 36.9 L46.7 36.2 L46.5 35.4 L46.3 34.4 L46.2 33.9 L46.2 33.2 L46.4 32.3 L46.6 31.3 L46.8 30.8 L46.9 29.8 L46.7 29.3 L46.2 28.8 L45.2 28.5 L44.5 28.3 L43.7 28.2 L42.7 28.1 L41.7 27.9 L40.8 27.8 L40.2 27.8 L39.2 27.7 L38.2 27.6 L37.2 27.5 L36.2 27.4 L35.7 27.3 L34.7 27.2 L33.7 27.1 L32.7 26.9 L32.1 26.8 L31.2 26.7 L30.2 26.4 L29.7 26.3 L28.7 26.0 L28.2 25.7 L27.6 25.3 L27.1 24.8 L27.2 23.8 L27.6 23.3 L28.2 22.8 L28.7 22.6 L29.3 22.3 L30.2 22.0 L30.7 21.8 L31.7 21.6 L32.7 21.3 L33.2 21.2 L34.2 21.1 L35.2 20.9 L36.2 20.8 L36.7 20.8 L37.7 20.7 L38.7 20.6 L39.7 20.5 L40.7 20.5 L41.7 20.4 L42.7 20.4 L43.7 20.4 L44.7 20.4 L45.7 20.3 L46.7 20.3 L47.7 20.4 L48.7 20.4 L49.7 20.4 L50.7 20.4 L51.7 20.5 L52.7 20.6 L53.7 20.6 L54.7 20.7 L55.7 20.8 L56.2 20.9 L57.2 21.1 L58.2 21.3 L58.7 21.4 L59.7 21.8 L60.2 22.2 L60.6 22.8 L60.4 23.8 L60.1 24.3 L59.8 25.3 L60.2 25.9 L61.2 26.3 L61.7 26.4 L62.7 26.6 L63.7 26.7 L64.7 26.8 L65.4 26.8 L66.2 26.9 L67.2 26.9 L68.2 26.9 L69.2 27.0 L70.2 27.0 L71.2 27.0 L72.2 27.0 L73.2 27.0 L74.2 27.1 L75.2 27.1 L76.2 27.1 L77.2 27.1 L78.2 27.1 L79.2 27.1 L80.2 27.1 L81.2 27.1 L82.2 27.1 L83.2 27.1 L84.2 27.1 L85.2 27.1 L86.2 27.1 L87.2 27.1 L88.2 27.1 L89.2 27.0 L90.2 27.0 L91.2 27.0 L92.2 27.0 L93.2 27.0 L94.2 27.0 L95.2 27.0 L96.2 27.0 L97.2 27.0 L98.2 27.0 L99.2 27.0 L100.2 26.9 L101.2 26.9 L102.2 26.9 L103.2 26.9 L104.2 26.9 L105.2 26.9 L106.2 26.9 L107.2 26.9 L108.2 26.9 L109.2 26.8 L110.2 26.8 L110.7 26.8 L111.7 26.8 L112.7 26.8 L113.7 26.8 L114.7 26.8 L115.7 26.8 L116.7 26.8 L117.7 26.7 L118.7 26.7 L119.7 26.7 L120.7 26.7 L121.7 26.7 L122.7 26.7 L123.7 26.7 L124.7 26.7 L125.7 26.7 L126.7 26.6 L127.7 26.6 L128.7 26.6 L129.7 26.6 L130.7 26.6 L131.7 26.6 L132.7 26.6 L133.7 26.6 L134.7 26.6 L135.7 26.6 L136.7 26.6 L137.7 26.6 L138.7 26.7 L139.7 26.7 L140.7 26.7 L141.7 26.7 L142.7 26.7 L143.7 26.8 L144.7 26.8 L145.2 26.8 L146.2 26.9 L147.2 27.0 L148.2 27.0 L149.2 27.1 L150.2 27.2 L151.2 27.3 L151.7 27.4 L152.7 27.5 L153.7 27.7 L154.3 27.8 L155.2 28.0 L156.2 28.3 L156.7 28.4 L157.7 28.7 L158.2 28.9 L159.2 29.3 L159.7 29.5 L160.5 29.8 L161.2 30.2 L161.7 30.6 L162.2 30.9 L162.8 31.3 L163.2 31.9 L163.7 32.7 L163.9 33.3 L163.8 34.4 L163.6 34.9 L163.2 35.4 L162.7 35.9 L162.2 36.4 L161.4 36.9 L160.7 37.2 L160.2 37.5 L159.5 37.9 L158.7 38.1 L158.1 38.4 L157.2 38.7 L156.5 38.9 L155.7 39.1 L154.7 39.3 L154.2 39.4 L153.2 39.6 L152.2 39.7 L151.2 39.9 L150.7 39.9 L149.7 40.0 L148.7 40.1 L147.7 40.2 L146.7 40.3 L145.7 40.3 L145.0 40.4 L144.2 40.4 L143.2 40.4 L142.2 40.5 L141.2 40.5 L140.2 40.5 L139.2 40.5 L138.2 40.6 L137.2 40.6 L136.2 40.6 L135.2 40.6 L134.2 40.6 L133.2 40.6 L132.2 40.6 L131.2 40.6 L130.2 40.6 L129.2 40.6 L128.2 40.6 L127.2 40.6 L126.2 40.5 L125.2 40.5 L124.2 40.5 L123.2 40.5 L122.2 40.5 L121.2 40.5 L120.2 40.5 L119.2 40.5 L118.2 40.5 L117.2 40.5 L116.2 40.4 L115.2 40.4 L114.2 40.4 L113.2 40.4 L112.2 40.4 L111.2 40.4 L110.5 40.4 L109.7 40.4 L108.7 40.3 L107.7 40.3 L106.7 40.3 L105.7 40.3 L104.7 40.3 L103.7 40.3 L102.7 40.3 L101.7 40.3 L100.7 40.3 L99.7 40.2 L98.7 40.2 L97.7 40.2 L96.7 40.2 L95.7 40.2 L94.7 40.2 L93.7 40.2 L92.7 40.2 L91.7 40.2 L90.7 40.2 L89.7 40.2 L88.7 40.2 L87.7 40.1 L86.7 40.1 L85.7 40.1 L84.7 40.1 L83.7 40.1 L82.7 40.1 L81.7 40.1 L80.7 40.1 L79.7 40.1 L78.7 40.1 L77.7 40.1 L76.7 40.1 L75.7 40.1 L74.7 40.1 L73.7 40.2 L72.7 40.2 L71.7 40.2 L70.7 40.2 L69.7 40.2 L68.7 40.2 L67.7 40.3 L66.7 40.3 L65.7 40.4 L65.2 40.4 L64.2 40.5 L63.2 40.6 L62.2 40.7 L61.2 40.9 L60.7 41.0 L60.0 41.4 L59.9 42.4 L60.2 43.2 L60.6 43.9 L60.4 44.9 L59.8 45.4 L59.2 45.6 L58.4 45.9 L57.7 46.0 L56.7 46.2 L55.7 46.4 L55.2 46.4" fill="none" stroke="#101a10" stroke-width="1.3" stroke-linejoin="round"/>
<ellipse cx="22.4" cy="15.7" rx="5.9" ry="1.5" fill="#8cff94" stroke="#101a10" stroke-width="1.15"/>
<ellipse cx="22.4" cy="51.5" rx="5.9" ry="1.5" fill="#8cff94" stroke="#101a10" stroke-width="1.15"/>
</g>
<rect x="0.8" y="1.4" width="14.6" height="17.5" fill="#fff"/><text x="2.3" y="16" font-size="13.6" font-weight="700" fill="#2a2a2a">e)</text>
</g>
<clipPath id="cpf"><rect x="0" y="0" width="217.0" height="67.1"/></clipPath>
<g transform="translate(410.3 376.0)" filter="url(#soft2)"><g clip-path="url(#cpf)"><g filter="url(#jet)">
<rect x="-6.0" y="-6.1" width="229.1" height="79.3" fill="#000"/>
<g transform="scale(3.0139 3.0500)" shape-rendering="crispEdges">
<path fill="#0b0b0b" d="M44 3h1v1h-1zM44 18h1v1h-1z"/>
<path fill="#0c0c0c" d="M43 3h1v1h-1zM45 3h1v1h-1zM43 18h1v1h-1zM45 18h1v1h-1z"/>
<path fill="#0d0d0d" d="M50 2h2v1h-2zM42 3h1v1h-1zM46 3h1v1h-1zM42 18h1v1h-1zM46 18h1v1h-1zM50 19h2v1h-2z"/>
<path fill="#0e0e0e" d="M49 2h1v1h-1zM52 2h1v1h-1zM41 3h1v1h-1zM47 3h1v1h-1zM41 18h1v1h-1zM47 18h1v1h-1zM49 19h1v1h-1zM52 19h1v1h-1z"/>
<path fill="#0f0f0f" d="M48 2h1v1h-1zM53 2h1v1h-1zM48 19h1v1h-1zM53 19h1v1h-1z"/>
<path fill="#101010" d="M47 2h1v1h-1zM54 2h1v1h-1zM48 3h1v1h-1zM48 18h1v1h-1zM47 19h1v1h-1zM54 19h1v1h-1z"/>
<path fill="#111111" d="M46 2h1v1h-1zM55 2h1v1h-1zM40 3h1v1h-1zM40 18h1v1h-1zM46 19h1v1h-1zM55 19h1v1h-1z"/>
<path fill="#121212" d="M49 3h1v1h-1zM49 18h1v1h-1z"/>
<path fill="#131313" d="M45 2h1v1h-1zM56 2h1v1h-1zM39 3h1v1h-1zM39 18h1v1h-1zM45 19h1v1h-1zM56 19h1v1h-1z"/>
<path fill="#141414" d="M35 -2h1v1h-1zM35 -1h1v1h-1zM35 0h1v1h-1zM50 3h1v1h-1zM50 18h1v1h-1zM35 21h1v1h-1zM35 22h1v1h-1zM35 23h1v1h-1z"/>
<path fill="#151515" d="M33 -2h2v1h-2zM36 -2h3v1h-3zM33 -1h2v1h-2zM36 -1h3v1h-3zM33 0h2v1h-2zM36 0h3v1h-3zM44 2h1v1h-1zM57 2h1v1h-1zM44 19h1v1h-1zM57 19h1v1h-1zM33 21h2v1h-2zM36 21h3v1h-3zM33 22h2v1h-2zM36 22h3v1h-3zM33 23h2v1h-2zM36 23h3v1h-3z"/>
<path fill="#161616" d="M32 -2h1v1h-1zM39 -2h1v1h-1zM32 -1h1v1h-1zM39 -1h1v1h-1zM32 0h1v1h-1zM39 0h1v1h-1zM51 3h1v1h-1zM51 18h1v1h-1zM32 21h1v1h-1zM39 21h1v1h-1zM32 22h1v1h-1zM39 22h1v1h-1zM32 23h1v1h-1zM39 23h1v1h-1z"/>
<path fill="#171717" d="M40 -2h2v1h-2zM40 -1h2v1h-2zM40 0h2v1h-2zM43 2h1v1h-1zM58 2h1v1h-1zM38 3h1v1h-1zM38 18h1v1h-1zM43 19h1v1h-1zM58 19h1v1h-1zM40 21h2v1h-2zM40 22h2v1h-2zM40 23h2v1h-2z"/>
<path fill="#181818" d="M31 -2h1v1h-1zM42 -2h1v1h-1zM31 -1h1v1h-1zM42 -1h1v1h-1zM31 0h1v1h-1zM42 0h1v1h-1zM52 3h1v1h-1zM52 18h1v1h-1zM31 21h1v1h-1zM42 21h1v1h-1zM31 22h1v1h-1zM42 22h1v1h-1zM31 23h1v1h-1zM42 23h1v1h-1z"/>
<path fill="#191919" d="M30 -2h1v1h-1zM43 -2h1v1h-1zM30 -1h1v1h-1zM43 -1h1v1h-1zM30 0h1v1h-1zM43 0h1v1h-1zM42 2h1v1h-1zM59 2h1v1h-1zM46 7h1v1h-1zM46 14h1v1h-1zM42 19h1v1h-1zM59 19h1v1h-1zM30 21h1v1h-1zM43 21h1v1h-1zM30 22h1v1h-1zM43 22h1v1h-1zM30 23h1v1h-1zM43 23h1v1h-1z"/>
<path fill="#1a1a1a" d="M44 -2h2v1h-2zM44 -1h2v1h-2zM44 0h2v1h-2zM37 3h1v1h-1zM47 7h1v1h-1zM47 14h1v1h-1zM37 18h1v1h-1zM44 21h2v1h-2zM44 22h2v1h-2zM44 23h2v1h-2z"/>
<path fill="#1b1b1b" d="M46 -2h1v1h-1zM46 -1h1v1h-1zM46 0h1v1h-1zM60 2h1v1h-1zM53 3h1v1h-1zM45 7h1v1h-1zM45 14h1v1h-1zM53 18h1v1h-1zM60 19h1v1h-1zM46 21h1v1h-1zM46 22h1v1h-1zM46 23h1v1h-1z"/>
<path fill="#1c1c1c" d="M29 -2h1v1h-1zM47 -2h1v1h-1zM29 -1h1v1h-1zM47 -1h1v1h-1zM29 0h1v1h-1zM47 0h1v1h-1zM41 2h1v1h-1zM41 19h1v1h-1zM29 21h1v1h-1zM47 21h1v1h-1zM29 22h1v1h-1zM47 22h1v1h-1zM29 23h1v1h-1zM47 23h1v1h-1z"/>
<path fill="#1d1d1d" d="M48 -2h1v1h-1zM48 -1h1v1h-1zM48 0h1v1h-1zM54 3h1v1h-1zM48 7h1v1h-1zM48 14h1v1h-1zM54 18h1v1h-1zM48 21h1v1h-1zM48 22h1v1h-1zM48 23h1v1h-1z"/>
<path fill="#1e1e1e" d="M28 -2h1v1h-1zM49 -2h2v1h-2zM28 -1h1v1h-1zM49 -1h2v1h-2zM28 0h1v1h-1zM49 0h2v1h-2zM40 2h1v1h-1zM61 2h1v1h-1zM36 3h1v1h-1zM36 18h1v1h-1zM40 19h1v1h-1zM61 19h1v1h-1zM28 21h1v1h-1zM49 21h2v1h-2zM28 22h1v1h-1zM49 22h2v1h-2zM28 23h1v1h-1zM49 23h2v1h-2z"/>
<path fill="#1f1f1f" d="M51 -2h1v1h-1zM51 -1h1v1h-1zM51 0h1v1h-1zM48 1h8v1h-8zM55 3h1v1h-1zM44 7h1v1h-1zM44 14h1v1h-1zM55 18h1v1h-1zM48 20h8v1h-8zM51 21h1v1h-1zM51 22h1v1h-1zM51 23h1v1h-1z"/>
<path fill="#202020" d="M52 -2h1v1h-1zM52 -1h1v1h-1zM52 0h1v1h-1zM46 1h2v1h-2zM56 1h2v1h-2zM62 2h1v1h-1zM47 6h2v1h-2zM47 15h2v1h-2zM62 19h1v1h-1zM46 20h2v1h-2zM56 20h2v1h-2zM52 21h1v1h-1zM52 22h1v1h-1zM52 23h1v1h-1z"/>
<path fill="#212121" d="M27 -2h1v1h-1zM53 -2h1v1h-1zM27 -1h1v1h-1zM53 -1h1v1h-1zM27 0h1v1h-1zM53 0h1v1h-1zM44 1h2v1h-2zM58 1h1v1h-1zM39 2h1v1h-1zM49 6h1v1h-1zM49 7h1v1h-1zM49 14h1v1h-1zM49 15h1v1h-1zM39 19h1v1h-1zM44 20h2v1h-2zM58 20h1v1h-1zM27 21h1v1h-1zM53 21h1v1h-1zM27 22h1v1h-1zM53 22h1v1h-1zM27 23h1v1h-1zM53 23h1v1h-1z"/>
<path fill="#222222" d="M54 -2h2v1h-2zM54 -1h2v1h-2zM54 0h2v1h-2zM43 1h1v1h-1zM59 1h2v1h-2zM63 2h1v1h-1zM35 3h1v1h-1zM56 3h1v1h-1zM46 6h1v1h-1zM46 15h1v1h-1zM35 18h1v1h-1zM56 18h1v1h-1zM63 19h1v1h-1zM43 20h1v1h-1zM59 20h2v1h-2zM54 21h2v1h-2zM54 22h2v1h-2zM54 23h2v1h-2z"/>
<path fill="#232323" d="M56 -2h1v1h-1zM56 -1h1v1h-1zM56 0h1v1h-1zM41 1h2v1h-2zM61 1h1v1h-1zM38 2h1v1h-1zM38 19h1v1h-1zM41 20h2v1h-2zM61 20h1v1h-1zM56 21h1v1h-1zM56 22h1v1h-1zM56 23h1v1h-1z"/>
<path fill="#242424" d="M26 -2h1v1h-1zM57 -2h1v1h-1zM26 -1h1v1h-1zM57 -1h1v1h-1zM26 0h1v1h-1zM57 0h1v1h-1zM39 1h2v1h-2zM64 2h1v1h-1zM57 3h1v1h-1zM50 6h1v1h-1zM43 7h1v1h-1zM43 14h1v1h-1zM50 15h1v1h-1zM57 18h1v1h-1zM64 19h1v1h-1zM39 20h2v1h-2zM26 21h1v1h-1zM57 21h1v1h-1zM26 22h1v1h-1zM57 22h1v1h-1zM26 23h1v1h-1zM57 23h1v1h-1z"/>
<path fill="#252525" d="M58 -2h1v1h-1zM58 -1h1v1h-1zM58 0h1v1h-1zM38 1h1v1h-1zM62 1h1v1h-1zM45 6h1v1h-1zM50 7h1v1h-1zM50 14h1v1h-1zM45 15h1v1h-1zM38 20h1v1h-1zM62 20h1v1h-1zM58 21h1v1h-1zM58 22h1v1h-1zM58 23h1v1h-1z"/>
<path fill="#262626" d="M59 -2h1v1h-1zM59 -1h1v1h-1zM59 0h1v1h-1zM36 1h2v1h-2zM63 1h1v1h-1zM37 2h1v1h-1zM65 2h1v1h-1zM34 3h1v1h-1zM34 18h1v1h-1zM37 19h1v1h-1zM65 19h1v1h-1zM36 20h2v1h-2zM63 20h1v1h-1zM59 21h1v1h-1zM59 22h1v1h-1zM59 23h1v1h-1z"/>
<path fill="#272727" d="M60 -2h1v1h-1zM60 -1h1v1h-1zM60 0h1v1h-1zM35 1h1v1h-1zM64 1h1v1h-1zM58 3h1v1h-1zM51 6h1v1h-1zM51 15h1v1h-1zM58 18h1v1h-1zM35 20h1v1h-1zM64 20h1v1h-1zM60 21h1v1h-1zM60 22h1v1h-1zM60 23h1v1h-1z"/>
<path fill="#282828" d="M25 -2h1v1h-1zM61 -2h1v1h-1zM25 -1h1v1h-1zM61 -1h1v1h-1zM25 0h1v1h-1zM61 0h1v1h-1zM33 1h2v1h-2zM65 1h1v1h-1zM66 2h1v1h-1zM66 19h1v1h-1zM33 20h2v1h-2zM65 20h1v1h-1zM25 21h1v1h-1zM61 21h1v1h-1zM25 22h1v1h-1zM61 22h1v1h-1zM25 23h1v1h-1zM61 23h1v1h-1z"/>
<path fill="#292929" d="M62 -2h2v1h-2zM62 -1h2v1h-2zM62 0h2v1h-2zM31 1h2v1h-2zM66 1h1v1h-1zM36 2h1v1h-1zM59 3h1v1h-1zM44 6h1v1h-1zM44 15h1v1h-1zM59 18h1v1h-1zM36 19h1v1h-1zM31 20h2v1h-2zM66 20h1v1h-1zM62 21h2v1h-2zM62 22h2v1h-2zM62 23h2v1h-2z"/>
<path fill="#2a2a2a" d="M64 -2h1v1h-1zM64 -1h1v1h-1zM64 0h1v1h-1zM30 1h1v1h-1zM67 2h1v1h-1zM33 3h1v1h-1zM40 4h5v1h-5zM42 7h1v1h-1zM51 7h1v1h-1zM42 14h1v1h-1zM51 14h1v1h-1zM40 17h5v1h-5zM33 18h1v1h-1zM67 19h1v1h-1zM30 20h1v1h-1zM64 21h1v1h-1zM64 22h1v1h-1zM64 23h1v1h-1z"/>
<path fill="#2b2b2b" d="M65 -2h1v1h-1zM65 -1h1v1h-1zM65 0h1v1h-1zM28 1h2v1h-2zM67 1h1v1h-1zM60 3h1v1h-1zM38 4h2v1h-2zM45 4h2v1h-2zM38 17h2v1h-2zM45 17h2v1h-2zM60 18h1v1h-1zM28 20h2v1h-2zM67 20h1v1h-1zM65 21h1v1h-1zM65 22h1v1h-1zM65 23h1v1h-1z"/>
<path fill="#2c2c2c" d="M24 -2h1v1h-1zM66 -2h1v1h-1zM24 -1h1v1h-1zM66 -1h1v1h-1zM24 0h1v1h-1zM66 0h1v1h-1zM27 1h1v1h-1zM68 1h1v1h-1zM35 2h1v1h-1zM68 2h1v1h-1zM37 4h1v1h-1zM47 4h1v1h-1zM52 6h1v1h-1zM52 15h1v1h-1zM37 17h1v1h-1zM47 17h1v1h-1zM35 19h1v1h-1zM68 19h1v1h-1zM27 20h1v1h-1zM68 20h1v1h-1zM24 21h1v1h-1zM66 21h1v1h-1zM24 22h1v1h-1zM66 22h1v1h-1zM24 23h1v1h-1zM66 23h1v1h-1z"/>
<path fill="#2d2d2d" d="M67 -2h1v1h-1zM67 -1h1v1h-1zM67 0h1v1h-1zM26 1h1v1h-1zM69 1h1v1h-1zM69 2h1v1h-1zM61 3h1v1h-1zM36 4h1v1h-1zM48 4h1v1h-1zM36 17h1v1h-1zM48 17h1v1h-1zM61 18h1v1h-1zM69 19h1v1h-1zM26 20h1v1h-1zM69 20h1v1h-1zM67 21h1v1h-1zM67 22h1v1h-1zM67 23h1v1h-1z"/>
<path fill="#2e2e2e" d="M68 -2h1v1h-1zM68 -1h1v1h-1zM68 0h1v1h-1zM70 1h1v1h-1zM34 2h1v1h-1zM49 4h1v1h-1zM49 17h1v1h-1zM34 19h1v1h-1zM70 20h1v1h-1zM68 21h1v1h-1zM68 22h1v1h-1zM68 23h1v1h-1z"/>
<path fill="#2f2f2f" d="M23 -2h1v1h-1zM69 -2h1v1h-1zM23 -1h1v1h-1zM69 -1h1v1h-1zM23 0h1v1h-1zM69 0h1v1h-1zM25 1h1v1h-1zM71 1h3v1h-3zM70 2h1v1h-1zM32 3h1v1h-1zM35 4h1v1h-1zM43 6h1v1h-1zM43 15h1v1h-1zM35 17h1v1h-1zM32 18h1v1h-1zM70 19h1v1h-1zM25 20h1v1h-1zM71 20h3v1h-3zM23 21h1v1h-1zM69 21h1v1h-1zM23 22h1v1h-1zM69 22h1v1h-1zM23 23h1v1h-1zM69 23h1v1h-1z"/>
<path fill="#303030" d="M70 -2h1v1h-1zM70 -1h1v1h-1zM70 0h1v1h-1zM71 2h3v1h-3zM62 3h1v1h-1zM34 4h1v1h-1zM50 4h1v1h-1zM53 6h1v1h-1zM41 7h1v1h-1zM52 7h1v1h-1zM41 14h1v1h-1zM52 14h1v1h-1zM53 15h1v1h-1zM34 17h1v1h-1zM50 17h1v1h-1zM62 18h1v1h-1zM71 19h3v1h-3zM70 21h1v1h-1zM70 22h1v1h-1zM70 23h1v1h-1z"/>
<path fill="#313131" d="M71 -2h3v1h-3zM71 -1h3v1h-3zM71 0h3v1h-3zM24 1h1v1h-1zM33 2h1v1h-1zM51 4h1v1h-1zM51 17h1v1h-1zM33 19h1v1h-1zM24 20h1v1h-1zM71 21h3v1h-3zM71 22h3v1h-3zM71 23h3v1h-3z"/>
<path fill="#323232" d="M63 3h1v1h-1zM33 4h1v1h-1zM33 17h1v1h-1zM63 18h1v1h-1z"/>
<path fill="#333333" d="M22 -2h1v1h-1zM22 -1h1v1h-1zM22 0h1v1h-1zM23 1h1v1h-1zM52 4h1v1h-1zM52 17h1v1h-1zM23 20h1v1h-1zM22 21h1v1h-1zM22 22h1v1h-1zM22 23h1v1h-1z"/>
<path fill="#343434" d="M32 2h1v1h-1zM31 3h1v1h-1zM64 3h1v1h-1zM42 6h1v1h-1zM42 15h1v1h-1zM31 18h1v1h-1zM64 18h1v1h-1zM32 19h1v1h-1z"/>
<path fill="#353535" d="M22 1h1v1h-1zM65 3h1v1h-1zM32 4h1v1h-1zM53 4h1v1h-1zM54 6h1v1h-1zM53 7h1v1h-1zM53 14h1v1h-1zM54 15h1v1h-1zM32 17h1v1h-1zM53 17h1v1h-1zM65 18h1v1h-1zM22 20h1v1h-1z"/>
<path fill="#373737" d="M21 -2h1v1h-1zM21 -1h1v1h-1zM21 0h1v1h-1zM31 2h1v1h-1zM66 3h1v1h-1zM31 4h1v1h-1zM54 4h1v1h-1zM46 5h4v1h-4zM40 7h1v1h-1zM40 14h1v1h-1zM46 16h4v1h-4zM31 17h1v1h-1zM54 17h1v1h-1zM66 18h1v1h-1zM31 19h1v1h-1zM21 21h1v1h-1zM21 22h1v1h-1zM21 23h1v1h-1z"/>
<path fill="#383838" d="M21 1h1v1h-1zM30 3h1v1h-1zM45 5h1v1h-1zM50 5h1v1h-1zM45 16h1v1h-1zM50 16h1v1h-1zM30 18h1v1h-1zM21 20h1v1h-1z"/>
<path fill="#393939" d="M30 2h1v1h-1zM67 3h1v1h-1zM55 4h1v1h-1zM55 6h1v1h-1zM55 15h1v1h-1zM55 17h1v1h-1zM67 18h1v1h-1zM30 19h1v1h-1z"/>
<path fill="#3a3a3a" d="M68 3h1v1h-1zM44 5h1v1h-1zM51 5h1v1h-1zM41 6h1v1h-1zM54 7h1v1h-1zM54 14h1v1h-1zM41 15h1v1h-1zM44 16h1v1h-1zM51 16h1v1h-1zM68 18h1v1h-1z"/>
<path fill="#3b3b3b" d="M20 -2h1v1h-1zM20 -1h1v1h-1zM20 0h1v1h-1zM20 1h1v1h-1zM69 3h1v1h-1zM30 4h1v1h-1zM56 4h1v1h-1zM43 5h1v1h-1zM43 16h1v1h-1zM30 17h1v1h-1zM56 17h1v1h-1zM69 18h1v1h-1zM20 20h1v1h-1zM20 21h1v1h-1zM20 22h1v1h-1zM20 23h1v1h-1z"/>
<path fill="#3c3c3c" d="M29 2h1v1h-1zM70 3h1v1h-1zM-2 5h3v1h-3zM52 5h1v1h-1zM-2 16h3v1h-3zM52 16h1v1h-1zM70 18h1v1h-1zM29 19h1v1h-1z"/>
<path fill="#3d3d3d" d="M29 3h1v1h-1zM71 3h3v1h-3zM57 4h1v1h-1zM1 5h1v1h-1zM42 5h1v1h-1zM1 16h1v1h-1zM42 16h1v1h-1zM57 17h1v1h-1zM29 18h1v1h-1zM71 18h3v1h-3z"/>
<path fill="#3e3e3e" d="M28 2h1v1h-1zM29 4h1v1h-1zM53 5h1v1h-1zM56 6h1v1h-1zM56 15h1v1h-1zM53 16h1v1h-1zM29 17h1v1h-1zM28 19h1v1h-1z"/>
<path fill="#3f3f3f" d="M19 -2h1v1h-1zM19 -1h1v1h-1zM19 0h1v1h-1zM19 1h1v1h-1zM58 4h1v1h-1zM39 7h1v1h-1zM55 7h1v1h-1zM39 14h1v1h-1zM55 14h1v1h-1zM58 17h1v1h-1zM19 20h1v1h-1zM19 21h1v1h-1zM19 22h1v1h-1zM19 23h1v1h-1z"/>
<path fill="#404040" d="M27 2h1v1h-1zM-2 4h3v1h-3zM2 5h1v1h-1zM41 5h1v1h-1zM54 5h1v1h-1zM40 6h1v1h-1zM40 15h1v1h-1zM2 16h1v1h-1zM41 16h1v1h-1zM54 16h1v1h-1zM-2 17h3v1h-3zM27 19h1v1h-1z"/>
<path fill="#414141" d="M1 4h1v1h-1zM59 4h1v1h-1zM1 17h1v1h-1zM59 17h1v1h-1z"/>
<path fill="#424242" d="M18 -2h1v1h-1zM18 -1h1v1h-1zM18 0h1v1h-1zM18 1h1v1h-1zM26 2h1v1h-1zM28 3h1v1h-1zM28 4h1v1h-1zM40 5h1v1h-1zM57 6h1v1h-1zM7 7h2v1h-2zM8 8h1v1h-1zM8 13h1v1h-1zM7 14h2v1h-2zM57 15h1v1h-1zM40 16h1v1h-1zM28 17h1v1h-1zM28 18h1v1h-1zM26 19h1v1h-1zM18 20h1v1h-1zM18 21h1v1h-1zM18 22h1v1h-1zM18 23h1v1h-1z"/>
<path fill="#434343" d="M2 4h1v1h-1zM60 4h1v1h-1zM3 5h1v1h-1zM55 5h1v1h-1zM9 7h1v1h-1zM56 7h1v1h-1zM7 8h1v1h-1zM9 8h1v1h-1zM-2 10h3v1h-3zM-2 11h3v1h-3zM7 13h1v1h-1zM9 13h1v1h-1zM9 14h1v1h-1zM56 14h1v1h-1zM3 16h1v1h-1zM55 16h1v1h-1zM2 17h1v1h-1zM60 17h1v1h-1z"/>
<path fill="#444444" d="M25 2h1v1h-1zM39 5h1v1h-1zM6 7h1v1h-1zM6 8h1v1h-1zM6 13h1v1h-1zM6 14h1v1h-1zM39 16h1v1h-1zM25 19h1v1h-1z"/>
<path fill="#454545" d="M17 -2h1v1h-1zM17 -1h1v1h-1zM17 0h1v1h-1zM3 4h1v1h-1zM61 4h1v1h-1zM56 5h1v1h-1zM-2 6h3v1h-3zM10 7h1v1h-1zM10 14h1v1h-1zM-2 15h3v1h-3zM56 16h1v1h-1zM3 17h1v1h-1zM61 17h1v1h-1zM17 21h1v1h-1zM17 22h1v1h-1zM17 23h1v1h-1z"/>
<path fill="#464646" d="M17 1h1v1h-1zM24 2h1v1h-1zM27 3h1v1h-1zM27 4h1v1h-1zM1 6h1v1h-1zM39 6h1v1h-1zM5 7h1v1h-1zM38 7h1v1h-1zM5 8h1v1h-1zM10 8h1v1h-1zM5 13h1v1h-1zM10 13h1v1h-1zM5 14h1v1h-1zM38 14h1v1h-1zM1 15h1v1h-1zM39 15h1v1h-1zM27 17h1v1h-1zM27 18h1v1h-1zM24 19h1v1h-1zM17 20h1v1h-1z"/>
<path fill="#474747" d="M23 2h1v1h-1zM62 4h1v1h-1zM38 5h1v1h-1zM2 6h1v1h-1zM58 6h1v1h-1zM57 7h1v1h-1zM1 10h1v1h-1zM1 11h1v1h-1zM57 14h1v1h-1zM2 15h1v1h-1zM58 15h1v1h-1zM38 16h1v1h-1zM62 17h1v1h-1zM23 19h1v1h-1z"/>
<path fill="#484848" d="M16 -2h1v1h-1zM16 -1h1v1h-1zM16 0h1v1h-1zM63 4h1v1h-1zM4 5h1v1h-1zM57 5h1v1h-1zM3 6h1v1h-1zM3 15h1v1h-1zM4 16h1v1h-1zM57 16h1v1h-1zM63 17h1v1h-1zM16 21h1v1h-1zM16 22h1v1h-1zM16 23h1v1h-1z"/>
<path fill="#494949" d="M22 2h1v1h-1zM4 4h1v1h-1zM37 5h1v1h-1zM4 6h1v1h-1zM4 7h1v1h-1zM11 7h1v1h-1zM4 8h1v1h-1zM4 13h1v1h-1zM4 14h1v1h-1zM11 14h1v1h-1zM4 15h1v1h-1zM37 16h1v1h-1zM4 17h1v1h-1zM22 19h1v1h-1z"/>
<path fill="#4a4a4a" d="M16 1h1v1h-1zM21 2h1v1h-1zM26 3h1v1h-1zM26 4h1v1h-1zM64 4h1v1h-1zM5 6h1v1h-1zM59 6h1v1h-1zM11 8h1v1h-1zM18 10h2v1h-2zM18 11h2v1h-2zM11 13h1v1h-1zM5 15h1v1h-1zM59 15h1v1h-1zM26 17h1v1h-1zM64 17h1v1h-1zM26 18h1v1h-1zM21 19h1v1h-1zM16 20h1v1h-1z"/>
<path fill="#4b4b4b" d="M15 -2h1v1h-1zM15 -1h1v1h-1zM15 0h1v1h-1zM20 2h1v1h-1zM65 4h1v1h-1zM36 5h1v1h-1zM58 5h1v1h-1zM58 7h1v1h-1zM-2 9h4v1h-4zM2 10h1v1h-1zM17 10h1v1h-1zM2 11h1v1h-1zM17 11h1v1h-1zM-2 12h4v1h-4zM58 14h1v1h-1zM36 16h1v1h-1zM58 16h1v1h-1zM65 17h1v1h-1zM20 19h1v1h-1zM15 21h1v1h-1zM15 22h1v1h-1zM15 23h1v1h-1z"/>
<path fill="#4c4c4c" d="M19 2h1v1h-1zM-2 3h3v1h-3zM66 4h1v1h-1zM6 6h1v1h-1zM38 6h1v1h-1zM3 7h1v1h-1zM3 8h1v1h-1zM2 9h1v1h-1zM20 10h1v1h-1zM20 11h1v1h-1zM2 12h1v1h-1zM3 13h1v1h-1zM3 14h1v1h-1zM6 15h1v1h-1zM38 15h1v1h-1zM66 17h1v1h-1zM-2 18h3v1h-3zM19 19h1v1h-1z"/>
<path fill="#4d4d4d" d="M14 -2h1v1h-1zM14 -1h1v1h-1zM14 0h1v1h-1zM18 2h1v1h-1zM5 4h1v1h-1zM67 4h1v1h-1zM5 5h1v1h-1zM59 5h1v1h-1zM7 6h1v1h-1zM37 7h1v1h-1zM3 9h2v1h-2zM16 10h1v1h-1zM16 11h1v1h-1zM3 12h2v1h-2zM37 14h1v1h-1zM7 15h1v1h-1zM5 16h1v1h-1zM59 16h1v1h-1zM5 17h1v1h-1zM67 17h1v1h-1zM18 19h1v1h-1zM14 21h1v1h-1zM14 22h1v1h-1zM14 23h1v1h-1z"/>
<path fill="#4e4e4e" d="M15 1h1v1h-1zM1 3h1v1h-1zM25 4h1v1h-1zM68 4h1v1h-1zM35 5h1v1h-1zM60 6h1v1h-1zM2 7h1v1h-1zM12 7h1v1h-1zM59 7h1v1h-1zM12 8h1v1h-1zM5 9h1v1h-1zM5 12h1v1h-1zM12 13h1v1h-1zM2 14h1v1h-1zM12 14h1v1h-1zM59 14h1v1h-1zM60 15h1v1h-1zM35 16h1v1h-1zM25 17h1v1h-1zM68 17h1v1h-1zM1 18h1v1h-1zM15 20h1v1h-1z"/>
<path fill="#4f4f4f" d="M13 -2h1v1h-1zM13 -1h1v1h-1zM13 0h1v1h-1zM17 2h1v1h-1zM25 3h1v1h-1zM69 4h5v1h-5zM60 5h1v1h-1zM8 6h1v1h-1zM2 8h1v1h-1zM6 9h2v1h-2zM6 12h2v1h-2zM2 13h1v1h-1zM8 15h1v1h-1zM60 16h1v1h-1zM69 17h5v1h-5zM25 18h1v1h-1zM17 19h1v1h-1zM13 21h1v1h-1zM13 22h1v1h-1zM13 23h1v1h-1z"/>
<path fill="#505050" d="M12 -2h1v1h-1zM12 -1h1v1h-1zM12 0h1v1h-1zM-2 1h3v1h-3zM16 2h1v1h-1zM2 3h1v1h-1zM34 5h1v1h-1zM9 6h1v1h-1zM1 7h1v1h-1zM8 9h1v1h-1zM3 10h1v1h-1zM15 10h1v1h-1zM21 10h1v1h-1zM3 11h1v1h-1zM15 11h1v1h-1zM21 11h1v1h-1zM8 12h1v1h-1zM1 14h1v1h-1zM9 15h1v1h-1zM34 16h1v1h-1zM2 18h1v1h-1zM16 19h1v1h-1zM-2 20h3v1h-3zM12 21h1v1h-1zM12 22h1v1h-1zM12 23h1v1h-1z"/>
<path fill="#515151" d="M-2 2h3v1h-3zM3 3h1v1h-1zM33 5h1v1h-1zM61 6h1v1h-1zM-2 7h3v1h-3zM60 7h1v1h-1zM9 9h1v1h-1zM9 12h1v1h-1zM-2 14h3v1h-3zM60 14h1v1h-1zM61 15h1v1h-1zM33 16h1v1h-1zM3 18h1v1h-1zM-2 19h3v1h-3z"/>
<path fill="#525252" d="M10 -2h2v1h-2zM10 -1h2v1h-2zM10 0h2v1h-2zM14 1h1v1h-1zM15 2h1v1h-1zM6 4h1v1h-1zM6 5h1v1h-1zM61 5h1v1h-1zM10 6h1v1h-1zM37 6h1v1h-1zM1 8h1v1h-1zM10 9h1v1h-1zM10 12h1v1h-1zM1 13h1v1h-1zM10 15h1v1h-1zM37 15h1v1h-1zM6 16h1v1h-1zM61 16h1v1h-1zM6 17h1v1h-1zM15 19h1v1h-1zM14 20h1v1h-1zM10 21h2v1h-2zM10 22h2v1h-2zM10 23h2v1h-2z"/>
<path fill="#535353" d="M3 -2h7v1h-7zM3 -1h7v1h-7zM3 0h7v1h-7zM1 1h1v1h-1zM14 2h1v1h-1zM4 3h1v1h-1zM24 3h1v1h-1zM24 4h1v1h-1zM32 5h1v1h-1zM13 7h1v1h-1zM-2 8h3v1h-3zM13 8h1v1h-1zM11 9h2v1h-2zM14 10h1v1h-1zM14 11h1v1h-1zM11 12h2v1h-2zM-2 13h3v1h-3zM13 13h1v1h-1zM13 14h1v1h-1zM32 16h1v1h-1zM24 17h1v1h-1zM4 18h1v1h-1zM24 18h1v1h-1zM14 19h1v1h-1zM1 20h1v1h-1zM3 21h7v1h-7zM3 22h7v1h-7zM3 23h7v1h-7z"/>
<path fill="#545454" d="M1 -2h2v1h-2zM1 -1h2v1h-2zM1 0h2v1h-2zM5 3h1v1h-1zM62 5h1v1h-1zM11 6h1v1h-1zM62 6h1v1h-1zM36 7h1v1h-1zM61 7h1v1h-1zM13 9h1v1h-1zM4 10h1v1h-1zM4 11h1v1h-1zM13 12h1v1h-1zM36 14h1v1h-1zM61 14h1v1h-1zM11 15h1v1h-1zM62 15h1v1h-1zM62 16h1v1h-1zM5 18h1v1h-1zM1 21h2v1h-2zM1 22h2v1h-2zM1 23h2v1h-2z"/>
<path fill="#555555" d="M-2 -2h3v1h-3zM-2 -1h3v1h-3zM-2 0h3v1h-3zM13 1h1v1h-1zM1 2h1v1h-1zM13 2h1v1h-1zM31 5h1v1h-1zM14 9h1v1h-1zM22 10h1v1h-1zM22 11h1v1h-1zM14 12h1v1h-1zM31 16h1v1h-1zM1 19h1v1h-1zM13 19h1v1h-1zM13 20h1v1h-1zM-2 21h3v1h-3zM-2 22h3v1h-3zM-2 23h3v1h-3z"/>
<path fill="#565656" d="M2 1h1v1h-1zM6 3h1v1h-1zM23 3h1v1h-1zM7 5h1v1h-1zM30 5h1v1h-1zM63 5h1v1h-1zM12 6h1v1h-1zM62 7h1v1h-1zM15 9h1v1h-1zM13 10h1v1h-1zM13 11h1v1h-1zM15 12h1v1h-1zM62 14h1v1h-1zM12 15h1v1h-1zM7 16h1v1h-1zM30 16h1v1h-1zM63 16h1v1h-1zM6 18h1v1h-1zM23 18h1v1h-1zM2 20h1v1h-1z"/>
<path fill="#575757" d="M12 2h1v1h-1zM7 3h1v1h-1zM7 4h1v1h-1zM23 4h1v1h-1zM29 5h1v1h-1zM64 5h1v1h-1zM36 6h1v1h-1zM63 6h1v1h-1zM16 9h1v1h-1zM16 12h1v1h-1zM36 15h1v1h-1zM63 15h1v1h-1zM29 16h1v1h-1zM64 16h1v1h-1zM7 17h1v1h-1zM23 17h1v1h-1zM7 18h1v1h-1zM12 19h1v1h-1z"/>
<path fill="#585858" d="M12 1h1v1h-1zM63 7h1v1h-1zM5 10h1v1h-1zM5 11h1v1h-1zM63 14h1v1h-1zM12 20h1v1h-1z"/>
<path fill="#595959" d="M3 1h1v1h-1zM2 2h1v1h-1zM11 2h1v1h-1zM8 3h1v1h-1zM22 3h1v1h-1zM28 5h1v1h-1zM65 5h1v1h-1zM13 6h1v1h-1zM64 6h1v1h-1zM14 7h1v1h-1zM14 8h1v1h-1zM17 9h1v1h-1zM12 10h1v1h-1zM12 11h1v1h-1zM17 12h1v1h-1zM14 13h1v1h-1zM14 14h1v1h-1zM13 15h1v1h-1zM64 15h1v1h-1zM28 16h1v1h-1zM65 16h1v1h-1zM8 18h1v1h-1zM22 18h1v1h-1zM2 19h1v1h-1zM11 19h1v1h-1zM3 20h1v1h-1z"/>
<path fill="#5a5a5a" d="M9 3h1v1h-1zM27 5h1v1h-1zM66 5h1v1h-1zM64 7h1v1h-1zM18 9h1v1h-1zM18 12h1v1h-1zM64 14h1v1h-1zM27 16h1v1h-1zM66 16h1v1h-1zM9 18h1v1h-1z"/>
<path fill="#5b5b5b" d="M4 1h1v1h-1zM11 1h1v1h-1zM10 2h1v1h-1zM22 4h1v1h-1zM8 5h1v1h-1zM26 5h1v1h-1zM67 5h2v1h-2zM65 6h1v1h-1zM35 7h1v1h-1zM65 7h1v1h-1zM71 7h3v1h-3zM6 10h1v1h-1zM6 11h1v1h-1zM35 14h1v1h-1zM65 14h1v1h-1zM71 14h3v1h-3zM65 15h1v1h-1zM8 16h1v1h-1zM26 16h1v1h-1zM67 16h2v1h-2zM22 17h1v1h-1zM10 19h1v1h-1zM4 20h1v1h-1zM11 20h1v1h-1z"/>
<path fill="#5c5c5c" d="M3 2h1v1h-1zM10 3h1v1h-1zM21 3h1v1h-1zM8 4h1v1h-1zM25 5h1v1h-1zM69 5h5v1h-5zM14 6h1v1h-1zM66 6h1v1h-1zM66 7h2v1h-2zM69 7h2v1h-2zM71 8h3v1h-3zM19 9h1v1h-1zM11 10h1v1h-1zM23 10h1v1h-1zM11 11h1v1h-1zM23 11h1v1h-1zM19 12h1v1h-1zM71 13h3v1h-3zM66 14h2v1h-2zM69 14h2v1h-2zM14 15h1v1h-1zM66 15h1v1h-1zM25 16h1v1h-1zM69 16h5v1h-5zM8 17h1v1h-1zM10 18h1v1h-1zM21 18h1v1h-1zM3 19h1v1h-1z"/>
<path fill="#5d5d5d" d="M5 1h1v1h-1zM10 1h1v1h-1zM9 2h1v1h-1zM24 5h1v1h-1zM35 6h1v1h-1zM67 6h1v1h-1zM68 7h1v1h-1zM7 10h1v1h-1zM10 10h1v1h-1zM7 11h1v1h-1zM10 11h1v1h-1zM68 14h1v1h-1zM35 15h1v1h-1zM67 15h1v1h-1zM24 16h1v1h-1zM9 19h1v1h-1zM5 20h1v1h-1zM10 20h1v1h-1z"/>
<path fill="#5e5e5e" d="M6 1h1v1h-1zM9 1h1v1h-1zM4 2h1v1h-1zM8 2h1v1h-1zM11 3h1v1h-1zM20 3h1v1h-1zM9 5h1v1h-1zM23 5h1v1h-1zM68 6h6v1h-6zM15 8h1v1h-1zM20 9h1v1h-1zM8 10h2v1h-2zM8 11h2v1h-2zM20 12h1v1h-1zM15 13h1v1h-1zM68 15h6v1h-6zM9 16h1v1h-1zM23 16h1v1h-1zM11 18h1v1h-1zM20 18h1v1h-1zM4 19h1v1h-1zM8 19h1v1h-1zM6 20h1v1h-1zM9 20h1v1h-1z"/>
<path fill="#5f5f5f" d="M7 1h2v1h-2zM5 2h3v1h-3zM12 3h1v1h-1zM21 4h1v1h-1zM15 6h1v1h-1zM70 8h1v1h-1zM70 13h1v1h-1zM15 15h1v1h-1zM21 17h1v1h-1zM12 18h1v1h-1zM5 19h3v1h-3zM7 20h2v1h-2z"/>
<path fill="#606060" d="M13 3h1v1h-1zM19 3h1v1h-1zM9 4h1v1h-1zM22 5h1v1h-1zM15 7h1v1h-1zM15 14h1v1h-1zM22 16h1v1h-1zM9 17h1v1h-1zM13 18h1v1h-1zM19 18h1v1h-1z"/>
<path fill="#616161" d="M14 3h1v1h-1zM18 3h1v1h-1zM10 5h1v1h-1zM21 5h1v1h-1zM34 7h1v1h-1zM69 8h1v1h-1zM21 9h1v1h-1zM21 12h1v1h-1zM69 13h1v1h-1zM34 14h1v1h-1zM10 16h1v1h-1zM21 16h1v1h-1zM14 18h1v1h-1zM18 18h1v1h-1z"/>
<path fill="#626262" d="M15 3h3v1h-3zM20 5h1v1h-1zM16 6h1v1h-1zM34 6h1v1h-1zM16 15h1v1h-1zM34 15h1v1h-1zM20 16h1v1h-1zM15 18h3v1h-3z"/>
<path fill="#636363" d="M20 4h1v1h-1zM19 5h1v1h-1zM16 8h1v1h-1zM68 8h1v1h-1zM16 13h1v1h-1zM68 13h1v1h-1zM19 16h1v1h-1zM20 17h1v1h-1z"/>
<path fill="#646464" d="M10 4h1v1h-1zM11 5h1v1h-1zM22 9h1v1h-1zM24 10h1v1h-1zM24 11h1v1h-1zM22 12h1v1h-1zM11 16h1v1h-1zM10 17h1v1h-1z"/>
<path fill="#656565" d="M12 5h1v1h-1zM18 5h1v1h-1zM17 6h1v1h-1zM67 8h1v1h-1zM71 9h3v1h-3zM71 12h3v1h-3zM67 13h1v1h-1zM17 15h1v1h-1zM12 16h1v1h-1zM18 16h1v1h-1z"/>
<path fill="#666666" d="M19 4h1v1h-1zM13 5h1v1h-1zM16 5h2v1h-2zM33 6h1v1h-1zM16 7h1v1h-1zM40 8h4v1h-4zM40 13h4v1h-4zM16 14h1v1h-1zM33 15h1v1h-1zM13 16h1v1h-1zM16 16h2v1h-2zM19 17h1v1h-1z"/>
<path fill="#676767" d="M11 4h1v1h-1zM14 5h2v1h-2zM33 7h1v1h-1zM39 8h1v1h-1zM44 8h2v1h-2zM66 8h1v1h-1zM23 9h1v1h-1zM23 12h1v1h-1zM39 13h1v1h-1zM44 13h2v1h-2zM66 13h1v1h-1zM33 14h1v1h-1zM14 16h2v1h-2zM11 17h1v1h-1z"/>
<path fill="#686868" d="M18 4h1v1h-1zM17 8h1v1h-1zM38 8h1v1h-1zM46 8h1v1h-1zM17 13h1v1h-1zM38 13h1v1h-1zM46 13h1v1h-1zM18 17h1v1h-1z"/>
<path fill="#696969" d="M18 6h1v1h-1zM37 8h1v1h-1zM47 8h1v1h-1zM65 8h1v1h-1zM70 9h1v1h-1zM70 12h1v1h-1zM37 13h1v1h-1zM47 13h1v1h-1zM65 13h1v1h-1zM18 15h1v1h-1z"/>
<path fill="#6a6a6a" d="M12 4h1v1h-1zM32 6h1v1h-1zM48 8h1v1h-1zM48 13h1v1h-1zM32 15h1v1h-1zM12 17h1v1h-1z"/>
<path fill="#6b6b6b" d="M13 4h1v1h-1zM17 4h1v1h-1zM36 8h1v1h-1zM49 8h1v1h-1zM64 8h1v1h-1zM24 9h1v1h-1zM24 12h1v1h-1zM36 13h1v1h-1zM49 13h1v1h-1zM64 13h1v1h-1zM13 17h1v1h-1zM17 17h1v1h-1z"/>
<path fill="#6c6c6c" d="M14 4h1v1h-1zM16 4h1v1h-1zM19 6h1v1h-1zM17 7h1v1h-1zM35 8h1v1h-1zM50 8h1v1h-1zM63 8h1v1h-1zM25 10h1v1h-1zM71 10h3v1h-3zM25 11h1v1h-1zM71 11h3v1h-3zM35 13h1v1h-1zM50 13h1v1h-1zM63 13h1v1h-1zM17 14h1v1h-1zM19 15h1v1h-1zM14 17h1v1h-1zM16 17h1v1h-1z"/>
<path fill="#6d6d6d" d="M15 4h1v1h-1zM31 6h1v1h-1zM32 7h1v1h-1zM18 8h1v1h-1zM51 8h1v1h-1zM62 8h1v1h-1zM18 13h1v1h-1zM51 13h1v1h-1zM62 13h1v1h-1zM32 14h1v1h-1zM31 15h1v1h-1zM15 17h1v1h-1z"/>
<path fill="#6e6e6e" d="M20 6h1v1h-1zM34 8h1v1h-1zM52 8h1v1h-1zM61 8h1v1h-1zM69 9h1v1h-1zM69 12h1v1h-1zM34 13h1v1h-1zM52 13h1v1h-1zM61 13h1v1h-1zM20 15h1v1h-1z"/>
<path fill="#6f6f6f" d="M53 8h2v1h-2zM60 8h1v1h-1zM25 9h1v1h-1zM25 12h1v1h-1zM53 13h2v1h-2zM60 13h1v1h-1z"/>
<path fill="#707070" d="M30 6h1v1h-1zM19 8h1v1h-1zM33 8h1v1h-1zM55 8h5v1h-5zM19 13h1v1h-1zM33 13h1v1h-1zM55 13h5v1h-5zM30 15h1v1h-1z"/>
<path fill="#717171" d="M21 6h1v1h-1zM18 7h1v1h-1zM18 14h1v1h-1zM21 15h1v1h-1z"/>
<path fill="#727272" d="M31 7h1v1h-1zM32 8h1v1h-1zM32 13h1v1h-1zM31 14h1v1h-1z"/>
<path fill="#737373" d="M22 6h1v1h-1zM29 6h1v1h-1zM26 9h1v1h-1zM68 9h1v1h-1zM70 10h1v1h-1zM70 11h1v1h-1zM26 12h1v1h-1zM68 12h1v1h-1zM22 15h1v1h-1zM29 15h1v1h-1z"/>
<path fill="#747474" d="M20 8h1v1h-1zM31 8h1v1h-1zM20 13h1v1h-1zM31 13h1v1h-1z"/>
<path fill="#757575" d="M23 6h1v1h-1zM28 6h1v1h-1zM26 10h1v1h-1zM26 11h1v1h-1zM23 15h1v1h-1zM28 15h1v1h-1z"/>
<path fill="#767676" d="M24 6h4v1h-4zM19 7h1v1h-1zM21 8h1v1h-1zM30 8h1v1h-1zM21 13h1v1h-1zM30 13h1v1h-1zM19 14h1v1h-1zM24 15h4v1h-4z"/>
<path fill="#777777" d="M30 7h1v1h-1zM29 8h1v1h-1zM27 9h1v1h-1zM27 12h1v1h-1zM29 13h1v1h-1zM30 14h1v1h-1z"/>
<path fill="#787878" d="M22 8h1v1h-1zM67 9h1v1h-1zM67 12h1v1h-1zM22 13h1v1h-1z"/>
<path fill="#797979" d="M28 8h1v1h-1zM69 10h1v1h-1zM69 11h1v1h-1zM28 13h1v1h-1z"/>
<path fill="#7a7a7a" d="M20 7h1v1h-1zM23 8h1v1h-1zM27 8h1v1h-1zM23 13h1v1h-1zM27 13h1v1h-1zM20 14h1v1h-1z"/>
<path fill="#7b7b7b" d="M29 7h1v1h-1zM24 8h3v1h-3zM24 13h3v1h-3zM29 14h1v1h-1z"/>
<path fill="#7c7c7c" d="M28 9h1v1h-1zM28 12h1v1h-1z"/>
<path fill="#7d7d7d" d="M66 9h1v1h-1zM66 12h1v1h-1z"/>
<path fill="#7e7e7e" d="M21 7h1v1h-1zM28 7h1v1h-1zM27 10h1v1h-1zM27 11h1v1h-1zM21 14h1v1h-1zM28 14h1v1h-1z"/>
<path fill="#808080" d="M22 7h1v1h-1zM27 7h1v1h-1zM29 9h1v1h-1zM68 10h1v1h-1zM68 11h1v1h-1zM29 12h1v1h-1zM22 14h1v1h-1zM27 14h1v1h-1z"/>
<path fill="#818181" d="M65 9h1v1h-1zM65 12h1v1h-1z"/>
<path fill="#828282" d="M23 7h1v1h-1zM26 7h1v1h-1zM23 14h1v1h-1zM26 14h1v1h-1z"/>
<path fill="#838383" d="M24 7h2v1h-2zM24 14h2v1h-2z"/>
<path fill="#858585" d="M30 9h1v1h-1zM30 12h1v1h-1z"/>
<path fill="#868686" d="M64 9h1v1h-1zM67 10h1v1h-1zM67 11h1v1h-1zM64 12h1v1h-1z"/>
<path fill="#878787" d="M28 10h1v1h-1zM28 11h1v1h-1z"/>
<path fill="#8a8a8a" d="M31 9h1v1h-1zM31 12h1v1h-1z"/>
<path fill="#8b8b8b" d="M63 9h1v1h-1zM63 12h1v1h-1z"/>
<path fill="#8d8d8d" d="M66 10h1v1h-1zM66 11h1v1h-1z"/>
<path fill="#8e8e8e" d="M32 9h1v1h-1zM32 12h1v1h-1z"/>
<path fill="#8f8f8f" d="M62 9h1v1h-1zM62 12h1v1h-1z"/>
<path fill="#919191" d="M29 10h1v1h-1zM29 11h1v1h-1z"/>
<path fill="#939393" d="M33 9h1v1h-1zM65 10h1v1h-1zM65 11h1v1h-1zM33 12h1v1h-1z"/>
<path fill="#949494" d="M61 9h1v1h-1zM61 12h1v1h-1z"/>
<path fill="#979797" d="M34 9h1v1h-1zM34 12h1v1h-1z"/>
<path fill="#989898" d="M60 9h1v1h-1zM60 12h1v1h-1z"/>
<path fill="#9a9a9a" d="M30 10h1v1h-1zM64 10h1v1h-1zM30 11h1v1h-1zM64 11h1v1h-1z"/>
<path fill="#9b9b9b" d="M35 9h1v1h-1zM35 12h1v1h-1z"/>
<path fill="#9c9c9c" d="M59 9h1v1h-1zM59 12h1v1h-1z"/>
<path fill="#9f9f9f" d="M36 9h1v1h-1zM36 12h1v1h-1z"/>
<path fill="#a0a0a0" d="M58 9h1v1h-1zM63 10h1v1h-1zM63 11h1v1h-1zM58 12h1v1h-1z"/>
<path fill="#a2a2a2" d="M31 10h1v1h-1zM31 11h1v1h-1z"/>
<path fill="#a3a3a3" d="M37 9h1v1h-1zM57 9h1v1h-1zM37 12h1v1h-1zM57 12h1v1h-1z"/>
<path fill="#a6a6a6" d="M38 9h1v1h-1zM56 9h1v1h-1zM62 10h1v1h-1zM62 11h1v1h-1zM38 12h1v1h-1zM56 12h1v1h-1z"/>
<path fill="#a9a9a9" d="M39 9h1v1h-1zM55 9h1v1h-1zM39 12h1v1h-1zM55 12h1v1h-1z"/>
<path fill="#ababab" d="M32 10h1v1h-1zM32 11h1v1h-1z"/>
<path fill="#acacac" d="M40 9h1v1h-1zM54 9h1v1h-1zM40 12h1v1h-1zM54 12h1v1h-1z"/>
<path fill="#adadad" d="M61 10h1v1h-1zM61 11h1v1h-1z"/>
<path fill="#aeaeae" d="M41 9h1v1h-1zM53 9h1v1h-1zM41 12h1v1h-1zM53 12h1v1h-1z"/>
<path fill="#b0b0b0" d="M42 9h1v1h-1zM52 9h1v1h-1zM42 12h1v1h-1zM52 12h1v1h-1z"/>
<path fill="#b2b2b2" d="M43 9h1v1h-1zM51 9h1v1h-1zM33 10h1v1h-1zM33 11h1v1h-1zM43 12h1v1h-1zM51 12h1v1h-1z"/>
<path fill="#b3b3b3" d="M44 9h1v1h-1zM50 9h1v1h-1zM60 10h1v1h-1zM60 11h1v1h-1zM44 12h1v1h-1zM50 12h1v1h-1z"/>
<path fill="#b4b4b4" d="M45 9h5v1h-5zM45 12h5v1h-5z"/>
<path fill="#b9b9b9" d="M59 10h1v1h-1zM59 11h1v1h-1z"/>
<path fill="#bababa" d="M34 10h1v1h-1zM34 11h1v1h-1z"/>
<path fill="#bebebe" d="M58 10h1v1h-1zM58 11h1v1h-1z"/>
<path fill="#c1c1c1" d="M35 10h1v1h-1zM35 11h1v1h-1z"/>
<path fill="#c4c4c4" d="M57 10h1v1h-1zM57 11h1v1h-1z"/>
<path fill="#c7c7c7" d="M36 10h1v1h-1zM36 11h1v1h-1z"/>
<path fill="#c9c9c9" d="M56 10h1v1h-1zM56 11h1v1h-1z"/>
<path fill="#cccccc" d="M37 10h1v1h-1zM37 11h1v1h-1z"/>
<path fill="#cdcdcd" d="M55 10h1v1h-1zM55 11h1v1h-1z"/>
<path fill="#d1d1d1" d="M38 10h1v1h-1zM38 11h1v1h-1z"/>
<path fill="#d2d2d2" d="M54 10h1v1h-1zM54 11h1v1h-1z"/>
<path fill="#d5d5d5" d="M53 10h1v1h-1zM53 11h1v1h-1z"/>
<path fill="#d6d6d6" d="M39 10h1v1h-1zM39 11h1v1h-1z"/>
<path fill="#d9d9d9" d="M40 10h1v1h-1zM52 10h1v1h-1zM40 11h1v1h-1zM52 11h1v1h-1z"/>
<path fill="#dcdcdc" d="M51 10h1v1h-1zM51 11h1v1h-1z"/>
<path fill="#dddddd" d="M41 10h1v1h-1zM41 11h1v1h-1z"/>
<path fill="#dedede" d="M50 10h1v1h-1zM50 11h1v1h-1z"/>
<path fill="#dfdfdf" d="M42 10h1v1h-1zM42 11h1v1h-1z"/>
<path fill="#e0e0e0" d="M49 10h1v1h-1zM49 11h1v1h-1z"/>
<path fill="#e1e1e1" d="M43 10h1v1h-1zM48 10h1v1h-1zM43 11h1v1h-1zM48 11h1v1h-1z"/>
<path fill="#e2e2e2" d="M44 10h1v1h-1zM47 10h1v1h-1zM44 11h1v1h-1zM47 11h1v1h-1z"/>
<path fill="#e3e3e3" d="M45 10h2v1h-2zM45 11h2v1h-2z"/>
</g>
</g>
<path d="M85.7 47.8 L84.7 47.9 L83.7 47.9 L82.7 47.9 L81.7 48.0 L80.7 48.0 L79.7 48.0 L78.7 48.0 L77.7 48.0 L76.7 48.0 L75.7 48.0 L74.7 48.0 L73.7 47.9 L72.7 47.9 L71.7 47.9 L70.9 47.8 L70.2 47.8 L69.2 47.7 L68.2 47.7 L67.2 47.6 L66.2 47.5 L65.2 47.4 L64.7 47.3 L63.7 47.2 L62.7 47.0 L61.7 46.9 L61.2 46.8 L60.2 46.5 L59.4 46.3 L58.7 46.1 L57.9 45.8 L57.2 45.5 L56.7 45.3 L56.0 44.8 L55.5 44.3 L55.2 43.8 L55.2 43.0 L55.7 42.4 L56.2 42.1 L56.8 41.8 L57.7 41.5 L58.3 41.3 L59.2 41.1 L60.2 40.9 L60.7 40.8 L61.7 40.6 L62.7 40.5 L63.7 40.4 L64.3 40.3 L65.2 40.2 L66.2 40.1 L67.2 40.0 L68.2 39.9 L69.2 39.8 L69.7 39.8 L70.7 39.7 L71.7 39.6 L72.7 39.5 L73.7 39.4 L74.2 39.3 L75.2 39.1 L76.2 38.9 L76.8 38.8 L77.7 38.5 L78.2 38.2 L78.7 37.4 L78.8 36.8 L78.7 36.3 L78.5 35.3 L78.3 34.3 L78.3 33.3 L78.4 32.3 L78.6 31.3 L78.7 30.5 L78.8 29.8 L78.6 29.3 L78.1 28.8 L77.2 28.4 L76.7 28.3 L75.7 28.0 L74.7 27.9 L74.2 27.8 L73.2 27.7 L72.2 27.6 L71.2 27.5 L70.2 27.4 L69.4 27.3 L68.7 27.2 L67.7 27.1 L66.7 27.0 L65.7 26.9 L64.7 26.8 L64.2 26.8 L63.2 26.7 L62.2 26.5 L61.2 26.4 L60.7 26.3 L59.7 26.1 L58.7 25.9 L58.2 25.8 L57.2 25.4 L56.7 25.3 L55.9 24.8 L55.3 24.3 L55.1 23.8 L55.2 23.1 L55.7 22.5 L56.2 22.1 L56.8 21.8 L57.7 21.4 L58.2 21.2 L59.2 20.8 L59.7 20.7 L60.7 20.5 L61.6 20.3 L62.2 20.2 L63.2 20.0 L64.2 19.8 L64.8 19.8 L65.7 19.7 L66.7 19.6 L67.7 19.5 L68.7 19.4 L69.7 19.3 L70.7 19.3 L71.2 19.3 L72.2 19.2 L73.2 19.2 L74.2 19.2 L75.2 19.1 L76.2 19.1 L77.2 19.1 L78.2 19.1 L79.2 19.1 L80.2 19.1 L81.2 19.1 L82.2 19.1 L83.2 19.2 L84.2 19.2 L85.2 19.2 L86.0 19.3 L86.7 19.3 L87.7 19.4 L88.7 19.5 L89.7 19.6 L90.7 19.7 L91.5 19.8 L92.2 19.9 L93.2 20.1 L93.9 20.3 L94.7 20.6 L95.3 20.8 L95.9 21.3 L96.2 22.3 L95.8 23.3 L95.6 23.8 L95.7 24.8 L96.2 25.2 L96.7 25.4 L97.7 25.6 L98.7 25.8 L99.2 25.8 L100.2 25.9 L101.2 26.0 L102.2 26.1 L103.2 26.1 L104.2 26.2 L105.2 26.2 L106.2 26.2 L107.2 26.3 L108.1 26.3 L108.7 26.3 L109.7 26.3 L110.7 26.3 L111.7 26.3 L112.7 26.4 L113.7 26.4 L114.7 26.4 L115.7 26.4 L116.7 26.4 L117.7 26.4 L118.7 26.4 L119.7 26.4 L120.7 26.4 L121.7 26.4 L122.7 26.4 L123.7 26.4 L124.7 26.4 L125.7 26.4 L126.7 26.4 L127.7 26.3 L128.7 26.3 L129.7 26.3 L130.7 26.3 L131.7 26.3 L132.7 26.3 L133.7 26.3 L134.7 26.3 L135.2 26.3 L136.2 26.3 L137.2 26.3 L138.2 26.3 L139.2 26.3 L140.2 26.2 L141.2 26.2 L142.2 26.2 L143.2 26.2 L144.2 26.2 L145.2 26.2 L146.2 26.2 L147.2 26.2 L148.2 26.2 L149.2 26.1 L150.2 26.1 L151.2 26.1 L152.2 26.1 L153.2 26.1 L154.2 26.1 L155.2 26.1 L156.2 26.1 L157.2 26.0 L158.2 26.0 L159.2 26.0 L160.2 26.0 L161.2 26.0 L162.2 26.0 L163.2 26.0 L164.2 26.0 L165.2 26.0 L166.2 26.0 L167.2 26.0 L168.2 26.0 L169.2 25.9 L170.2 25.9 L171.2 25.9 L172.2 25.9 L173.2 25.9 L174.2 25.9 L175.2 25.9 L176.2 26.0 L177.2 26.0 L178.2 26.0 L179.2 26.0 L180.2 26.0 L181.2 26.0 L182.2 26.0 L183.2 26.0 L184.2 26.1 L185.2 26.1 L186.2 26.1 L187.2 26.2 L188.2 26.2 L189.2 26.3 L189.7 26.3 L190.7 26.3 L191.7 26.4 L192.7 26.5 L193.7 26.5 L194.7 26.6 L195.7 26.7 L196.4 26.8 L197.2 26.9 L198.2 27.0 L199.2 27.1 L200.2 27.3 L200.7 27.3 L201.7 27.5 L202.7 27.7 L203.3 27.8 L204.2 28.0 L205.2 28.2 L205.7 28.3 L206.7 28.6 L207.4 28.8 L208.2 29.1 L208.9 29.3 L209.7 29.6 L210.2 29.8 L211.2 30.3 L211.7 30.6 L212.2 30.9 L212.8 31.3 L213.3 31.8 L213.7 32.4 L214.1 33.3 L214.0 34.3 L213.7 34.8 L213.2 35.4 L212.7 35.8 L212.1 36.3 L211.2 36.8 L210.7 37.0 L210.1 37.3 L209.2 37.7 L208.7 37.9 L207.7 38.2 L207.2 38.3 L206.2 38.6 L205.5 38.8 L204.7 39.0 L203.7 39.2 L203.2 39.3 L202.2 39.5 L201.2 39.7 L200.4 39.8 L199.7 39.9 L198.7 40.0 L197.7 40.2 L196.7 40.3 L196.2 40.3 L195.2 40.4 L194.2 40.5 L193.2 40.6 L192.2 40.7 L191.2 40.7 L190.2 40.8 L189.7 40.8 L188.7 40.9 L187.7 40.9 L186.7 40.9 L185.7 41.0 L184.7 41.0 L183.7 41.0 L182.7 41.1 L181.7 41.1 L180.7 41.1 L179.7 41.1 L178.7 41.1 L177.7 41.1 L176.7 41.1 L175.7 41.2 L174.7 41.2 L173.7 41.2 L172.7 41.2 L171.7 41.2 L170.7 41.2 L169.7 41.2 L168.7 41.2 L167.7 41.1 L166.7 41.1 L165.7 41.1 L164.7 41.1 L163.7 41.1 L162.7 41.1 L161.7 41.1 L160.7 41.1 L159.7 41.1 L158.7 41.1 L157.7 41.1 L156.7 41.0 L155.7 41.0 L154.7 41.0 L153.7 41.0 L152.7 41.0 L151.7 41.0 L150.7 41.0 L149.7 41.0 L148.7 41.0 L147.7 40.9 L146.7 40.9 L145.7 40.9 L144.7 40.9 L143.7 40.9 L142.7 40.9 L141.7 40.9 L140.7 40.9 L139.7 40.9 L138.7 40.8 L137.7 40.8 L136.7 40.8 L135.7 40.8 L135.2 40.8 L134.2 40.8 L133.2 40.8 L132.2 40.8 L131.2 40.8 L130.2 40.8 L129.2 40.8 L128.2 40.8 L127.2 40.8 L126.2 40.7 L125.2 40.7 L124.2 40.7 L123.2 40.7 L122.2 40.7 L121.2 40.7 L120.2 40.7 L119.2 40.7 L118.2 40.7 L117.2 40.7 L116.2 40.7 L115.2 40.7 L114.2 40.7 L113.2 40.7 L112.2 40.8 L111.2 40.8 L110.2 40.8 L109.2 40.8 L108.2 40.8 L107.7 40.8 L106.7 40.8 L105.7 40.9 L104.7 40.9 L103.7 40.9 L102.7 41.0 L101.7 41.1 L100.7 41.1 L99.7 41.2 L98.8 41.3 L98.2 41.4 L97.2 41.6 L96.5 41.8 L95.7 42.3 L95.5 42.8 L95.7 43.7 L96.0 44.3 L96.2 45.3 L95.7 45.9 L95.2 46.3 L94.2 46.7 L93.7 46.9 L92.7 47.1 L91.7 47.3 L91.2 47.3 L90.2 47.5 L89.2 47.6 L88.2 47.7 L87.2 47.7 L86.2 47.8 L85.7 47.8" fill="none" stroke="#101a10" stroke-width="1.3" stroke-linejoin="round"/>
<ellipse cx="48.7" cy="13.8" rx="11.9" ry="2.4" fill="#8cff94" stroke="#101a10" stroke-width="1.15"/>
<ellipse cx="48.7" cy="53.3" rx="11.9" ry="2.4" fill="#8cff94" stroke="#101a10" stroke-width="1.15"/>
</g>
<rect x="0.8" y="1.4" width="14.6" height="17.5" fill="#fff"/><text x="2.3" y="16" font-size="13.6" font-weight="700" fill="#2a2a2a">f)</text>
</g>
<g font-size="12.4" fill="#383838" filter="url(#soft)">
<text x="403.4" y="139.2" text-anchor="end">26</text>
<path d="M410.3 134.7h2M627.3 134.7h-2" stroke="#555" stroke-width="0.8"/>
<text x="403.4" y="166.0" text-anchor="end">22</text>
<path d="M410.3 161.5h2M627.3 161.5h-2" stroke="#555" stroke-width="0.8"/>
<text x="403.4" y="192.9" text-anchor="end">18</text>
<path d="M410.3 188.4h2M627.3 188.4h-2" stroke="#555" stroke-width="0.8"/>
<path d="M445.3 201.8v-2M445.3 134.7v2" stroke="#555" stroke-width="0.8"/>
<path d="M515.3 201.8v-2M515.3 134.7v2" stroke="#555" stroke-width="0.8"/>
<path d="M585.3 201.8v-2M585.3 134.7v2" stroke="#555" stroke-width="0.8"/>
<text transform="translate(377.3 168.2) rotate(-90)" text-anchor="middle"><tspan font-style="italic">x</tspan>, mm</text>
<text x="403.4" y="219.8" text-anchor="end">5</text>
<path d="M410.3 215.3h2M627.3 215.3h-2" stroke="#555" stroke-width="0.8"/>
<text x="403.4" y="253.2" text-anchor="end">0</text>
<path d="M410.3 248.7h2M627.3 248.7h-2" stroke="#555" stroke-width="0.8"/>
<text x="403.4" y="286.5" text-anchor="end">-5</text>
<path d="M410.3 282.0h2M627.3 282.0h-2" stroke="#555" stroke-width="0.8"/>
<path d="M445.3 282.0v-2M445.3 215.3v2" stroke="#555" stroke-width="0.8"/>
<path d="M515.3 282.0v-2M515.3 215.3v2" stroke="#555" stroke-width="0.8"/>
<path d="M585.3 282.0v-2M585.3 215.3v2" stroke="#555" stroke-width="0.8"/>
<text transform="translate(377.3 248.7) rotate(-90)" text-anchor="middle"><tspan font-style="italic">x</tspan>, mm</text>
<text x="403.4" y="300.1" text-anchor="end">5</text>
<path d="M410.3 295.6h2M627.3 295.6h-2" stroke="#555" stroke-width="0.8"/>
<text x="403.4" y="333.7" text-anchor="end">0</text>
<path d="M410.3 329.2h2M627.3 329.2h-2" stroke="#555" stroke-width="0.8"/>
<text x="403.4" y="367.3" text-anchor="end">-5</text>
<path d="M410.3 362.8h2M627.3 362.8h-2" stroke="#555" stroke-width="0.8"/>
<path d="M445.3 362.8v-2M445.3 295.6v2" stroke="#555" stroke-width="0.8"/>
<path d="M515.3 362.8v-2M515.3 295.6v2" stroke="#555" stroke-width="0.8"/>
<path d="M585.3 362.8v-2M585.3 295.6v2" stroke="#555" stroke-width="0.8"/>
<text transform="translate(377.3 329.2) rotate(-90)" text-anchor="middle"><tspan font-style="italic">x</tspan>, mm</text>
<text x="403.4" y="380.5" text-anchor="end">5</text>
<path d="M410.3 376.0h2M627.3 376.0h-2" stroke="#555" stroke-width="0.8"/>
<text x="403.4" y="414.1" text-anchor="end">0</text>
<path d="M410.3 409.6h2M627.3 409.6h-2" stroke="#555" stroke-width="0.8"/>
<text x="403.4" y="447.6" text-anchor="end">-5</text>
<path d="M410.3 443.1h2M627.3 443.1h-2" stroke="#555" stroke-width="0.8"/>
<path d="M445.3 443.1v-2M445.3 376.0v2" stroke="#555" stroke-width="0.8"/>
<path d="M515.3 443.1v-2M515.3 376.0v2" stroke="#555" stroke-width="0.8"/>
<path d="M585.3 443.1v-2M585.3 376.0v2" stroke="#555" stroke-width="0.8"/>
<text transform="translate(377.3 409.6) rotate(-90)" text-anchor="middle"><tspan font-style="italic">x</tspan>, mm</text>
<text x="445.3" y="461.2" text-anchor="middle">40</text>
<text x="515.3" y="461.2" text-anchor="middle">50</text>
<text x="585.3" y="461.2" text-anchor="middle">60</text>
<text x="518.5" y="477" text-anchor="middle"><tspan font-style="italic">z</tspan>, mm</text>
<linearGradient id="cbg" x1="0" y1="0" x2="0" y2="1"><stop offset="0.0000" stop-color="rgb(127,0,0)"/><stop offset="0.0312" stop-color="rgb(159,0,0)"/><stop offset="0.0625" stop-color="rgb(191,0,0)"/><stop offset="0.0938" stop-color="rgb(223,0,0)"/><stop offset="0.1250" stop-color="rgb(255,0,0)"/><stop offset="0.1562" stop-color="rgb(255,31,0)"/><stop offset="0.1875" stop-color="rgb(255,63,0)"/><stop offset="0.2188" stop-color="rgb(255,95,0)"/><stop offset="0.2500" stop-color="rgb(255,127,0)"/><stop offset="0.2812" stop-color="rgb(255,159,0)"/><stop offset="0.3125" stop-color="rgb(255,191,0)"/><stop offset="0.3438" stop-color="rgb(255,223,0)"/><stop offset="0.3750" stop-color="rgb(255,255,0)"/><stop offset="0.4062" stop-color="rgb(223,255,31)"/><stop offset="0.4375" stop-color="rgb(191,255,63)"/><stop offset="0.4688" stop-color="rgb(159,255,95)"/><stop offset="0.5000" stop-color="rgb(127,255,127)"/><stop offset="0.5312" stop-color="rgb(95,255,159)"/><stop offset="0.5625" stop-color="rgb(63,255,191)"/><stop offset="0.5938" stop-color="rgb(31,255,223)"/><stop offset="0.6250" stop-color="rgb(0,255,255)"/><stop offset="0.6562" stop-color="rgb(0,223,255)"/><stop offset="0.6875" stop-color="rgb(0,191,255)"/><stop offset="0.7188" stop-color="rgb(0,159,255)"/><stop offset="0.7500" stop-color="rgb(0,127,255)"/><stop offset="0.7812" stop-color="rgb(0,95,255)"/><stop offset="0.8125" stop-color="rgb(0,63,255)"/><stop offset="0.8438" stop-color="rgb(0,31,255)"/><stop offset="0.8750" stop-color="rgb(0,0,255)"/><stop offset="0.9062" stop-color="rgb(0,0,223)"/><stop offset="0.9375" stop-color="rgb(0,0,191)"/><stop offset="0.9688" stop-color="rgb(0,0,159)"/><stop offset="1.0000" stop-color="rgb(0,0,127)"/></linearGradient>
<rect x="641.7" y="147.3" width="6.8" height="295.5" fill="url(#cbg)"/>
<text x="655.6" y="447.4" font-size="11.8">0</text>
<path d="M648.5 442.8h-2" stroke="#555" stroke-width="0.8"/>
<text x="655.6" y="417.1" font-size="11.8">1</text>
<path d="M648.5 412.5h-2" stroke="#555" stroke-width="0.8"/>
<text x="655.6" y="386.8" font-size="11.8">2</text>
<path d="M648.5 382.2h-2" stroke="#555" stroke-width="0.8"/>
<text x="655.6" y="356.5" font-size="11.8">3</text>
<path d="M648.5 351.9h-2" stroke="#555" stroke-width="0.8"/>
<text x="655.6" y="326.2" font-size="11.8">4</text>
<path d="M648.5 321.6h-2" stroke="#555" stroke-width="0.8"/>
<text x="655.6" y="295.9" font-size="11.8">5</text>
<path d="M648.5 291.3h-2" stroke="#555" stroke-width="0.8"/>
<text x="655.6" y="265.6" font-size="11.8">6</text>
<path d="M648.5 261.0h-2" stroke="#555" stroke-width="0.8"/>
<text x="655.6" y="235.2" font-size="11.8">7</text>
<path d="M648.5 230.6h-2" stroke="#555" stroke-width="0.8"/>
<text x="655.6" y="204.9" font-size="11.8">8</text>
<path d="M648.5 200.3h-2" stroke="#555" stroke-width="0.8"/>
<text x="655.6" y="174.6" font-size="11.8">9</text>
<path d="M648.5 170.0h-2" stroke="#555" stroke-width="0.8"/>
<text x="636.5" y="142.5" font-size="11.5" font-weight="700" font-style="italic" fill="#222">p/p<tspan font-size="7.5" dy="3" font-style="normal" font-weight="400">0</tspan></text>
</g>
<defs>
<linearGradient id="bodyg" x1="0.1" y1="0" x2="0.3" y2="1"><stop offset="0" stop-color="#a89f94"/><stop offset="0.18" stop-color="#b9b0a6"/><stop offset="0.45" stop-color="#c6beb5"/><stop offset="0.7" stop-color="#cdc6bf"/><stop offset="0.9" stop-color="#b3aba3"/><stop offset="1" stop-color="#9f978f"/></linearGradient><filter id="soft3" x="-10%" y="-20%" width="120%" height="140%"><feGaussianBlur stdDeviation="1.6"/></filter>
<linearGradient id="topg" x1="0" y1="0" x2="0" y2="1"><stop offset="0" stop-color="#9c9388"/><stop offset="1" stop-color="#c3bab1"/></linearGradient>
<linearGradient id="faceg" x1="0" y1="0" x2="1" y2="0"><stop offset="0" stop-color="#a6e3f0"/><stop offset="0.35" stop-color="#6fc8e2"/><stop offset="1" stop-color="#2a93bd"/></linearGradient>
<filter id="soft" x="-5%" y="-5%" width="110%" height="110%"><feGaussianBlur stdDeviation="0.55"/></filter>
<clipPath id="pinkclip"><path d="M197 206C197 200 201 197 206 193.5C216 186 232 179 246 175C256 172 270 170.5 283 171.3C296 172 310 176 316.5 181C321 184.5 321.5 187 318 190.5C312 197 300 205.5 289.5 211.2C275 219 258 227 239.5 235.5C228 240.5 214 245.5 207.5 243.5C202.5 242 200.5 236 199.5 230C198 222 197 213 197 206Z"/></clipPath>
</defs>
<g filter="url(#soft)">
<path d="M227 122C226.5 134 228 146 233.2 157.5C236 163.5 241 168.5 249.6 176.3L252 180L217.2 198.5C208 197.8 196 193.5 180 184.8C165 182 150 180 134 185L131 171Z" fill="#d9e6de"/>
<path d="M105.2 151.6C104.8 147 105.2 143.5 106 140.7C106.8 137.5 108 135 109.9 133.6C114 130.8 118.5 128.5 123.2 126.6C129.5 124 135.7 121.8 141.9 119.6C148.2 117.6 154.4 116 160.7 114.9C164.5 114.2 168.2 113.6 171.7 113.8C174.8 114 177 115.8 179.5 115.6C182.6 115.3 185.6 114 188.9 113.3C193 112.3 197.2 111.5 201.4 111.3C205.6 111.2 209.8 111.5 213.9 112.5C217.5 113.4 220.7 114.6 223.3 116.4C225.3 117.9 226.6 119.8 227.2 121.9L131 153.2C129.8 160 129.6 166 130.2 171.2C130.8 176 131.8 180.5 133.3 184.8C131.5 185 130 184.4 128.6 183.7C125.5 182.5 122.6 181.2 120 179.8C116.7 177.7 114.2 175.1 112.2 172C110 168.8 108.5 165.8 107.5 162.6C106.3 159 105.6 155.4 105.2 151.6Z" fill="url(#bodyg)"/>
<clipPath id="bodyclip"><path d="M105.2 151.6C104.8 147 105.2 143.5 106 140.7C106.8 137.5 108 135 109.9 133.6C114 130.8 118.5 128.5 123.2 126.6C135 122 148 117.5 160.7 114.9C164.5 114.2 168.2 113.6 171.7 113.8C174.8 114 177 115.8 179.5 115.6C182.6 115.3 185.6 114 188.9 113.3C197 111.4 206 110.8 213.9 112.5C219 113.8 224.5 116.5 227.2 121.9L131 153.2L133.3 184.8C122 182 108 170 105.2 151.6Z"/></clipPath>
<g clip-path="url(#bodyclip)"><path d="M106 141C108 134 118 128 141.9 119.6C155 115.5 166 113.5 171.7 113.8C175 114 177 115.8 179.5 115.6C186 114.5 195 111.3 207 111.5C217 112 224 115.5 227.2 121.9" fill="none" stroke="#978d82" stroke-width="5" filter="url(#soft3)" opacity="0.8"/><path d="M104 150C105 165 115 180 134 186" fill="none" stroke="#8f877f" stroke-width="5" filter="url(#soft3)" opacity="0.7"/><path d="M112 150C130 141 160 131 226 121" fill="none" stroke="#d6cfc8" stroke-width="4" filter="url(#soft3)" opacity="0.7"/><path d="M105 141.5C109 136.5 112 135 114 134.3C120 131.2 125 129.2 130.5 127C140 123.3 147 121.3 154.2 119.6C163 117.6 171 116.4 178.2 116C186 114.8 193 113.6 200 113.5C207 113.5 214 114.5 221 117.5" fill="none" stroke="#ada292" stroke-width="5" opacity="0.75"/><path d="M106 143.4C110 139.4 113 137.9 114.3 137.5C120 134.4 125 132.4 130.7 130.1C140 126.4 147 124.4 154.4 122.7C163 120.7 171 119.4 178.2 119C186 117.9 193 116.6 200 116.4C207 116.4 214 117.4 221 120.3" fill="none" stroke="#9c9285" stroke-width="0.8" opacity="0.7"/><path d="M107 146.4C111 142.4 114 140.9 115.3 140.5C121 137.4 126 135.4 131.7 133.1C141 129.4 148 127.4 155.4 125.7C164 123.7 172 122.4 179.2 122C187 120.9 194 119.6 201 119.4C208 119.4 215 120.4 222 123" fill="none" stroke="#d8d2cb" stroke-width="2" opacity="0.5"/></g>
<path d="M131 153.2L227.2 122.4C226.4 129 225.6 136 224.9 142.6L180.8 155.3L130.2 171.4C129.5 165 129.9 159 131 153.2Z" fill="url(#faceg)" stroke="#2f86ad" stroke-width="0.7"/>
<path d="M130.2 171.6L153.7 178.2L133.3 184.6C131.6 180.5 130.7 176 130.2 171.6Z" fill="#8fdcec" stroke="#3a9cc0" stroke-width="0.6"/>
<path d="M134.8 152.0Q132.4 161.1 134.0 170.2" stroke="#1a6a90" stroke-width="0.6" fill="none" opacity="0.7"/>
<path d="M137.9 151.0Q135.5 160.2 137.0 169.3" stroke="#1a6a90" stroke-width="0.6" fill="none" opacity="0.7"/>
<path d="M141.0 150.0Q138.7 159.2 140.1 168.4" stroke="#1a6a90" stroke-width="0.6" fill="none" opacity="0.7"/>
<path d="M144.1 149.0Q141.9 158.2 143.1 167.5" stroke="#1a6a90" stroke-width="0.6" fill="none" opacity="0.7"/>
<path d="M147.2 148.0Q145.1 157.3 146.1 166.6" stroke="#1a6a90" stroke-width="0.6" fill="none" opacity="0.7"/>
<path d="M150.3 147.0Q148.2 156.3 149.2 165.6" stroke="#1a6a90" stroke-width="0.6" fill="none" opacity="0.7"/>
<path d="M153.4 146.0Q151.4 155.4 152.2 164.7" stroke="#1a6a90" stroke-width="0.6" fill="none" opacity="0.7"/>
<path d="M156.4 145.1Q154.6 154.4 155.2 163.8" stroke="#1a6a90" stroke-width="0.6" fill="none" opacity="0.7"/>
<path d="M159.5 144.1Q157.7 153.5 158.3 162.9" stroke="#1a6a90" stroke-width="0.6" fill="none" opacity="0.7"/>
<path d="M162.6 143.1Q160.9 152.5 161.3 161.9" stroke="#1a6a90" stroke-width="0.6" fill="none" opacity="0.7"/>
<path d="M165.7 142.1Q164.1 151.6 164.4 161.0" stroke="#1a6a90" stroke-width="0.6" fill="none" opacity="0.7"/>
<path d="M168.8 141.1Q167.3 150.6 167.4 160.1" stroke="#1a6a90" stroke-width="0.6" fill="none" opacity="0.7"/>
<path d="M171.9 140.1Q170.4 149.6 170.4 159.2" stroke="#1a6a90" stroke-width="0.6" fill="none" opacity="0.7"/>
<path d="M175.0 139.1Q173.6 148.7 173.5 158.2" stroke="#1a6a90" stroke-width="0.6" fill="none" opacity="0.7"/>
<path d="M178.0 138.1Q176.8 147.7 176.5 157.3" stroke="#1a6a90" stroke-width="0.6" fill="none" opacity="0.7"/>
<path d="M181.1 137.2Q180.0 146.8 179.5 156.4" stroke="#1a6a90" stroke-width="0.6" fill="none" opacity="0.7"/>
<path d="M184.2 136.2Q183.1 145.8 182.6 155.5" stroke="#1a6a90" stroke-width="0.6" fill="none" opacity="0.7"/>
<path d="M187.3 135.2Q186.3 144.9 185.6 154.5" stroke="#1a6a90" stroke-width="0.6" fill="none" opacity="0.7"/>
<path d="M190.4 134.2Q189.5 143.9 188.7 153.6" stroke="#1a6a90" stroke-width="0.6" fill="none" opacity="0.7"/>
<path d="M193.5 133.2Q192.7 143.0 191.7 152.7" stroke="#1a6a90" stroke-width="0.6" fill="none" opacity="0.7"/>
<path d="M196.5 132.2Q195.8 142.0 194.7 151.8" stroke="#1a6a90" stroke-width="0.6" fill="none" opacity="0.7"/>
<path d="M199.6 131.2Q199.0 141.0 197.8 150.9" stroke="#1a6a90" stroke-width="0.6" fill="none" opacity="0.7"/>
<path d="M202.7 130.2Q202.2 140.1 200.8 149.9" stroke="#1a6a90" stroke-width="0.6" fill="none" opacity="0.7"/>
<path d="M205.8 129.3Q205.4 139.1 203.8 149.0" stroke="#1a6a90" stroke-width="0.6" fill="none" opacity="0.7"/>
<path d="M208.9 128.3Q208.5 138.2 206.9 148.1" stroke="#1a6a90" stroke-width="0.6" fill="none" opacity="0.7"/>
<path d="M212.0 127.3Q211.7 137.2 209.9 147.2" stroke="#1a6a90" stroke-width="0.6" fill="none" opacity="0.7"/>
<path d="M215.1 126.3Q214.9 136.3 212.9 146.2" stroke="#1a6a90" stroke-width="0.6" fill="none" opacity="0.7"/>
<path d="M218.1 125.3Q218.1 135.3 216.0 145.3" stroke="#1a6a90" stroke-width="0.6" fill="none" opacity="0.7"/>
<path d="M221.2 124.3Q221.2 134.3 219.0 144.4" stroke="#1a6a90" stroke-width="0.6" fill="none" opacity="0.7"/>
<path d="M224.3 123.3Q224.4 133.4 222.1 143.5" stroke="#1a6a90" stroke-width="0.6" fill="none" opacity="0.7"/>
<path d="M130.5 157.8L226.6 127.5" stroke="#1a6a90" stroke-width="0.4" fill="none" opacity="0.45"/>
<path d="M130.0 162.3L226.1 132.5" stroke="#1a6a90" stroke-width="0.4" fill="none" opacity="0.45"/>
<path d="M130.1 166.8L225.5 137.6" stroke="#1a6a90" stroke-width="0.4" fill="none" opacity="0.45"/>
<path d="M133.0 172.4L135.7 183.8" stroke="#1d6f95" stroke-width="0.4" fill="none" opacity="0.6"/>
<path d="M136.7 173.4L138.9 182.8" stroke="#1d6f95" stroke-width="0.4" fill="none" opacity="0.6"/>
<path d="M140.4 174.5L142.1 181.8" stroke="#1d6f95" stroke-width="0.4" fill="none" opacity="0.6"/>
<path d="M144.0 175.5L145.3 180.8" stroke="#1d6f95" stroke-width="0.4" fill="none" opacity="0.6"/>
<path d="M147.7 176.5L148.5 179.8" stroke="#1d6f95" stroke-width="0.4" fill="none" opacity="0.6"/>
<path d="M151.3 177.5L151.7 178.8" stroke="#1d6f95" stroke-width="0.4" fill="none" opacity="0.6"/>
<path d="M130.2 171.5L180.8 155.2L224.9 142.8C225.6 147 226.2 149 227 152C228.3 156.5 229.5 160 231 164C232.5 167.5 234.5 172 237.1 179.5C239 185 241 190 242.6 194C232 193 220 193 209 192.4C199 190 190 187 180 181.5C166 179 150 176 130.2 171.5Z" fill="#fcf081"/>
<path d="M180.8 155.2L224.9 142.8C225.6 147 226.2 149 227 152C227.5 154 227.8 155 228 156L189 165.5Z" fill="#b7cf7a" opacity="0.55"/>
<path d="M182.6 181.5C186 174 194 165.5 204.5 162.6" fill="none" stroke="#a39a45" stroke-width="0.9"/>
<path d="M204.5 162.6C212 161 220 160.8 228 161" fill="none" stroke="#a39a45" stroke-width="0.9" stroke-dasharray="3 2"/>
<path d="M210.8 190.8C214 182 222 178 232.7 176.7" fill="none" stroke="#a39a45" stroke-width="0.9"/>
<path d="M130.2 171.5C150 176 166 179 180 181.5C190 187 199 190 209 192.4" fill="none" stroke="#9aa56a" stroke-width="0.6" stroke-dasharray="1.5 1.5"/>
<path d="M287 195.5L311.5 200C324 201.5 336 204 347.5 207.9C345.5 216 340 224 329.5 230.1Z" fill="#b9d6be"/>
<path d="M311.5 200C324 201.5 336 204 347.5 207.9" fill="none" stroke="#9ab3a0" stroke-width="0.6" stroke-dasharray="1.5 1.5"/>
<path d="M246 226L288.9 248.9C277 253.5 266 257.5 253.6 261.4C248.5 252 245.2 244 243.5 237.1C243 234 242.8 230 243 227Z" fill="#b9d6be"/>
<path d="M276.3 216.8C292 220.5 310 224.5 328 229.3C316 238 303 244.5 289.6 248.9C288 238 283 226 276.3 216.8Z" fill="#fcee6e"/>
<path d="M276.3 216.8C292 220.5 310 224.5 328 229.3M289.6 248.9C288 238 283 226 276.3 216.8" fill="none" stroke="#b8ad4c" stroke-width="0.6" stroke-dasharray="1.5 1.5"/>
<path d="M287.3 234.8C295 234 302 230 304.5 223" fill="none" stroke="#a39a45" stroke-width="0.9"/>
<path d="M197 206C197 200 201 197 206 193.5C216 186 232 179 246 175C256 172 270 170.5 283 171.3C296 172 310 176 316.5 181C321 184.5 321.5 187 318 190.5C312 197 300 205.5 289.5 211.2C275 219 258 227 239.5 235.5C228 240.5 214 245.5 207.5 243.5C202.5 242 200.5 236 199.5 230C198 222 197 213 197 206Z" fill="#f08a96" fill-opacity="0.68"/>
<g clip-path="url(#pinkclip)"><path d="M130.2 171.5L224.9 142.8C226 149 229 160 234 171.3C237 179 240 188 242.6 194C232 193 220 193 209 192.4C199 190 190 187 180 181.5Z" fill="#f79a5e" opacity="0.8"/></g>
<g stroke="#222" stroke-width="0.9" fill="none"><path d="M180.6 155.3V99"/><path d="M180.6 155.3L88 183.9"/><path d="M180.6 155.3L286 221.6" stroke="#5e5a20" opacity="0.5" stroke-width="0.8"/><path d="M286 221.6L311 237.3" stroke="#5e5a20" opacity="0.55" stroke-width="0.8"/><path d="M311 237.3L319.5 242.6"/></g>
<path d="M180.6 95l-2.2 5.8h4.4z" fill="#1a1a1a"/><path d="M83.2 185.3l6.2-4.2 1.3 4.3z" fill="#1a1a1a"/><path d="M323.3 245l-6.2-1.5 2.4-3.8z" fill="#1a1a1a"/>
<g transform="translate(269.2 187.3) rotate(24.7)"><ellipse rx="21.6" ry="2.8" fill="#2f79c6" stroke="#27508f" stroke-width="0.9"/><ellipse rx="17.3" ry="1.0" fill="none" stroke="#59b5e6" stroke-width="0.9" stroke-dasharray="1.2 1.6" opacity="0.9"/></g>
<g transform="translate(260.2 204.9) rotate(31.9)"><ellipse rx="20.7" ry="2.4" fill="#2f79c6" stroke="#27508f" stroke-width="0.9"/><ellipse rx="16.6" ry="0.9" fill="none" stroke="#59b5e6" stroke-width="0.9" stroke-dasharray="1.2 1.6" opacity="0.9"/></g>
<g transform="translate(231.1 213.1) rotate(49.2)"><ellipse rx="21.2" ry="2.8" fill="#2f79c6" stroke="#27508f" stroke-width="0.9"/><ellipse rx="17.0" ry="1.0" fill="none" stroke="#59b5e6" stroke-width="0.9" stroke-dasharray="1.2 1.6" opacity="0.9"/></g>
</g>
<g filter="url(#soft)" fill="#333"><text x="177" y="91.2" font-size="14.5" font-style="italic">y</text><text x="72.5" y="190.5" font-size="15" font-style="italic">x</text><text x="326" y="254" font-size="15" font-style="italic">z</text><text x="287" y="167.3" font-size="13.3" fill="#4a4a4a">target</text></g>
</svg>
</body></html>
